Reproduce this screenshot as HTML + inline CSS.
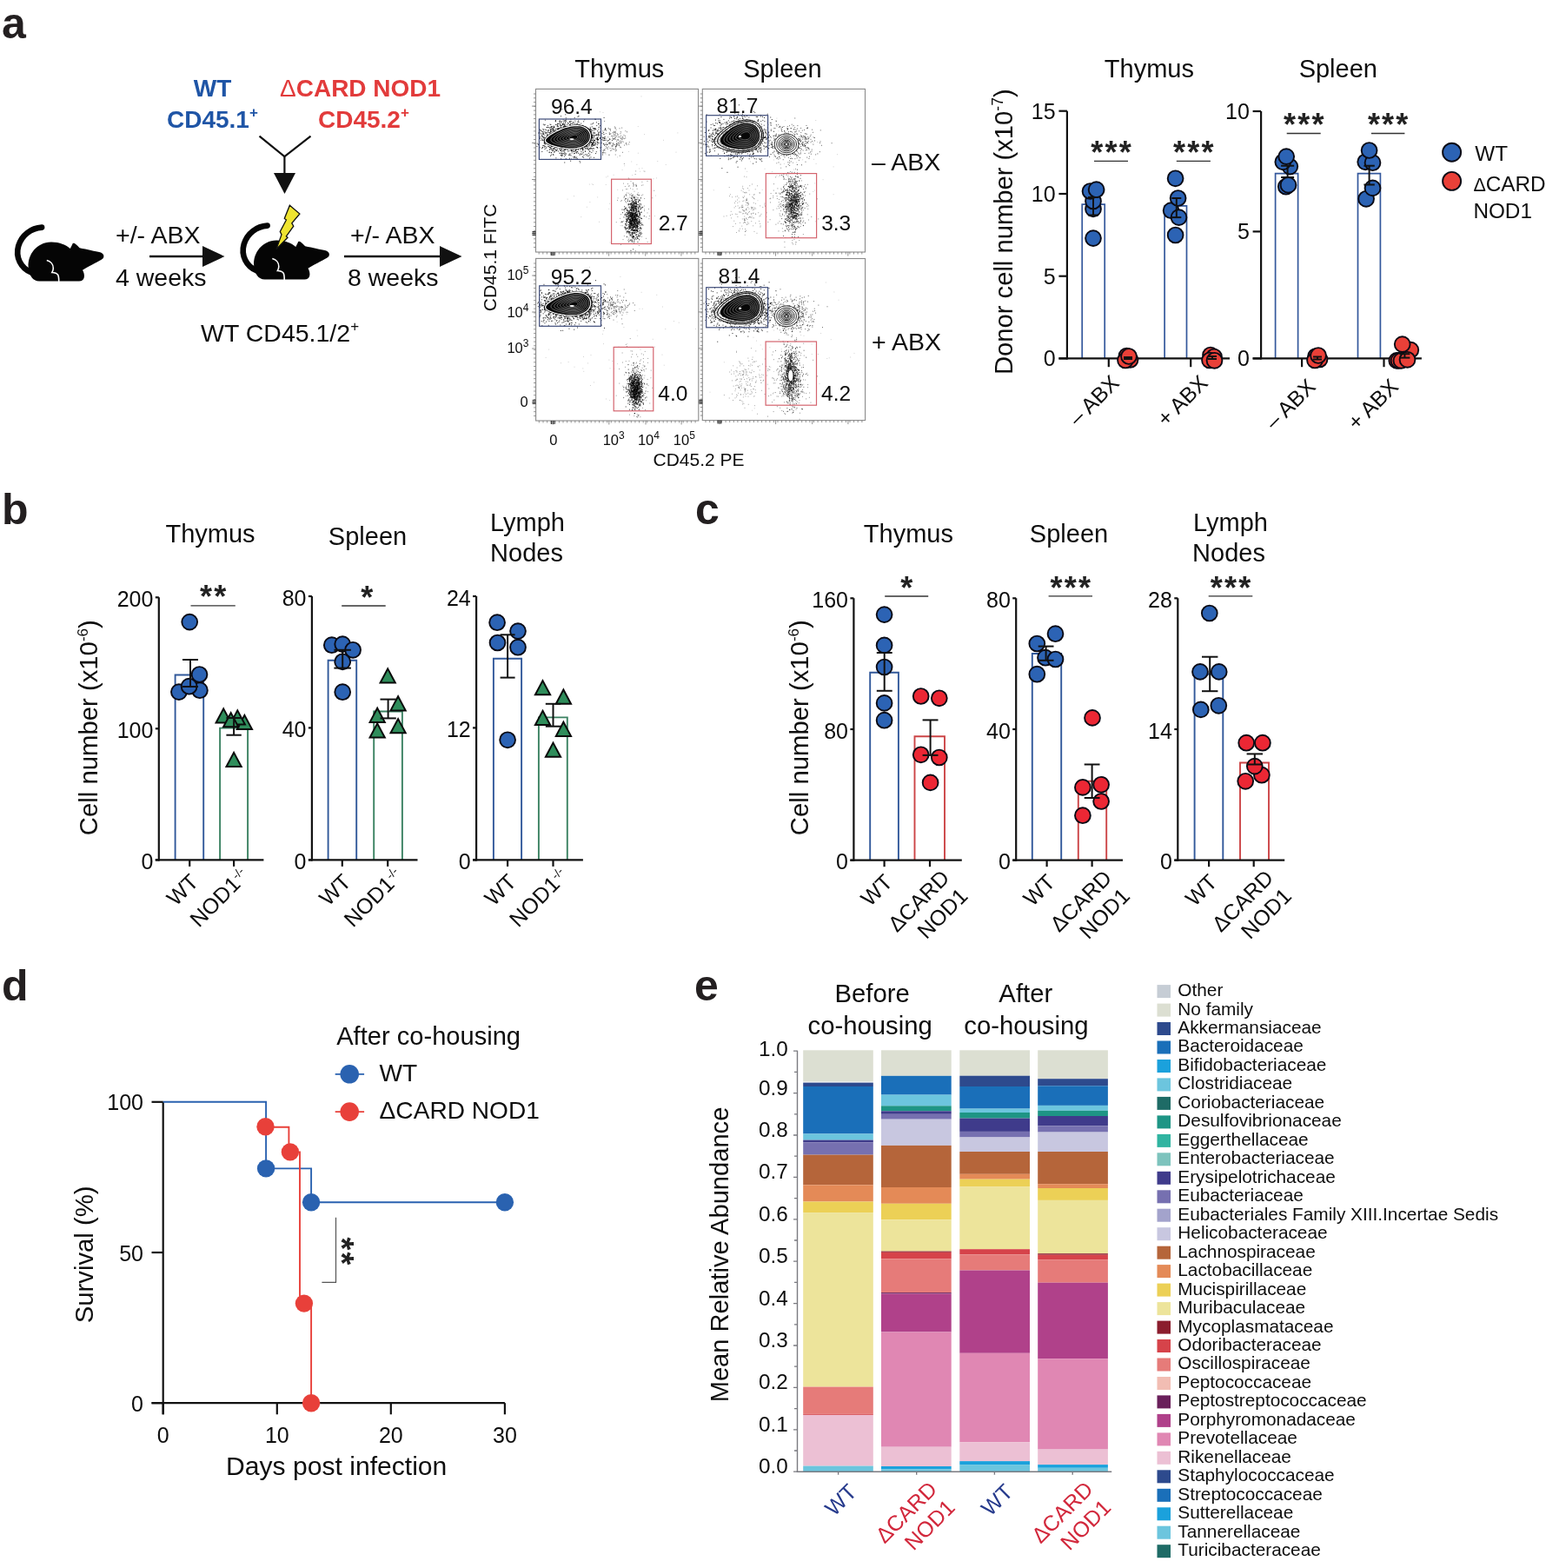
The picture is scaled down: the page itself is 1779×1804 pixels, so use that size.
<!DOCTYPE html>
<html><head><meta charset="utf-8"><title>Figure</title>
<style>
html,body{margin:0;padding:0;background:#fff;}
svg{display:block;}
text{font-family:'Liberation Sans', Arial, Helvetica, sans-serif;}
</style></head>
<body>
<svg width="1779" height="1804" viewBox="0 0 1779 1804">
<rect width="1779" height="1804" fill="#fff"/>
<g fill="#0d0d0d">
<text x="2" y="43.5" font-size="50" font-weight="bold" fill="#231f20">a</text>
<text x="244.5" y="111" font-size="28" text-anchor="middle" font-weight="bold" fill="#1f55a6">WT</text>
<text x="192" y="146.5" font-size="28" font-weight="bold" fill="#1f55a6">CD45.1<tspan font-size="17" dy="-12">+</tspan></text>
<text x="322" y="111" font-size="28" font-weight="bold" fill="#e23b3b"><tspan font-weight="normal">&#916;</tspan>CARD NOD1</text>
<text x="366" y="146.5" font-size="28" font-weight="bold" fill="#e23b3b">CD45.2<tspan font-size="17" dy="-12">+</tspan></text>
<polyline points="298.5,156.6 327.4,180.2 357.5,156.6" fill="none" stroke="#111" stroke-width="2.2"/>
<line x1="327.4" y1="179.5" x2="327.4" y2="202" stroke="#111" stroke-width="2.2"/>
<polygon points="315,199 340,199 327.5,223" fill="#111"/>
<g transform="translate(0 0)"><path d="M48.1,261.6 C36,262.5 25,270 21.2,283 C17.5,296 24,308.5 36,313.5" fill="none" stroke="#050505" stroke-width="6.6" stroke-linecap="round"/><path d="M32.6,307 C32,293 42,279 58.6,278.6 C68,278.4 76,282 80.8,285.9 L83.2,281.2 C83.6,279.6 85.2,279.4 86.6,280.4 C88.5,281.8 90,283.6 91.6,285.2 C100,287 110,289 115.2,290.3 C119,291.5 120.5,294.5 118.6,297.3 C114,301 105,304.5 95,310.8 C96.5,313 97.5,317 96.7,319.6 C96,322.5 94,323.6 91,323.6 L45,323.6 C38,323.4 33.2,317 32.6,307 Z" fill="#050505"/><path d="M53.8,299.4 C58,300.5 61.5,304 61.3,308.8 C61.2,311 60.5,312.5 59.9,313.5 C62,313.6 65,314 66.5,316 C67.8,318 67.7,321 67.7,324" fill="none" stroke="#fff" stroke-width="1.6"/></g>
<g transform="translate(259.5 -2)"><path d="M48.1,261.6 C36,262.5 25,270 21.2,283 C17.5,296 24,308.5 36,313.5" fill="none" stroke="#050505" stroke-width="6.6" stroke-linecap="round"/><path d="M32.6,307 C32,293 42,279 58.6,278.6 C68,278.4 76,282 80.8,285.9 L83.2,281.2 C83.6,279.6 85.2,279.4 86.6,280.4 C88.5,281.8 90,283.6 91.6,285.2 C100,287 110,289 115.2,290.3 C119,291.5 120.5,294.5 118.6,297.3 C114,301 105,304.5 95,310.8 C96.5,313 97.5,317 96.7,319.6 C96,322.5 94,323.6 91,323.6 L45,323.6 C38,323.4 33.2,317 32.6,307 Z" fill="#050505"/><path d="M53.8,299.4 C58,300.5 61.5,304 61.3,308.8 C61.2,311 60.5,312.5 59.9,313.5 C62,313.6 65,314 66.5,316 C67.8,318 67.7,321 67.7,324" fill="none" stroke="#fff" stroke-width="1.6"/></g>
<path d="M333.4,236.2 L344.9,246 L335.8,256.8 L337.8,260.1 L329.4,272 L331,273.3 L317.9,286.8 L324,269.9 L322.3,266.5 L329.4,253 L327.3,251.4 Z" fill="#efe431" stroke="#111" stroke-width="1.3" stroke-linejoin="miter"/>
<line x1="172" y1="295" x2="236" y2="295" stroke="#111" stroke-width="2.4"/>
<polygon points="233,283 258.5,295 233,307" fill="#111"/>
<line x1="396" y1="295" x2="509" y2="295" stroke="#111" stroke-width="2.4"/>
<polygon points="506,283 531.5,295 506,307" fill="#111"/>
<text x="133" y="280" font-size="28.5">+/- ABX</text>
<text x="133" y="328.5" font-size="28.5">4 weeks</text>
<text x="403" y="280" font-size="28.5">+/- ABX</text>
<text x="400" y="328.5" font-size="28.5">8 weeks</text>
<text x="231" y="392.5" font-size="28.5">WT CD45.1/2<tspan font-size="17" dy="-12">+</tspan></text>
<rect x="616.5" y="102.4" width="187" height="187.6" fill="none" stroke="#8a8a8a" stroke-width="1.1"/>
<path d="M616.5 122.1h-4.5M616.5 164.3h-4.5M616.5 206.5h-4.5M616.5 268.8h-4.5M616.5 108h-2.5M616.5 112.8h-2.5M616.5 117.6h-2.5M616.5 122.3h-2.5M616.5 127.1h-2.5M616.5 131.9h-2.5M616.5 136.6h-2.5M616.5 141.4h-2.5M616.5 146.2h-2.5M616.5 150.9h-2.5M616.5 155.7h-2.5M616.5 160.5h-2.5M616.5 165.2h-2.5M616.5 170h-2.5M616.5 174.8h-2.5M616.5 179.5h-2.5M616.5 184.3h-2.5M616.5 189.1h-2.5M616.5 193.8h-2.5M616.5 198.6h-2.5M616.5 203.3h-2.5M616.5 208.1h-2.5M616.5 212.9h-2.5M616.5 217.6h-2.5M616.5 222.4h-2.5M616.5 227.2h-2.5M616.5 231.9h-2.5M616.5 236.7h-2.5M616.5 241.5h-2.5M616.5 246.2h-2.5M616.5 251h-2.5M616.5 255.8h-2.5M616.5 260.5h-2.5M616.5 265.3h-2.5M616.5 270.1h-2.5M616.5 274.8h-2.5M616.5 279.6h-2.5M616.5 284.4h-2.5M636.1 290v4.5M700.6 290v4.5M742.7 290v4.5M783.9 290v4.5M620.2 290v2.5M624.8 290v2.5M629.4 290v2.5M634 290v2.5M638.7 290v2.5M643.3 290v2.5M647.9 290v2.5M652.5 290v2.5M657.1 290v2.5M661.7 290v2.5M666.3 290v2.5M670.9 290v2.5M675.5 290v2.5M680.1 290v2.5M684.7 290v2.5M689.3 290v2.5M693.9 290v2.5M698.5 290v2.5M703.1 290v2.5M707.7 290v2.5M712.3 290v2.5M716.9 290v2.5M721.5 290v2.5M726.1 290v2.5M730.7 290v2.5M735.3 290v2.5M739.9 290v2.5M744.5 290v2.5M749.1 290v2.5M753.7 290v2.5M758.3 290v2.5M762.9 290v2.5M767.5 290v2.5M772.1 290v2.5M776.7 290v2.5M781.3 290v2.5M786 290v2.5M790.6 290v2.5M795.2 290v2.5M799.8 290v2.5" stroke="#777" stroke-width="0.8" fill="none"/>
<path d="M616.5 268.4h-4M616.5 266.6h-4M616.5 270.3h-4" stroke="#333" stroke-width="1.2"/>
<path d="M636.1 290v4M638 290v4M634.3 290v4" stroke="#333" stroke-width="1.2"/>
<path d="M658 163.7h0.9m-6.2-10.1h0.9m-4.3-0.8h0.9m8.9 19.8h0.9m-11.4-16.7h0.9m17.8 8.3h0.9m-8.2-10.9h0.9m-3.5 13.8h0.9m-25.9-9.8h0.9m-11.5-7.1h0.9m0.3 9h0.9m10 4.3h0.9m26.1-3.9h0.9m-4.8 2.6h0.9m-29-5.1h0.9m9.6-2.8h0.9m37.8 0h0.9m-21.7 14.4h0.9m-11.3-8.4h0.9m12.2 1.4h0.9m-26.2 0.1h0.9m48.2-13.8h0.9m-10.4 14.2h0.9m-29.4 16h0.9m25.7-27.2h0.9m-13.9 15.1h0.9m-5.9 0.9h0.9m1.4-0.1h0.9m27.7-11.4h0.9m-24.4 1.8h0.9m-2.3-6.2h0.9m-14.4 8.4h0.9m27.2 11.4h0.9m-43.1-16.5h0.9m36.5-10.1h0.9m-22 16.1h0.9m31.8 6.7h0.9m-31-9h0.9m0.6 16h0.9m-4.3-15.5h0.9m13.9 1.6h0.9m-11.3-8.5h0.9m2.6 5.7h0.9m21.5 9.4h0.9m-23.5 0.1h0.9m-6.9 3.2h0.9m5.4-3.9h0.9m-25.3-2.1h0.9m-8.4-20.2h0.9m25.4 9.7h0.9m8 26.7h0.9m-19.9-24.4h0.9m18.9 9.5h0.9m-8.2-6h0.9m15.8 6.2h0.9m-33.9-5.1h0.9m19.4-8.3h0.9m3.4 1.7h0.9m12.6 8.9h0.9m-17.7-6.6h0.9m-4.8-12h0.9m-20.1 20.1h0.9m-19.9 4.1h0.9m6.4-0.8h0.9m16.2 0.2h0.9m17.6-19.7h0.9m20.4 25.4h0.9m-25.9-14.6h0.9m-2.7-6h0.9m23 3.7h0.9m-22.7-2.1h0.9m-11.8-4.2h0.9m34.8 9.6h0.9m-6.4 1.4h0.9m-32.4-2.9h0.9m1.6 2.9h0.9m2.6-2.6h0.9m-19.9-4.4h0.9m56.7 1.2h0.9m-52.4 8.6h0.9m45.9-15.3h0.9m-31.6 7h0.9m-30.4 11.6h0.9m32.1-5.6h0.9m-14.7 3.3h0.9m3.1-5.1h0.9m-11.7-9.1h0.9m45.5 6h0.9m-20.7 4h0.9m-14.8-4h0.9m19.4 1.7h0.9m-15.7 2.8h0.9m24.3 5.6h0.9m-16-10.6h0.9m-34.4 12.9h0.9m43.7-9.3h0.9m-9 7.8h0.9m4.6 1.2h0.9m-25.3 5.1h0.9m-15.9-5.6h0.9m32.1 0.1h0.9m25.5 5.2h0.9m-58.4-27h0.9m36.4 5.8h0.9m-16.7 15.7h0.9m-31.9-25h0.9m35.3 18.3h0.9m-10.5-0.1h0.9m-12.6-13.2h0.9m12.3 4.6h0.9m-29 12.6h0.9m29.2-0.8h0.9m-18.5-9.1h0.9m-1.1-1.9h0.9m21.8 0.8h0.9m2.1 9.6h0.9m30.8-14.7h0.9m-22.5 11h0.9m-18-11.5h0.9m-9.4 18.6h0.9m6.3-5.6h0.9m-4.9 9.1h0.9m4.2-28.5h0.9m-13.6 2h0.9m37.6 17.1h0.9m-48.5-8.4h0.9m42.8 9.3h0.9m-21.4-1.8h0.9m-1.1 7.3h0.9m8.8-5h0.9m-31.2 2.5h0.9m5.9 5h0.9m-12-10.5h0.9m23.1-10.1h0.9m32 23.7h0.9m-42.5-5.8h0.9m15.1-28.8h0.9m-3.3 21.7h0.9m-4.1-8.7h0.9m-7.6 7.7h0.9m26.8 4.3h0.9m-23.6 10.2h0.9m-11.3-16.3h0.9m-24.9 16.6h0.9m52-5.5h0.9m-6.5-6.9h0.9m-9.6-3h0.9m-8.8 2.6h0.9m31.7 4.2h0.9m-30.8-9.6h0.9m-11.8 18.5h0.9m20.8-13h0.9m-17.1-10h0.9m4.4 16.8h0.9m-7.1-9.3h0.9m2.4 2.8h0.9m-27-2.9h0.9m13.1 9.5h0.9m0.7-2.6h0.9m42.7-7.6h0.9m-41.3 4.3h0.9m10.5-10h0.9m7.9 25.5h0.9m-14.6-18.8h0.9m-15.8 4.4h0.9m-4.7-12.1h0.9m47.1 1.7h0.9m-4.7 20.7h0.9m-16.5-8.3h0.9m31.2-6.4h0.9m-49.2-9.8h0.9m11.1 24.1h0.9m16.6-20.6h0.9m-35.4 3.7h0.9m20.9 2.6h0.9m-2.4 4.2h0.9m-10.6-2.8h0.9m8.7-0.4h0.9m4.7 16.6h0.9m0.8-15.4h0.9m-44.2 2.8h0.9m-5.8-15.3h0.9m52.3 18h0.9m-20-20.5h0.9m-5.1 8.7h0.9m18.2 25h0.9m-8.8-25.8h0.9m-27.3 6.1h0.9m18-9.3h0.9m4.7 0h0.9m18 18.8h0.9m-1.4-13h0.9m-11.8 2.9h0.9m-18-1.8h0.9m-18.2-9.4h0.9m38.8 10.7h0.9m-11.8 10.1h0.9m-38-15.2h0.9m35.4 10h0.9m-11.4 5.4h0.9m10.2-19h0.9m-22.5 17.1h0.9m25.6-22.9h0.9m15.9 21.2h0.9m-1-8.4h0.9m-32.1-6.3h0.9m53 8.1h0.9m-19-4h0.9m-27.9-8.7h0.9m-11.3 22.6h0.9m-17.4 0.7h0.9m29.3-18h0.9m-16.9 5h0.9m7.7-0.7h0.9m-15.7 2h0.9m-4.7-8.4h0.9m17.7 18.5h0.9m-29-7.5h0.9m15.8-8.3h0.9m27.7 3.9h0.9m11.3-2.2h0.9m-22 4.7h0.9m-22.6 6.9h0.9m10.5 0.1h0.9m1.2-14.3h0.9m-2 9.6h0.9m19.3-8.1h0.9m-19.9-6.9h0.9m12.2 5.4h0.9m-47.6 8.7h0.9m54.5-12.5h0.9m-42.6 6.7h0.9m-1.7 9.5h0.9m5.2-9.3h0.9m25.5-0.3h0.9m-3.7-1.9h0.9m-32.2-7.3h0.9m57.5 12.9h0.9m-31.6 2.4h0.9m-2.5 0.7h0.9m32.3-9.2h0.9m-66.7 0.2h0.9m3.3 14.9h0.9m40-14.5h0.9m-42.9 5.2h0.9m52-21h0.9m-17.3 14.9h0.9m8.8-0.1h0.9m-26.1-3.6h0.9m-14 24.6h0.9m33.2-15.2h0.9m-33-12.7h0.9m8.2 15.8h0.9m5-0.5h0.9m-20.7 0.2h0.9m19.7 11.6h0.9m35.3-12.2h0.9m-50.9 0.6h0.9m2.1-5.7h0.9m9.5-2.6h0.9m11.8 8h0.9m-7.7-0.7h0.9m-19.5-6.5h0.9m8.4 3.4h0.9m8.1 4.7h0.9m-31.2 0.6h0.9m-0.6-5.8h0.9m19.1-12.4h0.9m6.4 18.9h0.9m-5.7-4.9h0.9m-4.9-4.7h0.9m1 3.6h0.9m6-5.5h0.9m1.8 11.4h0.9m-8-4.9h0.9m12.2-10.4h0.9m-2.6 16.2h0.9m-4.3 1.2h0.9m-18.7-5.5h0.9m23.7 5.9h0.9m-9.1-16.6h0.9m5.4 22.8h0.9m8-7.9h0.9m-49.6 6h0.9m25.9-29.5h0.9m9 8.8h0.9m-32.7 7.3h0.9m47.9 2.2h0.9m-19.9 18.1h0.9m24.2-15.8h0.9m-35.7-9.8h0.9m-9.5 14.3h0.9m19.8-2.7h0.9m10.5-7.5h0.9m-20.9 12.8h0.9m11.2 2.9h0.9m-4.4-11.7h0.9m-1.6-5.9h0.9m-38.9 13.4h0.9m29.2-2.3h0.9m-32.1-5.7h0.9m20-4.2h0.9m27.5 10.5h0.9m-29.4-3.3h0.9m24.9-23.4h0.9m-17.6 28.1h0.9m14.4 9.9h0.9m7.7-11.8h0.9m-16.7 4h0.9m-16.9-7h0.9m26.6 16.9h0.9m-21.2-17h0.9m5.9 11.8h0.9m-5.2 1.1h0.9m-18.7-14.1h0.9m13.7 8.3h0.9m22.7-19.5h0.9m-38.1 15.7h0.9m3.9-15.8h0.9m31.4 17.1h0.9m-11.3-8.2h0.9m9.3 2h0.9m0.4-5.7h0.9m-38 9.4h0.9m2 4h0.9m17.4-13.5h0.9m-4.5 4.8h0.9m15.2-2.4h0.9m-26.7 15.7h0.9m50 6.7h0.9m-42.2-15.1h0.9m27-3h0.9m-48.6 2.1h0.9m26.2-8h0.9m-40.7-5.2h0.9m43 5.8h0.9m-16.2 8.2h0.9m13.5-4.6h0.9m-3.2-4.8h0.9m-17.2-1.1h0.9m27.5 8.5h0.9m-36.5-2.8h0.9m8.9 9h0.9m-27-14.8h0.9m22.3 30.3h0.9m24.4-22.4h0.9m-5.5 18.4h0.9m-18.9-20.6h0.9m26.6 7.3h0.9m-11.2-8.5h0.9m22.9 18.8h0.9m-26.7-8.7h0.9m-50.2-0.4h0.9m34-1.7h0.9m15.7-6.6h0.9m-46 6h0.9m17.2-5.9h0.9m1.7-0.1h0.9m15.4 12.3h0.9m31.9-9.2h0.9m-72.8-7.8h0.9m10.4 3.3h0.9m23.6-12.7h0.9m4.1 4.2h0.9m-1.8 11.9h0.9m-12.5 0.3h0.9m-5.2-4.6h0.9m-22.6 4.9h0.9m66.1 17.1h0.9m-10.8-10.8h0.9m-38.9 6.3h0.9m10.9-12.9h0.9m-5.4 1.4h0.9m-3.6-1.5h0.9m-13.3-2.5h0.9m63.1 2.6h0.9m-48.8 5.1h0.9m17.1-14h0.9m-18.3 17.3h0.9m8.2-6.8h0.9m23.5-6.8h0.9m-28.9 1.4h0.9m25.9-12.2h0.9m-42 12.1h0.9m24.5 9.7h0.9m13-18.6h0.9m-13.2 10.9h0.9m-27.8 7.1h0.9m-5.7-22.3h0.9m9.5 5h0.9m-6.2 15.9h0.9m17.4 10.3h0.9m-10.6-26.5h0.9m-11.5 5.2h0.9m-9.7 11.5h0.9m10-20.5h0.9m24.6 15.9h0.9m-7.4 1.8h0.9m4.4-0.6h0.9m10.5 3.3h0.9m-16.9-0.1h0.9m-36-4.9h0.9m21.8 3.2h0.9m-21.8 12.1h0.9m26.9-24.2h0.9m-35.3 7.9h0.9m29.8-3.7h0.9m2.6 0.7h0.9m7.8-0.8h0.9m-12.1 14.5h0.9m48.7-16.9h0.9m-58.6 1.5h0.9m22.9-2.7h0.9m-25.1 9.5h0.9m-10.2-7.8h0.9m8.6-9.8h0.9m-19.3 14.4h0.9m29.4 1.9h0.9m-37.5-2.3h0.9m48 8.6h0.9m-17.5-12.2h0.9m12.5 2.6h0.9m-35.1-1.9h0.9m48.9 8.7h0.9m-6.4-6h0.9m-5.1-1h0.9m-21.7 26.2h0.9m16.6-25.4h0.9m-17.1 7.1h0.9m23.7-7h0.9m-56.9 1.8h0.9m32.4 3.3h0.9m23.9 1.8h0.9m-10.5-12.1h0.9m0.1 27.2h0.9m-2.7-15.6h0.9m-12.6 13h0.9m-21.5-16.1h0.9m25.5 7.2h0.9m-18-3.7h0.9m2.2-1.6h0.9m1.8-10.7h0.9m1.2 17.2h0.9m-18.8-9.5h0.9m30.1-7.1h0.9m-10.1 0.1h0.9m17.2 28.7h0.9m16-21.6h0.9m-25.3 2.9h0.9m-13 12.2h0.9m-27.9-4.2h0.9m23.2 3h0.9m3.6-17.7h0.9m0.8 12h0.9m-5.5-2.2h0.9m-11.5-22.2h0.9m26.2 24h0.9m-15.2-5.3h0.9m15.9-4.5h0.9m-34 2.3h0.9m35.1-10.2h0.9m-0.8 6.4h0.9m-44.5 16.1h0.9m18.2-21.8h0.9m-5.9 19h0.9m28.6-11.5h0.9m-15.8 9.7h0.9m-20.9-3.1h0.9m10.7-7.6h0.9m-9.6 5.2h0.9m9-5.4h0.9m-9.5 14.3h0.9m11.2-2h0.9m17.9-2.5h0.9m19.4-12h0.9m-28.7 4.3h0.9m19 17.2h0.9m-73.3-22.7h0.9m48.9 14.9h0.9m0.4-7.3h0.9m-6.2 6.2h0.9m-11 3.1h0.9m-19.1-0.6h0.9m14.4-15.7h0.9m10.6-0.1h0.9m-25.4-5.6h0.9m15.9 17.5h0.9m19.1-5.4h0.9m-0.4 1.4h0.9m-22.6 4.7h0.9m21-7.8h0.9m-25.7 1.5h0.9m5.3-6.3h0.9m17.1 4.3h0.9m-11.7-3.6h0.9m-2.8 10.3h0.9m-15.7 13.9h0.9m14.1-2.1h0.9m10.3-20.7h0.9m-26.4 9.3h0.9m7.5-3.3h0.9m-7.5-15.8h0.9m0.3-3.5h0.9m10.4 12.7h0.9m-21.5 4.3h0.9m17.8-10.3h0.9m-39.3 3.1h0.9m-6.4 0.9h0.9m68.1-0.8h0.9m-18.8-2.7h0.9m-7.6 9h0.9m-7.7 7.5h0.9m33.6-3.1h0.9m-31.9-10h0.9m7.8 6.2h0.9m3.9 1.7h0.9m16.3-16.5h0.9m-39.6 24.4h0.9m-1.9-14.2h0.9m0.7-5h0.9m6.4 32.4h0.9m18.6-30.1h0.9m-39.2 6h0.9m34.7-3.6h0.9m-33.1 14.5h0.9m28.7-10.7h0.9m-38.6-10h0.9m7.1-5.8h0.9m26.6 13.6h0.9m-6 21.3h0.9m12.2-25.7h0.9m-6.6 19.6h0.9m-31.6-17.9h0.9m11.2-5.5h0.9m29.1-6.8h0.9m-49.9 18.1h0.9m15.8 3.7h0.9m8.6-3.2h0.9m15.6-16.4h0.9m-22.6 12.1h0.9m1.7 8h0.9m-20.8-7.3h0.9m31.5 8.4h0.9m-28.9 14.3h0.9m55.9-29.7h0.9m-39 33.7h0.9m8.2-19.4h0.9m-19.7-6.5h0.9m-1-0.1h0.9m17.3 1.3h0.9m-23.4-6.8h0.9m6.5 2.6h0.9m-3.4 16.5h0.9m9.5-4.6h0.9m-1.1-3.8h0.9m-10.1-3.1h0.9m16-6.6h0.9m10.1 9.5h0.9m-40.6-4.5h0.9m0.5 5.6h0.9m-1.7 8.3h0.9m-2.1-29h0.9m0.1 2.2h0.9m12.2 26.1h0.9m12.2-20.4h0.9m-27.7 26.5h0.9m19.6-15.1h0.9m13.1 20.8h0.9m3.7-19.6h0.9m-18.8 4h0.9m-19.3-14.2h0.9m11.7 0.9h0.9m-3 8.9h0.9m44.7-8h0.9m-47.7 5.8h0.9m9.8 10.3h0.9m-18.6-15.9h0.9m-22.7-0.9h0.9m40.4 8.3h0.9m-30.3-3.6h0.9m18.9 7.5h0.9m-12.7-6.4h0.9m-24.2-7.7h0.9m64.4-8.8h0.9m-38.1 20.5h0.9m-1.6-8.8h0.9m5.1 6.9h0.9m-1.3-16h0.9m-2.2 8.7h0.9m-8.5 9.2h0.9m21.7 5.7h0.9m-22.5 0.3h0.9m30.9 1.8h0.9m3.2-10.9h0.9m-30.7 8.2h0.9m-23.5-5.2h0.9m15-4.9h0.9m-23.9-4.5h0.9m31.8 15.2h0.9m18.3-8.3h0.9m-23.3-6.4h0.9m10.3 5h0.9m3 17h0.9m-13.1-27.6h0.9m-16.6 0.3h0.9m-7.3 23.5h0.9m26.2-24h0.9m7.2 23.6h0.9m-20.2-16.4h0.9m-0.5 8.1h0.9m17.7 7.6h0.9m10 0.1h0.9m1.9-4.5h0.9m-55.8-6.7h0.9m34.1-2.2h0.9m10.5 0.2h0.9m-35.8 15.4h0.9m29.3-10.4h0.9m4.1 7.1h0.9m-12.1-29.9h0.9m-20.2 17h0.9m-6.7 5.6h0.9m40.4-5.8h0.9m-45.1 21.3h0.9m12.1-27.7h0.9m12.2 14.1h0.9m-18.8 3.1h0.9m3.2-14.5h0.9m11.7 14.4h0.9m-16.3-3.8h0.9m9.4 21.2h0.9m-12.6-12.2h0.9m11.6-12.9h0.9m13.8 8.7h0.9m9.4-4.8h0.9m-36.4-7.4h0.9m20.2 9.5h0.9m16-1.3h0.9m-7.3 9.3h0.9m-17.9-25.5h0.9m-26.5 0.4h0.9m51.8 5h0.9m-7.7 12.2h0.9m8.2 3.5h0.9m-35.4-10.2h0.9m2.7 3.2h0.9m-12.6-1.8h0.9m39.7-14.2h0.9m-26.5 6.8h0.9m-2.3 14.8h0.9m-5.5-0.5h0.9m-30.1 2.8h0.9m17.9-4.1h0.9m14-27.3h0.9m-18.7 23.9h0.9m43 0.5h0.9m-25.6-14.4h0.9m21.4 27.4h0.9m-27.5-17.3h0.9m-32.2 9.4h0.9m81.2-1.4h0.9m-28.2-1.5h0.9m-43.7 6.8h0.9m-5.6-13.2h0.9m27.8 9.3h0.9m1.8-4.2h0.9m-23.3-14.3h0.9m14.7 5h0.9m-26.9-4.8h0.9m14.6-4.9h0.9m-17.2 1.8h0.9m28.2 17.4h0.9m33.8-16.2h0.9m-52 20.5h0.9m7.9-10.6h0.9m35.7-0.1h0.9m-55.3-8.3h0.9m27.4 13.8h0.9m-33.3-11h0.9m35.3 13.3h0.9m-23.3 0.4h0.9m22.2-20.5h0.9m-17.7 18.7h0.9m-5.8-21.7h0.9m4.6 24.6h0.9m34.5-25h0.9m18.7 9h0.9m-32.4 20.1h0.9m-0.4-9.2h0.9m-41.6 4h0.9m7.6-26.7h0.9m66.4 27.4h0.9m-20.1-13.7h0.9m-7.6 21.2h0.9m0.8-13.7h0.9m-53.3-1.3h0.9m23.7-6.9h0.9m-5.8 7.5h0.9m38.9 11.9h0.9m-38.4-0.7h0.9" stroke="#000" stroke-width="0.9" fill="none"/>
<path d="M643.1 155.7h0.9m24.9-8.2h0.9m-19.1-0.7h0.9m5.2 26.6h0.9m-14.2-12.7h0.9m-3.1-12.3h0.9m-6.1 23.4h0.9m54-8.8h0.9m-47.8 2h0.9m4.9 0.9h0.9m8.6-4.7h0.9m3.9-7.7h0.9m-16.3-10.3h0.9m-1.5 2.7h0.9m3.7 4.2h0.9m2.8 12.7h0.9m-24.1-11.4h0.9m6.4 14h0.9m39.5 1h0.9m-32.3 5.5h0.9m-18.6 0.3h0.9m12.2-38.5h0.9m49.5 39.2h0.9m-57.1-12.7h0.9m11.6-0.6h0.9m-20.2-7h0.9m28.8 8.1h0.9m10.3-1.3h0.9m16.6-7.1h0.9m-32.8-10.8h0.9m-23.9 29.1h0.9m3.8-7.1h0.9m12.5-14.2h0.9m-5.2 4.8h0.9m-3.1 11.4h0.9m16.5-12h0.9m-24.7 7.7h0.9m11.4 6.7h0.9m41.2-1.6h0.9m-42-9.1h0.9m-13.4-6.7h0.9m-3.1 4.6h0.9m7.9 10.3h0.9m-0.5-8.5h0.9m-13.4 16.6h0.9m25.4 1.3h0.9m3.5-2.7h0.9m-16.8-7h0.9m44.1-17.4h0.9m-24.2 26.3h0.9m-12.4-8.4h0.9m12.2-12.9h0.9m-14.1-2h0.9m-17.8 2.3h0.9m7.4 7h0.9m8.4-14.3h0.9m23 23.6h0.9m-20.5-13.9h0.9m-13.6 8.3h0.9m6.9-20.5h0.9m4.3 42.4h0.9m-41.4-17.7h0.9m33.7-10.2h0.9m14.8-9.9h0.9m-19.8 24.4h0.9m-6.5-17.4h0.9m4-0.2h0.9m21.5-4.3h0.9m-11.4-3.2h0.9m-4.1 10.6h0.9m-28.2-3.1h0.9m40-6.2h0.9m-41.6 23.6h0.9m17.5 0.9h0.9m2.3-22.4h0.9m-7 19.6h0.9m14.9-11.4h0.9m-14.9-1h0.9m-10.7 18.9h0.9m8.3-28.4h0.9m-8.5 17.2h0.9m16.6-8h0.9m-21.4 1.5h0.9m-16.7-12.2h0.9m37.9 7.6h0.9m-7.5 15.7h0.9m3.4-11.1h0.9m22.2 6h0.9m-39.8 0.6h0.9m11.1-14.7h0.9m-6.2 6.4h0.9m-32.9-0.1h0.9m25.5-2.5h0.9m-22.2 0.8h0.9m24.3 4.2h0.9m-18.1 4.9h0.9m-2.2-7.9h0.9m38.6-4.3h0.9m-29.3 16.3h0.9m1.1-12.6h0.9m8.5 12.4h0.9m-38.9-17.4h0.9m17.9-2.3h0.9m1.5 2.3h0.9m17.2-0.5h0.9m-3.7 11.9h0.9m-14.2-2.5h0.9m36.1 1.8h0.9m-36.5-3.6h0.9m-5.2 3.1h0.9m26.8-10h0.9m-17.6 17.7h0.9m-5.4-8.5h0.9m-9.1-9.2h0.9m7.1 27.1h0.9m0.8-24.4h0.9m-3.2 3.3h0.9m17.7 3.2h0.9m20.5 0.2h0.9m-10.3 0.6h0.9m-13.7-15.5h0.9m-12.1 12.4h0.9m-2.6-18.8h0.9m16.2 15.9h0.9m-21 1.2h0.9m2.3 6h0.9m-16.8-12.1h0.9m22.9 9.7h0.9m-11.1-6.5h0.9m-7.8 4.7h0.9m29.8-9h0.9m4.3 17.1h0.9m-31-0.6h0.9m-16.4-22.6h0.9m1.8 11.9h0.9m13.8-0.9h0.9m5.6-14.6h0.9m5.1 6.4h0.9m-18.5 9.1h0.9m-8.5-8.6h0.9m1.4 12.2h0.9m23.5 5.2h0.9m-25.1-12.2h0.9m0.2 11.1h0.9m-17.9 7.1h0.9m22.8-18.1h0.9m11.7 16.3h0.9m-0.9 0.2h0.9m-4.1 1.6h0.9m16.1-12h0.9m2 2.4h0.9m-21.5-9.8h0.9m-6.6 15.3h0.9m-16.5-1.2h0.9m24.4-3.3h0.9m-39.9-3.4h0.9m42.7-6h0.9m-9.4-14.5h0.9m7.9 15.4h0.9m2.2-10.6h0.9m-3.7 14.5h0.9m0.9-6.2h0.9m-22.7 28.5h0.9m-4.1-26.5h0.9m7.6-2.9h0.9m21.4 24.7h0.9m-29.8-31h0.9m27.7 25.5h0.9m-6.2 0.4h0.9m-26.7-11.9h0.9m-8.7-11.2h0.9m35.1 6.7h0.9m18.9 6.7h0.9m-45.4 6.5h0.9m36.3-2.8h0.9m-46.9-1.1h0.9m38.7-7.7h0.9m-33.7 13.5h0.9m13-19h0.9m-8.8 3.1h0.9m9.4 7.8h0.9m12.1 5.4h0.9m-42.3-2.7h0.9m36.7 0.4h0.9m1.1-9h0.9m-31.1 13.3h0.9m-2.7-27.8h0.9m31 12.9h0.9m-21.2-6.1h0.9m-16.4 2.2h0.9m13.8 13.7h0.9m-30.5 3.5h0.9m16.1-16.4h0.9m27.5 8.9h0.9m-34.7 17.3h0.9m9.5-14.4h0.9m15.2 10.5h0.9m-10.9-3.6h0.9m-5.2 1h0.9m-1.3-13.4h0.9m39.7 6.1h0.9m-28.2 17.4h0.9m3-27.5h0.9m4.8-3.3h0.9m5.1 21.4h0.9m-26.9-16.4h0.9m10.6 5.7h0.9m-18.5 5h0.9m-17.2-9h0.9m24.1 1.4h0.9m10-8.5h0.9m3.3 9.4h0.9m-19.7-10.7h0.9m-9.1 15.5h0.9m2.5-2.6h0.9m30 8.7h0.9m6.7-12h0.9m-41.3 11.9h0.9m20.4 0.9h0.9m-5.5 0.6h0.9m11.9-4.3h0.9m-6.1-2.8h0.9m-5.1-1.6h0.9m10.7-6.6h0.9m10.4 3.6h0.9m-12.3 0.2h0.9m-19.7 19.1h0.9m-1.8-29.8h0.9m-7.1 8.6h0.9m42.8 4.8h0.9m-19.5-10.9h0.9m-9.7 15h0.9m21.1-12.3h0.9m-19.1 9h0.9m-25.7-2.9h0.9m10.7-20.7h0.9m12.2 25.8h0.9m-16.7-16.9h0.9m28.3 14.4h0.9m-7.9 10.3h0.9m-24.4-5.4h0.9m3.4-7.9h0.9m1.5 0.6h0.9m17.4 1.1h0.9m-20.3-3.6h0.9m6.7-5.5h0.9m-13.8 7.5h0.9m-1.9-0.6h0.9m-1.5 19.1h0.9m28.6-14h0.9m-21.9 15.7h0.9m4.8-20.5h0.9m-1.2 3.6h0.9m16-3h0.9m9.6-7.7h0.9m-22.3-1.1h0.9m16.2 6h0.9m-29.5 11.3h0.9m19.1-18.3h0.9m-25.3-2.5h0.9m6.5 11.6h0.9m-8.3-5.3h0.9m-1.5-0.5h0.9m13 20.3h0.9m-38.4-14.6h0.9m22.2 5.4h0.9m-9-5.7h0.9m-2.3 7.6h0.9m16.5-7.8h0.9m3.2-0.7h0.9m-30.2 7.6h0.9m27.2-6.8h0.9m9.7 12.4h0.9m-32.6-18h0.9m39.4 19.8h0.9m-35.8-23.4h0.9m0.7 6.1h0.9m-15.4 4.8h0.9m3.8-11.2h0.9m32.5 4.8h0.9m-15.9 11.8h0.9m12.6-8.7h0.9m-12.7-4.4h0.9m25.1 13.2h0.9m-44.3-5.8h0.9m26.8 4.3h0.9m16.1 8h0.9m-37-13.1h0.9m-12.3 3h0.9m21 22.1h0.9m-1.7-43.1h0.9m-12.7 19.8h0.9m-9.8-8.8h0.9m12.7 10.9h0.9m2.2-11.1h0.9m13.6 3.1h0.9m-20.5-7.5h0.9m-5.3 18.3h0.9m-13.6-6.5h0.9m34.7-2.8h0.9m-8.2-6.6h0.9m15.5 19.9h0.9m-17.3-25.7h0.9m-20.5 24.6h0.9m41.2-6.1h0.9m-8-8.2h0.9m-22.8 5.5h0.9m8.4-13.7h0.9m7 25.6h0.9m-32.7-24.1h0.9m21.9 6.3h0.9m-42.4 13.2h0.9m37.6-11.6h0.9m29 5.5h0.9m-44.6-0.3h0.9m-5.3-7.7h0.9m20.9 1.8h0.9m-13.7 20h0.9m19.1-7.8h0.9m-6-2.8h0.9m13.3-4.6h0.9m5.2-8.4h0.9m-33.1-3.8h0.9m-2.3 17.1h0.9m26.5-10.7h0.9m-22.9 2.8h0.9m-12.3-7.5h0.9m11.3-4.9h0.9m-0.1 15.8h0.9m-12.7-9.3h0.9m-11.9 25.9h0.9m-0.3-2.8h0.9m28.7-17.3h0.9m-27.7 12.7h0.9m43.2-17.8h0.9m-31.9 17.9h0.9m8.8 8.5h0.9m-14.7-13.1h0.9m-11.3 13.9h0.9m7-38.6h0.9m8.4 18.5h0.9m30.2-1.7h0.9m-30.3 8.3h0.9m23.5-5.9h0.9m-9.3 5.3h0.9m-21.2-4h0.9m4-8.9h0.9m17.2-4.3h0.9m-1.6 21.1h0.9m-20.1-15.5h0.9m-3 11.2h0.9m13.9-1.7h0.9m2.9-7.6h0.9m-12.4-9.1h0.9m7.1 15.5h0.9m-18.9 9h0.9m16-35.7h0.9m-10.8 12.2h0.9m14.7 35.5h0.9m-25-21.7h0.9m3.1 2.5h0.9m12.8 8.4h0.9m-25.8 2.5h0.9m0-11.6h0.9m30.9 3.9h0.9m-32.8-12.7h0.9m6.3 5.8h0.9m23.7-11.1h0.9m-11.3 17.1h0.9m0.5-1.3h0.9m13.7 0.2h0.9m-11 0.7h0.9m13.4-22.2h0.9m-8.7 14.8h0.9m-24.7-6.4h0.9m-25.1 5.3h0.9m17.1 7.8h0.9m-12.9 8.5h0.9m25.7-15.1h0.9m-15.8-4.9h0.9m-7.4 2.2h0.9m16.5 3.3h0.9m-22.6-0.8h0.9m7.1 3.8h0.9m41.1 4.2h0.9m-34.1-20.2h0.9m-17.7-0.6h0.9m31.7 8.3h0.9m-11 1.3h0.9m-0.4 18.2h0.9m-12.8-15.7h0.9m-2.7 11h0.9m-4.3-18.1h0.9m-6.4-2.5h0.9m27.5 35.8h0.9m-23.3-14.5h0.9m18.1-18.5h0.9m-8.9 7.8h0.9m-7.3 19.5h0.9m-19.4-14h0.9m33.2-8.6h0.9m-3.6 13.1h0.9m-0.9-4.1h0.9m7.3-22.1h0.9m11.1 38.8h0.9m-8.5-11.4h0.9m-37.3-10.2h0.9m8.2-4.2h0.9m26.2-1.9h0.9m-17.6-10h0.9m-1.3 18h0.9m-9.3-7.3h0.9m38.6-4.4h0.9m-45.6 3.6h0.9m33.4 26.2h0.9m-14.2-25.3h0.9m-12.4 16h0.9m-8.3 3.5h0.9m34.6-12.5h0.9m-12.7 6.1h0.9m13-16.2h0.9m-6.6 6.1h0.9m-30.6 4.3h0.9m7.5-9.8h0.9m-22 0.4h0.9m45.6 26.1h0.9m-13.1-6.9h0.9m-18.7-11.4h0.9m11.3-9h0.9m-20.3 10.6h0.9m9.3-10.5h0.9m9.9 7.2h0.9m8.8 2.4h0.9m-21.1 1.1h0.9m1.1-7.1h0.9m-4.5 12.7h0.9m15.1 4.9h0.9m-36.5-15.1h0.9m18.6 5h0.9m-1.5-6.1h0.9m17.9 6.2h0.9m-30.6 10.4h0.9m32.1-17.2h0.9m-3.4-1.4h0.9m3.5 4.6h0.9m-30.3-1.4h0.9m-0.3 5.1h0.9m13.4-1.4h0.9m-12-33.2h0.9m9 15.9h0.9m1.4 27.2h0.9m-0.4-13.7h0.9m-7.9 2.3h0.9m-6.5-4h0.9m-6.6 15.9h0.9m12.9-2.1h0.9m-4.4-8h0.9m0.3 3.6h0.9m14.3-2h0.9m-23.8-9.2h0.9m34.7 4.5h0.9m-30.7 15.7h0.9m20.2-8.4h0.9m-23.6 16.4h0.9m11.2-16.3h0.9m-9.5-17.6h0.9m-18.7 16.4h0.9m25.5-5.9h0.9m-24.8-10.8h0.9m12-0.1h0.9m17.8 23.5h0.9m28.5-2.5h0.9m-53.1-15.7h0.9m5.5 16.5h0.9m11.1-3.4h0.9m-7 0.6h0.9m18-15.5h0.9m-30-2.9h0.9m30.8 24.2h0.9m-14.2-22.5h0.9m-9.7 8.7h0.9m-2.3 0.4h0.9m5.8-1.8h0.9m4.2 5.7h0.9m-18.4-3.2h0.9m-3.1 8.3h0.9m1.6-4.6h0.9m-2.7-16.1h0.9m18.9 3.9h0.9m-4.4 13.3h0.9m-36.5-12.3h0.9m16.5 1.1h0.9m-11.1 14.1h0.9m13.5-3.2h0.9m-3.8-0.8h0.9m-5.8-2.9h0.9m19.4 0.6h0.9m-16.7-10.2h0.9m8.6 12.9h0.9m-7.4-10h0.9m11.3 29.2h0.9m-13.7-19.3h0.9m9.4-26.1h0.9m-4.7 16.7h0.9m18.3 4.1h0.9m-33.9 0.3h0.9m13.5-3h0.9m-4.2-7.2h0.9m-3.6 19.2h0.9m32.6-0.6h0.9m-26.8 4.2h0.9m10.5 4.4h0.9m0.1-16.1h0.9m-13.5 2.7h0.9m-0.2 0.2h0.9m-17.5-20.7h0.9m0.8 0.7h0.9m10.4 18.2h0.9m-27.5 6.2h0.9m37.9-5.3h0.9m11.3 15.9h0.9m-44.7-7.5h0.9m24.2-5.5h0.9m6.6-10.3h0.9m-24.2-0.9h0.9m-3.3 6.5h0.9m-11.6-8.5h0.9m30.1 8.8h0.9m-3.9-16.4h0.9m-18.7 12h0.9m11.6-0.3h0.9m12.8 4.8h0.9m-14.9 0.6h0.9m9.7-4.3h0.9m5.4 8.3h0.9m-15.7-3.7h0.9m4.7 8.7h0.9m5.6-5.7h0.9m-2-2.3h0.9m4.9-1.3h0.9m-51.7 12.2h0.9m32.4-22.5h0.9m-5.5 2.6h0.9m34.1 12.4h0.9m-56.8 0.4h0.9m16.9 12.3h0.9m-10.9-37.4h0.9m16.2 17.1h0.9m-8.3-16.1h0.9m12 34.2h0.9m-36.5-4.5h0.9m19.5 10.6h0.9m14.4-22.8h0.9m9.3 6.4h0.9m-26.8 1.7h0.9m0.4-22.5h0.9m37.9 13h0.9m-41.2 6.1h0.9m-15.4-15.2h0.9m15.3 7.5h0.9m7.8 14.8h0.9m-9.3-5.7h0.9m15.5-14.1h0.9m-6.5 1.2h0.9m11.8 12.6h0.9m-16.9-16.1h0.9m0.6 5.1h0.9m8.1 5.8h0.9m-24 9.4h0.9m22.5-13.6h0.9m5.8 2.6h0.9m-23.3 3.8h0.9m-7.7-5.1h0.9m8.1 17.8h0.9m24.4-16.1h0.9m0.8 1.9h0.9m-19.6 8.3h0.9m-2.3 13.8h0.9m-1.6-32.5h0.9m15.3 7.1h0.9m-25.5-23.2h0.9m19 34.3h0.9m-3.9 1.4h0.9m12.7-9.2h0.9m-12.4-6.3h0.9m-20.6 16.2h0.9m10.4-21.5h0.9m-1.3 10.4h0.9m-18.9 5.5h0.9m5.4-18h0.9m-11.7 30h0.9m-7-13.9h0.9m31.5 3.7h0.9m-28.9-8.6h0.9m19.9 10.1h0.9m-12.9-17.7h0.9m24.3 20.4h0.9m-10.6-15.4h0.9m-0.3 6.5h0.9m5.6-12.2h0.9m-11.9 9.8h0.9m-19.5 3.3h0.9m16.5-5.6h0.9m4.6-9.1h0.9m-7.7 16.7h0.9m4.2 5.8h0.9m-23.5-23.3h0.9m21 17.7h0.9m27.8 1.4h0.9m-46.6 1.7h0.9m-0.4-20.6h0.9m51.8 16.3h0.9m-29.8 2.2h0.9m15.8-2.5h0.9m-10-11.8h0.9m-40.7 22h0.9m42.9-8.2h0.9m-20-3.1h0.9m-14.8 12.3h0.9m19.6-9.3h0.9m-5.2 4.9h0.9m1.1-2.7h0.9m-26.5-2.1h0.9m50.3-9.3h0.9m-36.2 12.7h0.9m15.7-2.4h0.9m-40.2-1.1h0.9m5.7-11.9h0.9m25.5 4.7h0.9m3.1 31h0.9m-1.4-21.8h0.9m-26.4-12.3h0.9m-3.4 1h0.9m-1.4-1.1h0.9m12.6-3.1h0.9m-19.4-3.2h0.9m27.7 12.7h0.9m7.8 8.9h0.9m-21.7-3.4h0.9m-17.7 14.5h0.9m39.3-22.4h0.9m-36.9 5.3h0.9m-11.6-10.4h0.9m39 7.7h0.9m-19.8 7.8h0.9m-9.3-5.9h0.9m7.4-10.2h0.9m13.7-1.3h0.9m21.1 3.6h0.9m0.4-4.5h0.9m-22-1h0.9m-30.6 12.2h0.9m29.9-12.9h0.9m6.8 4.3h0.9m-16.9 10.6h0.9m6.1-19.6h0.9m14.8 21.3h0.9m-32.1-14.3h0.9m-20.3-3h0.9m33.3 9.1h0.9m-26.5-1.6h0.9m40.2 1.7h0.9m-33.6 15.1h0.9m15-11.7h0.9m-17.2-14.4h0.9m-9.5 9.7h0.9m13.6 7.5h0.9m10.9-1.2h0.9m-6-11.1h0.9m-37.1 4.4h0.9m17.4-1.2h0.9m9.5-5.3h0.9m-13.7 10.3h0.9m17.8-5h0.9m5 3.9h0.9m-24.1 2.4h0.9m43.4-6.5h0.9m-11.8 18.5h0.9m4.1-19.8h0.9m7 8.4h0.9m-35.5-3.1h0.9m12.1 2.6h0.9m-12.7 11h0.9m-9.2-20.9h0.9m22.2 15.7h0.9m3.7-15.9h0.9m-1.1 13.9h0.9m9.5-15.5h0.9m-24.5 8.7h0.9m-28.5-3.9h0.9m40.6 2.2h0.9m-29.1 12h0.9m25.2 1.1h0.9m-28.1-9.4h0.9m26.9-5.4h0.9m-28.1 13.3h0.9m34.4-17.8h0.9m-40.2 9.2h0.9m24-0.1h0.9m-21 2.7h0.9m-4.9-1.8h0.9m4 24.5h0.9m21.3-31.6h0.9m-28.5 3.6h0.9m-10.8-2.7h0.9m12.9 14.5h0.9m3.9-15h0.9m-14.9-3.5h0.9m18.6 8.7h0.9m17.4-3.8h0.9m-2.1 8h0.9m-17.1-20.4h0.9m-20.5 24.8h0.9m40.1-4.8h0.9m-10.6-5.6h0.9m-18.2-2.3h0.9m19.6 9.1h0.9m-19.3-6.1h0.9m11.2 5.9h0.9m-22.1 12.5h0.9m15.7-15.3h0.9m17.7 9.1h0.9m-24.8-4.4h0.9m-15.8-10.6h0.9m-19.1 16.8h0.9m4.6-4.9h0.9m15.4-14.9h0.9m8.8 11.2h0.9m11.4 13.5h0.9m-4.8-8h0.9m-15.5-1.5h0.9m10.6-10.6h0.9m-4.7 3.6h0.9m3.5 4.2h0.9m-11.6-10.3h0.9m18.3-8.6h0.9m-21.8 29.3h0.9m19.1-28.8h0.9m28.2-8.5h0.9m-18.6 37.3h0.9m-8.9-16h0.9m-9.4-6.1h0.9m6-2h0.9m-17.4 19.1h0.9m-13.7-12.3h0.9m18.6-8.8h0.9m14.3 15.2h0.9m-41.7-3.5h0.9m10.4-5.5h0.9m12-0.5h0.9m12.7 0.1h0.9m-0.7 5.9h0.9m-2.8-4.5h0.9m-21.6-5.5h0.9m15.6 18.8h0.9m22.6 3.2h0.9m-29.4-13.5h0.9m1.2 1.7h0.9m15.5 8.7h0.9m-36-14.7h0.9m32.7 9h0.9m-25.3 7.9h0.9m-3.2-13.2h0.9m-2.1-15.1h0.9m19.4 6.7h0.9m-22.8 4.2h0.9m18.9 6.1h0.9m-11.8-14.5h0.9m-2.5 1.8h0.9m5.2 16.6h0.9m-5.9 15.1h0.9m7.4-13h0.9m-6.8-7.1h0.9m11.7 11.6h0.9m-35.5-0.4h0.9m26.8-0.9h0.9m-1.6-19.8h0.9m-25.9 27.6h0.9m20.8-29.1h0.9m0.6 9.4h0.9m-34.3-17.3h0.9m2.7 23h0.9m22.8-4.6h0.9m4.2 7.6h0.9m-37.3-8.1h0.9m18.5-8.4h0.9m3.4 10h0.9m3.4-12h0.9m-4.2 31.2h0.9m-9.6-33.3h0.9m19.4 20.6h0.9m2-15.5h0.9m7.2 3h0.9m-33.4 1.6h0.9m14.7 11.9h0.9m10.3-6.6h0.9m3.8 0.9h0.9m-1.5-13.3h0.9m-38.5 19.6h0.9m1.9-9.7h0.9m18.8-1.7h0.9m-6.3 16.9h0.9m41-12.3h0.9m-36.2 6.3h0.9m27.3-17.2h0.9m-27.5 9h0.9m6.3 3.1h0.9m0.6-5.2h0.9m-10.2-2.2h0.9m-11.8 4.7h0.9m7.1-9.2h0.9m25.2 9.3h0.9m-45.9 11.1h0.9m8.8-5.3h0.9m10.2-2.3h0.9m2-7.5h0.9m-2.9 23.5h0.9m-35.6-17.7h0.9m39.8-10.1h0.9m-28.4 28.9h0.9m14.3-0.7h0.9m12.9-18h0.9m-1.8 5h0.9m9.9-1.8h0.9m-16.7-2.3h0.9m17.5 5.7h0.9m-36.8-13h0.9m19.4 0.1h0.9m-11.7-3h0.9m0.9 12.4h0.9m18.3-3.7h0.9m15.5-0.8h0.9m16.2 9.7h0.9m-42-13.5h0.9m-5.8 21.8h0.9m-24.7-0.2h0.9m16.3-10.6h0.9m-2.3-0.4h0.9m5.8-16.4h0.9m12.1 16.5h0.9m-6.2 2.9h0.9m6.8-9.3h0.9m-38.4-12.3h0.9m40.4 18.9h0.9m-20-10.3h0.9m-1.9 4.1h0.9m-6.6-6.5h0.9m37.3 8.4h0.9m-43.2-13.8h0.9m-2.7 18.2h0.9m21.7-8.5h0.9m-11.6-0.7h0.9m-18.6 14.4h0.9m21.7 10.6h0.9m-18.2-23.5h0.9m24.1-1h0.9m-35.5-6.3h0.9m21.8 11.6h0.9m-3.9 5.9h0.9m15.7-6.1h0.9m-15.6-5.2h0.9m7.1 10.6h0.9m-8.4-4.3h0.9m-6.8-16.7h0.9m-11.2 19.6h0.9m21.2 7.4h0.9m-6.9-6.5h0.9m18.5 1.1h0.9m-30.4-10.6h0.9m10.4-7.2h0.9m4.3 18.1h0.9m-15.5 8.5h0.9m2-19.5h0.9m-0.1-4.6h0.9m9.1 6.6h0.9m18.1 5.3h0.9m-18-7.5h0.9m-30.7 1.2h0.9m7.7 9.4h0.9m11.6 6.4h0.9m10.8-7.5h0.9m-8.6-5.6h0.9m5.5 6.4h0.9m-21.7-3.9h0.9m49.9-5.2h0.9m-44.7-5.4h0.9m-19.1 16.9h0.9m22.1-8h0.9m26.3 19.9h0.9m-42.6-13.1h0.9m22.2-5.9h0.9m-3.1-3.8h0.9m16 5.7h0.9m-19.8 5.7h0.9m7.5-7h0.9m-9.6 11.6h0.9m1.9-16.6h0.9m-21.8-2.3h0.9m-3.8 4.1h0.9m19-19.4h0.9m-4.5 24.3h0.9m1.4-14.5h0.9m15.9 2.4h0.9m-39-3.5h0.9m17.6 18.6h0.9m17.1-7h0.9m-36.9-7.8h0.9m3.6 4.3h0.9m-14.3 2.6h0.9m36-2.3h0.9m-3.7-7.1h0.9m-30.1 2.7h0.9m38.9 15h0.9m-25.5 1.5h0.9m1.1 2.8h0.9m11.4-17.7h0.9m3.9-2.9h0.9m-27.3-6h0.9m17.3 12.5h0.9m-6-3.2h0.9m22.2-0.1h0.9m-33.9 15h0.9m31.8-8.2h0.9m-49.1-8.4h0.9m35 5.6h0.9m13.5-12.5h0.9m-14.3 6.7h0.9m9 4.9h0.9m-5.4-5.1h0.9m-38.1-4.2h0.9m11.3 0.8h0.9m26.7 21.2h0.9m-15.1-21.3h0.9m-6.8 3.1h0.9m23 9h0.9m-15.6-6.4h0.9m-39-3.3h0.9m12.7 10.2h0.9m17.6-10.5h0.9m-8.3 21.3h0.9m-9.6-22.4h0.9m10.3 2h0.9m-4 11.1h0.9m32.1-20.8h0.9m-27.6 16.4h0.9m-1.9-2.1h0.9m-4.8 10.7h0.9m-2.8-10.1h0.9m6.2 2.1h0.9m-3.5 8h0.9m1.5-7.4h0.9m-1.5-10.6h0.9m-12.8-0.4h0.9m14.7 3h0.9m-20 8.5h0.9m23.3-17.9h0.9m16.8 16.1h0.9m-28.2 9.3h0.9m1.7-15h0.9m31.5-4.3h0.9m-35.8 17.3h0.9m-15.7-8.5h0.9m21.3 22.5h0.9m-20.4-22h0.9m22.7 1.1h0.9m-29.3 3h0.9m19.1 0.3h0.9m14.7 5.1h0.9m-11.9-6.3h0.9m-23.9-4h0.9m19.2-2.4h0.9m-2.7-3.8h0.9m21 26.7h0.9m-30.3-15.7h0.9m1.5 7.8h0.9m9.3-10.7h0.9m-10.9 0.4h0.9m-12.8 5h0.9m3.5-1.3h0.9m12 5h0.9m-3.2-0.6h0.9m-14.7-3.7h0.9m9.8-3.8h0.9m3.6 6.7h0.9m-32.8-5.5h0.9m7.1 7.9h0.9m-8.2-19.8h0.9m3.6 23.7h0.9m5-13.7h0.9m10.6-17.2h0.9m2.1 22.2h0.9m1.5 2.5h0.9m-3.6-8.4h0.9m-1.3 3h0.9m33.9 0.2h0.9m-26.9-8.9h0.9m-15.3 18.8h0.9m-6.4-21.4h0.9m14.6 4.4h0.9m30.4-17.5h0.9m-25.2 27.7h0.9m-23.5-12.2h0.9m22.8 20.4h0.9m-21.6-28.8h0.9m28 27.9h0.9m-20.8-33.6h0.9m26.3 18.1h0.9m-5.9 1.4h0.9m-23.8-3.7h0.9m27.3 17h0.9m-55.9-21.3h0.9m58.8 5.1h0.9m-48.8 3.3h0.9m18.2-0.9h0.9m-6.5-1.9h0.9m-0.6 5.8h0.9m-6.3-5.6h0.9m9.3 14.3h0.9m7-12.7h0.9m1.6 4.7h0.9m7.5 0.9h0.9m9.8 7.5h0.9m-28.9-15.8h0.9m13.2 8.3h0.9m-15.8-17.9h0.9m-27.4 16.4h0.9m38.8 4.1h0.9m-32.3 2.1h0.9m10.6-5.8h0.9m13.6-10.7h0.9m-16.2-11.4h0.9m-5.9 2.4h0.9m19.7 16.8h0.9m6.4 2.6h0.9m-24.5-0.1h0.9m2.8 2.4h0.9m9.9-14.4h0.9m-5.7 9.4h0.9m-5.6 7.5h0.9m29.9-11.3h0.9m-32.4-16.9h0.9m2.5 16.3h0.9m-31.9 6.5h0.9m41.1-9.2h0.9m-15.6-2.1h0.9m16.4-4.9h0.9m-17.3 31.1h0.9m4.7-13.3h0.9m-4-14.8h0.9m0.9 14.3h0.9m-16-0.6h0.9m33.7 6.5h0.9m-44.1-18.4h0.9m-1.3 18.4h0.9m33-3.3h0.9m-23.6-16.8h0.9m13.6 11.4h0.9m-15.1 0.4h0.9m22 0.7h0.9m-26.6-21h0.9m11 20.5h0.9m-0.9-5.4h0.9m-7.5 10.3h0.9m8.9-5.3h0.9m-14.9-6.7h0.9m16.4-3.4h0.9m-22.6 6h0.9m36.6 4.7h0.9m3-2.9h0.9m-27.9-11.3h0.9m-4.9 25.4h0.9m12.9-6.3h0.9m4.8-6.7h0.9m-14.7 1.2h0.9m12.4 3h0.9m-3.6-2.7h0.9m-20.2-3.8h0.9m-3.5 11.4h0.9m-18.6-11h0.9m67.6-1.1h0.9m-54.6 2.9h0.9m36-1.2h0.9m-11.2 2.3h0.9m-15.9 27.4h0.9m5.9-33.1h0.9m-9.5 8.2h0.9m12.8 3.5h0.9m-5-19.8h0.9m5.1 10.1h0.9m-13.4-10.5h0.9m-5.3 6.8h0.9m7.3-6.6h0.9m0.4 14.2h0.9m-18.7-6.7h0.9m3.1 13.8h0.9m-13.1-12.1h0.9m37.3-1.8h0.9m-11.7-1.9h0.9m26.6 15.8h0.9m-13.3-20.1h0.9m-34.9 21.6h0.9m12.9-12h0.9m7.2-9h0.9m5.8 11.5h0.9m-5.4-6.2h0.9m-0.4-0.3h0.9m5.8 16.5h0.9m-1.5-5.6h0.9m-5.2-28.9h0.9m2.2 21.8h0.9m-12.2-0.1h0.9m-23.5-2.2h0.9m30.3 17.5h0.9m-20.4-20.8h0.9m30.7 0.2h0.9m8.6 8.4h0.9m-46 8.3h0.9m38.4-21.7h0.9m-3 10.4h0.9m-2-0.9h0.9m-47.6 7.9h0.9m37.3 14.3h0.9m11.3-12.5h0.9m-30.9-11h0.9m-1.7-2.8h0.9m-0.6-15.4h0.9m6 22.6h0.9m35.5 7.1h0.9m-47.3-1.7h0.9m-12.3-10.5h0.9m-10.7 18.3h0.9m36.6-23.5h0.9m-10.8 19.1h0.9m7.5-5.1h0.9m-21.5-9.1h0.9m13.6 14h0.9m-15-18.4h0.9m29.2 1.7h0.9m-1.9 10.6h0.9m-3.9 13.5h0.9m-3.8-8.7h0.9m-25.4-13.2h0.9m22.9 20h0.9m10.5 7h0.9m-17.4-19h0.9m9.7-1.6h0.9m-17.2-9.6h0.9m15.2-0.2h0.9m-8.2-3.2h0.9m8 3.6h0.9m-4.8-5.1h0.9m-20.4 24.9h0.9m-6.5-10h0.9m4.1-21.4h0.9m11.1 24.7h0.9m-22.5 1.3h0.9m3.8-14.2h0.9m11.4 2.9h0.9m33.9-7.9h0.9m-24.6 22.9h0.9m-42.3-24.5h0.9m37.9 11.3h0.9m-3.7 14.5h0.9m-12.4-19.8h0.9m-9.4 12.4h0.9m16.8-15.2h0.9m21.9 22.1h0.9m-14.3-20.3h0.9m-20 5.7h0.9m-1.1-5.2h0.9m12.1 12.2h0.9m-2-6.6h0.9m13.3 6.2h0.9m-21.5 7h0.9m-4.6-10.9h0.9m-6.4 8.2h0.9m2.3-11.4h0.9m-5.3 10.4h0.9m2.2-20.1h0.9m16.8 8.8h0.9m-5 9.7h0.9m12 6h0.9m-28-10.9h0.9m-11.8 16.6h0.9m25.5-2.6h0.9m-12.5-30.9h0.9m27.3 19.2h0.9m-22.2-0.3h0.9m6.9 4.3h0.9m-35 5h0.9m15.3-14h0.9m33.5 12.5h0.9m-32.4-25h0.9m6.7 21.5h0.9m-4.6-16h0.9m-11.7-0.1h0.9m14.5 18.7h0.9m11.4-14h0.9m-12.9 11.6h0.9m-12.3-6.3h0.9m39.3 3.1h0.9m-19.9-5.7h0.9m-13.7-11.5h0.9m-1.9 26.1h0.9m31.5 0.1h0.9m-22.5-10.3h0.9m-20.5-1.9h0.9m17.6-5.7h0.9m4-1.7h0.9m-42.3-0.3h0.9m0.9-3.2h0.9m41.7 10.5h0.9m-14.8 12.2h0.9m15-14.9h0.9m0.1 8h0.9m-21.1 0.5h0.9m-22.7-11.1h0.9m19.2 12.6h0.9m-4.9-6.6h0.9m19.6 13.8h0.9m-4-1.3h0.9m-18.8-14.2h0.9m10.1 0.1h0.9m-13.5 17.6h0.9m3.8-23.6h0.9m9.6 25.2h0.9m-7.1-5.4h0.9m-8.8-15.5h0.9m-4.7 3.1h0.9m37.6-9.1h0.9m-4 1.3h0.9m-29.4 16.6h0.9m12.3-5h0.9m-35.7 0.8h0.9m8.7 19.8h0.9m11.4-21.4h0.9m-15.1-6h0.9m-3.1 13.1h0.9m14.8-3.7h0.9m-7.4-9.6h0.9m29.2-4.2h0.9m-48 12.4h0.9m9.2-7.7h0.9m30.4-3.4h0.9m-1.4 1.3h0.9m8.4 18h0.9m-30.8-13.8h0.9m-6.4 3.7h0.9m29.3-14.8h0.9m-4.4 1.1h0.9m-28-4.2h0.9m44.3 16.6h0.9m-29.3-6.6h0.9m11.6-12.8h0.9m-16.7 38.7h0.9m-7.2-19.6h0.9m15.2-7.5h0.9m-10.8 15.9h0.9m1.7-5.3h0.9m-9.2-0.5h0.9m5.3 10.3h0.9m9.3-15.3h0.9m-49.2 8.6h0.9m47.9-14.6h0.9m-42.9-2.1h0.9m43.7 0.7h0.9m-22 11.6h0.9m24.7-2.2h0.9m-21.1-4.7h0.9m25.5 14.5h0.9m-27.2-22.2h0.9m-11.5 17.8h0.9m0.2 2.8h0.9m15.6-5.4h0.9m3.5 1.9h0.9m-23.9-7.4h0.9m47.9-8h0.9m-43.9 20.5h0.9m3.9-16.9h0.9m-18.6 12.1h0.9m34.8 7.8h0.9m-15.6-3.2h0.9m-17.5-7.9h0.9m4.5 0.1h0.9m20.9 8h0.9m-27.4 1.8h0.9m6.9-20.6h0.9m3.8-3.9h0.9m1.7 15.7h0.9m-4 2.2h0.9m-2.6-4.8h0.9m-18.1 0.4h0.9m8.1-4.4h0.9m10.6 5.7h0.9m-24.5-15.8h0.9m19.6 18.4h0.9m9.2 3.7h0.9m13.4-3.5h0.9m-21-13.8h0.9m-15.1 5.1h0.9m17.7 6.2h0.9m-5-3.4h0.9m8.7 3.3h0.9m-6 0.9h0.9m-13.8-12.1h0.9m15 13h0.9m-11.8-7.4h0.9m37.2-3.1h0.9m-38.9 9.2h0.9m-15.2-1.3h0.9m44.1 7.3h0.9m-18.7-3.1h0.9m-8.8 3.3h0.9m-5-12.4h0.9m3 11.9h0.9m2.6-2h0.9m-36.8 4.6h0.9m65.7 1.3h0.9m-41.5-19.6h0.9m8.2-1.3h0.9m5.9 4.2h0.9m2.7 16.9h0.9m-46.5-9.6h0.9m19.4-15.3h0.9m0.4 10.7h0.9m24.2-11.7h0.9" stroke="#000" stroke-width="0.9" fill="none"/>
<path d="M681.3 155.3L681.3 158.4L680.4 161.5L678.6 164.4L676.1 166.9L672.9 168.9L669 170.5L664.7 171.5L660 171.9L655.1 171.9L650.1 171.5L645.3 170.8L640.7 169.9L636.5 168.8L632.9 167.5L629.9 166.3L627.7 165L626.2 163.6L625.6 162.1L625.8 160.6L626.9 158.9L628.8 157L631.4 155.1L634.6 153L638.4 150.9L642.6 148.9L647.1 147L651.8 145.5L656.6 144.3L661.3 143.6L665.7 143.5L669.8 144.1L673.5 145.3L676.5 147.1L678.9 149.5L680.5 152.2Z" fill="#080808"/><path d="M679.5 155.5L679.4 158.4L678.6 161.3L677 164L674.6 166.3L671.6 168.3L668 169.7L664 170.6L659.6 171.1L655 171.1L650.3 170.7L645.8 170L641.5 169.1L637.6 168.1L634.2 167L631.4 165.8L629.3 164.5L628 163.3L627.4 161.9L627.6 160.4L628.6 158.9L630.4 157.2L632.8 155.3L635.8 153.4L639.3 151.5L643.3 149.6L647.5 147.8L651.9 146.3L656.4 145.2L660.8 144.6L664.9 144.5L668.8 145L672.2 146.2L675 147.9L677.2 150.1L678.7 152.7Z" fill="none" stroke="#fff" stroke-width="1.2"/><path d="M677.4 155.8L677.3 158.2L676.6 160.6L675.3 162.9L673.3 164.8L670.8 166.4L667.8 167.6L664.4 168.4L660.7 168.8L656.8 168.8L653 168.5L649.2 167.9L645.6 167.2L642.3 166.3L639.5 165.4L637.1 164.4L635.4 163.3L634.2 162.3L633.8 161.1L634 159.9L634.8 158.6L636.2 157.1L638.3 155.6L640.8 154L643.8 152.4L647.1 150.8L650.6 149.3L654.3 148.1L658 147.2L661.7 146.6L665.2 146.6L668.4 147L671.2 147.9L673.6 149.4L675.5 151.2L676.7 153.4Z" fill="none" stroke="#fff" stroke-width="0.45" stroke-opacity="0.8"/><path d="M675.1 156L675.1 158.2L674.5 160.2L673.3 162.2L671.6 163.9L669.4 165.2L666.8 166.3L663.9 166.9L660.7 167.3L657.4 167.3L654.1 167L650.8 166.5L647.7 165.9L644.9 165.1L642.5 164.3L640.5 163.5L638.9 162.6L638 161.6L637.6 160.7L637.7 159.6L638.4 158.5L639.7 157.2L641.4 155.9L643.6 154.5L646.2 153.1L649 151.8L652.1 150.5L655.2 149.4L658.4 148.6L661.6 148.2L664.6 148.1L667.4 148.5L669.8 149.3L671.9 150.5L673.5 152.1L674.6 154Z" fill="none" stroke="#fff" stroke-width="0.45" stroke-opacity="0.8"/><path d="M673.1 156.3L673 158.1L672.5 159.9L671.5 161.5L670.1 163L668.2 164.2L666 165L663.5 165.6L660.8 165.9L657.9 165.9L655.1 165.7L652.3 165.2L649.7 164.7L647.2 164.1L645.2 163.4L643.4 162.6L642.1 161.9L641.3 161.1L641 160.2L641.1 159.3L641.7 158.4L642.8 157.3L644.3 156.2L646.1 155L648.3 153.8L650.7 152.6L653.4 151.6L656.1 150.6L658.8 150L661.5 149.6L664.1 149.5L666.4 149.8L668.5 150.5L670.3 151.6L671.7 152.9L672.6 154.5Z" fill="none" stroke="#fff" stroke-width="0.45" stroke-opacity="0.8"/><path d="M671 156.5L671 158L670.6 159.5L669.7 160.9L668.5 162.1L667 163.1L665.1 163.8L663.1 164.3L660.8 164.5L658.5 164.5L656.1 164.3L653.8 164L651.6 163.5L649.6 163L647.9 162.4L646.4 161.8L645.3 161.2L644.7 160.5L644.4 159.8L644.5 159.1L645 158.3L645.9 157.4L647.1 156.5L648.7 155.5L650.5 154.5L652.5 153.5L654.7 152.6L656.9 151.8L659.2 151.3L661.4 151L663.6 150.9L665.5 151.2L667.3 151.8L668.7 152.6L669.9 153.8L670.6 155.1Z" fill="none" stroke="#fff" stroke-width="0.45" stroke-opacity="0.8"/><path d="M669 156.8L668.9 158L668.6 159.2L667.9 160.3L667 161.2L665.8 162L664.3 162.6L662.6 163L660.9 163.1L659 163.1L657.1 163L655.3 162.7L653.5 162.3L651.9 161.9L650.5 161.5L649.4 161L648.6 160.5L648 160L647.8 159.4L647.9 158.8L648.3 158.2L649 157.5L650 156.7L651.2 155.9L652.6 155.1L654.2 154.4L656 153.7L657.8 153.1L659.6 152.6L661.3 152.4L663 152.3L664.6 152.5L666 153L667.1 153.7L668 154.6L668.7 155.6Z" fill="none" stroke="#fff" stroke-width="0.45" stroke-opacity="0.8"/><path d="M666.9 157L666.9 157.9L666.7 158.8L666.2 159.6L665.5 160.3L664.5 160.9L663.5 161.3L662.2 161.6L660.9 161.8L659.5 161.8L658.1 161.6L656.7 161.4L655.4 161.2L654.3 160.9L653.2 160.5L652.4 160.2L651.8 159.8L651.4 159.4L651.2 159L651.2 158.5L651.5 158.1L652.1 157.5L652.8 157L653.7 156.4L654.8 155.8L656 155.2L657.3 154.7L658.6 154.3L659.9 153.9L661.3 153.7L662.5 153.7L663.7 153.9L664.7 154.2L665.6 154.7L666.2 155.4L666.7 156.2Z" fill="none" stroke="#fff" stroke-width="0.45" stroke-opacity="0.8"/><path d="M664.9 157.3L664.9 157.9L664.7 158.4L664.4 159L663.9 159.4L663.3 159.8L662.6 160.1L661.8 160.3L660.9 160.4L660 160.4L659.1 160.3L658.2 160.2L657.4 160L656.6 159.8L655.9 159.6L655.4 159.3L655 159.1L654.7 158.8L654.6 158.6L654.6 158.3L654.8 158L655.2 157.6L655.6 157.3L656.2 156.9L656.9 156.5L657.7 156.1L658.6 155.8L659.4 155.5L660.3 155.3L661.2 155.1L662 155.1L662.8 155.2L663.4 155.5L664 155.8L664.4 156.2L664.7 156.7Z" fill="none" stroke="#fff" stroke-width="0.45" stroke-opacity="0.8"/><ellipse cx="658" cy="160.1" rx="2.7" ry="0.9" fill="#fff"/>
<path d="M716 175.3h0.8m-5.3-10.3h0.8m-6.9-12h0.8m4.6 10.9h0.8m1.2 15.3h0.8m-0.8-15h0.8m7.5-12.4h0.8m-27.8 6.8h0.8m4.1 7.5h0.8m2.5 7.3h0.8m17.6-6.8h0.8m-19.9-1.1h0.8m11.2-11.8h0.8m-5.4 12.4h0.8m-2.1 6.1h0.8m9.1-16.8h0.8m-11.7 0h0.8m3.8-0.3h0.8m2.6 8.8h0.8m-0.3-3.7h0.8m-25.1 13.4h0.8m12.1-2.8h0.8m5.2-4.9h0.8m13.2-2.3h0.8m-5.1-12.8h0.8m-6.1 8.7h0.8m-10.8 1.8h0.8m4 11.5h0.8m-22.8-11.3h0.8m10.5 7.9h0.8m2.2-5h0.8m-0.6 1.5h0.8m13.3-7.5h0.8m-10.4-7.1h0.8m1.8 15.9h0.8m-9.5 1.8h0.8m-15.9-20.8h0.8m6 9.6h0.8m13.3 2.8h0.8m-1.7 5.7h0.8m-4.8-13.9h0.8m-8.5 23.6h0.8m-11.9-16h0.8m37.3 4.6h0.8m-23.7-3.4h0.8m16.1 8.5h0.8m-18.4-3.2h0.8m10.7 2.4h0.8m10.6-10.1h0.8m-29.2 5.2h0.8m31.5 2h0.8m-16.3 12h0.8m-13.5-10.5h0.8m3.9-6h0.8m5.8 10.3h0.8m-11.1-14.3h0.8m-7.3 7.1h0.8m10.5-0.4h0.8m-6.9-5.5h0.8m20.3 1.3h0.8m-4.9 4.9h0.8m-10.6-14.6h0.8m12.6 12.1h0.8m-0.9-15.3h0.8m-27.1-0.9h0.8m6.9 22.3h0.8m13.7-7.5h0.8m-5.2 5.5h0.8m-5.1-2.5h0.8m3.6-18.1h0.8m-6 24.8h0.8m-1-10.5h0.8m-2.9-2.4h0.8m16.5 1.5h0.8m-22.2-19.9h0.8m3.7 8h0.8m-13.3 19.4h0.8m24.5-19h0.8m0.6 16.6h0.8m-17.1 1.9h0.8m-9.3-13.5h0.8m1.1 0.6h0.8m22.4-1.5h0.8m-21.1 2.6h0.8m12.7 4.3h0.8m5.8-2.6h0.8m-22.3 1.5h0.8m12.4-3h0.8m1.6 19.2h0.8m-9.4-12.4h0.8m18.5-4.9h0.8m-22.8-3.1h0.8m11.7 11.2h0.8m-6.3-3.3h0.8m13.4 5.7h0.8m-27.6-6.1h0.8m14.2 5.1h0.8m-4.1-9.6h0.8m-3.1-7.9h0.8m3.5 8.2h0.8m4.1-3h0.8m-9.9 0.3h0.8m-7.1 11.8h0.8m5.2-1.8h0.8m-7.3-2.5h0.8m-6.6-4h0.8m11.1 7.4h0.8m6-5.3h0.8m5.8 2.5h0.8m-3.8 4.1h0.8m-6.9-7.5h0.8m3.1-0.8h0.8m-0.2 10.6h0.8m3.9-10.4h0.8m-22.2 2.3h0.8m10.8 8.1h0.8m-3.4-9.2h0.8m10.4-1.9h0.8m-9.8 15.4h0.8m15.7-7.6h0.8m-13-11.2h0.8m2.1 7.2h0.8m-4.2-4.1h0.8m-3.1 2.4h0.8m2.5 11.2h0.8m-0.4-21.5h0.8m-14.1 0.5h0.8m1 15h0.8m11.1-8.1h0.8m-2.1-1.1h0.8m-17.7-4.6h0.8m4.8 19.8h0.8m-5.6-1.3h0.8m25.9-9.9h0.8m-14.6-3h0.8m-0.5 8.9h0.8m-0.5 2.3h0.8m10.9-4.6h0.8m-9.3-2.8h0.8m-0.7-7.3h0.8m-0.2 9.2h0.8m-13.4 13.6h0.8m-1.9-21.1h0.8m11.7-7.5h0.8m-11.5 2.9h0.8m-2.6 9.7h0.8m12.1 8.6h0.8m4 0.6h0.8m-3-11.5h0.8m4.5-0.2h0.8m-18.1 14.1h0.8m13.2-9.1h0.8m-1.1 4.6h0.8m-22-6.8h0.8m1.1 1.5h0.8m4.2 8.6h0.8m11.1-15.2h0.8m-6.1-2.8h0.8m-0.2 12.3h0.8m1.4-17.3h0.8m-6.8 17.1h0.8m5.6 4.5h0.8m-16.7-4.4h0.8m5.5-2.3h0.8m9.8 3.4h0.8m-10.6-3.5h0.8m-6.7-11.2h0.8m16.4 9.5h0.8m-22.6-5.5h0.8m15.6 16.8h0.8" stroke="#111" stroke-width="0.8" stroke-opacity="0.85" fill="none"/>
<path d="M732.6 259.9h0.9m-12.7-10.3h0.9m8.6 5.6h0.9m-1.2-7.2h0.9m4.7 19.7h0.9m-8.6-28.3h0.9m8.1 4.9h0.9m-4.5 28.3h0.9m-9.9-18.6h0.9m1.6 2.6h0.9m1.9 16.4h0.9m0.2-22.4h0.9m1.4-3h0.9m-7.2 28.8h0.9m-2.8-31.3h0.9m2.7-6.6h0.9m-9.9 24.3h0.9m4.7-18.3h0.9m0.8-5.1h0.9m-3.9 13.1h0.9m13.7 6.6h0.9m-7.8-25.7h0.9m-4.1 3.7h0.9m2.4 11h0.9m-4 1.6h0.9m-3.5-16.5h0.9m4 1.6h0.9m-8.3 12.4h0.9m1.1 6.5h0.9m6.3-0.2h0.9m-4.3-2.6h0.9m1.9-21.5h0.9m-3 10.5h0.9m-7.6 10.8h0.9m2.6 6.7h0.9m5.4-33.5h0.9m-5.9 49.3h0.9m3.1-5.9h0.9m-4.1-33.1h0.9m-6.1 24.7h0.9m7.9-16.6h0.9m-6.1 11.4h0.9m-7.1-7.1h0.9m13.2 29.2h0.9m-8.1-4.1h0.9m-2.7-30.3h0.9m-8 20.3h0.9m6.9 15.9h0.9m2-24.8h0.9m-9.8 15.1h0.9m5.1-19.1h0.9m-8.6 12.5h0.9m12.5-17.6h0.9m-4.7 11.5h0.9m2.8-3.3h0.9m2.3-4h0.9m-10.7-2.6h0.9m-9-3.9h0.9m14 12.4h0.9m-8.6 0.9h0.9m-5.9-7.3h0.9m9.8 11.3h0.9m-6.4 2.5h0.9m10.2-15.4h0.9m-5.6-13h0.9m-12.3 25h0.9m7.6-4.8h0.9m-3.6-5.6h0.9m5 23.1h0.9m-5.2-38.7h0.9m5.3 25.9h0.9m-3.4-4.9h0.9m6-1.2h0.9m-8.5-22.2h0.9m-5.4 13.5h0.9m1.4 11.9h0.9m-4 15.9h0.9m-2.2-25.1h0.9m4.6-9.2h0.9m0.5 21.6h0.9m-4.5 14.7h0.9m0.6-18.7h0.9m-5.3-22.5h0.9m0.5 15.6h0.9m-0.1 12.5h0.9m-9-21.9h0.9m1.4 28.5h0.9m4.4-21.4h0.9m-3.1 16.3h0.9m2-7.8h0.9m-7.8 10.9h0.9m9.3-7.1h0.9m2.7-8.6h0.9m-6.8 10.5h0.9m1.6-11h0.9m-2.5-3h0.9m1.9 16.5h0.9m-3.9 10.9h0.9m-7.4-24.3h0.9m12.8-2.2h0.9m-14.8 21h0.9m8.1-29.9h0.9m0.1 2h0.9m-9.8 10h0.9m2.7-10.9h0.9m-0.4 1.1h0.9m0.9 11.3h0.9m1.9-4.9h0.9m-9.6-10h0.9m3.7 32.9h0.9m3.7-25.1h0.9m-0.5-6h0.9m-0.6 9h0.9m-2 11.6h0.9m-5.3-3.4h0.9m-4.2-4.6h0.9m6.6 1.8h0.9m-8.2 11.2h0.9m-3.6-21.4h0.9m7.6-4.7h0.9m4.1 26.5h0.9m-9.8-19h0.9m-4-9.7h0.9m6.5 23.3h0.9m-1.3-4.1h0.9m-4.8 1.1h0.9m-4.7-4.1h0.9m11.5 15.2h0.9m-9-19.1h0.9m6.8 24.4h0.9m-13-25.5h0.9m6.4 19h0.9m-5.4-6.7h0.9m1.3 20h0.9m2.2-28.9h0.9m-4.1 13.7h0.9m3.4-24.7h0.9m-2.9-2.9h0.9m-5 0.5h0.9m-3.3 7h0.9m0.6 14h0.9m6.6-8.8h0.9m-9 12h0.9m-4.7-31.6h0.9m10.7 29.9h0.9m0.1-10.1h0.9m-10.3-3.3h0.9m6.8-3h0.9m-6.2-7.3h0.9m-2.9 25.9h0.9m5.9-23.2h0.9m-7.3 6.9h0.9m5.9-7h0.9m-3.9-11.2h0.9m-5.5 29.6h0.9m8.2-18.2h0.9m-8 22.6h0.9m0.8-15.5h0.9m2.9 8.5h0.9m1.6 6.9h0.9m-8-10.5h0.9m1.3-14.3h0.9m-4.8 26.9h0.9m-3.5 0.2h0.9m7-13.1h0.9m0.2 7.2h0.9m1.9-10.2h0.9m-6.9 1.8h0.9m8 13.8h0.9m-12.8-14.8h0.9m0 4h0.9m3 26.3h0.9m-9.5-14.6h0.9m8.7-19.9h0.9m-3.4 2.4h0.9m-0.1 17.3h0.9m-7.5 3.6h0.9m4 2.1h0.9m2.4-3.1h0.9m-0.3-1.7h0.9m-3-22.1h0.9m1.7 17.8h0.9m5.1-31.3h0.9m-10.6 35.4h0.9m-5.3-14.9h0.9m13.3 19h0.9m-13.5 0.1h0.9m7.7-7.5h0.9m-4.2-6.2h0.9m-6.2-8.7h0.9m5.9 7.6h0.9m3.8-5.4h0.9m-18.8 0h0.9m10.3 8.2h0.9m-1.7-13.9h0.9m5.1 1.9h0.9m-4.2 4.3h0.9m-9 19.6h0.9m-6.4-26.1h0.9m11.5 5.7h0.9m0.4 3h0.9m-5.9 26h0.9m0.1-26.6h0.9m-4.6-6.8h0.9m6.4 15.1h0.9m-3.6-14.6h0.9m2-11.5h0.9m-5.2 16.7h0.9m-3 4.7h0.9m-0.2-11h0.9m9.5 17.8h0.9m-3.4-7.9h0.9m-1.9 8.4h0.9m0.1 18.2h0.9m-6.9-24.2h0.9m-0.2-43.4h0.9m-6.5 40.7h0.9m7.6-6.9h0.9m1.2 21.4h0.9m-7.4 1.7h0.9m8.2-11.1h0.9m-12.3 11.6h0.9m2.5-21.2h0.9m0.3-1.9h0.9m3.1 15.2h0.9m-0.3-2.3h0.9m-9.3-8.5h0.9m6.1-2.8h0.9m7.7 1.9h0.9m-15.7 16h0.9m4.7-13.6h0.9m-5 5.3h0.9m3.6 3.8h0.9m-5.7-3.8h0.9m3.9 3.8h0.9m-17.4-19h0.9m8.8 7.6h0.9m3.2 13.2h0.9m0.9-12h0.9m-3.4 21.7h0.9m-3.6-16.7h0.9m8.3 0.4h0.9m-16.1 0.4h0.9m6.1-5.7h0.9m5.1 6.7h0.9m-6.4 4.9h0.9m2-9h0.9m-1.4 1.7h0.9m-3.6-8.2h0.9m0.6-5.7h0.9m-6.3 25.9h0.9m3.4-15.2h0.9m-0.5 0.5h0.9m-0.2 0.5h0.9m-4.4 10h0.9m-0.4 1.2h0.9m-6.1-24.2h0.9m11.4 10.5h0.9m-7.9 6.1h0.9m-2.5-3.5h0.9m-5.8-6.1h0.9m5.7 11.5h0.9m5.5-16.1h0.9m2.2 3h0.9m-16.3-20.5h0.9m14.2 26.3h0.9m-10.1-7.6h0.9m-2.8 24.2h0.9m3.3 5h0.9m-1.3-47.6h0.9m3.4 22.8h0.9m-5.4 22.3h0.9m-1-4.7h0.9m0.2-22h0.9m1.2 1.7h0.9m2.2 18h0.9m-5.8-4h0.9m1.2-10.2h0.9m0.5 0.5h0.9m-2.1-8.3h0.9m-3.1 15.7h0.9m-4.6-9.5h0.9m0.2 13.2h0.9m-1.7-3.4h0.9m8.5-0.9h0.9m-14-2.6h0.9m10.2-4.8h0.9m-0.6 10.4h0.9m-3.8-10.1h0.9m-4.8 0.1h0.9m1.5 9h0.9m0.6-9.5h0.9m-2.4 7.9h0.9m-8-13.3h0.9m2.6 6.5h0.9m1.3-0.6h0.9m-3.4 10.7h0.9m3.9-26.6h0.9m-2 6h0.9m6.2 7.7h0.9m-9.7 6.2h0.9m-0.1-1.6h0.9m6.5 3.2h0.9m-3.9 10.4h0.9m-8.5 6.5h0.9m6.1-8.4h0.9m-7.5-1.6h0.9m4.5-15.6h0.9m7 12.7h0.9m-11.5-4.3h0.9m3.9 10.8h0.9m-2.3 1h0.9m2.9-28.2h0.9m-9.2 3.4h0.9m1.6 27.4h0.9m1.4-28.6h0.9m-4.8 23.8h0.9m-1.9-12.9h0.9m2.6-19.9h0.9m1.1 24.9h0.9m-1.8-15.2h0.9m-6.5 4.4h0.9m3.3 7.7h0.9m-1.4 19.8h0.9m4.1-28.9h0.9m-9.2 28h0.9m0.6-3.9h0.9m7.1-22.1h0.9m-8.7 7.2h0.9m-3.4-12.2h0.9m1 21.1h0.9m-1.1-12.2h0.9m-1-13.3h0.9m7.3-11.3h0.9m-9.9 33.4h0.9m-4 0.5h0.9m10.2-16.8h0.9m-5.2-2.9h0.9m0.3 13.8h0.9m-2.1 14.7h0.9m0.2-0.2h0.9m-0.3-29.3h0.9m-2.4 19.4h0.9m-8.1 9.7h0.9m5.5-11.1h0.9m-5-3.4h0.9m4.1-4.6h0.9m-1.8-20.6h0.9m4.5 11.6h0.9m-15.8 1.7h0.9m4.8 17.3h0.9m-1.3-3h0.9m-1.1 22.1h0.9m5.5-2.8h0.9m-7.5-14.9h0.9m-0.6-1h0.9m5.9-25h0.9m-8.5 4.9h0.9m-2.4 5h0.9m1.3-8.2h0.9m3.6 22.9h0.9m-6.9-12.7h0.9m4.7 3.7h0.9m-3.9 12h0.9m5.6-1.5h0.9m-5.3 15h0.9m7.3-27.4h0.9m-8.8 18.2h0.9m-3.7-9h0.9m2.6-12.7h0.9m-2-10h0.9m-2.2-4.9h0.9m10.9 40.3h0.9m-5.3-13.9h0.9m-1.9 11.2h0.9m-0.8-4.1h0.9m-9-5.6h0.9m0.7-18.5h0.9m-3.5 18.4h0.9m8.3-20.6h0.9m2.1 32.6h0.9m-9.9-22.2h0.9m0.4 16.6h0.9m-2.2-24h0.9m2.2-11.1h0.9m-1.8 37.1h0.9m-0.2-4.4h0.9m-0.1-0.6h0.9m-2.4-17.9h0.9m-2.4 8.7h0.9m5.3 19.6h0.9m-4.4-27.4h0.9m-5.8 6.5h0.9m8 6h0.9m-6.9-12.6h0.9m3 12.1h0.9m-4.8-2.2h0.9m6.4-3h0.9m-0.9 16.1h0.9m-7.8-4.1h0.9m-1.6-19.7h0.9m-1.5-0.9h0.9m2.3 10.6h0.9m-0.6 9.4h0.9m-16.4-6h0.9m4.6-1.6h0.9m3-0.8h0.9m8.5-20.8h0.9m-5.8 18.7h0.9m-9.6 8.4h0.9m7.1-13.3h0.9m-4 42.8h0.9m0.4-57.7h0.9m-3.1 16.5h0.9m1.4 3.3h0.9m-3.7 7.2h0.9m1.5-21.9h0.9m-2.3 11.2h0.9m6.1 10h0.9m-5.9-5.3h0.9m1.4 23.2h0.9m-4.4-18.1h0.9m4.8-16.3h0.9m-3.2 12.8h0.9m-3.7 4.7h0.9m5.4 6.4h0.9m-6-10.8h0.9m9.8-14.8h0.9m-9.9 22.9h0.9m-1.2-2.7h0.9m-0.8 1.1h0.9m3.8-11.2h0.9m-5.5 1.9h0.9m-3.4 0.4h0.9m-4 8.8h0.9m11.1 11.1h0.9m-2.7-30.7h0.9m0.1 2.8h0.9m-7.5 29.5h0.9m-5.2-11.6h0.9m4.8-11.4h0.9m-5.8 6.6h0.9m0.9 7.2h0.9m6.1-27.9h0.9m-8.1 12.2h0.9m-3.8-9.2h0.9m4.5 10.5h0.9m-8.2-3.8h0.9m8.2-7.7h0.9m-7 32.1h0.9m8.5-36.9h0.9m-12.1 23h0.9m-0.2-7.3h0.9m2.2 9.4h0.9m-9.6-31.8h0.9m4.5 37h0.9m3.7-31.3h0.9m1.8 27.8h0.9m-4-12h0.9m1.9 17.8h0.9m-2.1-7.8h0.9m-1.7-10.5h0.9m-4.5 7.3h0.9m1.6-5.8h0.9m4.3 8.5h0.9m-1.1-23.8h0.9m-2.3 11.4h0.9m-6.6-3h0.9m7.6 19.3h0.9m-9-22.6h0.9m2.2 7.8h0.9m6-11.6h0.9m-15.6 13.9h0.9m6.8 4.5h0.9m2.3 22.3h0.9m-5.5-30.1h0.9m-6.9 9h0.9m10.1-5.7h0.9m0.5 3.3h0.9m0.5 3.5h0.9m-11.7-11.2h0.9m-2.9-12.6h0.9m6.6 30h0.9m6.2-10.7h0.9m-10.1-12.1h0.9m4.2 17.2h0.9m-7.5 3.5h0.9m4-29.5h0.9m-0.2 23.1h0.9m-5.6-6.3h0.9m8 22.4h0.9m-0.5-30.9h0.9m-11.3 23.7h0.9m-3.3-18.7h0.9m-3.4 29.6h0.9m11.2-16.1h0.9m-4.5-10h0.9m-3.5 11.8h0.9m-2.2 7.1h0.9m0-24.2h0.9m6.7 8.4h0.9m-4.1-3.1h0.9m-12.7 11h0.9m2.9 6.2h0.9m-1.7-33.9h0.9m6.9 26.3h0.9m-1.8-18.8h0.9m2.4-2.9h0.9m-6.5 7.8h0.9m-0.6 18.9h0.9m-2-3.4h0.9m4.7-26.1h0.9m-8.7 15.2h0.9m1.5 8h0.9m-6.5 4.7h0.9m10.3-10.2h0.9m-9.8 2h0.9m2.6 6.5h0.9m1 1.8h0.9m-2.3 8.2h0.9m-8.8-28.2h0.9m10.9-5.7h0.9m0.1 3.4h0.9m-3.6 3.4h0.9m-3.2 12.6h0.9m0.6-6.4h0.9m8.5 4.4h0.9m-14 10.6h0.9m6.6 3.4h0.9m3.2-24.9h0.9m-4 24h0.9m-5.3-10.3h0.9m-13.5-9.5h0.9m19.2-13.9h0.9m-10.6 23.9h0.9m3.7 15.4h0.9m-10.7-18.3h0.9m10.1-15.6h0.9m-4.7 36.8h0.9m4.8-15.4h0.9m-17.4-7.7h0.9m11.7-2.1h0.9m-2.8 39h0.9m-1.5-46.6h0.9m1 7.5h0.9m-3.2 2.6h0.9m3.7 3.8h0.9m-9.2-4.3h0.9m6.1-3.8h0.9m1.9 14.3h0.9m-9.9-5.3h0.9m11.6 14.3h0.9m-9.4-7.6h0.9m-3.5-27h0.9m4.2 19.5h0.9m-1-3.1h0.9m-1.7-5.6h0.9m-0.3 15.4h0.9m-3.1-0.2h0.9m-8.1-18.4h0.9m12.6 29.3h0.9m-5.9-21.4h0.9m-7.3 5.3h0.9m7.7-21.2h0.9m-1.9 22.7h0.9m-1.3-18.6h0.9m-0.5-4.3h0.9m3.1 18.8h0.9m-12.1 13.9h0.9m8.8-22.9h0.9m3.6-4.1h0.9m-8.9 25.1h0.9m-11.7-2h0.9m8.3-11.7h0.9m-5.1 4h0.9m-1.1-15h0.9m1.9-3h0.9m7.6-1.1h0.9m-10.7 11.6h0.9m2.3 12.8h0.9m2.5-12.6h0.9m-5.9 3.9h0.9m4.2 7.6h0.9m-6.6-31.7h0.9m10.3 34.6h0.9m-8.8-7h0.9m-4.2-15.5h0.9m-0.1 9h0.9m-2.1-14.2h0.9m0.4 23.4h0.9m-1.7-6.4h0.9m-7.5-2.6h0.9m7.3-11.8h0.9m-7.7 18.9h0.9m3 0.9h0.9m0.7 1.5h0.9m-0.5-24.5h0.9m0.1 13.6h0.9m2.3-1.4h0.9m-5.4 15h0.9m5.7-1.1h0.9m-1.4-3.5h0.9m-2.1 4.8h0.9m-2.4-9.3h0.9m-2 26.9h0.9m-1.4-30.4h0.9m-2.5 2.4h0.9m1.6-12.7h0.9m-10.2 16.4h0.9m0.7-0.4h0.9m6.4 10.3h0.9m5.5-9h0.9m-10.2-17.8h0.9m-1.9 14h0.9m-6.3 0.4h0.9m7.7 6.6h0.9m-2.2-6.3h0.9m-2.6-6.5h0.9m-5.2 6.8h0.9m13 0.4h0.9m-5.9-13.1h0.9m3.6 2.4h0.9m-3.5 10.1h0.9m-8.3 10.6h0.9m3.2-9.8h0.9m0.9-2.3h0.9m-4.4 5.6h0.9m-1-4.6h0.9m-2-17.9h0.9m-0.9 11.5h0.9m2 19.3h0.9m-8.1-12.2h0.9m-3.1-13.5h0.9m6.3-13.9h0.9m-6.6 27.7h0.9m7.2-3.1h0.9m-4.6 26.1h0.9m1.8-34.7h0.9m6.8 17h0.9m-9.5 6.7h0.9m1.4-6.4h0.9m-0.6-19.2h0.9m2.2 13.7h0.9m-9.2-10.6h0.9m7.3 4.5h0.9m-4.7 11.8h0.9m-0.6-25.1h0.9m1.3 28.3h0.9m0 7.8h0.9m-3-9.6h0.9m4.3-12.3h0.9m-0.3 23.3h0.9m-4.9 1.2h0.9m-0.6-31.3h0.9m0.3 13.9h0.9m-4-2h0.9m3.1 4.6h0.9m-9.5-0.8h0.9m5.1-13.9h0.9m-5.8 3.9h0.9m-1.7 8.5h0.9m6 17.7h0.9m-0.2-10h0.9m-1.1 3.6h0.9m-7.3-7.4h0.9m2.1-9.4h0.9m-4.2-4.4h0.9m-0.1-8.3h0.9m2.4 13.9h0.9m-2.7 4.1h0.9m1.7-10.7h0.9m-4.3-11.6h0.9m-9.8-3.9h0.9m14.9 1.3h0.9m-5.4 38h0.9m-4.8 1.8h0.9m8.8-7.9h0.9m1.3-3.7h0.9m-14-1.1h0.9m0.3-21h0.9m-4.3 41.6h0.9m2.1-26.9h0.9m-1.4 1.9h0.9m0.9-6.3h0.9m-4.9-11.5h0.9m1 19.7h0.9m11 8.7h0.9m-2-6.5h0.9m-8.9-20.8h0.9m-0.5-9.4h0.9m-2.2 43.4h0.9m1.8-5.8h0.9m-3.9-28.8h0.9m-1.3 11.3h0.9m6.2 27.3h0.9m-9.1-26.8h0.9m1.6 0.1h0.9m-5.5 5.1h0.9m5.8 3.4h0.9m-7.5-5.8h0.9m-3.1 11.9h0.9m2.1-13.7h0.9m1.5-3.5h0.9m-3.4-13.7h0.9m10.8 23.3h0.9m-7.1 21.2h0.9m-2.4-17.8h0.9m-0.4 7.4h0.9m1.1-10.1h0.9m-4-0.4h0.9m5-27.1h0.9m-6.3 19.1h0.9m-1.6-17.9h0.9m3.4 13h0.9m-4.9 3.9h0.9m-7 0.7h0.9m-1.6-5.7h0.9m5.5 10.8h0.9m0.7-1.6h0.9m7.8 6.6h0.9m-15-12h0.9m1.5 5h0.9m-0.7-7.8h0.9m8.6 10.3h0.9m-9.3-3.4h0.9m-0.4 19h0.9m2.1-3.1h0.9m-16.1-9.2h0.9m16.7 18.9h0.9m-5.2-42.4h0.9m1.4 12.9h0.9m-10.9-0.3h0.9m11.1 21h0.9m-2.3-25.9h0.9m6.6-1.4h0.9m-11.8-3.1h0.9m5 21.7h0.9m-2.7-4.1h0.9m-4.9 1h0.9m-8.6 9.4h0.9m10.9-15.9h0.9m-4.8 8h0.9m5.8 1.5h0.9m-7.3-10.8h0.9m-7.4-1h0.9m5.7 3.9h0.9m-0.9 11.5h0.9m0.6-5.4h0.9m0-1h0.9m-3.7 3.3h0.9m-8.1 9h0.9m1-4.8h0.9m4.6 3.1h0.9m-0.9-23.6h0.9m3.5 13h0.9m-4.9-1.2h0.9m2.8 8.5h0.9m-4.1-27.2h0.9m-3.6 19.1h0.9m8.4 3.2h0.9m-8.9 9.3h0.9m-0.9-14.1h0.9m0.2-16.9h0.9m2.4 22.2h0.9m-6.1-18.1h0.9m1.2 29.3h0.9m-4.5-28.3h0.9m3.6-6.2h0.9m-12 13.3h0.9m5.5 1.9h0.9m-0.3 7h0.9m0.5-10.7h0.9m-1.9 14.2h0.9m5.1 3.1h0.9m-2-48.3h0.9m-8.1 34.3h0.9m4.2-15h0.9m4.2 22.1h0.9m-9.5-1.6h0.9m0.3-10.6h0.9m2.7 3.5h0.9m-9-2.1h0.9m4.6-5.1h0.9m4.9-0.1h0.9m1.1 22.8h0.9m-12.2-8.7h0.9m8-3.7h0.9m-10.8 3.5h0.9m12.4-18.5h0.9m-6.9 17.3h0.9m-3.7-4.6h0.9m-1.8 16.4h0.9m3-23.3h0.9m3.1-3.5h0.9m-4.6 17.1h0.9m1.3 1.9h0.9m-1.5-4.3h0.9m-1.2 4.2h0.9m4-11.9h0.9m-4.9 13.3h0.9" stroke="#000" stroke-width="0.9" fill="none"/>
<path d="M730.5 235.5h0.8m1.4-18.2h0.8m-15.4 43.7h0.8m-2.3 14.6h0.8m9.5-23.8h0.8m2 3.4h0.8m-3.6-15.7h0.8m0.4 28.3h0.8m9.3 4.5h0.8m-7-29.5h0.8m-17.1 16.9h0.8m19.3-20.9h0.8m-1 33.9h0.8m-6.5-4.7h0.8m0.9-55.8h0.8m-7.1 26.5h0.8m7.2-9.1h0.8m-8.5-2h0.8m2.4 20.7h0.8m7.3 14.5h0.8m-7.3-11.1h0.8m-1.2-2.6h0.8m10.7-51.9h0.8m-14.6 55.9h0.8m9.7-28.1h0.8m-7.1 39.1h0.8m-7.1-55.4h0.8m-0.2 14.2h0.8m7.3 7h0.8m8.3 19.8h0.8m-21.5-12.9h0.8m-3.1 17.9h0.8m19.8-12.1h0.8m-5.3-14.6h0.8m-19.4 43.5h0.8m19.8-62.2h0.8m-21.7 18.1h0.8m18.5 10.9h0.8m-9.9 22.7h0.8m1.5-9.6h0.8m-4.4 18h0.8m-4.4 11h0.8m2.7-49.5h0.8m7.1 25h0.8m-21.8-4.6h0.8m4.2-21h0.8m16.3-0.7h0.8m-4.3 9.6h0.8m11.9 5.7h0.8m-25.7-20.2h0.8m1.3 24.6h0.8m6.4 16.8h0.8m0.6-16.8h0.8m0.4-5.2h0.8m-1 18.3h0.8m3.1-26.6h0.8m-21.2-5.3h0.8m15.6-33.6h0.8m-6.9 58.7h0.8m-1.5-31.4h0.8m17.7 50.1h0.8m-16.9-1.3h0.8m11.7-49h0.8m10.2 3.8h0.8m-24.3-3.2h0.8m1.9-4.4h0.8m-1.5 47.9h0.8m1-26.9h0.8m9.8-12.7h0.8m-5.4 11.9h0.8m-6.8 6.6h0.8m-1.6-1.7h0.8m-8-10.3h0.8m8.9 9.2h0.8m-13.6-12h0.8m2.9 13h0.8m6.2 2.9h0.8m-7.5-1.5h0.8m-6.5-58.1h0.8m9.7 24.6h0.8m-8 8.9h0.8m11.8-0.1h0.8m-3.6 14.4h0.8m-12.9-21.8h0.8m12.7 39.2h0.8m1.7 28.8h0.8m-4.8-31h0.8m-4-3.6h0.8m-2.6-20h0.8m17.9-19.4h0.8m-14.7 46h0.8m-1.7-28.1h0.8m-3.5 10h0.8m-7.9 8.2h0.8m4.5-10.1h0.8m7.9-10.2h0.8m-2.7 8.9h0.8m-1 13.6h0.8m-2.3-21h0.8m-8.9 2.4h0.8m6.8 32h0.8m6.4-24.9h0.8m-8.8-22.4h0.8m-19.2 15h0.8m11.6-13.7h0.8m-9.7 41.6h0.8m7-44.2h0.8m24.1 36.9h0.8m-21.8 10.1h0.8m-4.4 18.1h0.8m-7-57.8h0.8m10.3 10.8h0.8m11.6-16.8h0.8m-17.9 36.7h0.8m9.5 15.2h0.8m-2.6 23.9h0.8m-7.3-40.4h0.8m9.8-9.9h0.8m-10-3h0.8m-3.6-13.2h0.8m-0.1-8.4h0.8m6.6-0.9h0.8m12.7 65.5h0.8m-8.5-38.1h0.8m-14.3 28.6h0.8m5.3-13.3h0.8m-8 10.1h0.8m-1.4-19.1h0.8m-8.3-15.2h0.8m17 4h0.8m-8.3 24.7h0.8m2.1 9h0.8m-19.5-13.4h0.8m22.5-42.1h0.8m-15.1 48.2h0.8m1-30.2h0.8m12.5 6.1h0.8m-1.8-10.7h0.8m-2.3 38.9h0.8m-0.5-65.3h0.8m1.8 44.9h0.8m-13.2 26.5h0.8m-7.5 9.6h0.8m8-6h0.8m3.9-57.8h0.8m0.3 33.1h0.8m2.8 14.5h0.8m-12.3-11.3h0.8m12.2-15.2h0.8m-14.1-13.7h0.8m12.6 35h0.8m-13.3-42.6h0.8m15.6-4.3h0.8m-9.4 14.9h0.8m-16 18.5h0.8m11.6 26.2h0.8m18.8-32.4h0.8m-10.7 24.5h0.8m-13.1-38h0.8m16.2 10h0.8m-13.9 1.4h0.8m-1.6-6.2h0.8m6.2 37h0.8m-9.7-52.4h0.8m2.6-2.2h0.8m-6.3 54.1h0.8m22.7-17h0.8m-27.7 8.1h0.8m-10.2-29.4h0.8m29.2 28.7h0.8m-23.9-48h0.8m17 32.2h0.8m-12.4 9.1h0.8m-0.6-46.4h0.8m10.2 25.3h0.8m-15.2-13.6h0.8m9.1 10.5h0.8m2.2 10.7h0.8m2.9-2.4h0.8m-14.7-31.5h0.8m-4.3 53.6h0.8m32.3-39.3h0.8m-33.4 31.7h0.8m11.3-20.2h0.8m-4-18.6h0.8m-3.8 50h0.8m14.6-21.3h0.8m-15.9 12.4h0.8m10.1 0.6h0.8m-15.6-2.6h0.8m12.9-21.2h0.8m-19.2 24.3h0.8m12.8 9.1h0.8m-3-32h0.8m-5-7.7h0.8m-4.9 9.3h0.8m2.9 33.4h0.8m-6.7-23.1h0.8m4.3 30.5h0.8m6-37h0.8" stroke="#222" stroke-width="0.8" stroke-opacity="0.7" fill="none"/>
<path d="M740.4 196.8h0.8m-52.1 58.5h0.8m46.4 7.7h0.8m17-37.9h0.8m-41.6-73.9h0.8m22.2 46h0.8m-2.1-3.2h0.8m-55.1-39.6h0.8m54.5 91.4h0.8m-40-33.3h0.8m65.6-51.2h0.8m-69.3-11.3h0.8m59.6 54.9h0.8m-66-76.2h0.8m10.5 105.5h0.8m-5.4-56.5h0.8m36.4-32.1h0.8m-24.2 72.8h0.8m-33.8-56.7h0.8m40.1 29h0.8m-20 12.2h0.8m17.4-45h0.8m-36.1 54.6h0.8m70.2 36h0.8m-78.9-10.3h0.8m62.9-44.7h0.8m-11.5 34.2h0.8m50.8-74.8h0.8m-47.8 36.4h0.8m-32.9 51h0.8m39.9-85.7h0.8m-44.5 49.3h0.8m-45.5 25.2h0.8m52.2-27.8h0.8m15.5 65.2h0.8m-12.6-85.7h0.8m66.6-5.7h0.8m-90.4-35.1h0.8m62.8 65.7h0.8m-25-4.1h0.8m-24.8-37.7h0.8m-26.3 48.2h0.8m35 47.5h0.8m-35.8-83.8h0.8m-11.1 73.8h0.8m-9.1-24h0.8m104.9-36.1h0.8m-29-78.6h0.8m-44.8 18.6h0.8m21.3 66h0.8m-38 37h0.8m43.7-58.1h0.8m-35.1-37.4h0.8m12.1 142h0.8m-21.6-67.2h0.8m5.7 15.1h0.8m38.3-40.9h0.8m-88.7-11.1h0.8m117.1 10.6h0.8m-23.3-9.3h0.8" stroke="#666" stroke-width="0.8" stroke-opacity="0.45" fill="none"/>
<rect x="620.4" y="137" width="71.1" height="46.4" fill="none" stroke="#3e4c7a" stroke-width="1.2"/>
<rect x="703.6" y="206.2" width="45.8" height="74.3" fill="none" stroke="#d4646e" stroke-width="1.2"/>
<text x="634" y="130.8" font-size="24.5">96.4</text>
<text x="757.7" y="265" font-size="24.5">2.7</text>
<rect x="808.3" y="102.4" width="187.2" height="187.6" fill="none" stroke="#8a8a8a" stroke-width="1.1"/>
<path d="M808.3 122.1h-4.5M808.3 164.3h-4.5M808.3 206.5h-4.5M808.3 268.8h-4.5M808.3 108h-2.5M808.3 112.8h-2.5M808.3 117.6h-2.5M808.3 122.3h-2.5M808.3 127.1h-2.5M808.3 131.9h-2.5M808.3 136.6h-2.5M808.3 141.4h-2.5M808.3 146.2h-2.5M808.3 150.9h-2.5M808.3 155.7h-2.5M808.3 160.5h-2.5M808.3 165.2h-2.5M808.3 170h-2.5M808.3 174.8h-2.5M808.3 179.5h-2.5M808.3 184.3h-2.5M808.3 189.1h-2.5M808.3 193.8h-2.5M808.3 198.6h-2.5M808.3 203.3h-2.5M808.3 208.1h-2.5M808.3 212.9h-2.5M808.3 217.6h-2.5M808.3 222.4h-2.5M808.3 227.2h-2.5M808.3 231.9h-2.5M808.3 236.7h-2.5M808.3 241.5h-2.5M808.3 246.2h-2.5M808.3 251h-2.5M808.3 255.8h-2.5M808.3 260.5h-2.5M808.3 265.3h-2.5M808.3 270.1h-2.5M808.3 274.8h-2.5M808.3 279.6h-2.5M808.3 284.4h-2.5M828 290v4.5M892.5 290v4.5M934.7 290v4.5M975.8 290v4.5M812 290v2.5M816.7 290v2.5M821.3 290v2.5M825.9 290v2.5M830.5 290v2.5M835.1 290v2.5M839.7 290v2.5M844.3 290v2.5M848.9 290v2.5M853.5 290v2.5M858.1 290v2.5M862.7 290v2.5M867.3 290v2.5M871.9 290v2.5M876.6 290v2.5M881.2 290v2.5M885.8 290v2.5M890.4 290v2.5M895 290v2.5M899.6 290v2.5M904.2 290v2.5M908.8 290v2.5M913.4 290v2.5M918 290v2.5M922.6 290v2.5M927.2 290v2.5M931.9 290v2.5M936.5 290v2.5M941.1 290v2.5M945.7 290v2.5M950.3 290v2.5M954.9 290v2.5M959.5 290v2.5M964.1 290v2.5M968.7 290v2.5M973.3 290v2.5M977.9 290v2.5M982.5 290v2.5M987.1 290v2.5M991.8 290v2.5" stroke="#777" stroke-width="0.8" fill="none"/>
<path d="M808.3 268.4h-4M808.3 266.6h-4M808.3 270.3h-4" stroke="#333" stroke-width="1.2"/>
<path d="M828 290v4M829.8 290v4M826.1 290v4" stroke="#333" stroke-width="1.2"/>
<path d="M819.3 160.6h0.9m35.9-9h0.9m-12.5 7.8h0.9m-4.7 0.5h0.9m5.7-24.1h0.9m0.1 15.7h0.9m-12.6 8.9h0.9m5 1.2h0.9m25.7-3.5h0.9m-45.3-7.8h0.9m40.5 4.2h0.9m-29.8 1.5h0.9m21.1 3.1h0.9m1.5-9.6h0.9m-16.4 5.1h0.9m3.4-16.4h0.9m-4.5 6.7h0.9m26.4 25.8h0.9m4-6.7h0.9m-37.3 1.4h0.9m3.9-3.1h0.9m-12.7-10.7h0.9m22.1 21h0.9m-9.1 4.3h0.9m45.8-31.5h0.9m-47.7 3h0.9m-2.7 3.7h0.9m0.3 13.3h0.9m16-6.2h0.9m-16.6-1.3h0.9m1.2 4.1h0.9m-3-0.7h0.9m-23 2.6h0.9m50.5-5.4h0.9m-54 10.4h0.9m17.3-38.6h0.9m1 32h0.9m9.2 5.6h0.9m3.1-9.9h0.9m-44.6-11h0.9m35.4 15.9h0.9m-21.2-11.5h0.9m24.3-11.5h0.9m-41.6 14.9h0.9m36.1-2.2h0.9m-43.7 4.5h0.9m15.3 5.6h0.9m19.8-3.5h0.9m11.6-7h0.9m2.2 15.8h0.9m-8.1 0.7h0.9m-18.2-3.6h0.9m14.2-17h0.9m-6.7 4.1h0.9m-8.9 5.5h0.9m26.3-3.6h0.9m-16.7-10.3h0.9m-1.2 23.4h0.9m10.9-6.1h0.9m-23.4-12.9h0.9m6.4-3.2h0.9m-20.1 20.3h0.9m4.5 7.6h0.9m-9.5-12.2h0.9m3.4-2.2h0.9m1.3-1.2h0.9m14-4.4h0.9m10.3 17.4h0.9m-19.4-5.5h0.9m10.4-8.2h0.9m34.6-19.1h0.9m-49.3 3.3h0.9m5.3 14.1h0.9m68.6 5.1h0.9m-34.9 8.5h0.9m-38.5-7.3h0.9m34.6-2.8h0.9m-25.5 3h0.9m-29.7-11.7h0.9m30.1 12.1h0.9m-22.1-7.8h0.9m12.5 1.5h0.9m12.9 2.3h0.9m-9.8-13.5h0.9m-21.5 15.5h0.9m-10-0.5h0.9m14.8-9.7h0.9m21.2 1.2h0.9m-26.3 0h0.9m14.5 30.6h0.9m-37.6-24.7h0.9m30.7 8.6h0.9m-3.1-30.5h0.9m27.7 12.3h0.9m-24.2-2.5h0.9m-18.4 7.8h0.9m32 11.9h0.9m-25.5-3h0.9m2.9-3.5h0.9m8 4.5h0.9m-13.9-6.7h0.9m13.2 2h0.9m-18.1 14.6h0.9m4.8-8.7h0.9m10.3 4.2h0.9m-41.3 7.4h0.9m32.4-29.4h0.9m4.9 31.2h0.9m5.5-31.2h0.9m-17.3 23h0.9m-16.8-13.6h0.9m17.8 21h0.9m-0.8-7.6h0.9m-7.5-19h0.9m27.6 12.8h0.9m-47.1 0.1h0.9m39.1-11.2h0.9m-8 7.9h0.9m-12.8-7.6h0.9m-4.1 2.8h0.9m-12 2h0.9m-3.7 1.1h0.9m22.9-9.9h0.9m14.9 26.5h0.9m7.1-29.5h0.9m-1.8 14.2h0.9m-23.3-7.3h0.9m-0.1 17.7h0.9m8.4-16.1h0.9m-21.4 0h0.9m20.3 20.4h0.9m-28.6-16.7h0.9m10.4-6.7h0.9m12.3 11.6h0.9m-31.5-14.2h0.9m43.2 12.1h0.9m-12.3-7.3h0.9m-16.1 8.6h0.9m-2.9-14h0.9m7.5 18h0.9m-18.2 1.3h0.9m28.2-17.1h0.9m-12.6 7.3h0.9m9.7 6.3h0.9m-33.5-17.9h0.9m38.4 13h0.9m-11.3 2h0.9m17.9-13.8h0.9m-8.3 3.5h0.9m-7 19.2h0.9m-36.4-8.3h0.9m17.7-6.2h0.9m4.4-6.8h0.9m-17.8 15.2h0.9m29.5-10.9h0.9m-39.6 25.7h0.9m42.1-17.4h0.9m-36.7-8.4h0.9m20.5-3.3h0.9m21.9 9.7h0.9m-21.2-10.4h0.9m-22.7 2.2h0.9m19 4.6h0.9m-10.4 5.2h0.9m7.7 10.4h0.9m-8-22.2h0.9m2.2 22h0.9m-10-12.6h0.9m2.4 3.2h0.9m9.4-10.8h0.9m-9 15.5h0.9m21.3-0.1h0.9m-4.8-11.2h0.9m-21.5 11.2h0.9m-14.4-8.7h0.9m-12.3-2.9h0.9m18.3-7.3h0.9m20.6 4.2h0.9m-16.7 4.2h0.9m-7.1 14.9h0.9m3.2-10.9h0.9m-14.5-5.9h0.9m15.5 1.5h0.9m-5.2 4h0.9m34.9-2.5h0.9m-29.3-2.2h0.9m43.8 17.7h0.9m-33.9-8.1h0.9m-22.1-7.5h0.9m14.5 2.4h0.9m-18.7-8h0.9m22 9.7h0.9m-44.7-2h0.9m55.5-6.5h0.9m-18.1-7.1h0.9m9 3h0.9m-35.7 7h0.9m59.5-2.6h0.9m-61.5 9.5h0.9m24 10.6h0.9m-25.9-28.7h0.9m15 17.4h0.9m10.3 6.2h0.9m-31.7-16.9h0.9m21.8 14.7h0.9m9.2-11.1h0.9m-25.8 11.5h0.9m31.9 16.2h0.9m-19.7-9.6h0.9m-18.1-19.2h0.9m8 0.7h0.9m-4.2-0.7h0.9m12.8 0.9h0.9m11 3.2h0.9m-11.9 13.7h0.9m4.3-11.6h0.9m-6.4-0.8h0.9m8.9-7.6h0.9m8.7 20.9h0.9m-0.8-18.2h0.9m-46.6 0.5h0.9m28.2 11.1h0.9m-6.5-9.9h0.9m27.4-3.3h0.9m-8.4 13.9h0.9m-40.8-5.5h0.9m11.9-10.8h0.9m-22.4-5.5h0.9m36.8 10.4h0.9m-3.2-5.9h0.9m-10.8 6.9h0.9m-21.3-12.2h0.9m32.1 15.9h0.9m-23.7-2.2h0.9m25.6 17.1h0.9m-26.7-10.7h0.9m49.2-4.9h0.9m-11.8-23.4h0.9m-1.2 22.7h0.9m-56.3 7h0.9m47.9 3.8h0.9m1.6-10.9h0.9m-33.4-3.8h0.9m11 7.6h0.9m-8.3-3.1h0.9m21.7 2.4h0.9m22.7 16.2h0.9m-58.2-24.1h0.9m-3.6-5.2h0.9m30 1.5h0.9m-27.5 6.4h0.9m30-0.8h0.9m-20.3 11.3h0.9m13-4.1h0.9m7-13h0.9m-13.1 3.3h0.9m12.6 12.8h0.9m-35.4 4.7h0.9m-3-1.5h0.9m22-18.1h0.9m-23 5h0.9m17.4-3.6h0.9m8.9-6.1h0.9m-10.4 12.4h0.9m-32.1 2.8h0.9m9.3-24.9h0.9m9.9 20.1h0.9m24.5-2.3h0.9m8.6 17.1h0.9m-7.2-1h0.9m-13.3-16.7h0.9m4 13.5h0.9m-7.7-10.7h0.9m-31.2 8.1h0.9m31.3-17.5h0.9m-5.1 17.9h0.9m-4.4 0.6h0.9m13.5-20.1h0.9m-18.6 17.4h0.9m19.6 8.2h0.9m-48.5-13.1h0.9m43.3 11.5h0.9m15.4-19.2h0.9m-35.5-1h0.9m19.1-2.4h0.9m5.3 20h0.9m-12.6-27.6h0.9m-20.5 26h0.9m-13.3-8.8h0.9m21.1 10h0.9m5.6-5.4h0.9m-13-2.4h0.9m4.2 6.4h0.9m-1.6 2.7h0.9m-26.4 1.5h0.9m24.7-0.6h0.9m3.4-2.5h0.9m22.8-12.5h0.9m-24.7 3.4h0.9m1.3-12.9h0.9m-7.3 12.2h0.9m-11.2 0.5h0.9m-13.7 14.1h0.9m32.6 4.4h0.9m-23.1-27.2h0.9m18.5-4.4h0.9m-1.9 8.6h0.9m-10.3 8.5h0.9m5.5 14.3h0.9m8.9-28.1h0.9m5-0.4h0.9m-15.9 0.8h0.9m-16.3 22.8h0.9m3.6-17.4h0.9m-0.9 2.9h0.9m32.7-7.7h0.9m-45.9 15.6h0.9m-6.9-8.4h0.9m44.9 3.3h0.9m-28-6.4h0.9m-8.3 1.1h0.9m16.8 16.3h0.9m13-16.1h0.9m-29.4 11.2h0.9m-19.1-10.1h0.9m24.1-6h0.9m-12.2 13h0.9m-12-11.3h0.9m16 8.9h0.9m-13.1 8.9h0.9m16.9-12h0.9m-1.8-3.7h0.9m-11.3 16.2h0.9m18.9-11.2h0.9m12.4-5.4h0.9m-7.1 6.5h0.9m-26.4 6.6h0.9m-11.1-1h0.9m9.3-2.2h0.9m37.1 1.4h0.9m-34.2-5.3h0.9m3-10.1h0.9m-13.3 10.7h0.9m26.6-16h0.9m-11.1 20.1h0.9m2.1-13.4h0.9m14.6-1.9h0.9m-7.4 24.9h0.9m-45.9-11.9h0.9m38.4-0.3h0.9m-19-4.7h0.9m-11.4 3.9h0.9m31.4-7.1h0.9m-25.4 1.7h0.9m14.4 4.7h0.9m-2.5 0.1h0.9m-21-24.8h0.9m31.2 36.7h0.9m-34.8-18.4h0.9m27.7 14.3h0.9m4.9 2.8h0.9m-12.6-7.6h0.9m6.8-7.5h0.9m12.3 9.3h0.9m-4.6-8.9h0.9m-0.1-5.9h0.9m-11.5-13.7h0.9m-24.3 29.5h0.9m8.4-5h0.9m-20.4 12.2h0.9m36-13.9h0.9m-3.9 3.1h0.9m15.8-1h0.9m-49-4.1h0.9m45 7.2h0.9m-29.3 0.4h0.9m8 0h0.9m-29.2-13.3h0.9m36.6 5.9h0.9m-6.1 19.2h0.9m-12-15.1h0.9m-5-7.6h0.9m7.2-7.3h0.9m-34.7 24.8h0.9m32.4-2.1h0.9m2.8-8.6h0.9m8.2 5h0.9m-32 4.3h0.9m3-8.8h0.9m57.7-1.1h0.9m-15.7-3.7h0.9m-18.4 3.5h0.9m-4.1-8h0.9m-23.1 10.5h0.9m-11.6-10.4h0.9m35.7 2h0.9m-26.3-4.3h0.9m16.3 6.5h0.9m-0.9 1.6h0.9m27.4-2.2h0.9m-64.2 4.8h0.9m31.7 0.4h0.9m-27.6 8.6h0.9m25.2-10.4h0.9m-26.6 4.6h0.9m24.2 7.7h0.9m-6.7-22.7h0.9m8.2 2.8h0.9m3.8-1.5h0.9m-9.9 7.5h0.9m0.7-2.5h0.9m-13.8 4h0.9m2.9 1.9h0.9m4.2-21h0.9m2.6 31.8h0.9m5.1-6.9h0.9m1.7-9.4h0.9m-30.5 11.2h0.9m38.5-2.1h0.9m-11.3-1.5h0.9m-8.3-1.1h0.9m-0.3 0.5h0.9m-16.6-8.4h0.9m24 2.6h0.9m-50 4h0.9m1.3 15.5h0.9m48.5-10.7h0.9m-23.6-15.7h0.9m6.5 10h0.9m-10 1.2h0.9m22.9 3.8h0.9m-29.1-23.9h0.9m16.2 13.1h0.9m6.3 19.9h0.9m18.6-11.7h0.9m-9.6 11.7h0.9m-18.2-11.9h0.9m12.3-2.6h0.9m-22.9-6.2h0.9m7.3 1.2h0.9m12 2.5h0.9m10 13.3h0.9m-44.9-1.1h0.9m12.8 2.5h0.9m14-12.2h0.9m1.7-4.4h0.9m-6.5 8.1h0.9m-8.6 0h0.9m-14.7 1.5h0.9m-4.3 0.6h0.9m26.4 0.7h0.9m-17.5 20h0.9m4.4-24.7h0.9m-9.4 11h0.9m3.8-3.8h0.9m-8.6-5.8h0.9m8.4 5.3h0.9m0.5-15.3h0.9m11.1-2.8h0.9m-23.6 16.8h0.9m-15.7-0.1h0.9m22.9-14.3h0.9m9.5 13.2h0.9m-14.2-6.9h0.9m21.5 8h0.9m-14.6-13h0.9m-15.3 1.5h0.9m25.3 10h0.9m-6.9 7h0.9m-10.6-15.1h0.9m-2.3 19.5h0.9m-27.7-13.8h0.9m39.4-1.9h0.9m29.4 9.5h0.9m-26-17.6h0.9m-5.2 4.5h0.9m-8.2 4.8h0.9m-9.3 3.7h0.9m33 3.5h0.9m-23.5-25.2h0.9m13 25.5h0.9m-21.4-13.1h0.9m12.8-2.8h0.9m1.3-2.3h0.9m-28.3 9.3h0.9m-9.5-0.1h0.9m31-11.2h0.9m5.4 6.4h0.9m-6.9 6.6h0.9m-17-6.2h0.9m-20.8-1.5h0.9m14 19.8h0.9m27.7-25.5h0.9m-4.4 13.5h0.9m-19.7 2h0.9m17.8-8.7h0.9m-17.9 6.2h0.9m-12.2 0.2h0.9m13.5-7.3h0.9m-13 8.3h0.9m26.5 0.2h0.9m-28.5 3.6h0.9m15.4-1.3h0.9m15-12.6h0.9m-21.7 2.5h0.9m-12.6 22h0.9m28-31.8h0.9m-9.1 10.2h0.9m10.6 5.4h0.9m-21.9 0.5h0.9m8-1h0.9m-10.5-1.4h0.9m10.7-8.3h0.9m-9.1 8.5h0.9m-8.5 7.2h0.9m-13.7-9.3h0.9m6 7.7h0.9m5.2-4.2h0.9m12.7-13.8h0.9m0.2 7.1h0.9m-12.2 5.3h0.9m16 7.2h0.9m14.3-4.7h0.9m-36.5-5.7h0.9m17.1 17.7h0.9m-5.9-18.3h0.9m-1.9 6.9h0.9m-4.8-8.3h0.9m-41.7 1.7h0.9m56.1 6.3h0.9m-52.7-1.8h0.9m4.9 16.7h0.9m31.4-26.8h0.9m8.8 3.5h0.9m-4.7 6.8h0.9m-28.5 5.4h0.9m-3.5 5.7h0.9m21.4-19.9h0.9m-30.7 22.2h0.9m50.9-24.2h0.9m2.2 12h0.9m-30.5-2.1h0.9m-1.7 12.7h0.9m5.8-27.5h0.9m29.9 22.9h0.9m-51.4-10.4h0.9m2 3.4h0.9m19.8 1.6h0.9m-16.7-8.7h0.9m22 5.9h0.9m21.4-6h0.9m-24.1 7.2h0.9m-25.5 11.1h0.9m13.2-19h0.9m-8 16.1h0.9m-15.2 3h0.9m29.4-13.9h0.9m9.7 17h0.9m-12.9-13.3h0.9m18.9 11.2h0.9m-44.9-14.3h0.9m10.4-1.8h0.9m-21.3 11.1h0.9m24.2-6.8h0.9m20.2-5.6h0.9m-24.2 7.1h0.9m-6.9-3.2h0.9m18.2 0.8h0.9m8.1-6.2h0.9m-18.9-5.8h0.9m-6 6.2h0.9m22.7 12.2h0.9m-14.5 9.3h0.9m14.1-9.5h0.9m-35-18.3h0.9m9.6 9.2h0.9m-10.7 0.5h0.9m-17.1 15.1h0.9m7.3-18.3h0.9m26.5-8.1h0.9m4.8 21.8h0.9m-20.7-17.1h0.9m-3.5-6.6h0.9m29 16.2h0.9m-35-8.2h0.9m20.1 20.5h0.9m-30.5-17.7h0.9m-8.7 10.6h0.9m29.8 13.5h0.9m-5.4-22.9h0.9m-10.3 11h0.9m-15.7-0.9h0.9m29.3-10.7h0.9m-19.4 13.3h0.9m43.6-12.8h0.9m-22.4 18.7h0.9m-19.4-17h0.9m-10.6 0.8h0.9m17.5-2.3h0.9m-11.5-9.9h0.9m-10.7 5.2h0.9m31.1 3.9h0.9m-24.9 10h0.9m21.9-12.1h0.9m-20.1 12.2h0.9m15.1-12.9h0.9m-2.9 6.9h0.9m13.2-7.1h0.9m-4.6 11.1h0.9m-31.5 5.3h0.9m30.1-20.3h0.9m16.5 1.5h0.9m-47.9 7h0.9m26.5 7.8h0.9m-14.9 6.7h0.9m7.2 0.3h0.9m38.3-10.3h0.9m-64.2-0.9h0.9m18.2-11.4h0.9m-21.3 8.3h0.9m14.7-20.2h0.9m18.2 22.8h0.9m-17 2.3h0.9m-17.5-3h0.9m32.9 9.7h0.9m-10.3-11.7h0.9m-22 13.9h0.9m21.2-15.2h0.9m-45.2-3.9h0.9m3 18.5h0.9m34-17.4h0.9m-8.6 29.2h0.9m23.8-34.5h0.9m-23.2 1h0.9m-27.3 12.3h0.9m67.8 12.2h0.9m-40.3-17h0.9m1.7 12.4h0.9m-28.5-25.6h0.9m54.8 19h0.9m-5.5-0.4h0.9m-3-7.5h0.9m-17.3 19.1h0.9m7.9-17.8h0.9m-3-1.8h0.9m-39.8 10.5h0.9m46.5 2.9h0.9m-45.5 0.2h0.9m31.6-11.8h0.9m-54.1 13.1h0.9" stroke="#000" stroke-width="0.9" fill="none"/>
<path d="M866.1 163.5h0.9m-43.7-21.9h0.9m43.9 25.2h0.9m-9.3-11.5h0.9m-2.6-3.3h0.9m-12.4-3.6h0.9m8.4 5h0.9m10.5 12.5h0.9m-29.8 12.4h0.9m-6-15.3h0.9m35.3 9.2h0.9m-54.9-3.1h0.9m55.3 4.8h0.9m-57.5-23.4h0.9m34.1 2.6h0.9m22.8-2.6h0.9m-2.8 13.7h0.9m-45-17.2h0.9m15.3 12.1h0.9m23.2-3.1h0.9m-2.3-15.5h0.9m-8.3 13.5h0.9m-25.2 8.7h0.9m47.7-5.8h0.9m-44.8-8.3h0.9m43.5 9h0.9m-23.2 13.9h0.9m6.8-23.7h0.9m-2.9 19.6h0.9m-8.6 1.8h0.9m-18.3-12h0.9m-0.3 9.2h0.9m-3-4h0.9m-8.2-5.8h0.9m11.2 0.1h0.9m7.3-0.7h0.9m-6.7-21h0.9m20.9 16.1h0.9m-23.1-2.3h0.9m19.6-0.8h0.9m-9.1 23.1h0.9m18 0.1h0.9m-17.9-26.5h0.9m10.2 26.5h0.9m-8.4-4.3h0.9m-13.4-14.6h0.9m15.7 19.9h0.9m-35.8-4h0.9m20.3-0.3h0.9m-0.5 2.5h0.9m11.5-2.5h0.9m-40.4-0.7h0.9m22.6-21.5h0.9m9.9-2.7h0.9m2.2 33.9h0.9m-23.8-8.6h0.9m14.8-2.9h0.9m-30.5-0.5h0.9m23.5 1.5h0.9m-2.9 3.9h0.9m3.5-4.6h0.9m17-5.4h0.9m-7 0.5h0.9m-8.6-8.3h0.9m3.2 19.3h0.9m-14.9-4.8h0.9m7.5-20.8h0.9m-2.2 26.6h0.9m-14.5-34h0.9m10.3 12.5h0.9m26.7 6.6h0.9m-31.8-6.4h0.9m3.2 0.7h0.9m-19.6 5.5h0.9m0.6 15.1h0.9m-6.7-15.2h0.9m6.9-14.3h0.9m37.2-7.8h0.9m-4.3 7.5h0.9m-23 40.1h0.9m-36.8-39.7h0.9m54.8 16.9h0.9m-31-2.3h0.9m-7.6 1.7h0.9m38.9-5.5h0.9m-22.9 17.3h0.9m29-19.5h0.9m-28.2 0.3h0.9m-16.1 1.7h0.9m-0.7-14.4h0.9m-22.9 10.8h0.9m33.4 21.2h0.9m-11.6-15h0.9m18.4 9.8h0.9m-13.5-8.6h0.9m31.3-3h0.9m-39.1-14.1h0.9m14 14.8h0.9m22.9-0.7h0.9m-18.6 13.7h0.9m12.6-24.3h0.9m-2.2 14.3h0.9m-27.9-3.5h0.9m-5.6-0.3h0.9m-32.2 9.2h0.9m37.8-15.8h0.9m-2.9 35.2h0.9m6.2-29.1h0.9m20.6-4.4h0.9m-31 2.6h0.9m-2.2 13.9h0.9m12.2-15.8h0.9m-12.3 8.8h0.9m-5.4-1.3h0.9m-6-7.6h0.9m11.5-3.2h0.9m5.1 9.1h0.9m-22.5-4.6h0.9m6.2 4.9h0.9m8.7-0.5h0.9m-16.7 17.7h0.9m27.5-14.3h0.9m-0.1 2.4h0.9m-20.3-2.6h0.9m46 9.7h0.9m-27-14.9h0.9m-8 28.6h0.9m-3.7-12.8h0.9m12.4-4.6h0.9m4.2-4.5h0.9m-18.2-9.2h0.9m33.4 10h0.9m-41.3 11.7h0.9m-10.5-15h0.9m-5.6 0.3h0.9m5.4 5.6h0.9m3.2-12.3h0.9m-3.5 5.1h0.9m-4.4 11.4h0.9m18-8.5h0.9m-30.6 4h0.9m-2.4-3.6h0.9m20.3-8.3h0.9m-14.9-1.2h0.9m45.1 4.7h0.9m-37 13.1h0.9m9.1 1h0.9m-27.1-23h0.9m71.7 11.2h0.9m-58.6 2.2h0.9m19.5-14.4h0.9m-12.1 12.4h0.9m5.3 2.2h0.9m-20.1-11.2h0.9m-31.2 19.8h0.9m14.5-14.8h0.9m48.9-0.2h0.9m-17.6 2.2h0.9m0.4 2.6h0.9m-20.1 14.1h0.9m3-28.7h0.9m-1.9 20h0.9m-13.4 2.7h0.9m29 14.2h0.9m-23.3-15.5h0.9m-17.2-11.6h0.9m27.3 8.8h0.9m-3.4-5.3h0.9m-9.8-3.8h0.9m13.7 10.7h0.9m4.4 4.7h0.9m7.8-29.8h0.9m-28 17.5h0.9m-2.9 12.8h0.9m21.2-12.3h0.9m-10.9 14.6h0.9m-8.3-16.8h0.9m19 8.4h0.9m7.2-1.1h0.9m-11.5-9.7h0.9m-27.6 5.7h0.9m-28 4.4h0.9m56.4-3.5h0.9m-19.8 10.8h0.9m2-1.2h0.9m34.4-2.7h0.9m-20.7-2.5h0.9m-11.8-2.3h0.9m-3.8 8.6h0.9m-27.4-14.3h0.9m34.9-6.2h0.9m-12.9 1.6h0.9m7.7 16.6h0.9m15.1-3.9h0.9m-35.2-2.6h0.9m19.4 12.3h0.9m-43.7-11.1h0.9m4.1 3.7h0.9m35-2.3h0.9m6-1.2h0.9m-25.1-0.4h0.9m28.3-4.9h0.9m-19.4-11.7h0.9m16.9 7.5h0.9m-30.9 0.7h0.9m-2.7 2h0.9m32.7 11.1h0.9m1.5 7.4h0.9m-37.5-10.7h0.9m36.9 19.2h0.9m-46.9-39.4h0.9m28.8 11.5h0.9m-23.9 7.6h0.9m2.3-28.1h0.9m11.1 25.4h0.9m9.5 8.6h0.9m-8-12.4h0.9m-14.3-15h0.9m2.7 28h0.9m16.2 11.2h0.9m-13.5-40.7h0.9m14.5 29.9h0.9m-32.3-28.1h0.9m19.9 24.7h0.9m-21-11.2h0.9m4.5-8.9h0.9m-9.4 14h0.9m14-8.6h0.9m-36.2 25.6h0.9m25.3-19.9h0.9m-3.9 5.4h0.9m-6.8-3h0.9m19.9 8.7h0.9m-15.2-16.6h0.9m12.6 29.1h0.9m-20.4-19.2h0.9m12 0.3h0.9m19.7-1.9h0.9m-7.1 1.5h0.9m-14.3-5.3h0.9m-17.7-1.4h0.9m13.1 1h0.9m22.8 6.8h0.9m-5.1 7.6h0.9m-45.9-7.1h0.9m36.3-5.6h0.9m-21.1 6.8h0.9m37.7 5.1h0.9m-20.3-4.2h0.9m14.9 12.6h0.9m3.9-17.8h0.9m-18.7 0.2h0.9m1.2-7h0.9m7.6-2.1h0.9m-25.6 11.1h0.9m2.6-6.3h0.9m-24.5 11h0.9m31.7-9.8h0.9m6.5 3.6h0.9m-19.3 19h0.9m3.1-10.9h0.9m35-16.9h0.9m-28.3-2.1h0.9m14.2 5.1h0.9m-34.8 17.5h0.9m30.9-23.4h0.9m3.3 11.5h0.9m23.2 16.1h0.9m-52.4-21h0.9m-6 4.2h0.9m13.7 6.4h0.9m-0.3-23.4h0.9m-15.1 30.6h0.9m30.1-16.7h0.9m-21.2-0.1h0.9m1.6-16h0.9m12.8 10.8h0.9m-12.7-19.8h0.9m0.5 41h0.9m-39.8 1.9h0.9m41.7-23.9h0.9m-33.3 20.1h0.9m28.2-6h0.9m-9.3-14.7h0.9m17.1-1.7h0.9m-0.4-7.6h0.9m-29.7 2.3h0.9m34.3-3.2h0.9m-39.5 25.6h0.9m20.7 16.3h0.9m24.5-16.8h0.9m-19-25.9h0.9m-25.7 15.9h0.9m10.2-11.1h0.9m-12.8 5.6h0.9m30.6 13.5h0.9m-22.9-7.4h0.9m8.9-4.5h0.9m-9.7-10.9h0.9m13.9 28.5h0.9m-5.8-5.1h0.9m-0.8 16.6h0.9m-3.5-35.8h0.9m-20.7 21.7h0.9m32.5 0.6h0.9m-4.5-6.2h0.9m-37.6-9.5h0.9m-6 3.4h0.9m6.1 5.1h0.9m18-21.7h0.9m13.3 28.8h0.9m-34.4-6.6h0.9m32.4-4.6h0.9m1.3 5.1h0.9m2.5-0.1h0.9m-20.5 3.5h0.9m14.1-2.8h0.9m-20.4-11.1h0.9m0.2 2.3h0.9m8.3 7.9h0.9m-5.5-1.8h0.9m3.1 16.7h0.9m15.5-22.9h0.9m-13.3 2.6h0.9m-9.2 0.9h0.9m-9.3-11.9h0.9m-30.1 16.7h0.9m57-11.9h0.9m-11.6 5.6h0.9m-4.5-4.5h0.9m-9.1 7.4h0.9m-35 3.5h0.9m34.7-28.9h0.9m11.6 26.2h0.9m-8 4.2h0.9m-10.8-15.4h0.9m-1.3 7h0.9m41.5 24.3h0.9m-44-24.2h0.9m12 10.5h0.9m-17.1-16.8h0.9m41 22.1h0.9m-56.6-30.3h0.9m10.7 21.3h0.9m21-6.1h0.9m-35.5 6.1h0.9m34.6-2.4h0.9m-18.5 6.2h0.9m6.1-18.3h0.9m1.5-1.9h0.9m13.1 19h0.9m-32.3-2.7h0.9m35.1-25.5h0.9m-23.2 40.9h0.9m-23.6-19.5h0.9m1.1 1h0.9m-16.6-16.8h0.9m29.1 19.1h0.9m13.8 3.1h0.9m11.5 2.9h0.9m-7.5-18.1h0.9m-15.3 45.1h0.9m38.2-25.5h0.9m-25.6 1.7h0.9m-19.3 10.6h0.9m-0.5-22.2h0.9m40.4-21.8h0.9m-30.2 3.9h0.9m-17.4 17.8h0.9m4 2.9h0.9m-7.6-3.1h0.9m-7.7-3.1h0.9m-4.2 11.4h0.9m0.6 0.4h0.9m13.4-10.8h0.9m25 4.5h0.9m-50.9 4.2h0.9m23.4-20.8h0.9m6.9 12h0.9m30.5-1.4h0.9m-1.9 19.9h0.9m-42.6-24.1h0.9m30.7 7.5h0.9m-19.9-1.3h0.9m-23.3-1.3h0.9m3.2-12.8h0.9m10 36.5h0.9m30.4-20.3h0.9m-25.2 6.3h0.9m19.2-2.1h0.9m-31-7.8h0.9m25.5 33h0.9m-29.8-51.4h0.9m22.7 21.8h0.9m-11.9 14.5h0.9m-2.1-28.3h0.9m-34.2 14.1h0.9m12.3 3.8h0.9m-2.8-7.1h0.9m-4.1-0.1h0.9m15.9 10.6h0.9m28.5-8.6h0.9m-37.1 23.6h0.9m19.2-14.8h0.9m3.1 9.3h0.9m5.7-8.6h0.9m-4.8-17h0.9m-23.6 8.3h0.9m10.7 1.4h0.9m2.6 0.1h0.9m-13-18.3h0.9m19.9 24.5h0.9m-29.1-1h0.9m20.1-4.7h0.9m-37.7-14.1h0.9m19.5 31.2h0.9m-5.2-21.7h0.9m-5-1.6h0.9m23-17.6h0.9m-6 16.3h0.9m14.5 17.5h0.9m-51.4-12.6h0.9m51.9-5.6h0.9m-24.3 18h0.9m-0.1-23.9h0.9m-7.8-1.4h0.9m19.5-4.4h0.9m6.5 0.9h0.9m-16.7 1.9h0.9m-6.8 27.6h0.9m22.8 3.2h0.9m-20.9-13.3h0.9m4.4 5.6h0.9m-11.3 5.4h0.9m11 0.5h0.9m1.6-5.2h0.9m-20.8-12.1h0.9m-10.1 1.3h0.9m17.5 12.6h0.9m-18.8 26.6h0.9m17.9-21.9h0.9m18.2-42h0.9m-22.4 44.4h0.9m-36.5-7.9h0.9m24-13.7h0.9m17.9-15.5h0.9m-1.4 13.5h0.9m-16.5 15h0.9m69.3-4h0.9m-49.6-4.4h0.9m-22 3.5h0.9m36.1-0.8h0.9m-11.3-4.6h0.9m26-15.8h0.9m-32.8 24.3h0.9m-6.2-18.4h0.9m-24.1 9.7h0.9m19.5-10.8h0.9m-20.1 19.7h0.9m33.7-12.5h0.9m-29.5-1.8h0.9m51.5 13.5h0.9m-42.9 5.7h0.9m38.1 1.8h0.9m-62.3-13.9h0.9m15.9-2.9h0.9m-14.3-0.6h0.9m1.3 8.2h0.9m17.7-19.5h0.9m-29.8 10.3h0.9m38 10.9h0.9m-12.7-42.3h0.9m-8 28.5h0.9m1.7-5.3h0.9m-2.5 6.2h0.9m51.1 15.2h0.9m-49-8.4h0.9m0.4 2.7h0.9m-5.7-2.3h0.9m22.8 9.4h0.9m-12.7 5.6h0.9m-2.4-25.8h0.9m-33.5 3.2h0.9m27 12.2h0.9m18-10.8h0.9m-32.1 14.9h0.9m31.9-13.9h0.9m-14.8 20.7h0.9m-1.2-16h0.9m-40.6 15.4h0.9m44.2-13.3h0.9m-19.3-15.3h0.9m5.2 12.7h0.9m18.9-12.3h0.9m4.8 13.8h0.9m-5.1-11.1h0.9m-14.8 24.3h0.9m-4.8-29.9h0.9m-8.2 22.3h0.9m-18.6-22h0.9m26.1 5.5h0.9m6.5-2.5h0.9m-42.5 4.4h0.9m54.1-0.9h0.9m-25.6 12.3h0.9m-16.6 9.4h0.9m17.8-7.2h0.9m-31.7-24.4h0.9m23.2 27.5h0.9m27.4-10.8h0.9m-29.9 7.8h0.9m28.8-14.2h0.9m-15.8 6.4h0.9m-16.7 11.8h0.9m-8.5-20.9h0.9m23.2 11.6h0.9m-16.3-1.2h0.9m11.7-2.6h0.9m3.5 8.7h0.9m11 9.5h0.9m-11.2-16.4h0.9m-13.1-4.3h0.9m44.2 4.1h0.9m-38.8 17.6h0.9m-32.6-24.3h0.9m15.1-1.8h0.9m-15.3 5.3h0.9m41.4 13.8h0.9m-21.7-7.8h0.9m-28.9 7.5h0.9m33.6-19.8h0.9m-4.5 9.9h0.9m-12.9-8.8h0.9m-3.5 0.5h0.9m17.9 14.5h0.9m-3.2-6.1h0.9m-12.9 24.7h0.9m-24.9-9.4h0.9m35.6-12.5h0.9m-15.1-3.2h0.9m-12.1-12.9h0.9m16.9-3h0.9m14.8 30.7h0.9m-10.3-10h0.9m-3.5 2.4h0.9m9.5 4.9h0.9m16.4-9.3h0.9m-16.2-18.3h0.9m-17.3 4.5h0.9m24.2 39.4h0.9m-14.9-40.3h0.9m-11.7 14.7h0.9m4.3 11.8h0.9m11.5-41.5h0.9m5.9 23.9h0.9m-32.6 21.3h0.9m3.9-31h0.9m-18.4 15.9h0.9m36 16h0.9m-18.7-21.9h0.9m28.7 0.2h0.9m-3.6 7.6h0.9m-21.1-5.2h0.9m0.1-2.5h0.9m-17 3.6h0.9m-0.4 4.9h0.9m11.2-6.3h0.9m-5.6 0.4h0.9m31.1 2.4h0.9m-39.4-3.1h0.9m19.9 1h0.9m-14.4-0.6h0.9m4.3 7.2h0.9m3.7-22.5h0.9m-25.8-11h0.9m29.9 41.4h0.9m7.4-10.7h0.9m-3.4-2h0.9m-21.9-16.7h0.9m-11.8 10.6h0.9m27.1 24.9h0.9m-23.7-14.2h0.9m11.4-12.7h0.9m-33.9 0.2h0.9m3.8 4.8h0.9m20.5 1.5h0.9m-1.4 7.4h0.9m-13.5 4.5h0.9m-13.1-9.2h0.9m33.1-9.5h0.9m-33.6 15.9h0.9m14.3 1.6h0.9m22.8-8.8h0.9m-13.6 11h0.9m5.3-21.2h0.9m-4.3 16.4h0.9m-0.3-4h0.9m-6.7-3.4h0.9m-13.8-14.5h0.9m33 8.8h0.9m-15.8-9.6h0.9m-1.9 7.4h0.9m45.2-2.1h0.9m-65.5 21.7h0.9m33.6-33.7h0.9m-15.4 33h0.9m-25.2-2.2h0.9m10.6-18.5h0.9m2 5.9h0.9m-18 29.8h0.9m14.5-33h0.9m20.5 7.5h0.9m7-2.2h0.9m-17 4h0.9m-3.9-3.3h0.9m-5.4 20.8h0.9m-10.3-24.5h0.9m4.6 12.3h0.9m11.3 4h0.9m-29.4-7.5h0.9m18.1-6h0.9m4.7-18.5h0.9m0.9 23.3h0.9m-28.8-2.7h0.9m47.9-3.2h0.9m-16.6 1.8h0.9m-23.9-7.7h0.9m5.9 24.5h0.9m19-22.1h0.9m2.1 6.4h0.9m-28.6 6.1h0.9m-4.5-22h0.9m35.2-2.8h0.9m-13.2 3.3h0.9m-10.2 14.6h0.9m-7.6-21.8h0.9m4.5 23.6h0.9m-13.8-0.4h0.9m30-7.1h0.9m-13-4.7h0.9m1.2 19.6h0.9m33.3 2.9h0.9m-34.3 5.6h0.9m-24.1-3.7h0.9m6.4-18.6h0.9m25.8 9.4h0.9m2.9-18.4h0.9m-18.1 10.1h0.9m-9.7-15.1h0.9m18.8 23.2h0.9m-32.2-17.1h0.9m1 30.1h0.9m11.6-19h0.9m8.8 3.8h0.9m-5.1 8h0.9m0.7 1.5h0.9m-25.6-8.9h0.9m12.7 0.5h0.9m4.2-8.1h0.9m-5.9 17.3h0.9m-4.2-23.9h0.9m17.8 24.2h0.9m-14.9-9.2h0.9m-10.1-3.6h0.9m30.6 11h0.9m-16.4-11.8h0.9m-29.7 6.5h0.9m32.9 8h0.9m24.3-7.3h0.9m-18-16.3h0.9m3.1 21.6h0.9m1.7-2.1h0.9m-15.6 8.8h0.9m-18.9-9.1h0.9m27.3-15.5h0.9m-36.9 13.2h0.9m19.7 1.9h0.9m7.5-14.8h0.9m-5.9 20.5h0.9m-12-15.3h0.9m-13.3 11.9h0.9m48.7-23.6h0.9m-20.1 24.6h0.9m-22.1-13.8h0.9m-8.7-4.4h0.9m18.6 15.5h0.9m-1.7 2.2h0.9m0.5-21.9h0.9m19.2 25.5h0.9m-35.7 6.4h0.9m18.1-17.8h0.9m22.4-28.4h0.9m-57.5 34.7h0.9m21-17.9h0.9m27.3 15.5h0.9m-45.7-12.4h0.9m33.3 26.5h0.9m-46.7-16.6h0.9m25.2-21.6h0.9m2.6 1.5h0.9m-6.9 34.9h0.9m16-9h0.9m0.5-4.6h0.9m5.1-16.5h0.9m-22.3 21.9h0.9m-6.8-14h0.9m30.3 21.4h0.9m-30.1-25.5h0.9m18.3 11.8h0.9m-21.1 3.6h0.9m18.8-5.6h0.9m37.5 13.8h0.9m-35.1-3.6h0.9m33.7 0.8h0.9m-60.1-8.4h0.9m11.8-9.6h0.9m2.2 8.9h0.9m-6-8h0.9m13.3-12h0.9m-0.9 17.4h0.9m-9.8-25.9h0.9m21.8 7h0.9m-42 25.8h0.9m3.3-11.5h0.9m-27.1-0.3h0.9m38.5 12.1h0.9m-8.9-4.9h0.9m10.8-9.7h0.9m-20.1 28.6h0.9m-2.5-7.9h0.9m14 2.6h0.9m-12.4-10.4h0.9m14.8-8.1h0.9m-1.2-5.9h0.9m-7.3 4.1h0.9m12.7 3.3h0.9m-35.7-3h0.9m20.1-5.8h0.9m22.2 14.2h0.9m-8.8-12.7h0.9m-21 19.3h0.9m-17.6-7h0.9m23.7-9.4h0.9m-0.9-6.3h0.9m1.3-1.5h0.9m-25.2 28.4h0.9m8.4-38.2h0.9m26.2 14.6h0.9m-1.6 12.2h0.9m11.9-5.2h0.9m-19-9.6h0.9m-8 27.7h0.9m4.6-14.9h0.9m-41.1-5.9h0.9m10.3 12.6h0.9m8-4.5h0.9m-5.2 16.6h0.9m-3.7-19.1h0.9m60.8 0.9h0.9m-57.7 4.3h0.9m29.4 2.8h0.9m-49-7.1h0.9m-3.5 18.4h0.9m34.8-25.8h0.9m8.9 10.4h0.9m-31.1 12.4h0.9m14.4-37h0.9m25.9 36h0.9m-3.3-10.8h0.9m-35.8 4.3h0.9m43.9-1.3h0.9m-5.1-17.5h0.9m-10.4 18.8h0.9m-41.8-28.1h0.9m11.7 18.8h0.9m18.2-3.4h0.9m-9.3 1.2h0.9m1.6 7.7h0.9m5.8-7h0.9m-4.8-4.4h0.9m7.9-0.6h0.9m12.9 5.3h0.9m-23.2-8.1h0.9m-11.1 10.2h0.9m5.1-8.7h0.9m-20.2 7.3h0.9m20.6 5.6h0.9m17-9.4h0.9m-54 1.8h0.9m1.5-12.6h0.9m46.3 20.4h0.9m-28.4-13.2h0.9m8.2-12.4h0.9m8.5 15.6h0.9m21.4-7.9h0.9m-14.6 4.2h0.9m-0.7-3.3h0.9m-5.5 6h0.9m-26.5 3.2h0.9m20.4 6.1h0.9m17.2 4.6h0.9m-59.5-13.3h0.9m42.1-10.6h0.9m-30.6 16.4h0.9m13.8 15.9h0.9m9.1-11.6h0.9m22.6-11.4h0.9m-29.7-5.4h0.9m3.4 22.4h0.9m17.3-11.9h0.9m-35-8h0.9m-12.2 9.8h0.9m44.4-27.6h0.9m-59 41.8h0.9m8.4-11.9h0.9m4.9 5h0.9m32.7-6.8h0.9m-0.2-1.3h0.9m-5.2 19.7h0.9m7.9-27.5h0.9m-32.2 4.7h0.9m8.6 3.4h0.9m-7.1 6.5h0.9m9.7-3.3h0.9m-1.4 2.9h0.9m-20.7 10.7h0.9m24.5-12.6h0.9m3.5 7.1h0.9m1.2-9.4h0.9m-16-20.8h0.9m5.6 14.7h0.9m-9.6 30.2h0.9m-26.4-26.1h0.9m49.8 10.1h0.9m-0.4-24.7h0.9m-37.2 20.9h0.9m10.1 12.1h0.9m7.7-16.8h0.9m2.7-5.1h0.9m-6.2-4.5h0.9m-3.5 2.1h0.9m4-10.3h0.9m-29.8 20.8h0.9m27.5-15.8h0.9m-8.4-0.9h0.9m36.5-5.7h0.9m-6.2 8.2h0.9m-22.2 6.2h0.9m-14.2 13.3h0.9m18.9-13.5h0.9m-29.4 26.2h0.9m37.3-21.5h0.9m-29 1.7h0.9m5.4 10.1h0.9m-18.2-13.1h0.9m2.1 14.3h0.9m41.8-15.5h0.9m-21.7 16.6h0.9m-14.8-26h0.9m21.2 16h0.9m-21.4 10.6h0.9m6.4-36h0.9m0.9 19.1h0.9m24.4 0.5h0.9m-35.3 5.1h0.9m6.5-20.5h0.9m-2.9 12h0.9m20.3 30.3h0.9m-42.5-37.4h0.9m3.6 3.4h0.9m1.6 7.9h0.9m28.5-15h0.9m-44.3-6h0.9m42.8 35.2h0.9m-44.5-32.9h0.9m26.6 30.3h0.9m13.7-10h0.9m-6.4 1.5h0.9m-21.3 17.5h0.9m8.2-33.5h0.9m-8.6-4.8h0.9m7.1 29.3h0.9m-22 0.4h0.9m54.5-8.3h0.9m-54.5-13.7h0.9m12.6-4.8h0.9m-16 11.4h0.9m16.8 9.6h0.9m-17.7 14h0.9m36.4-10.9h0.9m-29.2 9.5h0.9m4.2 0.8h0.9m22.5-30.1h0.9m-26.1 30.7h0.9m23.1-22.5h0.9m-14.1 4h0.9m-17-4.5h0.9m1-2.5h0.9m17.7-5.9h0.9m3.4 11.9h0.9m-0.3 8.6h0.9m7.1-2.9h0.9m-9.8-8.9h0.9m-3.2-8.1h0.9m-14.4 18.4h0.9m2.3-3.4h0.9m-17.5 10.3h0.9m7-10.8h0.9m8.3 5.9h0.9m-6.9-21.5h0.9m-25.9 7.7h0.9m10.7 9.4h0.9m42.7-30.7h0.9m-46.1 28.2h0.9m40.9 0h0.9m-16 2.2h0.9m3.3 12.6h0.9m-0.3-32.1h0.9m-18.9 16.2h0.9m-6.5-5.3h0.9m3.9-4.9h0.9m19.3 3.5h0.9m-30.5-3.6h0.9m17.8 31.5h0.9m2.7-7h0.9m3.1-40.5h0.9m-2.9 14.4h0.9m-29.6-2.5h0.9m51.2-5.6h0.9m-40.8 30.6h0.9m20.4-32.1h0.9m-13.8 13.4h0.9m-2.3 14.1h0.9m-7.2-11.9h0.9m32.9-17.1h0.9m-31.4 25.9h0.9m-15.4-12.3h0.9m-2 8.8h0.9m10.6 7h0.9m26.4-8.3h0.9m-24.2 2.4h0.9m6.4-16.5h0.9m15.9 16.1h0.9m-5.6-17.7h0.9m0.6 38.8h0.9m-5.3-39.8h0.9m-10.5 15.5h0.9m2.1-1.9h0.9m3.7-2.6h0.9m-5.3-2.5h0.9m-3.1 18.8h0.9m-10.7-3.7h0.9m-7.5-11.6h0.9m9.9 18.1h0.9m-9.7-0.3h0.9m-12.5-15.4h0.9m38.6 9.6h0.9m-32.9-21.5h0.9m30.5-0.5h0.9m-5.8 8.3h0.9m-10.8 31.8h0.9m25.1-16.5h0.9m-49.6-5.9h0.9m22.9-4.7h0.9m20.5-18.1h0.9m-17.9 20.6h0.9m-18.7 18h0.9m-9.6-19.1h0.9m21.6-24.9h0.9m-26.1 13.7h0.9m36.1 21.5h0.9m-4.1-7.9h0.9m-47.6-0.3h0.9m27.3 10.8h0.9m30.1 11.9h0.9m-11.5-15.9h0.9m-30-8.3h0.9m-4.3 9.2h0.9m-0.2-12.5h0.9m5.3-2.9h0.9m20.4-1.1h0.9m-4.8-4.9h0.9m18.7 4h0.9m-7.3 31.3h0.9m-58.6-35.2h0.9m36.4 24.3h0.9m-5.6-8.9h0.9m-5 2.1h0.9m-9 3.1h0.9m49.9-7.5h0.9m-46.4 22.9h0.9m31.7-12.1h0.9m-25.6-5.8h0.9m14.7-25.7h0.9m0.6 16.6h0.9m10.7 16.9h0.9m-33.3-21.6h0.9m13.1 14.2h0.9m-11-8.7h0.9m16.2 6.1h0.9m8.4-2.1h0.9m-35.4-22.7h0.9m27.7 16.2h0.9m-20.4 0.5h0.9m-21.6-1.2h0.9m10.5 25.3h0.9m21.8-23.3h0.9m-5.7 10.7h0.9m-16.5-10.9h0.9m5.9 30.9h0.9m6.3-50.6h0.9m11.4 51.8h0.9m-30.6 10.1h0.9m14.2-28.2h0.9m-9.4-14.4h0.9m-12.2-9h0.9m-16.3 25.1h0.9m15.9-8.9h0.9m24.2-11.6h0.9m-5.7 6.3h0.9m-10.2 1.7h0.9m8.4-12.3h0.9m-23.8 2h0.9m23.2 25.5h0.9m22-12.2h0.9m-9.8-2.2h0.9m1.8 0h0.9m-13-4.7h0.9m-7.7 25h0.9m-21.2-21.7h0.9m9.4 11h0.9m40.1-14.6h0.9m-21.3-15.8h0.9m-15.6 18.6h0.9m-36.2 8.5h0.9m46-5h0.9m-26.5-11h0.9m6.4 13.7h0.9m-6.9 11.3h0.9m22.4-41.8h0.9m21.4 26.8h0.9m-39.1-0.6h0.9m-22.8 1h0.9m-11.7-14h0.9m64.3 26.3h0.9m-29.9-25.7h0.9m20.9 10.6h0.9m-13.3 7.8h0.9m-22.9 1.9h0.9m-18.8 7.7h0.9m8.4-24.1h0.9m14.6 15.6h0.9m23.4-4.3h0.9m-4.4 1.3h0.9m-11.5-27.5h0.9m-39.3-4.5h0.9m37.9 23.9h0.9m-2.5 5.3h0.9m-2.6-14.2h0.9m-22.7-10.4h0.9m45.9 32.4h0.9m-45.2-13.7h0.9m30 21.7h0.9m-18.9-16.5h0.9m29.4-22.1h0.9m-33.4 19.6h0.9m-0.7 25h0.9m26.4-22.2h0.9m-32.4 7.7h0.9m26.5-16h0.9m-19.3-11h0.9m5.3 27h0.9m17.7-3.3h0.9m-4-13.6h0.9m-23.2 20.8h0.9m15-23.2h0.9m-0.1 18.8h0.9m2.7-8.3h0.9m-22 3.3h0.9m37.2-2.9h0.9m-41.6 2.2h0.9m-10.7-1.2h0.9m15.2 8.4h0.9m6 1h0.9m36.9-14.6h0.9m-54.8 7.8h0.9m11.9-3.7h0.9m-9.7 4.8h0.9m10.6-31.4h0.9m-6.2 28.8h0.9m23.4-10.5h0.9m-34.9 19.9h0.9m2.4-12h0.9m17.7 7.3h0.9m-8.9-21.4h0.9m16.3 7.8h0.9m-27.2 28.2h0.9m23.1-35.4h0.9m-24.2 9.4h0.9m-5.5-19.3h0.9m25.7 31.1h0.9m-10.5-13.6h0.9m-1.4 12h0.9m-22.4-11.2h0.9m7.4 11.8h0.9m13.1-22.9h0.9m-15.9 35.3h0.9m-7-18.7h0.9m4.9 12.7h0.9m8.8-19.4h0.9" stroke="#000" stroke-width="0.9" fill="none"/>
<path d="M878 152.1L878.4 156L877.9 160L876.5 163.7L874.3 167.1L871.4 169.9L867.7 172.2L863.4 173.8L858.7 174.8L853.8 175.2L848.7 175.1L843.6 174.5L838.9 173.6L834.4 172.4L830.6 171L827.3 169.5L824.8 167.8L823.1 165.9L822.2 163.9L822.2 161.7L823 159.3L824.6 156.8L826.9 154L829.9 151.2L833.5 148.3L837.5 145.5L841.8 143L846.4 140.8L851.2 139.2L855.8 138.2L860.4 137.9L864.7 138.5L868.6 139.9L871.9 142L874.7 144.9L876.7 148.3Z" fill="#fff" fill-opacity="0.55" stroke="#000" stroke-width="1"/><path d="M876.2 152.5L876.5 156L876.1 159.6L874.9 163L872.9 166L870.2 168.6L866.8 170.6L863 172.1L858.7 173L854.2 173.4L849.6 173.3L845.1 172.8L840.7 172L836.7 170.9L833.2 169.6L830.3 168.2L828 166.7L826.5 165L825.7 163.2L825.7 161.2L826.4 159L827.8 156.7L830 154.2L832.7 151.7L835.9 149.1L839.5 146.5L843.5 144.2L847.6 142.3L851.9 140.8L856.1 139.9L860.2 139.6L864.1 140.2L867.6 141.4L870.7 143.4L873.2 146L875 149Z" fill="none" stroke="#000" stroke-width="1"/><path d="M874 152.9L874.4 156.1L874 159.3L872.9 162.3L871.1 165L868.7 167.4L865.7 169.2L862.2 170.5L858.4 171.3L854.4 171.6L850.3 171.6L846.2 171.1L842.3 170.4L838.8 169.4L835.6 168.3L833 167L830.9 165.6L829.6 164.1L828.9 162.5L828.8 160.7L829.5 158.8L830.8 156.7L832.7 154.5L835.1 152.2L838 149.9L841.2 147.6L844.8 145.5L848.5 143.8L852.3 142.4L856.1 141.6L859.8 141.4L863.3 141.9L866.4 143L869.2 144.8L871.4 147.1L873 149.8Z" fill="#070707"/><path d="M872.9 153.2L873.2 156L872.8 158.8L871.8 161.5L870.3 163.9L868.1 165.9L865.5 167.5L862.5 168.7L859.1 169.4L855.5 169.7L851.9 169.6L848.3 169.2L844.9 168.6L841.7 167.7L838.9 166.7L836.6 165.6L834.8 164.4L833.6 163.1L833 161.6L832.9 160.1L833.5 158.4L834.7 156.5L836.3 154.6L838.5 152.5L841 150.5L843.9 148.5L847 146.7L850.3 145.1L853.7 143.9L857 143.2L860.3 143L863.4 143.4L866.1 144.4L868.6 146L870.5 148L872 150.5Z" fill="none" stroke="#fff" stroke-width="0.45" stroke-opacity="0.75"/><path d="M871 153.6L871.3 156L871 158.5L870.1 160.8L868.8 162.9L866.9 164.6L864.6 166L862 167L859.1 167.7L856 167.9L852.8 167.8L849.7 167.5L846.7 166.9L844 166.2L841.6 165.3L839.6 164.4L838 163.3L836.9 162.2L836.4 160.9L836.4 159.6L836.9 158.1L837.9 156.5L839.3 154.8L841.2 153L843.4 151.2L845.9 149.5L848.6 147.9L851.4 146.6L854.4 145.5L857.3 144.9L860.1 144.8L862.8 145.1L865.2 146L867.3 147.3L869 149.1L870.2 151.2Z" fill="none" stroke="#fff" stroke-width="0.45" stroke-opacity="0.75"/><path d="M869.2 153.9L869.4 156L869.1 158.1L868.4 160.1L867.3 161.8L865.7 163.3L863.8 164.5L861.5 165.4L859 165.9L856.4 166.1L853.7 166.1L851.1 165.8L848.6 165.3L846.3 164.7L844.2 163.9L842.5 163.1L841.2 162.2L840.3 161.2L839.8 160.2L839.8 159L840.2 157.8L841.1 156.4L842.3 155L843.9 153.5L845.7 152L847.9 150.5L850.2 149.2L852.6 148L855.1 147.1L857.5 146.6L859.9 146.5L862.2 146.8L864.2 147.5L866 148.7L867.4 150.2L868.5 152Z" fill="none" stroke="#fff" stroke-width="0.45" stroke-opacity="0.75"/><path d="M867.3 154.3L867.5 156L867.3 157.7L866.7 159.4L865.8 160.8L864.5 162L862.9 163L861 163.7L859 164.1L856.9 164.3L854.7 164.3L852.5 164L850.4 163.6L848.5 163.1L846.9 162.5L845.5 161.9L844.4 161.1L843.6 160.3L843.3 159.5L843.3 158.5L843.6 157.5L844.3 156.4L845.3 155.2L846.6 154L848.1 152.7L849.8 151.5L851.7 150.4L853.7 149.5L855.7 148.8L857.8 148.3L859.7 148.2L861.6 148.5L863.3 149.1L864.7 150L865.9 151.2L866.8 152.7Z" fill="none" stroke="#fff" stroke-width="0.45" stroke-opacity="0.75"/><path d="M865.5 154.7L865.6 156.1L865.4 157.4L865 158.6L864.3 159.8L863.2 160.7L862 161.5L860.6 162L859 162.4L857.3 162.5L855.6 162.5L853.9 162.3L852.3 162L850.8 161.6L849.5 161.1L848.4 160.6L847.6 160L847 159.4L846.7 158.7L846.7 158L847 157.2L847.5 156.3L848.3 155.4L849.3 154.4L850.5 153.5L851.8 152.5L853.3 151.7L854.9 150.9L856.4 150.4L858 150L859.6 150L861 150.2L862.3 150.6L863.4 151.4L864.4 152.3L865.1 153.5Z" fill="none" stroke="#fff" stroke-width="0.45" stroke-opacity="0.75"/><path d="M863.6 155.1L863.7 156.1L863.6 157L863.3 157.9L862.7 158.8L862 159.4L861.1 160L860.1 160.4L859 160.6L857.8 160.7L856.5 160.7L855.3 160.6L854.2 160.3L853.1 160.1L852.1 159.7L851.4 159.3L850.8 158.9L850.3 158.5L850.1 158L850.1 157.5L850.3 156.9L850.7 156.3L851.3 155.6L852 154.9L852.9 154.2L853.8 153.5L854.9 152.9L856 152.4L857.1 152L858.3 151.8L859.4 151.7L860.4 151.8L861.3 152.2L862.2 152.7L862.8 153.4L863.3 154.2Z" fill="none" stroke="#fff" stroke-width="0.45" stroke-opacity="0.75"/><ellipse cx="851.6" cy="157.1" rx="1.6" ry="1" fill="#fff"/>
<path d="M894 161.6h0.8m26.2 9.5h0.8m-29.8 9.2h0.8m13.7-27.1h0.8m4.2 4.5h0.8m-10.3-0.1h0.8m5.8 1.4h0.8m-22.6 10.5h0.8m15.2 7h0.8m13.4-6h0.8m-5.6 7h0.8m-7.6-23.7h0.8m8.2-17.8h0.8m-10.4 30.3h0.8m-1.5 10.8h0.8m14.3-11.8h0.8m-15.6 10.1h0.8m-4.6-15.6h0.8m18.4 10.5h0.8m16.5-8.4h0.8m-53.4 9h0.8m41.3-8.5h0.8m3.2 20.1h0.8m-30.6-23.4h0.8m-8.7 10.6h0.8m25.6 0.6h0.8m-27-14.1h0.8m-3.4-8.8h0.8m0.3 0.3h0.8m14.8 20.7h0.8m10-4.6h0.8m-18.2 0.1h0.8m15.9-2.9h0.8m-7.7-0.1h0.8m-8.6 3.5h0.8m-8.7 10.5h0.8m-6.8-6.1h0.8m1.9 10.8h0.8m29.1-24h0.8m-18.5-3.2h0.8m4.4 15.8h0.8m34.2-18.3h0.8m-18.4 8.1h0.8m-13.7 15.1h0.8m2.8-4.7h0.8m-10.7-4.5h0.8m3.8 12.4h0.8m-22.4-17.4h0.8m2.1-4.8h0.8m5.2 21.2h0.8m38.6 2.6h0.8m-45.3-13.1h0.8m-0.2 3.8h0.8m31.4 1.4h0.8m-6.2-7.5h0.8m-38.7-18.9h0.8m24.2 26.3h0.8m17.5-9.5h0.8m-16.8 6.2h0.8m12.4-3.3h0.8m-29.6 11.8h0.8m19.3-7.2h0.8m-23.3-4h0.8m-6.8-20.5h0.8m19 16.1h0.8m10 19.3h0.8m-8.9 3.6h0.8m-8.2-10.6h0.8m-9.8-6.5h0.8m11.9-3.5h0.8m11.3-17.2h0.8m-7.2 11.1h0.8m-0.7 12.3h0.8m-7.4-7.8h0.8m-11.2 9.4h0.8m5.6-1h0.8m-10.8 9.4h0.8m4.6-2.1h0.8m6.8-6.3h0.8m3.3 1.4h0.8m1.2 6h0.8m8.1-6h0.8m12.5-14.2h0.8m-5.7 7.9h0.8m-37.9 4.2h0.8m16.2 12.4h0.8m-4.7-16.8h0.8m8.9-20h0.8m2.9 9.3h0.8m11.2 27.3h0.8m-19.7-33.4h0.8m1.7 18.1h0.8m6.4-4.8h0.8m-26.3 1.5h0.8m2.8 19.7h0.8m2.1-24.9h0.8m8-6h0.8m-6.1 11.3h0.8m-1.4-1.2h0.8m22.2 7h0.8m-35.1-8.8h0.8m26.9-2.3h0.8m-9.6 6.4h0.8m5.1-1.5h0.8m-9.7-7h0.8m5.9-0.7h0.8m17.5 9.3h0.8m-26.9 8.3h0.8m1.1-7.2h0.8m-0.4-8.3h0.8m-12.4 0.2h0.8m26.6 0.8h0.8m-21.3 1.8h0.8m13.9 24.9h0.8m-22.4-14.7h0.8m13.1-8.7h0.8m4.3-9.9h0.8m3.6 15.3h0.8m-25.2 14h0.8m23.8-4.4h0.8m-31.5-14.7h0.8m11.6 9.2h0.8m24.2-25.9h0.8m-18.5 18.2h0.8m12.2 0.9h0.8m-31-1.6h0.8m2.3-6h0.8m13.6 3.1h0.8m2.3-10.6h0.8m26.4 28.4h0.8m-22.2-26.1h0.8m-39 4.4h0.8m24.8 31.6h0.8m19.7-28.2h0.8m-2.1 17.9h0.8m-16.7-0.1h0.8m3.4-19.1h0.8m-20.8 5.4h0.8m28.1-12.6h0.8m-35.5 19.5h0.8m-15.5 13h0.8m29.5-11.1h0.8m29.7-22.3h0.8m-39.5 37.7h0.8m9.4-24.2h0.8m6 12.1h0.8m13.8-9.7h0.8m-22.9-1.5h0.8m7.7 13.8h0.8m-3 5.2h0.8m-14-13.2h0.8m33.9 7.8h0.8m-19.7-22.2h0.8m-14.7 7.4h0.8m12.8-0.9h0.8m-24.3-5h0.8m25.5 16h0.8m-26.3-12.2h0.8m-4.4-2.1h0.8m68.5 6.5h0.8m-52.5-6.7h0.8m-12.3-13h0.8m14.7 16.2h0.8m19.4-13.9h0.8m-14.6 30.4h0.8m-32.6-7h0.8m3.8-1.4h0.8m40.2-5.3h0.8m-16.6-7.1h0.8m-0.8 18.7h0.8m-7-13h0.8m6.8 9.8h0.8m-27.8-7.8h0.8m11.9 4.5h0.8m22.1-1.9h0.8m2.6-13.3h0.8m-23.4 0h0.8m5.4 11.1h0.8m-4.2-13.4h0.8m0.8 7.9h0.8m8.2 1.7h0.8m6.7 5.2h0.8m-41-4.2h0.8m4.9 11.7h0.8m37.3-10.2h0.8m-14-14.5h0.8m-36.6 9.1h0.8m25.7-9.8h0.8m3.8 18.7h0.8m6.6 12.7h0.8m1.4-19.6h0.8m-10.2 9.9h0.8m-16.1 7.4h0.8m25.1-15.9h0.8m-21.3 41.3h0.8m18.9-29.4h0.8m12 0.5h0.8m-22-2.9h0.8m-15.7 0.2h0.8m-9.1-3h0.8m27.1-20.3h0.8m17.3 4.2h0.8m-12.4 6.4h0.8m-10.6-1.4h0.8m28.3 17.4h0.8m-9.9-2.6h0.8m-15.6-6.4h0.8m-13.2 4.7h0.8m4.5-7.8h0.8m-21.2-1.6h0.8m25.6-1.6h0.8m-4.2 3.3h0.8m-19.2-7.8h0.8m3.1 6.3h0.8m5.6 14.5h0.8m-11.8-32.4h0.8m22.8 16.3h0.8m-11.5 30.8h0.8m20.3-20.1h0.8m-7.7-4.8h0.8m-0.6-7.5h0.8m-23 1.5h0.8m29.7 20.7h0.8m-29.9-4h0.8m5.2-0.9h0.8m-2.9-1.2h0.8m1.9-12.7h0.8m0.4 4.5h0.8m-8.2-15.6h0.8m29.5 10h0.8m-47.6-19.2h0.8m-14 17h0.8m54.8-10.5h0.8m-23.2-2.1h0.8m18.2 22.6h0.8m-11.2 10.1h0.8m16.9-3.2h0.8m-30.5-24.2h0.8m-7.1-4.4h0.8m37.3 16h0.8m-23.2 4h0.8m24.5-7.8h0.8m-12 8.9h0.8m-18.6-22.8h0.8m13.5 12.1h0.8m-19.2 9.9h0.8m6.6 9.3h0.8m-11-9.9h0.8m11.9-1.4h0.8m4.5-2.9h0.8m6.3-4.7h0.8m-36.2 6.9h0.8m34.3-4.9h0.8m-25 1.8h0.8m9.8 1.7h0.8m1.1-15.9h0.8m15.1 23.7h0.8m-32.4 8.2h0.8m16.8 1h0.8m-22.6 1.9h0.8m15.6-38.3h0.8m8.6 18.1h0.8m-24.4 0.9h0.8m-13.2 8.2h0.8m22.3-8.8h0.8m21 3.2h0.8m-28.6-10.2h0.8m7.2 20.8h0.8m-7.7-21.7h0.8m19.3 11.3h0.8m-13.5 20.9h0.8m-16.7-19.4h0.8m-8.3-5.2h0.8m30.8 14.7h0.8m-25.7-3h0.8m26.7-9.8h0.8m21.7 1.2h0.8m-45.5 4.4h0.8m-14 11.7h0.8m37.4-20.2h0.8m-5.8 9.6h0.8m16.8-11.8h0.8m-43.9-14.6h0.8m12.5 4.8h0.8m0.8 20.3h0.8m-4.4-13.9h0.8m21.1 7.7h0.8m-13.6 11.8h0.8m-21.4-19.3h0.8m50.1 7.9h0.8m-48.2-1h0.8m5.5-10h0.8m1.4 12.4h0.8m4.4 5.8h0.8m-23.8-21h0.8m33 10.9h0.8m4.9 7.6h0.8m-35.9 2.4h0.8m4.5-2.8h0.8m29.2 19.1h0.8m-18.2-14.6h0.8m4.2 1h0.8m-39-12.2h0.8m37.2 8.8h0.8m-14.7 3.7h0.8m24-7.8h0.8m-18.6-4.4h0.8m4.1 15.8h0.8m17.4-16.9h0.8m-33.3-3.3h0.8m24.8 10.4h0.8m-10 2.7h0.8m0.3-6.2h0.8m-19.8-5.1h0.8m14.8 10.3h0.8m-7.4-8.2h0.8m22.4-0.6h0.8m-16.1 1.6h0.8m-15.2-12.3h0.8m3.5 7.1h0.8m17.6-3.4h0.8m-17.6 18.5h0.8m3.2-1.6h0.8m11.9-22.1h0.8m-17.4 7.2h0.8m22.6 8.6h0.8m-12.2 18.6h0.8m-12.1-16.6h0.8m9.4-3.5h0.8m10.4 11.1h0.8m-4.2-7.9h0.8m-18.6-4.1h0.8m-1.1-13.1h0.8m8.8 25h0.8m-5.7-13.3h0.8m-0.2 7.3h0.8m3.1 16h0.8m-16.5-14.6h0.8m19.7-2.9h0.8m-13.1-11.2h0.8m-5.5 17.6h0.8m26.2-13.9h0.8m-13.8 12h0.8m6.3-2.8h0.8m-8.3 6.6h0.8m-22-8.6h0.8m-8.7-20.5h0.8m11.7 4.4h0.8m16.7 25.6h0.8m-11.5-11.4h0.8m0.1-1.3h0.8m4.1 6.2h0.8m-8.7-11.5h0.8m-1.6 16.1h0.8m0.6 6.5h0.8m1.5-0.8h0.8m-13.3-20.8h0.8m21.1 11.9h0.8m-9.1 15.6h0.8m2.2-17.6h0.8m-9.2 13.7h0.8m17.9-12.5h0.8m-33.5-0.5h0.8m14.5 0.3h0.8m17.3-11.5h0.8m-9.9 16.4h0.8m-1.5-12.2h0.8m-16.8-3.4h0.8m-3.6 16.7h0.8m17.2-22.2h0.8m-2.2-0.7h0.8m-43.7 25.1h0.8m57.4-27h0.8m-25.5 16.9h0.8m3.6-10.7h0.8m-2.5 6.2h0.8m-1.3 4.5h0.8m3.4-9.7h0.8m2.5-9.1h0.8m17.7-0.7h0.8" stroke="#000" stroke-width="0.8" stroke-opacity="0.9" fill="none"/>
<path d="M908.4 169.1h0.8m5.5-0.7h0.8m9.9-11.6h0.8m-17.6 10.7h0.8m-6.2-6.3h0.8m21.7-1h0.8m-23.1 3.7h0.8m2.6 3.7h0.8m-0.8 1.8h0.8m3.5 0.9h0.8m14.8-11.2h0.8m2.7 3.3h0.8m-13.2 5.2h0.8m-12.9-17.9h0.8m23.2 10.2h0.8m-31 15.2h0.8m10.1 7h0.8m19.4-10h0.8m-18.8 0.5h0.8m-20.6-5h0.8m17.6-5.4h0.8m0.6-8.2h0.8m7.3 23h0.8m-28.4-9.6h0.8m34.9 2.3h0.8m-33.2-11.8h0.8m22.9 23.6h0.8m-25.1-15h0.8m3-2.7h0.8m12.8 2h0.8m-13.2 17.9h0.8m5.8-19h0.8m15 1.6h0.8m-17.2 7.8h0.8m-11.2-1.7h0.8m25-0.7h0.8m-15.9-5.6h0.8m-20-1h0.8m24.3 8.3h0.8m-2.7-10.5h0.8m-13 2.9h0.8m11.3 10.4h0.8m-2.3-14.2h0.8m-2.3 0.1h0.8m-2.4-14.3h0.8m-17.7 8.4h0.8m24.8 9.3h0.8m-4.7 10.3h0.8m-15.7-0.1h0.8m17-15.5h0.8m13-5.9h0.8m-33.4 10.1h0.8m18.3 0.2h0.8m-32.5-0.9h0.8m24.8 23.6h0.8m17.3-20.1h0.8m-31.5 1.8h0.8m-1.7-1.2h0.8m18.3-5h0.8m-2.3 0.6h0.8m-11 15.5h0.8m13.5-15.3h0.8m-17.5 4h0.8m15.8 5.6h0.8m10.4-3.2h0.8m-33 13h0.8m27.5-10h0.8m1.4-19.2h0.8m-22 8.1h0.8m18.6-5.6h0.8m-19.6 22.4h0.8m11.2-15.8h0.8m14.6-7.8h0.8m-18.6 9.1h0.8m-0.1-0.4h0.8m-17.5 4.1h0.8m-6.8 2.6h0.8m11.6 3.3h0.8m-2.4-13.3h0.8m9.7 15.8h0.8m-31.5-9.2h0.8m32.7-12.8h0.8m-19.5 17.1h0.8m-0.1-10.6h0.8m30.8-2.5h0.8m-32.9-11.4h0.8m-3.7 9h0.8m34.1 20.3h0.8m-37.8 6.2h0.8m24.5-17.8h0.8m-0.3 4.6h0.8m-20.4-17.7h0.8m-2.6 14.5h0.8m6.1-6h0.8m15.7-2.7h0.8m-1.8 4.8h0.8m-10.5-5.3h0.8m-2.3 2.8h0.8m-22.4 6.3h0.8m20.3 7h0.8m3.3-15.2h0.8m-11.9-12.2h0.8m-7.1 31.3h0.8m31.9-4.4h0.8m-15.9-1.5h0.8m1.5-19.2h0.8m-17.7 24.2h0.8m24.7-7.9h0.8m-19.3-5.1h0.8m-3.7-4.5h0.8m-18 8.9h0.8m17.6-3h0.8m26.1 6.7h0.8m-30.9-0.1h0.8m-10.7 3.9h0.8m21.1-10.4h0.8m3.1 13.7h0.8m-13.7-20.3h0.8m31.3 8.4h0.8m-8.5-5.8h0.8m-14.7 0.3h0.8m2.4 3h0.8m-17.1 15.2h0.8m11.8-29.7h0.8m-8 9.2h0.8m-13 2.8h0.8m8.4 5.1h0.8m-4.8-15.8h0.8m2.5 22.8h0.8m-11.2-2.1h0.8m22-8.9h0.8m-2.7-2.5h0.8m-9.7-2.3h0.8m10 19.9h0.8m-15.1-1.4h0.8m-19-17.4h0.8m13.3 21.8h0.8m4.4-7.9h0.8m-19-5.5h0.8m31.9-1.3h0.8m-42 1.8h0.8m43.5 9.5h0.8m-6-25.1h0.8m-8.4 21.7h0.8m-8.5-2.9h0.8m3.5-3.9h0.8m14.7-6.7h0.8m25.7 7.2h0.8m-32.5-7.5h0.8m-4.3 4h0.8" stroke="#000" stroke-width="0.8" stroke-opacity="0.9" fill="none"/>
<ellipse cx="905.1" cy="166" rx="14" ry="12" fill="#fff" stroke="#000" stroke-width="0.8"/><ellipse cx="905.1" cy="166" rx="11.5" ry="9.8" fill="none" stroke="#000" stroke-width="0.8"/><ellipse cx="905.1" cy="166" rx="9.2" ry="7.9" fill="none" stroke="#000" stroke-width="0.8"/><ellipse cx="905.1" cy="166" rx="7.3" ry="6.2" fill="none" stroke="#000" stroke-width="0.8"/><ellipse cx="905.1" cy="166" rx="5.6" ry="4.8" fill="none" stroke="#000" stroke-width="0.8"/><ellipse cx="905.1" cy="166" rx="4.2" ry="3.6" fill="none" stroke="#000" stroke-width="0.8"/><ellipse cx="905.1" cy="166" rx="2.8" ry="2.4" fill="none" stroke="#000" stroke-width="0.8"/><ellipse cx="905.1" cy="166" rx="2" ry="1.7" fill="#000"/><ellipse cx="905.1" cy="166" rx="1.2" ry="0.9" fill="#fff"/>
<path d="M905.2 210.7h0.8m7.9 21.6h0.8m-15.4-30.8h0.8m10.8 31.1h0.8m3.8-17.5h0.8m-0.9 13.9h0.8m-6.3 2.5h0.8m6.7 10.5h0.8m-1.3-18.7h0.8m-6.7-7.1h0.8m-2.1 11.5h0.8m-0.4 16.6h0.8m3.7 0.7h0.8m-2.3 4.7h0.8m-0.9-1.6h0.8m1.2-3.4h0.8m-3.7-29.6h0.8m-7.7 47.9h0.8m8.4-22.7h0.8m-3.6-13.5h0.8m14.4-9.9h0.8m-15.5 16h0.8m-6.1-18.3h0.8m1.3 13.9h0.8m0.3 17.3h0.8m-4.2-6.1h0.8m12.4 7.3h0.8m-13.8-57.7h0.8m9.1 51.8h0.8m-8 11.8h0.8m0.1-17.6h0.8m-3.9 3.1h0.8m2.2-12.3h0.8m6.7 10.8h0.8m-13.6 7.1h0.8m10.8-22.8h0.8m-6.9 13.3h0.8m-0.1 1h0.8m3.7-9.2h0.8m6.4-3.3h0.8m-13.9 40.2h0.8m13.8-29h0.8m-13.7-16.6h0.8m5.9 18.6h0.8m-10.8 3.5h0.8m10.3 4.2h0.8m3.4 7.1h0.8m-9.6-17.8h0.8m-0.3 18.7h0.8m0.7-2.4h0.8m-3.9-4.4h0.8m4.1-13.9h0.8m-13.3 28.3h0.8m8.6-32.4h0.8m-2.6 2.8h0.8m-10.5 1h0.8m0.6 5.8h0.8m5.8 14h0.8m-0.9-11.4h0.8m-1.6-11.3h0.8m-6.3 20.5h0.8m7-23.6h0.8m-0.6 2.5h0.8m-5.5 10h0.8m8.9-7.8h0.8m-14-5.2h0.8m15.3-2.9h0.8m-3.8 8.6h0.8m-3 2h0.8m-12.4-4.6h0.8m17.6 4.2h0.8m-8.5-3.1h0.8m-4.3 9.9h0.8m2.2 28.4h0.8m-3.2-35.9h0.8m-4.1-17h0.8m-5.5 29.6h0.8m-2.1 11.2h0.8m12.9-25.6h0.8m-10.9 4.9h0.8m5.1 16.5h0.8m-4.6-22.6h0.8m2.6 1.5h0.8m-3.7-21.5h0.8m-5.8 15.6h0.8m6.2 25.1h0.8m11.9 10.7h0.8m-10.4 2.5h0.8m-3.3-36.1h0.8m11.3-8.1h0.8m-14.4 12.1h0.8m8.6-5h0.8m-4.2 2.8h0.8m-10.8 9.6h0.8m6.1-20.8h0.8m-6 5.4h0.8m8.4 18.8h0.8m-4.4 0.5h0.8m-4.4-0.2h0.8m-1.4-27.2h0.8m-1.3 23.2h0.8m3.1 12.7h0.8m-9.7-19.2h0.8m9.7-11.1h0.8m-1.6 8.3h0.8m-7.7 23h0.8m-2.1-1.9h0.8m4.1-29h0.8m-3.1 3h0.8m-0.7 15.1h0.8m-5.9 14.6h0.8m12.8 2.2h0.8m-9.9-55.6h0.8m1 32.3h0.8m3.8-5.3h0.8m-2.7 10h0.8m-8.1 24.9h0.8m1.3-23.2h0.8m10.2-15.6h0.8m-6.2 36.2h0.8m-2.2-8.8h0.8m2.1-12.3h0.8m1.3-6.9h0.8m-5.4 17.9h0.8m1.5-6.9h0.8m-8.1-7.2h0.8m11.3 13.2h0.8m-5.2-21.2h0.8m-5.5 14.3h0.8m9.3-5.9h0.8m-1.4-5.1h0.8m-1.3-10.5h0.8m-5.8-1h0.8m1.5 24.6h0.8m-8.8-19.8h0.8m1.7-11.1h0.8m-3.2 9.3h0.8m7.7 33.7h0.8m-6.9-25h0.8m2.5-3.5h0.8m-3.3 20.3h0.8m1.8-13.8h0.8m-4.8 23.3h0.8m-1-20.2h0.8m-2.9-10.7h0.8m4.8 3h0.8m1.4 6.9h0.8m-10.4-35.6h0.8m11.1 25.8h0.8m1.6 9h0.8m-12 8.1h0.8m1.7-8.1h0.8m-4.1 9.3h0.8m9.3-17.4h0.8m2.6-0.7h0.8m-8.4-15.9h0.8m-11.7 55.9h0.8m15.9-14.2h0.8m-16.4-13.9h0.8m9.8-2.2h0.8m-1.4-14.9h0.8m-3.1-3.3h0.8m-1.7 22.6h0.8m-3-9.7h0.8m1 4.4h0.8m5.9 3.3h0.8m-3.4-25.1h0.8m-4.6 33.8h0.8m-3.3-18.8h0.8m-1.3 26.5h0.8m1.7-30.9h0.8m4.6 27.4h0.8m-1.4-1.8h0.8m-2.2-16.6h0.8m-4.1-5.7h0.8m-1.6 13.1h0.8m1.6-4.2h0.8m2.8-2.1h0.8m-10.6-11.1h0.8m0.4-16.7h0.8m5.3 10.6h0.8m-7.7 1.8h0.8m9.9 11.5h0.8m-0.1 3.3h0.8m-8 9.8h0.8m4.4-6.7h0.8m-9-8.6h0.8m-1.5 3h0.8m5.5 26.1h0.8m5.8-12.1h0.8m-3.1-6.7h0.8m8.3 19.4h0.8m-1.4-17.2h0.8m-12 10.1h0.8m-1.9-11.1h0.8m-6.7 9.4h0.8m4.8-2h0.8m-2.5-38.7h0.8m2.8 44h0.8m-9.7-32h0.8m4.1 10.9h0.8m-7.8 30h0.8m12.7-35.6h0.8m-14.9 14.7h0.8m18.2 7h0.8m-5-26.6h0.8m-5.4-8.3h0.8m7.9 31h0.8m-21.2-36.3h0.8m12.1 29.8h0.8m-4.7 7.2h0.8m10.8-3.8h0.8m-19.9-7.8h0.8m1.7-9.7h0.8m7.4 9.5h0.8m-7.8 2.1h0.8m0.5 8.3h0.8m2-2.1h0.8m-0.9 5.4h0.8m-0.2-11.4h0.8m-2.9 2.3h0.8m-6.9 37.8h0.8m4.7-38.5h0.8m0.2-8.8h0.8m3.6-0.4h0.8m-4.9-13h0.8m-3.3 3.1h0.8m12.8-2.4h0.8m-15.2 22.8h0.8m11.7-28.3h0.8m-15.7 27.3h0.8m8.7-23.1h0.8m-11.5 6.8h0.8m11.9 13.8h0.8m-0.8-1h0.8m-4.7 10.8h0.8m-1.2-5.7h0.8m-4.8-12.5h0.8m6.1 5.4h0.8m-6.9 13.4h0.8m5.7-10h0.8m-7.3 13.6h0.8m15.4-25.8h0.8m-21 0.6h0.8m2.3-7.2h0.8m-2.1 31.6h0.8m9.4 9.5h0.8m-1.3-29.4h0.8m0.9-2h0.8m-8-8.4h0.8m7.1 32.7h0.8m-9.3-19.8h0.8m1.7 7.7h0.8m3.2-2h0.8m-3-23.5h0.8m-4.3-4.4h0.8m9.6 47.8h0.8m-6.1-4.3h0.8m5.6-2.6h0.8m-18.8-17.2h0.8m-4.6-9.1h0.8m4.8 12.1h0.8m7.3-13.8h0.8m-4.1 18.1h0.8m-0.2-6.9h0.8m-12-4h0.8m15.1 10.5h0.8m-12.1-7.9h0.8m7.9-10.6h0.8m1.2 2.6h0.8m-5.8 10.4h0.8m12-3.2h0.8m-14.8 15.5h0.8m-0.3-7.8h0.8m-9.7 1.6h0.8m10.4-23.9h0.8m6 15.8h0.8m-8.5-16.1h0.8m-8 11.2h0.8m-0.2 15.8h0.8m11.1-16.8h0.8m-13.2 3.6h0.8m2 8.4h0.8m5.4-8.9h0.8m-1.4 22h0.8m7.4-23.5h0.8m-5.7 4.3h0.8m-9.7 22.8h0.8m6.4-17.1h0.8m-1-4.6h0.8m-7.8 29.1h0.8m8.9-22.7h0.8m-0.4 15.3h0.8m-6.7-10.5h0.8m-1.4 0.9h0.8m-0.4 26.8h0.8m-1.3-28.7h0.8m3.3-12.8h0.8m1.5 3.8h0.8m-7.5 1.2h0.8m-2.5 18h0.8m6.1-3.2h0.8m-10.7-10.7h0.8m2.1-2.8h0.8m9.4 2.6h0.8m-8 12.9h0.8m5.1 11h0.8m-15.2-22.9h0.8m6.5-18h0.8m1.8-4.3h0.8m-12.5 3.9h0.8m9 41.5h0.8m-3.1-45.5h0.8m-7 12.3h0.8m7.8 7.5h0.8m-6.8-13.7h0.8m-4.9 14h0.8m2.7-43.8h0.8m12.8 48.8h0.8m-4.8-2.3h0.8m-7.7 10.8h0.8m-0.9 12.6h0.8m5.6-56.3h0.8m2.4 57.2h0.8m-6.4-13.6h0.8m-0.6-25.4h0.8m-12.7 28h0.8m9.9-12.9h0.8m-4.2-19.3h0.8m10.4 7.9h0.8m-8.4-13.2h0.8m2.3 30.7h0.8m-4.1-14.5h0.8m-4.6 23.8h0.8m2.2-23.4h0.8m10.7-1h0.8m-17-10.5h0.8m5.2 40.7h0.8m2.1-30.2h0.8m2.2 23h0.8m-8.7 2h0.8m7.3-14.8h0.8m-17-3.8h0.8m18.1-7.1h0.8m3.8 5.3h0.8m-17.5 7.8h0.8m5.8 3.7h0.8m-3.4 7.1h0.8m-2.5-17.7h0.8m-4.3-14h0.8m6.5 2.1h0.8m-4 6.8h0.8m2.7 14.7h0.8m1.8 4h0.8m-3.6-23.8h0.8m-9.9 3h0.8m3.2-22.2h0.8m11.5-0.4h0.8m-7.3 36.3h0.8m-3.7 30.8h0.8m0.4-50.8h0.8m8-0.5h0.8m-16.9-3.1h0.8m3.2 15.9h0.8m4.1-23.8h0.8m-0.7 57h0.8m-6.2-35.9h0.8m6.4 20.3h0.8m-7.7-32.9h0.8m-2.6 31.3h0.8m8.9-49.6h0.8m-16.2 14.1h0.8m2.4 25h0.8m8 23.6h0.8m2.1-27.9h0.8m1.1-15.5h0.8m-13.9 14.1h0.8m11.1-25.1h0.8m-1 37.7h0.8m-7.9-10.5h0.8m0.3-1.3h0.8m4.7-13.5h0.8m0.4 25.5h0.8m-1.5-43.3h0.8m-14.8 40.6h0.8m5.7-21.1h0.8m-1.7-9.9h0.8m1.6 9.4h0.8m-2.7 18.3h0.8m-3.5 9.9h0.8m-6.1 21h0.8m3.6-29.3h0.8m10.8-9h0.8m-1.7-1.5h0.8m-13.5 6.9h0.8m14-13.7h0.8m-15.3-0.8h0.8m9.5 13.8h0.8m3.2 3.9h0.8m-3.9-39.1h0.8m8 31.4h0.8m-7.8-6.1h0.8m-5.9 6.2h0.8m8 22.3h0.8m-5.7 7.2h0.8m-6-22.4h0.8m-1.1 11.9h0.8m1.7-4.9h0.8m7.8-46.6h0.8m1.5 36.6h0.8m-13.5-34.2h0.8m-0.7-5.9h0.8m1.2 32.6h0.8m8.1-2.4h0.8m-4.6 22.9h0.8m4.2-21.6h0.8m-7.4-19.5h0.8m-10.4 19.1h0.8m4.8-14.5h0.8m-2.8 29.4h0.8m-1-13.1h0.8m-3.1 23.6h0.8m12.9-18h0.8m-10.5 22.4h0.8m2.3-35.9h0.8m-10.2 1.3h0.8m17.4-0.1h0.8m2.7 9.1h0.8m-16.7 20.4h0.8m-0.9-14.5h0.8m-4.9-25h0.8m0.7 22.6h0.8m-0.4-33.6h0.8m5.1 27.6h0.8m-4.7-6.8h0.8m-10.9 33.8h0.8m8.3-16.3h0.8m8.8 9.3h0.8m-6.9-17.3h0.8m-0.3 13.9h0.8m0.6-20.9h0.8m-1.5 12.7h0.8m0.5-2.6h0.8m2.7-0.1h0.8m-3.3-2.4h0.8m-8.3-15.2h0.8m1.3 22.8h0.8m6.5-9.7h0.8m-9.9-6.4h0.8m8.5 9.5h0.8m-10 9.7h0.8m-5-9.6h0.8m5.7-3.8h0.8m-6.5 17.1h0.8m13.8-35.4h0.8m-8.8 30.3h0.8m10.1-16.4h0.8m-17.2 6.4h0.8m14.4 1.1h0.8m-9.8 26.2h0.8m-13.1-60.6h0.8m14.8 45.3h0.8m-12.6-4h0.8m6.6-4.6h0.8m-5.2-10.3h0.8m-1.1 7.7h0.8m2.5 25.1h0.8m3.6-50.1h0.8m-1.9 46.3h0.8m-1.5-5.3h0.8m-2.4-5.9h0.8m-5.4 1.2h0.8m-3.1 7.8h0.8m-1.5-52.4h0.8m9.7 29.9h0.8m-3 9.2h0.8m-1.5-20.2h0.8m0.4 19h0.8m0.7 25.2h0.8m-7.1-29.5h0.8m5.8-7.9h0.8m-9.8-1.9h0.8m10.8 4.6h0.8m-3.1-7.1h0.8m-1.7 0.9h0.8m-7.4 12.1h0.8m3.8 20.9h0.8m-9.4-14.8h0.8m15.8 13.1h0.8m-11-31.4h0.8m-1.4 15.1h0.8m2.7 0.7h0.8m1.3-21.8h0.8m-9.6-2.4h0.8m-1.9 17.3h0.8m7.6 40.5h0.8m0.4-38.7h0.8m3.7-11.5h0.8m-6.3 26.2h0.8m1.5-8.7h0.8m-6.6-25.4h0.8m0.2 10h0.8m3.5 7.1h0.8m-1.5-22.7h0.8m1.3 11.6h0.8m-13.8-8h0.8m4 38.4h0.8m6.1-35.3h0.8m-4 16.4h0.8m-9.3-13.6h0.8m-3.2 1.9h0.8m-3.9 1.1h0.8m8 0h0.8m-0.3 30h0.8m1.7-14h0.8m4.8 10.1h0.8m-1.2-22.4h0.8m-9.9-3.4h0.8m2.4 12h0.8m1.2 16.8h0.8m-0.9 10.7h0.8m5-35h0.8m-1.6-36.7h0.8m1.8 50.5h0.8m-5.8-32.2h0.8m10 21.9h0.8m-14.4 21.2h0.8m-1-30.3h0.8m3.5-2.5h0.8m-0.4 17.7h0.8m1.2-20.7h0.8m-0.2 23.1h0.8m2.9-14.5h0.8m-1.4 20.7h0.8m-6.2-21.9h0.8m-2 21.4h0.8m-7.9-28h0.8m-0.5 40.2h0.8m4-8.1h0.8m-0.2-12.6h0.8m-1.1-8.1h0.8m4.3 9h0.8m-5.9-23.9h0.8m-0.4 10.9h0.8m-4.9 26.2h0.8m-3.8-18.9h0.8m8 20.7h0.8m-6.7-12.8h0.8m3.3-22.2h0.8m-13.2-12.2h0.8m13.2 31.1h0.8m-10.7-11.4h0.8m4 4.4h0.8m1.1 39.3h0.8m-4.6-31.7h0.8m-0.8-11.8h0.8m-1.4 6.1h0.8m0.9 8.9h0.8m3.1-19.1h0.8m7.9-4.2h0.8m-8.7 51.2h0.8m-6.3-12.9h0.8m10.1-15.2h0.8m-17.5 16.6h0.8m9.1-30.1h0.8m5.3-2.8h0.8m-1.9 2.7h0.8m-3.5-8.1h0.8m-5.6 2.5h0.8m-2.4 16.9h0.8m2 0h0.8m6.6-4.6h0.8m-16.9-2.7h0.8m9.2 20h0.8m4-1h0.8m-7.2-4.7h0.8m-7 9.9h0.8m8.8-12h0.8m-5-6.9h0.8m-2.3 7.8h0.8m-4.1 6.2h0.8m8.7 16.2h0.8m-3.8-32.5h0.8m0.4 2h0.8m-2.3-17.5h0.8m-5.9 8.3h0.8m3.4-9.5h0.8m-5.3 13.8h0.8m8.9 1.4h0.8m-1.1 17.8h0.8m-0.3-21.3h0.8m-6.8-22.1h0.8m-2.2 35.7h0.8m-2.9 13.6h0.8m12.1-26.4h0.8m-3.4-16.1h0.8m-10.9 16h0.8m4.6 2.9h0.8m-5.3 33h0.8m5.1-25.8h0.8m1.2-1.7h0.8m-5.4-11.2h0.8m-8 31.4h0.8m2.8-48.3h0.8m-0.2 0.9h0.8m13.5 30.1h0.8m-3.8 16.7h0.8m-5-13.5h0.8m-7.4-10h0.8m-0.2 1.9h0.8m-1.3 18.7h0.8m6.7-21h0.8m-13.3 12.1h0.8m12.3-11.5h0.8m-11.8 7.7h0.8m11-36h0.8m-3.3 1.6h0.8m-3.2 54.5h0.8m-0.8-19.4h0.8m-2.9-7.5h0.8m12.8 20.6h0.8m-14.4-26.3h0.8m0.9 39.4h0.8m0.2-16.5h0.8m-3.7-36.5h0.8m7.8 18.3h0.8m-11.5-9.4h0.8m-0.3 1.3h0.8m-5.2 27.6h0.8m9-3.4h0.8m-4.5-9.6h0.8m1.8 12.6h0.8m2.5-12.5h0.8m-8.3-23.8h0.8m-1.5 8.7h0.8m0.5-9.2h0.8m10.4 23h0.8m-19.5-20.8h0.8m2.6 20.3h0.8m11.5-18.7h0.8m-3.1 10.8h0.8m1.9 25.1h0.8m-5.1-9.9h0.8m-2.4-16.6h0.8m-6.7 10.6h0.8m4.8-10.8h0.8m-0.8 3h0.8m-5.7-5.2h0.8m10.2 4.5h0.8m0.5-14h0.8m-14.7 19.5h0.8m10-11.9h0.8m-1.6 24.1h0.8m1.5-15.8h0.8m-6.5-23.4h0.8m-0.4 29.3h0.8m6.2-23.6h0.8m-12.2 4.1h0.8m8-23.2h0.8m-10.8 69.8h0.8m8-51.5h0.8m-4.5 33h0.8m2.3-16.2h0.8m-7.6 16h0.8m3.2-0.4h0.8m1.3-19.3h0.8m4.4-0.5h0.8m-5.9-2h0.8m-4.1 5.8h0.8m-3 7.4h0.8m9.2 24.5h0.8m-0.2-30.8h0.8m-0.7 9h0.8m0.9-25.4h0.8m-2.4 10h0.8m-2.4 2h0.8m-2 2.8h0.8m-14.9-10.4h0.8m7.4 15h0.8m-10.8-18.5h0.8m6.8 15h0.8m4-9.3h0.8m-9.6 17h0.8m5.2 8.9h0.8m-1.8-3.7h0.8m-2.6-5.7h0.8m4.1 2.7h0.8m-6-8.6h0.8m-0.3-0.6h0.8m6.6 47.5h0.8m-3.8-34.2h0.8m-0.4 6.3h0.8m1-1.4h0.8m-1.4 20.5h0.8m4.4-61.9h0.8m-6.2 26.9h0.8m-13.4-14.2h0.8m7.9 1.9h0.8m2.2-16h0.8m2.3 38.8h0.8m-2.8-16.7h0.8m-2.5-2h0.8m4.9 14.6h0.8m3.5-13.1h0.8m-3.5-3.2h0.8m-9-7h0.8m2.7 14.8h0.8m-0.3 23.4h0.8m-4.2-16.7h0.8m4-6.6h0.8m-8.1 6.2h0.8m4.5 6.4h0.8m0.9-21.8h0.8m-2.8 28.6h0.8m-5.3-13.1h0.8m-1.6-2.9h0.8m11 0.1h0.8m-14.4 2.6h0.8m5.2 11.5h0.8m-8.8-30.5h0.8m5.7-9.6h0.8m5.3-7.1h0.8m-10.7 8.2h0.8m0.1 34.3h0.8m5.5 1.9h0.8m-0.8-44.5h0.8m-2.3 2.8h0.8m-4.8 21.9h0.8m-1 13.3h0.8m-2.2 18.6h0.8m6.3-8.3h0.8m0-4.3h0.8m-4.8 16.1h0.8m-5.9-22.6h0.8m4.5-10.3h0.8m0.8-7.9h0.8m1.9 23.1h0.8m-4.6-0.7h0.8m-6.5-38.3h0.8m1.5 23.6h0.8m14.6 0.1h0.8m-8.1 16.2h0.8m4.6-11h0.8m-8.1-4.6h0.8m-8.4-12.2h0.8m-0.4 36.6h0.8m4.5-23.8h0.8m-2.1-6.2h0.8m-1.1 7.9h0.8m2.7 14.3h0.8m-12.3-10.2h0.8m14.3-18.8h0.8m-9 17.8h0.8m6 6.5h0.8m-7.4-1.5h0.8m5.5-1.6h0.8m3.3 0.5h0.8m-15.4-18.2h0.8m3.8 8.7h0.8m3 8.4h0.8m4.7 6.9h0.8m-2-23.6h0.8m-10.3 21.7h0.8m1.8-0.8h0.8m0-18.8h0.8m6.4 26.5h0.8m-17.1-26.4h0.8m7.1 19.5h0.8m-1.2-30.7h0.8m3.7 17.4h0.8m1 7.6h0.8m-1.8 8h0.8m-1.3-20.1h0.8m-0.1 10.7h0.8m-12.2-9h0.8m3.8 13h0.8m4.3-23.8h0.8m-0.6 15.8h0.8m-9.7 13.5h0.8m0.7-30.4h0.8m6.7 31.4h0.8m-7.8 2.3h0.8m7.5-23.6h0.8m4.1 6.9h0.8m-9.6-34.8h0.8m1.2 26.5h0.8m-1.7-16.4h0.8m2.8 47.5h0.8m2.8-66.1h0.8m-7.3 49.4h0.8m-18.8-16.1h0.8m13.9 32.3h0.8m-4.6-18.2h0.8m3.1 2.4h0.8m-2.5 7.9h0.8m6.1-33.7h0.8m-0.1 9.2h0.8m-7.7 28.1h0.8m1-8.2h0.8m2.7 0.3h0.8m-7.4-23.2h0.8m5.3 25.7h0.8m-2.4-14.2h0.8m1.7 2.4h0.8m-11.9 4.7h0.8m8.5 7.4h0.8m-7.8-22.8h0.8m5.4 4.5h0.8m-2.8 20.8h0.8m1.5 13.3h0.8m-1.3-1.7h0.8m3 12.5h0.8m-6-39.3h0.8m5.7-6.3h0.8m-9.6 11.4h0.8m3.4-24.6h0.8m-1.4 16.3h0.8m-2.2 7.3h0.8m-1.6 13.5h0.8m2.6-18.8h0.8m-2.8 18.3h0.8m2.7 3.5h0.8m-5.4-16.8h0.8m9.9-2.6h0.8m-2.4 13.2h0.8m-11.3-33.4h0.8m4.5 10.3h0.8m-7.5-15.3h0.8m8.6 27.4h0.8m-6.5 4.4h0.8m0.3-4.5h0.8m0.5-5.5h0.8m-16.2 15.1h0.8m14.2-10.6h0.8m5-21.2h0.8m-23.1 43h0.8m15.6-46.7h0.8m-4.9 33.7h0.8m-4.8-0.9h0.8m15.8 12.4h0.8m-11.5-15.9h0.8m-5.3-2.8h0.8m2.2-16.8h0.8m-5.8 43.6h0.8m6.3-44h0.8m-3.3 37.4h0.8m9.3-31.3h0.8m-7.9 22.4h0.8m-3.4-30.8h0.8m-4 17.7h0.8" stroke="#000" stroke-width="0.8" fill="none"/>
<path d="M902.2 213h0.8m5 44.2h0.8m9.2-23h0.8m12.6-11.1h0.8m-22.4-11.5h0.8m8.5 24.6h0.8m-27.7-14h0.8m37.2 30.8h0.8m-19.2 2.8h0.8m-19.5-33.6h0.8m2.2 0h0.8m9.5 26.9h0.8m14.3 8.9h0.8m17.5-29.2h0.8m-30.3 19.9h0.8m-9.6-15.8h0.8m12.7-11.9h0.8m-0.2 41.9h0.8m-18.1-69.7h0.8m12.3 24.7h0.8m0.2 11.7h0.8m0.6 31.3h0.8m4.8-29.5h0.8m-22.5-42.3h0.8m-11.8 33.5h0.8m23.9 2.3h0.8m-8.4-18.4h0.8m-12.3-2.6h0.8m23.9-5.2h0.8m-0.3 21.2h0.8m-2.4 22.5h0.8m1.5 18.8h0.8m-17.6-43.1h0.8m2.9 3.9h0.8m11.1 12.9h0.8m-8 10.4h0.8m-6.1 13.5h0.8m-15.8-17.2h0.8m24.8-20h0.8m-13.9 33.2h0.8m3.3-56.2h0.8m-12.1 58.2h0.8m4.3 6h0.8m23.8-30.1h0.8m-9.9-12.5h0.8m-11.1 2.6h0.8m10-11.7h0.8m-8.7 26.5h0.8m6.3-43.2h0.8m-26.1 24.7h0.8m16.4 20.2h0.8m3.7 37.3h0.8m4.2-28.4h0.8m-13.3 3.9h0.8m12.1-2.3h0.8m-9.6-1h0.8m17.1-28.2h0.8m-41.1 32.1h0.8m30.8-20.9h0.8m-13.9-19.6h0.8m-0.9 34.1h0.8m-2.3-17.7h0.8m9.2-0.8h0.8m-2.7 7.7h0.8m-13.8 2.3h0.8m-1.9 17h0.8m1.7-23.2h0.8m-10.5-4.2h0.8m5.4 38.5h0.8m11.5-19.3h0.8m-18.6-34.9h0.8m16.5-2.4h0.8m13.5 18.9h0.8m-11.6 14h0.8m-4.1 9.4h0.8m-6.5-8.1h0.8m19.6-3.1h0.8m-12.5-10.8h0.8m-1.6 19.9h0.8m-4.1-46.6h0.8m3.7 30.3h0.8m2.5 3.7h0.8m11.2-24.5h0.8m-28.5 36.6h0.8m-1.4-6.4h0.8m10.2-45.2h0.8m6.6 65.7h0.8m-5.8-54.6h0.8m5.5 7.1h0.8m-10.7 28.6h0.8m-7.9-41.4h0.8m6.1 32.4h0.8m-8.5-14.5h0.8m16.4 13.6h0.8m-13.9-10h0.8m6.1 13.6h0.8m-4.5-29.1h0.8m-2.9 14.9h0.8m3.9 34.9h0.8m8.7-10h0.8m-9.8-18.9h0.8m1.6-3h0.8m-8.1-7.1h0.8m2.3 14.9h0.8m19.5 12.3h0.8m-24.6 4.3h0.8m-1.8 4.5h0.8m-7.3-21.1h0.8m9.5 7.2h0.8m8.1-24.7h0.8m-16.2 24.8h0.8m17.3-27.6h0.8m-27.7 44h0.8m24.8-1.2h0.8m-20.2-24.9h0.8m12 12.4h0.8m-4.5-9.5h0.8m11.2-7.4h0.8m-17.3 0h0.8m-0.5 10.9h0.8m2.5-11h0.8m16.5 14.3h0.8m-19.5 18.5h0.8m-3.1-24.4h0.8m4.1-11h0.8m-3.9 12.7h0.8m-11.9-9.1h0.8m17 12.8h0.8m-0.3 39.6h0.8m3.1-47.7h0.8m-9.1 2.7h0.8m5.1-5.6h0.8m10.4-15.5h0.8m-10 30.8h0.8m-19.5 2.4h0.8m17.1-24.3h0.8m17.7 25.8h0.8m-28.6-22.7h0.8m-5.1 14.1h0.8m7.6-31.9h0.8m-12.3 13.3h0.8m5.8 6.7h0.8m-3.5 19.1h0.8m16.1-10.8h0.8m-33.7-4.4h0.8m28 1.5h0.8m-3.8 3.5h0.8m-19.3-50.1h0.8m21.3 38.2h0.8m-2.9 4.1h0.8m-6.9 31.8h0.8m-11.6-26.2h0.8m0.3 1.5h0.8m15.6 11.1h0.8m-4.2-38.6h0.8m0.2 43.1h0.8m7 23.8h0.8m-5.3-60.1h0.8m-12.1 21h0.8m15.6-23.3h0.8m-2.2 34.1h0.8m-19.5-0.9h0.8m0.3-11.6h0.8m4.1 4.6h0.8m-10 5.5h0.8m-11.1-17.7h0.8m15.9 37.6h0.8m10.7-39.2h0.8m-15.7 9.9h0.8m2 41.8h0.8m-23.2-41.2h0.8m2.5 18.5h0.8m16.4 10.7h0.8m1.9-9.9h0.8m7.1 1.9h0.8m-2.7-78.8h0.8m-8.6 26.8h0.8m16.6 39.8h0.8m-10.6-1.6h0.8m1.2-19.5h0.8m17.5 15.4h0.8m-23.2-32.3h0.8m-5.3 28h0.8m3.9-9.3h0.8m0.5-12.2h0.8m-0.2-8.1h0.8m-9.9 15.4h0.8m17.3 23.3h0.8m-9.1-31.1h0.8m-5.7 37h0.8m16.4-43.2h0.8m-18.4 30.1h0.8m7.4-1.9h0.8m2.5-27.6h0.8m8.5 5.7h0.8m-16.4 31.7h0.8m10.8 7.3h0.8m-3.9 7.1h0.8m-11.5-10h0.8m16.9-28.7h0.8m-31.5-4.7h0.8m28.6 42.8h0.8m-19.3-18.9h0.8m7.9 15.3h0.8m-25.5-30.6h0.8m16.2 16.7h0.8m2.8-12.1h0.8m1.4-42.9h0.8m28.4 64.7h0.8m-23.7-28.2h0.8m-5.7 51.7h0.8m13.9-37.7h0.8m-32.9 1.7h0.8m9.1 13.1h0.8m-11.1-19.8h0.8m15.5-5.3h0.8m7.4-12.8h0.8m-24.8 15h0.8m20.9 0.9h0.8m-15.8 21.2h0.8m7.8-25.5h0.8m-1.8 5.5h0.8m4.3 7.3h0.8m-15.6-11.8h0.8m3.2 16.2h0.8m7.5-23h0.8m-6.7 21.8h0.8m12.7-1.1h0.8m8.2-4.3h0.8m-13.6-6.8h0.8m-19 8.3h0.8m14.7 4.2h0.8m-4.3-12.6h0.8m-11 0.6h0.8m12.8 24.1h0.8m-40.4-6.6h0.8m45.3 12.5h0.8m-8.2-11.4h0.8m-9.5-14.5h0.8m9.4-19.3h0.8m-14.7 24.8h0.8m-6.5-2.8h0.8m-2.4 2.7h0.8m15.1-14.5h0.8m-11 1.1h0.8m-14.5 2.1h0.8m24.1 30.7h0.8m-7.4-26.5h0.8m19.2 36.7h0.8m-20.6-13.2h0.8m16.7-10.2h0.8m-23.6-28h0.8m15.7 62.8h0.8m-8.7-14.7h0.8m21-54h0.8m-27.1 52.9h0.8m15.8-18.4h0.8m-11.2 1.6h0.8m-7.3 35.9h0.8m-6.3-82.5h0.8m12.9 62.2h0.8m-7.5-28.8h0.8m-6.4-0.3h0.8m-0.8-17.9h0.8m-5.6 8.7h0.8m34.4 9.5h0.8m-18.4 44h0.8m-9.6-62.1h0.8m11.5-4.5h0.8m-2.8 45.9h0.8m-15.8-32.2h0.8m28.6-10.4h0.8m-26 24.9h0.8m3.1-20.9h0.8m19.5 5.2h0.8m-14.3 3.3h0.8m-6.7-18.5h0.8m11.4 18.1h0.8m2.9-14.1h0.8m-19.4 31.6h0.8" stroke="#222" stroke-width="0.8" stroke-opacity="0.75" fill="none"/>
<path d="M859.1 230.5h0.8m-3-8.6h0.8m0.9-18.2h0.8m0.2 53.9h0.8m5.5-6.8h0.8m-12.2-4.8h0.8m-0.7-7.8h0.8m1.9-44.2h0.8m8 51.5h0.8m-1.5-18.9h0.8m-2.1 19.3h0.8m-26.1-30.3h0.8m19 14.8h0.8m-1.4 0.4h0.8m12.3-17h0.8m-25.6 12.4h0.8m-0.8 5.4h0.8m10.8-10.3h0.8m2.6 35.8h0.8m5.5 9.3h0.8m-0.4-27.4h0.8m4.8 9.9h0.8m0-12.1h0.8m-35.3-13.1h0.8m19 23.2h0.8m-4.1 6.1h0.8m-9-23h0.8m17.8 10.2h0.8m-8.6 18.3h0.8m7.9-29.7h0.8m-8.5-12.2h0.8m-2.7 28.2h0.8m-15.7 15.8h0.8m31.6-14.3h0.8m-10.1 13.5h0.8m-10.3-6.2h0.8m4-34.6h0.8m-11.9 13h0.8m16.3 9h0.8m-1.6-7.7h0.8m-20.4 34.2h0.8m33.9-22.7h0.8m-26.1 10.9h0.8m-8.7-18.8h0.8m-3.6 9.3h0.8m13.8-11.9h0.8m-8.6-15.1h0.8m-2.3 37.1h0.8m3.3 0.4h0.8m-5.3-18.1h0.8m2.7-2.4h0.8m9.9-24.2h0.8m-1.1 37h0.8m-7.2-8.3h0.8m-2.7 8.3h0.8m1.6-20.7h0.8m0 24.2h0.8m1.1-12.4h0.8m-2.2-7.1h0.8m-6.6-18.7h0.8m1.6 38.6h0.8m-2.5-25.4h0.8m10.3 14.4h0.8m-7.4 4.1h0.8m4.1-6.9h0.8m-14.1 24h0.8m6.9-33.8h0.8m0.3 26.4h0.8m-14.6 1.6h0.8m10.3 9.2h0.8m6.1-28.2h0.8m4.2 18.5h0.8m-14.6-14h0.8m-2.2 9.2h0.8m-8.5-14.7h0.8m-7 10.3h0.8m-1.6-22h0.8m20.6 9.4h0.8m-6.9-8.2h0.8m-1-10.5h0.8m6 34.2h0.8m3-11.3h0.8m3.1 6.7h0.8m-3-0.9h0.8m-8.8-15.4h0.8m-23.7 18.7h0.8m20.9 17.9h0.8m-16.9-15.3h0.8m8.1-11.2h0.8m-0.3 4.7h0.8m6.6 7h0.8m0.7-5.3h0.8m8.9 0.5h0.8m-12.9 9.6h0.8m-0.6-11h0.8m-2.6-14.3h0.8m-23.8 18.1h0.8m15.1 0.5h0.8m24.5-27.3h0.8m-8.7 16.3h0.8m-4.4-14.7h0.8m-4.5 18h0.8m11.2 26.5h0.8m-10.3-33.4h0.8m15.5 3.5h0.8m-20.3 2.7h0.8m3.7 8.1h0.8m-9.7-10.9h0.8m20.2 22.8h0.8m-13.1-17.6h0.8m-6.6 10h0.8m-3.2-12h0.8m-0.3-10h0.8m3.5 8.4h0.8m-6.1-0.9h0.8m4.7-5.4h0.8m-7 4.4h0.8m10.8 16.6h0.8m-5.2-18.3h0.8m-2.6 29h0.8m7.3-38.1h0.8m-9.1 5.6h0.8m-3.5-15.3h0.8m2.6 4.3h0.8m-6.1 38.3h0.8m12.8-31.8h0.8m-18.2-0.5h0.8m-8.1-1h0.8m13-0.9h0.8m8 13.3h0.8m-11.8 24h0.8m9.8-22.4h0.8m9 16.6h0.8m-22.7-13.2h0.8m1.5-23.4h0.8m19.2 39.1h0.8m-27.9-13.4h0.8m-4 7.7h0.8m12.8-18.2h0.8m10.5 4h0.8m-13.9 12.1h0.8m-1.1-0.5h0.8m1.8-0.6h0.8m4.6-0.5h0.8m-14.9 14.6h0.8m6.5-1.6h0.8m-4.6-27.2h0.8m2.1 19.1h0.8m-2.2-9.9h0.8m-10.6-12h0.8m14.6 5h0.8m-18.9 8.1h0.8m7 19.4h0.8m5.9 4.3h0.8m6.6-24.2h0.8m-10.7-7.8h0.8m7.3-24.6h0.8m3.9 10.5h0.8m-11.7-21.1h0.8m5.4 46.9h0.8m-2.3-5.7h0.8m-6.5-2.3h0.8m13-7.8h0.8m-7 15.5h0.8m-7.2-6.6h0.8m3.2-9.9h0.8m18.4 0.9h0.8m-7.1 20.3h0.8m-33.3-11.1h0.8m25.8 7.6h0.8m-17.6-7.5h0.8m-3.4-17.6h0.8m7.6 16.7h0.8m15.2 2.2h0.8m-5.5-21.1h0.8m-20.1 9.7h0.8m24.5-11.6h0.8m-29.8 17.2h0.8m23.3-21.1h0.8m-13.4 3.7h0.8" stroke="#222" stroke-width="0.8" stroke-opacity="0.6" fill="none"/>
<path d="M958.7 223.7h0.8m-46.3-28.7h0.8m-20.6 7.2h0.8m-16.9-39.7h0.8m-18.8 34.8h0.8m11.5 33.4h0.8m-51.6-11.9h0.8m101.6 25.2h0.8m-31.4-105.6h0.8m-26.9 102.3h0.8m23.2-60h0.8m-11.6 13.5h0.8m13-58.1h0.8m-15.2 99.7h0.8m78.8-43.9h0.8m-77.3 57.5h0.8m12.4-98.6h0.8m1.2 72.9h0.8m64.8-46h0.8m-40.5 6.1h0.8m22.6 22.9h0.8m-35-48.4h0.8m-23.4 25.7h0.8m11.2 4.5h0.8m-14.5 9.1h0.8m22.7-51.9h0.8m-5.4 55.3h0.8m-4.6-62.3h0.8m-7.3 7.9h0.8m18.2 101.2h0.8m19.5-64.5h0.8m-55.7-8.8h0.8m33.8-3.9h0.8m-47.5-4.6h0.8m11.3 77.7h0.8m-32.6-98.9h0.8m75.3 13.5h0.8m-30.5 44.9h0.8m6.2-36.9h0.8m34.3 88.5h0.8m-75.6-68.9h0.8m74.8 2.5h0.8m-76.3-8.7h0.8m70.5-22h0.8m-23.3 53.6h0.8m-36 7.1h0.8m50.5 16.8h0.8m9.5-96.7h0.8m-2.3 80.6h0.8m2.4-55.7h0.8m-3.6 47.5h0.8m-81 35h0.8m14-88.9h0.8m44.9 16h0.8m-2.2 13.9h0.8m-3.8 41.3h0.8m-13.1 2h0.8m33.4-66.2h0.8m-0.5 56.5h0.8m-28.7 19.4h0.8" stroke="#666" stroke-width="0.8" stroke-opacity="0.45" fill="none"/>
<rect x="812.6" y="132.7" width="71" height="46.6" fill="none" stroke="#3e4c7a" stroke-width="1.2"/>
<rect x="881.3" y="199.6" width="58.3" height="74.1" fill="none" stroke="#d4646e" stroke-width="1.2"/>
<text x="824.6" y="130.4" font-size="24.5">81.7</text>
<text x="945.2" y="265" font-size="24.5">3.3</text>
<rect x="616.6" y="297.4" width="187.2" height="186.6" fill="none" stroke="#8a8a8a" stroke-width="1.1"/>
<path d="M616.6 317h-4.5M616.6 359h-4.5M616.6 401h-4.5M616.6 462.9h-4.5M616.6 303h-2.5M616.6 307.7h-2.5M616.6 312.5h-2.5M616.6 317.2h-2.5M616.6 322h-2.5M616.6 326.7h-2.5M616.6 331.4h-2.5M616.6 336.2h-2.5M616.6 340.9h-2.5M616.6 345.7h-2.5M616.6 350.4h-2.5M616.6 355.1h-2.5M616.6 359.9h-2.5M616.6 364.6h-2.5M616.6 369.4h-2.5M616.6 374.1h-2.5M616.6 378.8h-2.5M616.6 383.6h-2.5M616.6 388.3h-2.5M616.6 393.1h-2.5M616.6 397.8h-2.5M616.6 402.6h-2.5M616.6 407.3h-2.5M616.6 412h-2.5M616.6 416.8h-2.5M616.6 421.5h-2.5M616.6 426.3h-2.5M616.6 431h-2.5M616.6 435.7h-2.5M616.6 440.5h-2.5M616.6 445.2h-2.5M616.6 450h-2.5M616.6 454.7h-2.5M616.6 459.4h-2.5M616.6 464.2h-2.5M616.6 468.9h-2.5M616.6 473.7h-2.5M616.6 478.4h-2.5M636.3 484v4.5M700.8 484v4.5M743 484v4.5M784.1 484v4.5M620.3 484v2.5M625 484v2.5M629.6 484v2.5M634.2 484v2.5M638.8 484v2.5M643.4 484v2.5M648 484v2.5M652.6 484v2.5M657.2 484v2.5M661.8 484v2.5M666.4 484v2.5M671 484v2.5M675.6 484v2.5M680.2 484v2.5M684.9 484v2.5M689.5 484v2.5M694.1 484v2.5M698.7 484v2.5M703.3 484v2.5M707.9 484v2.5M712.5 484v2.5M717.1 484v2.5M721.7 484v2.5M726.3 484v2.5M730.9 484v2.5M735.5 484v2.5M740.2 484v2.5M744.8 484v2.5M749.4 484v2.5M754 484v2.5M758.6 484v2.5M763.2 484v2.5M767.8 484v2.5M772.4 484v2.5M777 484v2.5M781.6 484v2.5M786.2 484v2.5M790.8 484v2.5M795.4 484v2.5M800.1 484v2.5" stroke="#777" stroke-width="0.8" fill="none"/>
<path d="M616.6 462.5h-4M616.6 460.7h-4M616.6 464.4h-4" stroke="#333" stroke-width="1.2"/>
<path d="M636.3 484v4M638.1 484v4M634.4 484v4" stroke="#333" stroke-width="1.2"/>
<path d="M688.8 359.4h0.9m-58.5-2.6h0.9m23.8-5.9h0.9m7.9-0.5h0.9m22.8 5h0.9m-30.6 4.2h0.9m13.5 3.3h0.9m-4-10h0.9m-10-17.5h0.9m-30.5 26.3h0.9m20.2 6.4h0.9m38.3-25.2h0.9m-28.4 34.1h0.9m-21.1-20.6h0.9m9.4-5.2h0.9m-1.8 1.8h0.9m18.2-6.4h0.9m-5.6 0.8h0.9m-0.5 8.4h0.9m-24.9-1.5h0.9m-0.1-8.1h0.9m34.1-8h0.9m-12.1 20.8h0.9m-22.1 3.2h0.9m26.8-19.7h0.9m-8 14.5h0.9m-24.2 0.9h0.9m26.5-10.6h0.9m-51.4 9.2h0.9m22.2-17.5h0.9m5.6-5.4h0.9m0 32h0.9m-11.7-15.8h0.9m-0.7 8.6h0.9m15.7-11.7h0.9m-24.8 3h0.9m44.5-6.5h0.9m-14.5 12.8h0.9m-45.5 6.3h0.9m35.3 9.3h0.9m31.9-20.5h0.9m-35.8-6.2h0.9m-23.5 14.9h0.9m19.9-9.9h0.9m0.6 8.9h0.9m19.7-5.6h0.9m-22 0.9h0.9m41.1-18.1h0.9m-60.7 21.1h0.9m23.3 6.3h0.9m20.7 6.3h0.9m-40.1-11.4h0.9m9.6 3h0.9m6.9-0.7h0.9m-18.1-6h0.9m3.4-3.5h0.9m0.2-6.4h0.9m28.3 11h0.9m-1.4-10.7h0.9m-57.5 2.9h0.9m32.6 11.9h0.9m21.6 3.6h0.9m8.1-4.1h0.9m-27.5-12.4h0.9m9.8 2.2h0.9m-28.6 9.1h0.9m18.2 2.2h0.9m-18.4 2.6h0.9m19.2-11.1h0.9m-21.7-7.6h0.9m-12.3 20.6h0.9m-1.9-6.4h0.9m21-10h0.9m-5.1 4h0.9m24.8 5.5h0.9m-17.8-16.2h0.9m-34.1 27h0.9m13.5-28.6h0.9m38.8 0.6h0.9m-8 20.2h0.9m-10.1 0.3h0.9m-31.5-18.2h0.9m21.5 10.1h0.9m1.1 3.9h0.9m-13.1-21.6h0.9m20.4 15.8h0.9m6.7 19.3h0.9m-14.6-12.5h0.9m-19.1 2.7h0.9m22.2-5.5h0.9m9.8-11.5h0.9m-7.5 13.3h0.9m18.3-18.9h0.9m-32.3 33.3h0.9m-6.8-21.9h0.9m40 24.5h0.9m-32-26.8h0.9m-14.2 2.6h0.9m-5.6-3.4h0.9m18.1 7.1h0.9m4.8-0.2h0.9m-32.4 6h0.9m26.3-11h0.9m-10.6 7.5h0.9m5.6-3.8h0.9m12 10h0.9m-21.1-9.1h0.9m-15.7-1.2h0.9m28.6 8.6h0.9m-6.6-7.9h0.9m-17.4 2.5h0.9m-7.9-0.7h0.9m19.8-8.6h0.9m4.9 5.7h0.9m4.1-2.2h0.9m-3.1 17h0.9m-6.5-6.4h0.9m-16.2-9.5h0.9m-24.1 1.6h0.9m13.2 2.2h0.9m-18.3-8.1h0.9m39.1 10.4h0.9m-33.3-6.7h0.9m77.6 10.1h0.9m-45.6-29.6h0.9m-21 27.3h0.9m20.6-0.5h0.9m12.5-3h0.9m-2.9-15.7h0.9m29.8 12.4h0.9m-59.5 15h0.9m22.4-4.4h0.9m-23.6-5.8h0.9m23.8-11.8h0.9m-18.2 7.4h0.9m-2.3-3.8h0.9m-18.9 9.4h0.9m27.1 6.1h0.9m-6.7-15.2h0.9m-26.6 6.3h0.9m20.2 16h0.9m47.5-3.6h0.9m-60.3-24.8h0.9m11.5 4.2h0.9m29.9 8.4h0.9m-34.9-1.1h0.9m30-7.7h0.9m-15.1-3.2h0.9m-13.9 5.5h0.9m8.8 6.8h0.9m15.6 4.4h0.9m-34.5-16.7h0.9m-4.8 7.5h0.9m10-2.8h0.9m23.5 14.1h0.9m-26.1-11.9h0.9m-0.3 3.7h0.9m3.1-13h0.9m-8.5-2.2h0.9m7.8 21.2h0.9m-21.3-4.2h0.9m7.4-7.2h0.9m47 13.2h0.9m-28.4-11h0.9m-2.2 2h0.9m-0.1-5.9h0.9m-10.7 4.2h0.9m-25.9 17.4h0.9m40.6-20.7h0.9m-43.4 0.5h0.9m10.8 1h0.9m-13.4-1.8h0.9m28.4 10.3h0.9m-39-3.4h0.9m17.6-8.7h0.9m11.5 3h0.9m18.1 11.5h0.9m-19.6-11.2h0.9m38.1 21h0.9m-27-16.9h0.9m10.7 13.4h0.9m-29.6 3h0.9m6-6h0.9m-7.6-8.6h0.9m0.3-0.3h0.9m26.6-7.7h0.9m-25.5 12h0.9m-4.1 12.5h0.9m-19.5 4.2h0.9m14.1-13.1h0.9m41.7-3.7h0.9m-57.6-7.2h0.9m26.8 7.5h0.9m16.3 4.7h0.9m8.3-17.4h0.9m-9.9-6.7h0.9m-16.8 5.7h0.9m-37.1 16.7h0.9m32 0.6h0.9m-30.1-18.6h0.9m27 4.7h0.9m2.3 0.3h0.9m-8.7-4.4h0.9m29.7 7h0.9m-47.3 8.4h0.9m30.4-3.9h0.9m-5.8-5.2h0.9m-7.5-15.3h0.9m-27.8 8.3h0.9m33.8 20.7h0.9m-9.4-12.6h0.9m23.5-0.8h0.9m-9.8 6.7h0.9m-38.3-1h0.9m28-12.3h0.9m-24.3-1.1h0.9m44.5 28.6h0.9m-13.4-4.6h0.9m-39.7-1.3h0.9m61.8 1.7h0.9m-55.9-4.5h0.9m14.7 0h0.9m-10.9-9h0.9m0.5 3.9h0.9m7.9 5.4h0.9m16.6-5.9h0.9m-17.2-6.1h0.9m-0.1 8.9h0.9m1.5-3.9h0.9m-4.1-3.1h0.9m-12.7-15.2h0.9m22.5 20.6h0.9m-30.1 11.5h0.9m-4.6-7.8h0.9m25.9-5.8h0.9m15.9 5.2h0.9m-22-16.8h0.9m-24.4 10.6h0.9m52.1 5.8h0.9m-31.4-4.6h0.9m12.6 11.8h0.9m-28.2-8.5h0.9m18.7-12.6h0.9m-25.4 17.2h0.9m24.6-12.5h0.9m-5.2 10.1h0.9m-1 5.3h0.9m-7.6-20.3h0.9m1.9-1.3h0.9m-5.4 18.4h0.9m38-5.1h0.9m-29.5-13h0.9m-23.6 10.8h0.9m21.3-8h0.9m-12.6 18.1h0.9m26.4-12.8h0.9m-15.4 10.4h0.9m1.6-8.8h0.9m-37.5-16.3h0.9m-7.3-4.8h0.9m35 21.9h0.9m-17.1 0.9h0.9m24-4.4h0.9m-37.3 12.9h0.9m53.2-17.1h0.9m9.8 5.3h0.9m-52.6-3.9h0.9m-21.2 0.5h0.9m3.9 12.6h0.9m35.6-21.4h0.9m3.9-2.8h0.9m-8.8 18.7h0.9m-2.6-13.7h0.9m-4.3 8h0.9m2.3 14.2h0.9m30.1 0.8h0.9m-45.1-19.8h0.9m11.6 10.1h0.9m-40.4-8.9h0.9m72.2-5.4h0.9m-49 4.6h0.9m22.4 5.4h0.9m-16.3-12.3h0.9m16.8 12.9h0.9m-25.1 0.2h0.9m26.7-12.8h0.9m-45.3 3.9h0.9m11.9-17.3h0.9m4.3 35.4h0.9m4.2-0.8h0.9m31.8 4.7h0.9m-36.8-20.4h0.9m15.9-3.3h0.9m-15.1-3.9h0.9m7.6 14.3h0.9m28.5 3h0.9m-44.4-3.8h0.9m-12.9 1h0.9m19.5 3.3h0.9m21-20.6h0.9m-12.5 23.3h0.9m-29.9 9.9h0.9m8.2 4.8h0.9m27.7-12.7h0.9m-10.7 0.3h0.9m-25.7-15.4h0.9m-18.5 11.5h0.9m22.9 1.8h0.9m24-17.9h0.9m1.1 13.7h0.9m-10.5 1.7h0.9m-5.2-3.8h0.9m19.7-8.6h0.9m-43.9 2h0.9m41.7 3.7h0.9m15.9-23.5h0.9m-51 22.4h0.9m17.9 15.2h0.9m-9.7-20h0.9m18.7 21.9h0.9m-11.3-20.3h0.9m-15.6 9.5h0.9m8.7-4.6h0.9m-23.6 4.6h0.9m8.6-1.7h0.9m0.6 0.9h0.9m24.5 0.3h0.9m-2.6-13.8h0.9m-4.6 14.3h0.9m-21.7-3.9h0.9m3.3-17.9h0.9m16.5 13.9h0.9m-5.3 3.4h0.9m3 2.8h0.9m-15.5 3.4h0.9m20.4-23.5h0.9m-16.3 14.2h0.9m-22.5 16.2h0.9m38.5-19.9h0.9m-40.4 15.8h0.9m8.4-9.8h0.9m-26.5 1.6h0.9m58.2-2.7h0.9m-24.8 18.7h0.9m18.1-2.7h0.9m-5.6-1.9h0.9m-44.6-17.2h0.9m-0.7 25.9h0.9m34-20h0.9m-18.7-7.5h0.9m11.9 9.1h0.9m-26.1-1h0.9m33-0.2h0.9m3.7-6.5h0.9m-6.5 14.8h0.9m3.6-4.4h0.9m-13.5-11.6h0.9m11.6 5.1h0.9m-29.4 9.8h0.9m-13.5-11.3h0.9m44.4 12.8h0.9m-22.8-7.5h0.9m16.6-1.1h0.9m-25.9 4.3h0.9m16.9-2.8h0.9m17.1 1.7h0.9m-30.8-1.2h0.9m44.7-7.5h0.9m-42.8-0.7h0.9m10.9-3.9h0.9m0.8 17.1h0.9m-24.1-13.6h0.9m-14.4 7.5h0.9m6.1-5.6h0.9m12.4-0.6h0.9m22.9 19.5h0.9m-12-22.6h0.9m-15.8 10.8h0.9m35.7 8.2h0.9m-32.9-8.9h0.9m-2.2-2.6h0.9m-16.3-13.6h0.9m14.4 23.4h0.9m20.6-24.2h0.9m-19.1 10.6h0.9m8.2-4h0.9m11 7.5h0.9m-7.3 9.2h0.9m-48.7-9.2h0.9m64.7 2h0.9m-9.8 3.4h0.9m-30.2-1.2h0.9m28.6 8.6h0.9m6.6-20.4h0.9m-12.6-2.3h0.9m-19.2 9.9h0.9m13.5 4.5h0.9m10.9-7.9h0.9m-8.6 8.5h0.9m-16.8-13.5h0.9m9.8 12.9h0.9m3.3-3h0.9m-20.7 3.6h0.9m12.7 2.6h0.9m26.3-11.1h0.9m1.2-19.9h0.9m-20.8 18.2h0.9m19-0.6h0.9m-18.8-0.9h0.9m-42.5 15.2h0.9m37-12.7h0.9m28.2 3.2h0.9m-16.8-5.9h0.9m-48.8 9.4h0.9m-1.8 3.1h0.9m7.6-12h0.9m13.8 6.2h0.9m-13.5 8.8h0.9m13.2-3.7h0.9m18.7-3.8h0.9m-10.2-2.9h0.9m-5.2 8h0.9m-22.8-17.3h0.9m-14.8 4.8h0.9m33.9 6.9h0.9m-17.1 5.2h0.9m18.6 7.7h0.9m-26-7.1h0.9m23.7-12.7h0.9m-11.9 0.3h0.9m-7.5 11.3h0.9m-28.8-11h0.9m16 8.2h0.9m0.4 2.4h0.9m-3.2-7.5h0.9m26.8 7h0.9m-9.5-3h0.9m15.2 11.9h0.9m-26.9-17.7h0.9m-13.5 20.8h0.9m1.8-25.9h0.9m21.1 20.1h0.9m-29.3-9.9h0.9m-4.7-4.8h0.9m57 7.2h0.9m-36.6-0.8h0.9m9.4-1.4h0.9m-28.7-9.1h0.9m59.5 3.5h0.9m-16.2 0.4h0.9m1 11.9h0.9m-29.4 11.1h0.9m-14.6-18.9h0.9m0.6-4.6h0.9m8.4-1.5h0.9m-0.2 21.4h0.9m-27.6-24h0.9m14 6.7h0.9m36.2 10h0.9m-11-4.3h0.9m35.3-11.3h0.9m-67.9 9.3h0.9m24.8-1.8h0.9m-20.7-9h0.9m9.8 5.1h0.9m-4.8-3.2h0.9m33.5 12.9h0.9m8.7-8.1h0.9m-34.7 2.2h0.9m-1.6 0h0.9m-4.4-14.5h0.9m-3 22.5h0.9m-32.5-8.8h0.9m46.7 13.6h0.9m-13.3-6.8h0.9m33.8 7.1h0.9m-42.5-16.1h0.9m26.8 7h0.9m-30.4-3.8h0.9m15.4 0.3h0.9m-11.7-0.4h0.9m-24.3 16.7h0.9m50.3-1.9h0.9m-26.5-11.7h0.9m12.5 5.9h0.9m-46.2-4h0.9m14.8-3.6h0.9m5.4 15h0.9m21.7-14.6h0.9m15.3-0.4h0.9m-40.9-0.9h0.9m5.9 1.9h0.9m21.8-1.4h0.9m-17.9 9.6h0.9m5.7-0.6h0.9m-3.8-18.9h0.9m-24.6-3h0.9m41.7 17.4h0.9m-31.3-11.8h0.9m14.9 7.2h0.9m-1.7-6h0.9m-27.8 20.4h0.9m2-13.4h0.9m42.3-15.3h0.9m-12.9 16h0.9m-16.8 1.7h0.9m-20.6-21h0.9m57.1 16.3h0.9m-19.7 11.8h0.9m-12.3-5.5h0.9m7.1 9.4h0.9m-5-2.6h0.9m-15.7-14.2h0.9m6.2 6.9h0.9m7.6 13h0.9m4.8-15.8h0.9m20.7 2.2h0.9m-31.5 1.4h0.9m-13.9-13.3h0.9m7.8 6.6h0.9m-19.6 3.6h0.9m11.6-6h0.9m-30.6 3.6h0.9m65.6 8.8h0.9m-13.6-7.6h0.9m-1.4-5.5h0.9m-29.3 10h0.9m-19.2-3.9h0.9m31.6 13.8h0.9m-19.7-10.7h0.9m0-8.1h0.9m33 8.9h0.9m-19.6 16.4h0.9m6.3-31.1h0.9m-14.8 9.9h0.9m33-7.1h0.9m-23.1 15.8h0.9m-24-7.5h0.9m-23.5 0.1h0.9m69.2 2.6h0.9m-32.3-2.1h0.9m38.7 3.3h0.9m-21.8-8.3h0.9m-28.6-5.1h0.9m3.9 2.9h0.9m20.9 11.3h0.9m-21.6-10h0.9m7 10.1h0.9m-3.6-14.2h0.9m-8 4.7h0.9m14.2-11.6h0.9m-22.6 23.5h0.9m13.7-14.9h0.9m3.7 9.4h0.9m-26.1 3.4h0.9m28.5-6.9h0.9m4.1-8.7h0.9m-4.2 8.2h0.9m-32.9-3.4h0.9m38.6 0.3h0.9m-29.3-0.8h0.9m-9.3 13.6h0.9m55.6 3.1h0.9m-33-4.9h0.9m-16.9-10.5h0.9m-16.4 16.3h0.9m14.8-18.1h0.9m-6.6 7.6h0.9m0.8-1.4h0.9m12.5 11h0.9m-27.3-8.7h0.9m9.4-6.1h0.9m42.5 8.9h0.9m-38.5-1.2h0.9m6 5.2h0.9m-9.7-5.2h0.9m4.4-4h0.9m0.1-5.3h0.9m4 13.5h0.9m-14.3-11.5h0.9m17.4-3.1h0.9m8.5 12.3h0.9m-37.5 1h0.9m37-17h0.9m-31.4 9.4h0.9m5 6.7h0.9m24.4-1.1h0.9m1.2 2.9h0.9m-22.6-11.5h0.9m-13.4 10.5h0.9m29.6 1.7h0.9m-23.7-11.8h0.9m10.2 13.7h0.9m0.8-8.6h0.9m-23 1.9h0.9m24.6-11.7h0.9m21.9 0.3h0.9m-16.4 6h0.9m-15.2-4.9h0.9m-14.5 12.4h0.9m6-8.7h0.9m19.4 8.8h0.9m-14.4-4h0.9m28.2-3.3h0.9m-25.9 4.9h0.9m-34.3-19.7h0.9m27.7 23.4h0.9m0.4-11.7h0.9m-16.9 11.3h0.9m5.8-20.3h0.9m17.4 15.5h0.9m-6.5 6.7h0.9m16.7-4h0.9m-28.9-22.4h0.9m7.9 16.4h0.9m18.2 12h0.9m-16.6 0.7h0.9m-11.2-11.8h0.9m-15.4-2.2h0.9m18.9 11.4h0.9m-18.6-2.1h0.9m56.6-18h0.9m-49.5 11.4h0.9m22.8 16.5h0.9m3.3-16.9h0.9m-39.8-0.2h0.9m14.2 2.5h0.9m-16.9 10.7h0.9m2.3-7h0.9m16.6-14.9h0.9m-3.6 9.3h0.9m-5.7 6.6h0.9m-6.3 14.6h0.9m29.2-29h0.9m-17.4 8.3h0.9m-23.9-12.7h0.9m-17.5 33.6h0.9m64.1-26.2h0.9m4.2-10.9h0.9m-23 21.4h0.9m-30.2-9.7h0.9m-4.3 4.2h0.9m43.3 8h0.9m-17.7 1h0.9m-42.3 7.6h0.9m31.7-28.1h0.9m-7.2 5.6h0.9m8.1 8.1h0.9m29.9-11.3h0.9m-5.7 19.3h0.9m-9.6 3.2h0.9m-46.2-7.7h0.9m6.2 13.9h0.9m-0.2-30.4h0.9m38.7 15.6h0.9m-21.6-4.1h0.9m10.2 13.5h0.9m-26-19.4h0.9m1.6 4.2h0.9m10.3-10.3h0.9m4.6 0.2h0.9m-12.5 8.6h0.9m0.3 14.6h0.9m34.8-3.4h0.9m-2-11.6h0.9m-4.2 2h0.9m-23.2 2.8h0.9m-30.6-7.5h0.9m21.4 8.3h0.9m-0.3-10.4h0.9m-20.4 7.3h0.9m-1.4-10h0.9m19.6 11.5h0.9m-14.7-16.7h0.9m20.3 22.1h0.9m-14.1-10.1h0.9m-14 9.3h0.9m8.7-7.4h0.9m6.7-14h0.9m54.9 2h0.9m-51 6.3h0.9m-7.5 18.7h0.9m-31.8-13h0.9m43.9 2.3h0.9m-2.8-7.4h0.9m-39.6-4.8h0.9m22.5 17.5h0.9m8.4 7.3h0.9m-0.5-12h0.9m1-16.4h0.9m6.2 5.3h0.9m-19 29.4h0.9m-17.2-18.9h0.9m28.1 0h0.9m-6.3-5.8h0.9m36.9-12.3h0.9m-58.3 29.7h0.9m29-19.2h0.9m-28.4 4.4h0.9m66.4 6.3h0.9" stroke="#000" stroke-width="0.9" fill="none"/>
<path d="M639.4 352.7h0.9m5.3 11.3h0.9m13.1-2.1h0.9m-2.9 7h0.9m2.9-15.8h0.9m-22.7-6.3h0.9m20.6-0.7h0.9m31.1 4.3h0.9m-50.5 9h0.9m2.7-5.2h0.9m5.7-10.1h0.9m21.7 7.3h0.9m-5.5-3.9h0.9m-39.2-8.1h0.9m12.9 9.5h0.9m7.9 6.3h0.9m-20.7-2.6h0.9m-0.6-8.2h0.9m56.8 17.6h0.9m-45.5 4.7h0.9m26.3-8.2h0.9m-0.2-10.2h0.9m-25.2-5.5h0.9m9.9-3.5h0.9m-17.5 15.4h0.9m-0.9-1h0.9m34.7-12h0.9m-7.4 2.7h0.9m-36.5 8.2h0.9m29-8.5h0.9m-27.7 2.5h0.9m-0.8 5.6h0.9m-0.7-3.9h0.9m15.3-1.5h0.9m11.3-2.3h0.9m-30.2 24.4h0.9m33.8-17.7h0.9m-11.2 2.4h0.9m-21.4 3h0.9m11.6 5.5h0.9m-33.7-4.3h0.9m29.8-13.4h0.9m-10 2.5h0.9m-14.5-1.5h0.9m31.2-8.5h0.9m-18.6-7.6h0.9m-4 24.8h0.9m7.2-3.2h0.9m-17.2 4.8h0.9m2.4 3h0.9m16.1-11.6h0.9m18.5-0.1h0.9m-8 4.5h0.9m-16.5 8.1h0.9m5.8-9.1h0.9m-9.4 2h0.9m2.2-4.9h0.9m-18-20.3h0.9m13.2 21.1h0.9m19.3 6.2h0.9m-2 11.6h0.9m-19.9-23.2h0.9m13.2 2.2h0.9m-17.2 18.3h0.9m11.4-3.1h0.9m-29.9-9.5h0.9m36.7-11.9h0.9m-14.9 15.2h0.9m-39.1 10.7h0.9m23.4-15.6h0.9m35.6-14.8h0.9m-19.5 12.1h0.9m-7.3-3.4h0.9m19.3-2.7h0.9m-16.2 14.9h0.9m-7.8-7.3h0.9m-3.6 11.7h0.9m10.1-10h0.9m-24.5 2.2h0.9m23.9-1.7h0.9m12.9-16.9h0.9m15.2 15.5h0.9m-56.3-14h0.9m29.7 20.8h0.9m-17.4-5.6h0.9m5-3.3h0.9m14.1 9.4h0.9m-20.3-20.4h0.9m21.8 10.5h0.9m-37.6 15.9h0.9m22.5-29.7h0.9m-33.9 14.5h0.9m5.3 2.2h0.9m58.2 28.2h0.9m-41.4-19.6h0.9m13.3-8.3h0.9m-37 10.8h0.9m18.9-5.6h0.9m12.6-11.3h0.9m14.1 7.9h0.9m-23.2-4.6h0.9m6.5 13h0.9m-20.2-3.8h0.9m0.9-16.3h0.9m0.7 16.5h0.9m12.6 4.3h0.9m-19.6-12.5h0.9m10.5 8.3h0.9m-3.8-14.1h0.9m-22.8 19.2h0.9m39.1-16.6h0.9m5.4 5.4h0.9m-16.5 11.9h0.9m-15.2-18.3h0.9m-20.1 9.7h0.9m32.5 5.1h0.9m1.5-6.9h0.9m7.4-10.2h0.9m-12.5 13.9h0.9m-8.7 11h0.9m7.7-3.5h0.9m6.1-13.7h0.9m15 11.6h0.9m-30.2-11.1h0.9m-17.1-0.3h0.9m11.4 3.3h0.9m-3.8 3.3h0.9m4.3-19.5h0.9m-7.4 6.2h0.9m-12.6 5.8h0.9m32.6-7.8h0.9m-45.6 8.6h0.9m75.5-3.8h0.9m-42.4 1.6h0.9m8.1 16.7h0.9m-16.5-2.3h0.9m-15.1-8.8h0.9m-3.7-0.2h0.9m9.1 0.5h0.9m-8.6-0.1h0.9m18-7.2h0.9m-15-5.6h0.9m5.4 14.4h0.9m3.1-2.2h0.9m20.6-4.4h0.9m-15.8 10.4h0.9m2.5-4h0.9m-7.6 14h0.9m-3.3-20.9h0.9m9.3 18.2h0.9m11.8-14.4h0.9m-9.8 4.2h0.9m-12.5 1.4h0.9m7.4-4.7h0.9m16-4.6h0.9m-5.9 22.3h0.9m10.1-16.5h0.9m-36.1-16.8h0.9m1 36.4h0.9m-24-36h0.9m35.9 19.6h0.9m-41.6-6.1h0.9m32.2-13.2h0.9m8.6 1.7h0.9m1.7 13.8h0.9m-28.9-16.3h0.9m4.6 13.6h0.9m2.3-4.5h0.9m-2.1 13.2h0.9m-11.6-9.7h0.9m20 1.7h0.9m5.3 14.2h0.9m-19.5-12.1h0.9m14.7-12h0.9m9.2-6.9h0.9m-0.6 12.3h0.9m-37.2 0.3h0.9m10.7-4.8h0.9m-18 4.4h0.9m34.7 8.4h0.9m5.2-9.2h0.9m-26.9 2.5h0.9m6.7 7.2h0.9m23.8 2.2h0.9m-25.3 5.8h0.9m-15.4-24.1h0.9m21.3 13.4h0.9m-9.3 6.9h0.9m-7.9-9.4h0.9m10.1 6.8h0.9m8.3-4.8h0.9m-11.9-22.8h0.9m13.8 7.6h0.9m-20.3 37h0.9m-5.3-37.1h0.9m28.8 9.3h0.9m-28.1 3.5h0.9m12.8 8.5h0.9m-14 3h0.9m-12.8-4h0.9m3.4 0.2h0.9m-1.6-10.2h0.9m31.8-6.2h0.9m-41.4 15.3h0.9m12.9-9h0.9m1.1 22.9h0.9m-14.6-21.5h0.9m17.5-6.1h0.9m-4 12.9h0.9m-14.3 5.7h0.9m-4.4-11.4h0.9m21.6 29.9h0.9m-32.7-26.1h0.9m64.3-7.9h0.9m-22.8 7.3h0.9m-39.3 1.6h0.9m7.3-2.7h0.9m-10.2 5.8h0.9m-14.9-8.2h0.9m55.6 6.2h0.9m-25.9-6.7h0.9m-2 26.5h0.9m4.8-24.6h0.9m-11.4-4.1h0.9m19.7-1.2h0.9m-22.6 0.5h0.9m6.1 6.5h0.9m-3-3.3h0.9m-4.9 12.9h0.9m11.9-14h0.9m2.2 2.4h0.9m-29.3-1.2h0.9m48.2 6.2h0.9m-8.1-10.6h0.9m-41.5-0.2h0.9m42.3-2.7h0.9m-33.6 18.9h0.9m7.4-11.7h0.9m8.7 2.5h0.9m-11.3 1.5h0.9m-7.2-2.6h0.9m20-9.2h0.9m-14.1-0.7h0.9m13.7 15.8h0.9m2.1 3.7h0.9m0.3-2.8h0.9m-28.3 2h0.9m-3 12.5h0.9m17.4-15.6h0.9m-24.1 4.3h0.9m35.8-23.8h0.9m-27.3 9.9h0.9m-2.3 16.7h0.9m42-22h0.9m-17.9 7.2h0.9m4-19.7h0.9m-28.4 33h0.9m-5.9-0.3h0.9m2.9-0.4h0.9m15.8-14h0.9m-21.4 2.2h0.9m28.4 1.5h0.9m-28.7 29.9h0.9m-14.9-31.9h0.9m31.4-7.4h0.9m-9.3 5.6h0.9m-23.3 7.9h0.9m4.3-10.9h0.9m35.3-3.3h0.9m-10.5 20.8h0.9m5-6.5h0.9m-19.6-16.8h0.9m4.8 16.6h0.9m-10.8-12.9h0.9m20.1-0.6h0.9m-7.4 5.2h0.9m-33.4 18.8h0.9m34.1-9.7h0.9m-31.8-6h0.9m24.9-5.6h0.9m20-11.5h0.9m-15.4 1.2h0.9m-35.6 5.4h0.9m31.7 5.1h0.9m-19.9-1.8h0.9m-13.3 0.1h0.9m6.6 5.1h0.9m8.3-18.7h0.9m-5.1 32.5h0.9m1.7-11.7h0.9m-4.8-5.5h0.9m8.9-6.1h0.9m-2.4-2.9h0.9m6.6 0.8h0.9m3.9 23.3h0.9m-35.7-3.1h0.9m17.6 4.4h0.9m-2.8-13.1h0.9m2.7 13.8h0.9m-26-4.4h0.9m30-11.3h0.9m-6 12.8h0.9m15.3 6.8h0.9m-23.3-32.3h0.9m0.5 15.3h0.9m0.8 12.7h0.9m40.5-7.6h0.9m-62.9 6h0.9m16.5-9h0.9m21.8 2.9h0.9m-14.8-0.7h0.9m11.7 3.1h0.9m19.1-32.6h0.9m-44.4 21.6h0.9m23.6 7.3h0.9m-0.5-14.8h0.9m-17.2 18.6h0.9m1.6-9.4h0.9m4.1 18.4h0.9m-37.3-0.5h0.9m35.5-22h0.9m4.9 8h0.9m7.5-7.6h0.9m-4.6-0.9h0.9m-10.8 14.4h0.9m-7-0.5h0.9m-8.7 3.8h0.9m0.5-15.8h0.9m5 5.8h0.9m-11.9 7.7h0.9m10-1.8h0.9m-21.8-17.2h0.9m17.8 2.9h0.9m1.2 13.9h0.9m18.1 8.2h0.9m-5.9-19.6h0.9m-4.5 1.7h0.9m-1-4.8h0.9m11.3 13.2h0.9m-25.7-15.9h0.9m7.7 7.5h0.9m-1.3-1.7h0.9m-13 12h0.9m29.9-17h0.9m-26.4 14.9h0.9m-0.3-7.4h0.9m34.5-3.6h0.9m-28.4 3.1h0.9m-7.9-16.1h0.9m14.1 18.6h0.9m-29.2 16.9h0.9m9.6-20.5h0.9m-9.5 15.1h0.9m12.4-12.3h0.9m-21.5-5.4h0.9m24.5 7.9h0.9m-36.8-7.6h0.9m33.2 32h0.9m-15.8-44.1h0.9m22.3 15.6h0.9m-32.8 9.4h0.9m15.7-13.7h0.9m-17.3 7.5h0.9m20.4-14.8h0.9m12.8 4.5h0.9m5.4 14.4h0.9m-25.1 0.1h0.9m-7.1-3.6h0.9m33.3-4.6h0.9m-13.6-2.9h0.9m-13.6 16.7h0.9m-18.9-5.6h0.9m-15.4-13.4h0.9m25.5 18.3h0.9m16.4-16.2h0.9m-13.8 9.9h0.9m-22.8 2.2h0.9m43.6 7.3h0.9m-30.5-14.8h0.9m-6.2-0.8h0.9m9.6 10.6h0.9m4.1-14.5h0.9m10.4 16.3h0.9m-22.7-10.2h0.9m6.8-12.5h0.9m2.8 20.8h0.9m26.7-4.3h0.9m-34.9-3.1h0.9m12.7 8.5h0.9m-23.3-5.4h0.9m22.2-19.8h0.9m10 16.2h0.9m-8.5 1.5h0.9m-17.9-0.3h0.9m7.2 8.5h0.9m-9.3-17.9h0.9m-7.5 1.3h0.9m21.4 0.2h0.9m10.7 9.8h0.9m-25.4 10.6h0.9m-5.2-14.4h0.9m16.6 9.3h0.9m-28 15.4h0.9m23-33.3h0.9m-12.2 19.6h0.9m5.1-0.6h0.9m31.9 0.6h0.9m-6.3-2.2h0.9m-41.7 7.5h0.9m-1.4-5h0.9m19.8-16.2h0.9m-21.6 6.1h0.9m16 13.6h0.9m-5.8 5.1h0.9m11.4-22.8h0.9m-23.6 6.6h0.9m0.6-1.5h0.9m19 3.1h0.9m2.1-8.5h0.9m-28.9-6.3h0.9m-14.8 8.5h0.9m27.3 2.3h0.9m-1.8 20.2h0.9m-17.6-20.8h0.9m8.3-5.7h0.9m27.2 7.9h0.9m-2.4-9.9h0.9m8.6 30.5h0.9m-42.7-20.4h0.9m10.4 5.1h0.9m-18.7-0.8h0.9m30-9.6h0.9m-46.5-0.7h0.9m27.6 13h0.9m-4.3-17.2h0.9m18 13.7h0.9m0.9-2.9h0.9m4 4.2h0.9m-44.2-2.9h0.9m38.1-1.4h0.9m9.6-4.4h0.9m-12.5-7h0.9m-11.6 6.1h0.9m-16.1-6.8h0.9m17.8 15.6h0.9m-14-14.9h0.9m-4.6 17.9h0.9m-5.9 3.4h0.9m-8-7.7h0.9m34.7 8.5h0.9m-17.6-17.9h0.9m-16 15.1h0.9m18.8-12.3h0.9m-5.3 6.4h0.9m6 8.3h0.9m-34.2-3h0.9m23.8-8.3h0.9m2.4 0h0.9m15.5 2.7h0.9m-34.4-2.6h0.9m19.6 4h0.9m1.2-4.1h0.9m14.1-9h0.9m16.7 4.7h0.9m-49.9 12.1h0.9m31.3 4.2h0.9m5-6.9h0.9m-22.2-0.9h0.9m-1.9-8.3h0.9m23.6 21.2h0.9m-25.2-18.3h0.9m-8.5-13.1h0.9m-3.7 10.5h0.9m9.1-4.4h0.9m-29.6 14.9h0.9m54.4-25h0.9m-29.3 26.8h0.9m-16.6-20.6h0.9m17.5 10.9h0.9m-11.2 16.8h0.9m31.7-8.8h0.9m-24.7-8.8h0.9m13.6 0.8h0.9m8.4 13.4h0.9m-32.8-4.4h0.9m32.3-0.9h0.9m-39.2-8.3h0.9m8.4 3.6h0.9m4.8-4.3h0.9m11.8 15.4h0.9m-22.6-25.4h0.9m13.5 13.3h0.9m-0.1-6.1h0.9m-2.9-2h0.9m11.4 23.3h0.9m-31.7-38.4h0.9m5.9 18.6h0.9m9.6 5h0.9m3.7 24.2h0.9m-16.9-27.7h0.9m14.2-13.3h0.9m4.5 11.1h0.9m-34.8-2h0.9m28.8 15.2h0.9m10.5-3.7h0.9m-31 1.1h0.9m9 16.1h0.9m-31.1-6.5h0.9m42.3-10.8h0.9m-14-8.7h0.9m-14.2-9h0.9m45 22.5h0.9m-21.7-5.2h0.9m-40.4-5.7h0.9m30.2 12.9h0.9m-18-7.9h0.9m10.8-2.2h0.9m-9.2 3h0.9m12.3-20h0.9m16.4 36.5h0.9m-32.8-9.4h0.9m-2.4-15h0.9m40.9 6.5h0.9m-4.6 0.9h0.9m-8.5-4.1h0.9m5.5 17.6h0.9m-12.3-21.2h0.9m-16.9-3.4h0.9m14 13.2h0.9m-20.7 3.6h0.9m0.9 8.1h0.9m20.5-2h0.9m-24.3-23.2h0.9m-17.8 14.7h0.9m9.8 6.3h0.9m18.5-5.2h0.9m-22.7-12.2h0.9m21.5 12h0.9m-23.3-3.5h0.9m6.1 4.2h0.9m8.3-10h0.9m9.2 13.1h0.9m-11.2 0.6h0.9m-12.4-8.5h0.9m-2.8-0.6h0.9m2.3-1.6h0.9m22.4-9h0.9m-37 7.1h0.9m33.7 3.7h0.9m-22.7 5.4h0.9m8.5-0.7h0.9m-9.9-2.9h0.9m30.4-9.9h0.9m-23.3 11.5h0.9m11.5-2.4h0.9m-10.7-17.2h0.9m0.8 2.5h0.9m0.5-9.4h0.9m19.6 37.9h0.9m-16-24.6h0.9m-12.3 15.5h0.9m13.7-14.2h0.9m7.3 12.7h0.9m-11-9.6h0.9m-9-3.2h0.9m1.9 0.5h0.9m14 6.2h0.9m-15.4 2.6h0.9m0.7-15.7h0.9m13.6 13.6h0.9m-28.6-9.5h0.9m-2.9 3.2h0.9m9.6-2.3h0.9m0.6 9h0.9m-13 18.4h0.9m7.7-16.7h0.9m2.5-4.5h0.9m7.6 13.7h0.9m-12.2-19.9h0.9m8.5-11.6h0.9m-6.9 17.5h0.9m1.6-11.8h0.9m-12.4 4.3h0.9m-2.5 14.4h0.9m4.2-10.6h0.9m19.9 5.4h0.9m-49.4-9.5h0.9m35.8 13.2h0.9m-3.8-1.6h0.9m-17.9-3.2h0.9m-5.3-6.7h0.9m3.2 0h0.9m7.6 5.4h0.9m-7.9 11.5h0.9m4.3 4h0.9m20.9-24.4h0.9m-2.7-1.7h0.9m7.5 15.3h0.9m-37.7-22.4h0.9m7.9 7.4h0.9m21.6 0.9h0.9m-20.9 15.3h0.9m2.6-2h0.9m-4.8 4h0.9m-11.3-1.3h0.9m-5-3.5h0.9m0.1-3.4h0.9m25 12.7h0.9m-36.8-17.8h0.9m11.5 17.6h0.9m0.7-4.5h0.9m4.3-19.1h0.9m8.5 2.7h0.9m8.4 17.4h0.9m8.1-16.3h0.9m2.8 17.5h0.9m-51.6 11.1h0.9m51.4-28.8h0.9m-21.3-2.7h0.9m-7.9 13.5h0.9m10.5-9h0.9m-10.7-0.9h0.9m5.3 14.1h0.9m-5.6 4.3h0.9m9.4-6.9h0.9m5.2-14.3h0.9m-18.9-4.7h0.9m-0.6 11.6h0.9m11.8 0.2h0.9m-23 3.1h0.9m6.7 5.4h0.9m-12-17.9h0.9m-11.7 23.6h0.9m4-14.4h0.9m1.5 12h0.9m7.2 3.1h0.9m-3-8.3h0.9m21.2 5.9h0.9m-30.3-11.8h0.9m15.9-13h0.9m11 19.7h0.9m-3.9-15.8h0.9m-5.8 16.3h0.9m11.8-8.6h0.9m-6.2 22.1h0.9m-17.6-21.1h0.9m0.7-9.6h0.9m-1.4 27.7h0.9m-9.5-16.1h0.9m31.2 6.7h0.9m-15.5-8h0.9m-6.1 3.1h0.9m11.2 0.6h0.9m3-17.3h0.9m-2.8 11.9h0.9m-13 1h0.9m8.6 2.7h0.9m-1.2-6.1h0.9m-7.4 18.1h0.9m13-14.1h0.9m-15.5-0.1h0.9m-4.9 3.4h0.9m19.2 5h0.9m2.8 8.5h0.9m-41.9-10.9h0.9m11.4-17.1h0.9m-10.4 9.9h0.9m40.5 5.2h0.9m-28.8-1h0.9m-9.4 1.8h0.9m9-16h0.9m-7.5 44.2h0.9m16.6-30.6h0.9m-0.4-7.7h0.9m-9.5 16.4h0.9m-26.4-14.3h0.9m17.2 4h0.9m-2.6 4.9h0.9m22.1 0.6h0.9m-0.8 6.2h0.9m-25.2-6.8h0.9m2.4 3.4h0.9m-0.5-7.4h0.9m29.7 0.1h0.9m-49.6 2.6h0.9m26.9-5.5h0.9m-4.3 13.4h0.9m-9.7-10.6h0.9m-3.7 4.5h0.9m7.8-11h0.9m-1.3 24.2h0.9m-24.1-28.2h0.9m29.6 0h0.9m23.2-0.9h0.9m-49.4 8.5h0.9m34.6 11.6h0.9m-8.5-4.4h0.9m10-18.6h0.9m-16.2 28.5h0.9m-20.9-9.7h0.9m33.2 8.2h0.9m-21.1 5.3h0.9m8.7-6.9h0.9m-24.4-16.1h0.9m3.7 22.2h0.9m-24.3-31.6h0.9m45.7 17.4h0.9m-17.3 9.3h0.9m-24.8-15.3h0.9m43.4 11.4h0.9m-30.4-9.2h0.9m-9.2 14.4h0.9m14.7-0.8h0.9m17.4-18.8h0.9m-15 13.4h0.9m7.9 7.7h0.9m9.1-10.5h0.9m-7.2-9.1h0.9m-20 11.5h0.9m12.9-14.9h0.9m-7 2.7h0.9m-7.9 18.2h0.9m-6.7-16.9h0.9m21.5 6.3h0.9m-6.8-13.2h0.9m-3.8 9.4h0.9m-12.4-1.7h0.9m6.7 12.2h0.9m31.3-6.3h0.9m-6.8 0h0.9m-44.7-0.5h0.9m40 11.7h0.9m-32.9 7.3h0.9m1.3-25.8h0.9m2.2 19h0.9m12.8-4.7h0.9m-39.6-8.4h0.9m30.2 6.6h0.9m-6.1 4.3h0.9m-4.1-22.5h0.9m-15 23.1h0.9m34.5-17.8h0.9m4.2 5.3h0.9m-18.9-11.2h0.9m-7.2 13.7h0.9m10.2-5.8h0.9m10.8 17.4h0.9m-27.5-9.1h0.9m-11.5 0.1h0.9m7.4-4.9h0.9m15.9-0.7h0.9m11.9-4.7h0.9m-23.1 9.6h0.9m5.5-0.6h0.9m-3.5-9.2h0.9m11.9 7.7h0.9m2.6 10.9h0.9m-19.3-18h0.9m-2.4 0.8h0.9m-23.5 19.9h0.9m34.5 6h0.9m-15.2-15.1h0.9m11.4-5.8h0.9m9.5 0.7h0.9m-16.5 1.3h0.9m-32.6-7.6h0.9m21.2 20.5h0.9m18.5-7.5h0.9m-0.3-8.4h0.9m14.2-0.1h0.9m-46 7.2h0.9m37.2-4.5h0.9m-12.8 7.4h0.9m16.2-3.3h0.9m1.3-2.5h0.9m5.2-14.4h0.9m-17.8 14.4h0.9m-13-13.6h0.9m13.1 9.4h0.9m-31.2-3.8h0.9m10.3 6.4h0.9m-10.9-8.9h0.9m18.6 7.4h0.9m21.8-3h0.9m-18.8 18.7h0.9m-14.8-6.6h0.9m6.5-8h0.9m18.2-9.1h0.9m-33.3-6.7h0.9m6.2 23.8h0.9m-2.9-1.4h0.9m-8.3 2.8h0.9m8.6-14h0.9m24.8 4h0.9m-16.6 1.1h0.9m1.1 0h0.9m-28.9 1.4h0.9m23.7 0.9h0.9m-11.2 12.3h0.9m-8.2-14.5h0.9m12.8-10.5h0.9m-21.4 15.1h0.9m26.4-4.5h0.9m-34.3-3.7h0.9m26.1 7.8h0.9m13-1.4h0.9m-4.2 10.4h0.9m-49.2-5.8h0.9m26.9-4.4h0.9m8.6-12.9h0.9m-17.2 12.5h0.9m9.7 2.6h0.9m-3.9 12.2h0.9m1-0.7h0.9m-8.3-13h0.9m26.6-16.1h0.9m-31.5 14.8h0.9m30.1 8.2h0.9m-9.6-2.7h0.9m-26-12.7h0.9m37.2-1.1h0.9m-25.6-10.2h0.9m-0.1 1.2h0.9m7.1 26.4h0.9m-1.6-11.2h0.9m-11.3 3.2h0.9m-11.3-8.7h0.9m46.9-7.2h0.9m-40.8-0.8h0.9m25.4 9.9h0.9m-37.5-8.7h0.9m33.8 16.6h0.9m-5.4-6.4h0.9m0.5 11.9h0.9m-4.3-25.2h0.9m-39.4 1.2h0.9m31.7-0.3h0.9m-20.6 13.2h0.9m2-11.4h0.9m25.9 15.3h0.9m-3.4 3.6h0.9m8.6-8.3h0.9m-24.8-14.8h0.9m-1.7 10h0.9m17.9 10.9h0.9m5.3 3.6h0.9m-5.1-4.9h0.9m-16.2-7.8h0.9m-3.3-5h0.9m5.1 7.5h0.9m-36.4-22.6h0.9m18.1 19.3h0.9m5.4 15.1h0.9m-5.7-22.1h0.9m13.8 19.6h0.9m17.6-17.4h0.9m-28.7 5.1h0.9m24.9 9.6h0.9m-22.7 0.3h0.9m-6.5-8h0.9m3.9-2.6h0.9m-4.1 7.3h0.9m6.3 9.8h0.9m8.1-13.5h0.9m-45.5-12.1h0.9m23.7 9.4h0.9m-12.7 0.1h0.9m19.9-2.2h0.9m-4.7 4.6h0.9m-9.1-6.6h0.9m7.5 9.7h0.9m-14.3-19.9h0.9m0.4 21.9h0.9m-10.6 3.6h0.9m14.1-6.9h0.9m-3.6 3.9h0.9m11-1.8h0.9m-29.9 3h0.9m2.9-9.1h0.9m31.1 1.2h0.9m-1.2 3.1h0.9m-6.8-8.4h0.9m12.3 16.6h0.9m-23.3-17.3h0.9m9.9 1.2h0.9m-1.9 13.4h0.9m6.7 5.7h0.9m-3.8-21.5h0.9m-20 13.4h0.9m39.1-7.6h0.9m-41.7 14.9h0.9m10.5-5.9h0.9m16.5-14.3h0.9m-21.7 3.6h0.9m11.9 10.3h0.9m-15.7-0.8h0.9m-19.5-1.8h0.9m29.8-3h0.9m-26.7-0.8h0.9m4.5 13.1h0.9m10.4-14h0.9m1.6 6.3h0.9m1.9 0h0.9m-15.4 4.7h0.9m5.4-2.9h0.9m9.5 2.7h0.9m-5.3-21.6h0.9m-16.4 10.6h0.9m35.5-1.6h0.9m-20 14.1h0.9m-9.7-8h0.9m11.2-7.7h0.9m-1.7 14h0.9m10.9-11.7h0.9m25.8 5.8h0.9m-46.6-9.1h0.9m-11.1 13h0.9m-6.4-8.3h0.9m18.3-9.6h0.9m-14.6 21.7h0.9m5.3-10.7h0.9m2.5 7h0.9m21.1 0.8h0.9m-10.4-3h0.9m-25.9 6.3h0.9m8.1-18.6h0.9m1.8 0.8h0.9m10.3 12.8h0.9m11.6-6.9h0.9m-27.8-1.5h0.9m-9.1-3.9h0.9m44.4-0.3h0.9m-36 11.8h0.9m9.3 1.2h0.9m-17-15.5h0.9m30.4 3.3h0.9m-21.2 7.5h0.9m-25.9-3.4h0.9m16.2 6h0.9m4-23.4h0.9m14.8-2.6h0.9m-18 15.7h0.9m-3.8 5.8h0.9m21.5-7.3h0.9m-23.3 13.7h0.9m15.1-0.3h0.9m-3.4-8.1h0.9m-12.7-1.9h0.9m19.1 16.6h0.9m14.5-21.4h0.9m-32.7 8.8h0.9m0.2-9.5h0.9m32.7 22.3h0.9m-34.5-16.6h0.9m1.3-6.4h0.9m-5.6 16.8h0.9m27.7 0.9h0.9m-6-16.4h0.9m-16.9 8.2h0.9m20.5-7.4h0.9m-38.7 1.8h0.9m36.1 14.4h0.9m-49.8 6h0.9m25-10.4h0.9m-12.3 12.3h0.9m16.6-4.8h0.9m-21.6-5.2h0.9m14.8-7.9h0.9m-14-4h0.9m-6 0.3h0.9m15.6 10.6h0.9m-23.1-13.8h0.9m12.8-5.2h0.9m3.8 11.8h0.9m0.5 5.7h0.9m15.5 3.3h0.9m-10.5-1.7h0.9m-16.5-13.1h0.9m20 12.8h0.9m21.6-6.7h0.9m-47.1 4.4h0.9m6.9-10.1h0.9m25.4 24.1h0.9m-15.3-22.1h0.9m-2.5 5.2h0.9m-24.8 7.6h0.9m24.3 3.6h0.9m-14-10.9h0.9m5.5-14.6h0.9m37.2-3.2h0.9m-53.9 14.9h0.9m-7 6.7h0.9m15.1-3h0.9m9.3 0h0.9m-2.9-1.9h0.9m3.9 8.2h0.9m-10.8-10.7h0.9m-3 6.5h0.9m-0.4-5.9h0.9m-17.5 19.8h0.9m3.1-2.1h0.9m28.8-5.6h0.9m-8.7-4.6h0.9m-0.5 0.9h0.9m7.2 8h0.9m-27.7-8.8h0.9m37.3 7.8h0.9m-39.5-9.3h0.9m18.2-0.6h0.9m-37.9 5.4h0.9m8.5 11.4h0.9m32.3-19.7h0.9m-1.2 2.1h0.9m-17.9-2h0.9m12-6.2h0.9m4.5 16.7h0.9m4.4 0.5h0.9m2.5-4h0.9m-0.7-5.6h0.9m-14.2 11.8h0.9m21.7-15.4h0.9m-50.8 21.7h0.9m37.5-2.7h0.9m-4.6-13.8h0.9m-23.6-10.4h0.9m30 16.9h0.9m-17.7-18.3h0.9m-13.3 4.3h0.9m2.4-19.7h0.9m6.9 38.8h0.9m-12.3-13.4h0.9m11.2-9h0.9m1.4 1.6h0.9m-13.8 9.3h0.9m4.8-1.3h0.9m-13.7 5.5h0.9m-3.4 1h0.9m8.1-17.7h0.9m4.9 1.1h0.9m-7.4 7.9h0.9m18.6 8.3h0.9m-5.4-9.4h0.9m-30.7 0.5h0.9m17 0.8h0.9m-4-3.5h0.9m18.9-7.1h0.9m-12.7 22.8h0.9m-12.5-19.7h0.9m7.2 5.6h0.9m6.4 14.9h0.9m-6.7-7h0.9m-7.7-9.1h0.9m12.1-1.6h0.9m12.6 2.3h0.9m-21.2-5.6h0.9m-5 0.3h0.9m-1.6-6.8h0.9m6.2 31h0.9m-28.8-0.1h0.9m25.3-7.5h0.9m-14.1 10.1h0.9m-2-18.6h0.9m38.4-10.5h0.9m-59 10.6h0.9m22.5-8h0.9m-3.1-4.3h0.9m33.8 23.7h0.9m-42.4-11.8h0.9m12.7 10.7h0.9m-6.6 4.6h0.9m11.7-21.3h0.9m-2.3 1.8h0.9m34.4 6.5h0.9m-42.1-0.5h0.9m28.5-9.4h0.9m-48.5 20.2h0.9m33.7-15.7h0.9m-11.3 13.9h0.9m-2.4-3.8h0.9m1 21.5h0.9m-9.5-17.8h0.9m20.4-23.6h0.9m-43.6 14.7h0.9m45.2 9.7h0.9m-26.7-7.5h0.9m-11.9 12.5h0.9m11.8-4.2h0.9m3.7-14.4h0.9m27.8-4.8h0.9m-5.8 4.6h0.9m-34-4.3h0.9m29.6 6.8h0.9m-23.4-12.8h0.9m22.3 22.9h0.9m-13.8-2.5h0.9m-3.4-6h0.9m-12 1.2h0.9m-3.4-8h0.9m-8.7 7.1h0.9m7-5.8h0.9m31.2 4.2h0.9m-22.5-13.4h0.9m-8.4 22.6h0.9m15.5-8.4h0.9m-12 0.1h0.9m7.9-3.5h0.9m10.3 1.6h0.9m3.3-10.4h0.9m-2.7 13.5h0.9m-7-4.9h0.9m-12.2 8.4h0.9m12.8-0.6h0.9m-10.1-10h0.9m18.5 7.2h0.9m-30.5-4.8h0.9m-15.8-3.7h0.9m-5.8 8.5h0.9m21.1 0.1h0.9m-18.7-5.8h0.9m8.3 12.8h0.9m-13.8-22.6h0.9m41.4 16.9h0.9m-44.4 8.9h0.9m45.8-1.9h0.9m-55.2-9.2h0.9m17.4-3.5h0.9m-11.8 18h0.9m12.6-13.1h0.9m22 3h0.9m-6.9-9h0.9m-3.8 1.5h0.9m-39 11h0.9m24.2-13.7h0.9m2.4-7.8h0.9m-13.1-3.7h0.9m24.7 26.8h0.9m-6.9-20.9h0.9m17.9 7.4h0.9m-45.1-14h0.9m26.1 29.9h0.9m-9.5-18.7h0.9m0.8-1.9h0.9m-5.1 9.9h0.9m-3.6 6.1h0.9m-4.8-2h0.9m19.3-9.9h0.9m-10.7 0.6h0.9m29.2-4.4h0.9m-8.3 16.4h0.9m-24.2 5.4h0.9m-32-12.3h0.9m37.3-2h0.9m9.9-3.8h0.9m-16.5 13.9h0.9m0.2-19.6h0.9m9.5 8.5h0.9m-18.2 5.8h0.9m-4-13.8h0.9m6.8 7.1h0.9m3.9-9.1h0.9m24.5 16.9h0.9m-24.9-4h0.9m-18.7 2.4h0.9m-3.5 4.3h0.9m9.2-10.7h0.9m30.5 10.8h0.9m-45.2-15.2h0.9m23.1 4.2h0.9m8.4-4.1h0.9m-41.8-2h0.9m24.9 13.1h0.9m13.3 6.3h0.9m-8.7-13h0.9m6.7 0.9h0.9m-19.2-3.3h0.9m20.4 17.5h0.9m5-27.7h0.9m-4.3 4.3h0.9m-22.8 15.4h0.9m-16-16.3h0.9m8 26.2h0.9m26.9-23.3h0.9m-15.2 9.3h0.9m1.8-7.6h0.9m16.3 3h0.9m-10.4-11.7h0.9m-7.4 16.4h0.9m13.8-24.7h0.9m-13.1 30.7h0.9m-13.4 4.5h0.9m35.2-3.9h0.9m-20.6 4.2h0.9m-6.6-1.1h0.9m1.6-17.2h0.9m-26.1 16.8h0.9m24.3-16.6h0.9m-9.6 19.2h0.9m-27.5-21.3h0.9m35.9 15.5h0.9m-29.4-16.3h0.9m19.5 21.6h0.9m-3.3-33.6h0.9m14.7 20.7h0.9m-23.6-10.2h0.9m24.3 12.8h0.9m-13 0.8h0.9m-0.4 4.3h0.9m18.6-17h0.9m-28.2 5.4h0.9m25.9 1.5h0.9m-51.1 2.4h0.9m12.5-6.4h0.9m3.4-5.2h0.9m-23.6 29.4h0.9m26.7-26h0.9m10.6 20.4h0.9m-37.1-16h0.9m30-3.6h0.9m1.7-3.5h0.9m-17.9 10h0.9m15.8 1.5h0.9m-17.9-3.7h0.9m-22.8 22.5h0.9m25.2-21.9h0.9m9.4 7.8h0.9m0.3-11.2h0.9m-31.5 4.5h0.9m12.2-3.4h0.9m11.3 7.2h0.9m18.8-3.5h0.9m-47 6.5h0.9m39.7-20h0.9m-5.8 16.5h0.9m-18.5-0.2h0.9m13.3 3.8h0.9m10.7-5.4h0.9m-18.5 21.8h0.9m-17.1-24.2h0.9m10 9.4h0.9m21.4-18.8h0.9m1 1.2h0.9m20.1 4.6h0.9m-23.8 3.7h0.9m-7-4.4h0.9m-9.7 7h0.9m-1.5 6.9h0.9m-9-10h0.9m-14.3 1.6h0.9m11.7 9.2h0.9m16.9-14.4h0.9m-4.4 18.3h0.9m-10.9-22.4h0.9m39.9 15.6h0.9m-27.7 17.5h0.9m-23.9-19.8h0.9m-17.6 1.7h0.9m34.1-11.5h0.9m-20 5.5h0.9m8.6 15.8h0.9m-1.1-15.6h0.9m0.1-13h0.9m-5.6 2.2h0.9m8.5-7.6h0.9m-20.1 22.1h0.9m-15.8-16.3h0.9m46.4 2h0.9m-16.2 14.7h0.9m-17-17.9h0.9m38.6 10.2h0.9m-16.3-1.9h0.9m-3.2-4.9h0.9m-27.5 2.4h0.9m10.5 3.7h0.9m3.6 9.6h0.9m-4 4.5h0.9m-2.8-2.5h0.9m29.2 9.7h0.9m-51.3-0.1h0.9m2.5-2.8h0.9m25.9-9.6h0.9m-15.1 5.3h0.9m24-13.4h0.9m-20.8 12.7h0.9m24.3-0.8h0.9m-22.5-6.9h0.9m19.2 7.5h0.9m2.1-6.2h0.9m-28.9 1.3h0.9m16.7-7.4h0.9m-0.9-2.7h0.9m-3.8 2.1h0.9m27.4 16.1h0.9m-29.2-22.5h0.9m-23.6 18.1h0.9m15.5-3.5h0.9m-22.6-16.3h0.9m24.9 11.6h0.9m-23-5.3h0.9m31.4 3.3h0.9m-4.1 18.8h0.9m-4.5-13.8h0.9m-15.2 9.8h0.9m-13.8-20.8h0.9m20.9-3.4h0.9m14.3 7.7h0.9m-7.8 2.8h0.9m-12.8 2.9h0.9m-27-9.9h0.9m21.8 29.8h0.9m18.7-13.5h0.9m-29.1 1.5h0.9m33.9-1.2h0.9m20.1-18.9h0.9m-57.3 9.7h0.9m0.6 2.8h0.9m21.9-0.5h0.9m-7.3 3.7h0.9m9.4-9.6h0.9m-22.9 16.7h0.9m4.1-18.2h0.9m8.6 4.3h0.9m-3.4 2.6h0.9m6.9 8.8h0.9m-23.2-19.2h0.9m36.1 4.8h0.9m-48.9-10.9h0.9" stroke="#000" stroke-width="0.9" fill="none"/>
<path d="M681.5 347.1L681.4 350.3L680.5 353.4L678.8 356.2L676.3 358.7L673 360.8L669.2 362.3L664.8 363.3L660.1 363.8L655.2 363.8L650.3 363.4L645.4 362.7L640.8 361.7L636.7 360.6L633 359.4L630 358.1L627.8 356.8L626.4 355.4L625.7 354L626 352.4L627.1 350.7L628.9 348.9L631.5 346.9L634.7 344.9L638.5 342.8L642.7 340.8L647.3 338.9L652 337.3L656.7 336.1L661.4 335.4L665.9 335.4L670 335.9L673.6 337.1L676.7 339L679 341.3L680.6 344.1Z" fill="#080808"/><path d="M679.6 347.4L679.6 350.3L678.8 353.2L677.1 355.8L674.8 358.2L671.8 360.1L668.2 361.5L664.1 362.5L659.7 362.9L655.1 362.9L650.5 362.6L646 361.9L641.7 361L637.8 360L634.4 358.8L631.6 357.6L629.5 356.4L628.1 355.1L627.6 353.7L627.8 352.3L628.8 350.7L630.5 349L632.9 347.2L636 345.3L639.5 343.3L643.4 341.4L647.7 339.7L652.1 338.2L656.5 337.1L660.9 336.4L665.1 336.4L668.9 336.9L672.3 338L675.2 339.7L677.4 341.9L678.9 344.5Z" fill="none" stroke="#fff" stroke-width="1.2"/><path d="M677.5 347.6L677.5 350.1L676.8 352.5L675.4 354.7L673.5 356.7L670.9 358.3L667.9 359.5L664.5 360.3L660.8 360.7L657 360.7L653.1 360.3L649.3 359.8L645.7 359L642.5 358.2L639.6 357.2L637.3 356.2L635.5 355.2L634.4 354.1L633.9 353L634.1 351.7L634.9 350.4L636.4 349L638.4 347.5L641 345.9L643.9 344.2L647.2 342.6L650.8 341.2L654.4 339.9L658.2 339L661.8 338.5L665.3 338.4L668.5 338.8L671.4 339.8L673.8 341.2L675.6 343.1L676.9 345.2Z" fill="none" stroke="#fff" stroke-width="0.45" stroke-opacity="0.8"/><path d="M675.2 347.9L675.2 350L674.6 352.1L673.4 354L671.7 355.7L669.6 357.1L667 358.1L664 358.8L660.9 359.1L657.6 359.1L654.2 358.9L651 358.4L647.9 357.7L645.1 357L642.6 356.2L640.6 355.3L639.1 354.4L638.1 353.5L637.7 352.5L637.9 351.5L638.6 350.3L639.8 349.1L641.6 347.8L643.8 346.4L646.3 345L649.2 343.6L652.2 342.3L655.4 341.3L658.6 340.5L661.7 340L664.7 340L667.5 340.3L670 341.2L672 342.4L673.6 344L674.7 345.8Z" fill="none" stroke="#fff" stroke-width="0.45" stroke-opacity="0.8"/><path d="M673.2 348.1L673.2 350L672.7 351.7L671.7 353.4L670.2 354.8L668.3 356L666.1 356.9L663.6 357.5L660.9 357.7L658.1 357.7L655.2 357.5L652.4 357.1L649.8 356.5L647.4 355.9L645.3 355.2L643.6 354.5L642.3 353.7L641.5 352.9L641.1 352.1L641.2 351.2L641.9 350.2L642.9 349.2L644.4 348L646.3 346.9L648.5 345.6L650.9 344.5L653.5 343.4L656.2 342.5L659 341.8L661.7 341.4L664.2 341.4L666.6 341.7L668.7 342.4L670.4 343.4L671.8 344.8L672.7 346.4Z" fill="none" stroke="#fff" stroke-width="0.45" stroke-opacity="0.8"/><path d="M671.2 348.4L671.1 349.9L670.7 351.4L669.9 352.7L668.7 353.9L667.1 354.9L665.3 355.7L663.2 356.1L661 356.4L658.6 356.4L656.2 356.2L653.9 355.8L651.7 355.4L649.7 354.8L648 354.3L646.6 353.7L645.5 353L644.8 352.4L644.5 351.7L644.6 350.9L645.1 350.1L646 349.2L647.3 348.3L648.8 347.3L650.6 346.3L652.6 345.4L654.8 344.5L657.1 343.7L659.3 343.1L661.6 342.8L663.7 342.8L665.7 343L667.4 343.6L668.9 344.5L670 345.6L670.8 346.9Z" fill="none" stroke="#fff" stroke-width="0.45" stroke-opacity="0.8"/><path d="M669.1 348.6L669.1 349.8L668.8 351L668.1 352.1L667.1 353.1L665.9 353.8L664.4 354.4L662.8 354.8L661 355L659.1 355L657.3 354.8L655.4 354.6L653.7 354.2L652.1 353.8L650.7 353.3L649.6 352.8L648.7 352.3L648.2 351.8L647.9 351.2L648 350.7L648.4 350L649.1 349.3L650.1 348.6L651.3 347.8L652.8 347L654.4 346.2L656.1 345.5L657.9 344.9L659.7 344.5L661.5 344.2L663.2 344.2L664.7 344.4L666.1 344.8L667.3 345.5L668.2 346.4L668.8 347.5Z" fill="none" stroke="#fff" stroke-width="0.45" stroke-opacity="0.8"/><path d="M667.1 348.9L667.1 349.8L666.8 350.7L666.3 351.5L665.6 352.2L664.7 352.8L663.6 353.2L662.4 353.5L661 353.6L659.7 353.6L658.3 353.5L656.9 353.3L655.6 353L654.4 352.7L653.4 352.4L652.5 352L651.9 351.6L651.5 351.2L651.3 350.8L651.4 350.4L651.7 349.9L652.2 349.4L653 348.8L653.9 348.3L654.9 347.7L656.1 347.1L657.4 346.6L658.7 346.1L660.1 345.8L661.4 345.6L662.7 345.6L663.8 345.7L664.9 346.1L665.7 346.6L666.4 347.3L666.8 348Z" fill="none" stroke="#fff" stroke-width="0.45" stroke-opacity="0.8"/><path d="M665 349.1L665 349.7L664.9 350.3L664.5 350.8L664.1 351.3L663.5 351.7L662.8 352L662 352.1L661.1 352.2L660.2 352.2L659.3 352.2L658.4 352L657.5 351.8L656.8 351.6L656.1 351.4L655.5 351.2L655.1 350.9L654.8 350.7L654.7 350.4L654.8 350.1L655 349.8L655.3 349.5L655.8 349.1L656.4 348.7L657.1 348.3L657.9 348L658.7 347.6L659.6 347.3L660.5 347.1L661.3 347L662.1 347L662.9 347.1L663.6 347.3L664.1 347.6L664.6 348.1L664.9 348.6Z" fill="none" stroke="#fff" stroke-width="0.45" stroke-opacity="0.8"/><ellipse cx="658.2" cy="352" rx="2.7" ry="0.9" fill="#fff"/>
<path d="M705 348.5h0.8m-18.7-2.2h0.8m6.9 13.6h0.8m12.1-7h0.8m-15.8-1.2h0.8m18.5 2.4h0.8m3.1-0.6h0.8m-4.4 2.6h0.8m-13.4 6.2h0.8m8.5-3.6h0.8m-15.1-13.4h0.8m8 2h0.8m7.2 8.5h0.8m5.3 1.3h0.8m-24.4 2.5h0.8m4-11.8h0.8m6.4 5.1h0.8m8.9 19.8h0.8m-6.9-9.6h0.8m-7.2-7.8h0.8m-3.8-5.3h0.8m17.8 6.1h0.8m-9.8-8.8h0.8m11.8 4.4h0.8m-24.4 1.1h0.8m12.5 5.4h0.8m7.1-12.7h0.8m-19.7 18.4h0.8m26.2-15.3h0.8m-24.5-6.4h0.8m-8.1 4.6h0.8m6.4-2.2h0.8m9.6 8h0.8m-12.7 6.8h0.8m-0.9-15.1h0.8m2.1 23.8h0.8m0-11.5h0.8m-3.8-5.2h0.8m6.2-16.9h0.8m-18.2 14.3h0.8m8.9 14.3h0.8m26.3-5.7h0.8m-21.3 0.3h0.8m10.3-11.6h0.8m-20.7 7.9h0.8m7-14.3h0.8m0.6 2.2h0.8m2.5 17h0.8m-31-2.4h0.8m23.7-7.9h0.8m6.8 18.3h0.8m-5.4-21.6h0.8m-20.1-0.5h0.8m3.4 16h0.8m12.2-8h0.8m5.1 0.3h0.8m-9.2-6h0.8m-7.4 6.1h0.8m-6.2 11.3h0.8m12.1-15.4h0.8m7.7-3.5h0.8m0 7.9h0.8m7.4-4.4h0.8m-23.5-2h0.8m-9.3 7.6h0.8m1.1 0.5h0.8m3.4 5.1h0.8m-19.9-4.5h0.8m25.1-2.9h0.8m-7.6 12.2h0.8m1.4-9.2h0.8m0.7-5.5h0.8m2.7 7.2h0.8m-12.8-8h0.8m-3.7 6.1h0.8m4.7-8h0.8m14.2 5.1h0.8m-3.3-0.9h0.8m-0.7 1.6h0.8m-16 0.9h0.8m6.9-3.2h0.8m5.4-2.1h0.8m-14.2 12.1h0.8m28.1-10.7h0.8m-7.7 5.1h0.8m-18.6-8.5h0.8m2.8 2.8h0.8m-1.3 2.1h0.8m-8.8 6.9h0.8m-0.8-13.5h0.8m19.7 12.8h0.8m4.5-4.3h0.8m-21.7 7h0.8m4.6-8.9h0.8m-8.3 3.7h0.8m-15.9 0.9h0.8m2.8 2.4h0.8m3.7-1.3h0.8m39.4-6.7h0.8m-37.1 15.5h0.8m6.4-21.4h0.8m16.1-12.1h0.8m-28.1 10.7h0.8m7.1-5h0.8m14.3 21.4h0.8m-9.6-10.1h0.8m-15.8 6.2h0.8m7.8 1h0.8m16.4-4h0.8m-32.1-6.8h0.8m33.9 8.4h0.8m-0.2-17.5h0.8m-16.1 14.4h0.8m-15.9-3.3h0.8m25.2 8.3h0.8m-15.9-1.5h0.8m16.4-9.8h0.8m-9.8 14.8h0.8m-10.6 1.8h0.8m5.2-1.3h0.8m9.4-5.9h0.8m-13-6.5h0.8m3.8 6.1h0.8m11.6-2.1h0.8m-11.3 12.4h0.8m-1.1-8.6h0.8m12-2.5h0.8m-12.9 4.6h0.8m-5.9-13h0.8m-14.3 6.3h0.8m25.1 8.4h0.8m4.2-0.6h0.8m-23.5-16.5h0.8m0.5 8.3h0.8m-3.1 8.3h0.8m-1.3-2.4h0.8m15-16.2h0.8m-12.9 20.9h0.8m11.9-7.9h0.8m-20.3-5.8h0.8m11.1 13.8h0.8m3.3-9.5h0.8m-3.4 6.1h0.8m-20.7-12.4h0.8m17 15.4h0.8m9.7-13.9h0.8m-11.3 0.2h0.8m-5 6.2h0.8m-0.5-4.9h0.8m-8.8-7.2h0.8m8.9 12.5h0.8m7.3-7.1h0.8m-14.2 14.5h0.8m10.6-2.6h0.8m-10.7-11.2h0.8m-6.6 11.9h0.8m-0.6-19h0.8m3 21h0.8m7-7.3h0.8m0.1-1.9h0.8m-3.7-9.5h0.8m17.5 8.7h0.8m-5.3-9.8h0.8m-7.5 2.7h0.8m-19.1 10.1h0.8m22.4 7.7h0.8m2.2-11.5h0.8m-6.3-2.3h0.8m-14 5.9h0.8m3.4 4.2h0.8" stroke="#111" stroke-width="0.8" stroke-opacity="0.85" fill="none"/>
<path d="M723.2 459.2h0.9m4.4 3.4h0.9m6.3-26.2h0.9m-5.9 18.3h0.9m-4-14.2h0.9m1.1 14.8h0.9m4.2-11.6h0.9m-1.2 18.9h0.9m-0.5-22h0.9m-8.3 10.2h0.9m6.1 1.4h0.9m-6-13.5h0.9m6 7.8h0.9m1.6-10h0.9m-10 5.1h0.9m8.1 18.7h0.9m-10.6-31.5h0.9m6 20.5h0.9m-10.5-16.2h0.9m5.5 12.9h0.9m-1.9 5.9h0.9m-3.1-6.6h0.9m3.4 1.6h0.9m-4.8 7.5h0.9m-8 6h0.9m9.2-20h0.9m-3.5 19.8h0.9m2.2-29.8h0.9m-7.5 19.5h0.9m10.8 5.7h0.9m-9.1-1.8h0.9m0-8.7h0.9m0.6-18.2h0.9m1.7 26.5h0.9m-6.9-13.8h0.9m-4.1 11.2h0.9m4.7-1h0.9m5.6-23.5h0.9m-11 14.1h0.9m6 5.2h0.9m-8.7 4.6h0.9m4.7 13.9h0.9m-1.5-20.4h0.9m-4.1-3.7h0.9m3.2 16.2h0.9m-3.8-9.4h0.9m5.7 2.3h0.9m-4.5-11.8h0.9m-5.5-10.4h0.9m-4.1 24.9h0.9m10-6.3h0.9m-11.1 3.5h0.9m8.9-2.5h0.9m-1.9 1h0.9m-9.8-8.4h0.9m3.1 31.6h0.9m2.6-25h0.9m-2.1 4.5h0.9m-3.9-3.1h0.9m-0.2 8.4h0.9m6.7 5.8h0.9m-8.7-7.7h0.9m-2.6-16.3h0.9m2.4 16.9h0.9m-1.5 2.1h0.9m2.9-0.7h0.9m-5-21h0.9m7.2 8.8h0.9m-5.3 9.5h0.9m-5.4 13.3h0.9m3.3-18.2h0.9m-5.4-9.5h0.9m-4.5 15.3h0.9m2.6-10.2h0.9m3 1.1h0.9m-0.3-2.9h0.9m-5.8 15.4h0.9m-1.5-3h0.9m4-6h0.9m-9.9-13h0.9m1.5 0.2h0.9m7.2 4.1h0.9m-9.6 3.6h0.9m3.8-11.5h0.9m2 23.7h0.9m-5.9 0.8h0.9m-4.8-13.5h0.9m4.8 6.2h0.9m4.6-4h0.9m-9.9 5.4h0.9m3.9 2.3h0.9m-2.9-2.7h0.9m-1.9 3.8h0.9m-1.2-11.6h0.9m6.6-1.4h0.9m-5.7 13.1h0.9m-2.2 3.3h0.9m-2 1.1h0.9m-4.9-23.3h0.9m5.8 27.4h0.9m5.5-22.6h0.9m-7.7 3.6h0.9m-9.7 12h0.9m6.4 6.4h0.9m1.8-18.7h0.9m-4.9 3.3h0.9m3.9-2.9h0.9m8.8 6.8h0.9m-17.2-1.2h0.9m8.5 3.4h0.9m-7-10.7h0.9m-2.8-5.2h0.9m0.3 14.3h0.9m-1.1 13.4h0.9m2.9-20.4h0.9m-2.5 18.8h0.9m-7.8-12.1h0.9m17.2 7.5h0.9m-15.7-8.6h0.9m1.8 26.2h0.9m-2.7-30.1h0.9m0.5-11.3h0.9m-13.1 11.6h0.9m14.8-1.9h0.9m-1 11.7h0.9m0-24.1h0.9m2.4 25.1h0.9m-3.8-8.3h0.9m-4.2-5.5h0.9m0.8 14.5h0.9m-5-1.1h0.9m-0.4-2.2h0.9m0.4 2.6h0.9m7.7-6.2h0.9m-10.9-6.4h0.9m3.7-0.7h0.9m0.5 7.8h0.9m-1.2-8.3h0.9m-8.6-1.9h0.9m4.7-0.4h0.9m0.4-12.6h0.9m-6.6 18.7h0.9m-5.7-4.4h0.9m0.5 5.3h0.9m4.3 8h0.9m-3.4-23.3h0.9m0.4 17.3h0.9m1.7 0.4h0.9m3.8-5.2h0.9m-6.9-4.8h0.9m-2.4 18.6h0.9m3-36h0.9m2.6 6.1h0.9m-7.6 29.2h0.9m1.4-4.1h0.9m2.1-2.5h0.9m-9.7 0.7h0.9m1.4-27.5h0.9m0.8 29.3h0.9m0.8-5.4h0.9m5.8 2.7h0.9m-4.3 0.5h0.9m2.1-6.9h0.9m-2.8 21.6h0.9m-7.3-7.6h0.9m-5-7.2h0.9m7.8-11.3h0.9m-11.4 8.7h0.9m5.2 1.4h0.9m1.7 6.4h0.9m4.3-4h0.9m-13.7 2.4h0.9m7.1-5.2h0.9m4 1.2h0.9m-8.9 2h0.9m-6 4.8h0.9m5.9 7.3h0.9m1.7-13h0.9m-2.9-15.3h0.9m-2 14.6h0.9m3.5 1.3h0.9m-2.1 2.6h0.9m-6-3.8h0.9m0.4-15.3h0.9m-6.2 20.5h0.9m11.3 5.8h0.9m-10.4 0.8h0.9m9.1-22.2h0.9m-5.3 24.3h0.9m-2.6-5.2h0.9m-3.8-15h0.9m5.3 1.8h0.9m-4 2.5h0.9m-5.7 13.8h0.9m2.8-17.9h0.9m-2.2 3.8h0.9m-2.9 7.9h0.9m1.6-0.7h0.9m-3.2-17.8h0.9m-1.1 12.2h0.9m-2.5 6.1h0.9m3.2 0.5h0.9m-1.1-0.9h0.9m-3.6-18.8h0.9m5.8 5.4h0.9m1-1.4h0.9m-3.2-1.2h0.9m-10.2 22.1h0.9m5.5-4.5h0.9m0.7-26.5h0.9m0 27.6h0.9m2.8 5.4h0.9m-4.7-17.1h0.9m-2.2-10.5h0.9m1.9 18.6h0.9m-2.5-14.8h0.9m0.3 2.2h0.9m1.6-0.5h0.9m-8.3 2.8h0.9m-3-5.7h0.9m2.2-15.4h0.9m8.6 27.9h0.9m-8-12.4h0.9m-1.3 8.6h0.9m-1.3-14.5h0.9m-1.8-4.1h0.9m-1.2 9.9h0.9m-2.7 5.6h0.9m5.2 15.2h0.9m-4.3-22.7h0.9m5.1-3.2h0.9m-9.3 11.7h0.9m-1.7 15.3h0.9m3.8-2.5h0.9m-3.8-2.1h0.9m-0.3-10h0.9m1 5.3h0.9m0.2-6h0.9m-9.5-1.1h0.9m-5.8 0.3h0.9m6.8 11h0.9m-8.8 11.7h0.9m9-35.7h0.9m2.3 20.7h0.9m-0.9 16.7h0.9m-6.1-18.7h0.9m3.1-9.6h0.9m-0.3 19.2h0.9m-5.6-8h0.9m6.8 2h0.9m-11.8-3.7h0.9m4.2 9.4h0.9m0.2 7.3h0.9m-5.5-14.5h0.9m0.6 12.6h0.9m9.2-26.7h0.9m-4.3 8.7h0.9m-10.8-9.9h0.9m6.3 15.4h0.9m-2.9-2.2h0.9m2 0h0.9m-7.1-1.5h0.9m6.2-16.2h0.9m3.3 29.3h0.9m-6.6 6.2h0.9m-4.9-30.1h0.9m-0.2 2.3h0.9m9.4 7.6h0.9m-8.8 3.1h0.9m5.9-1.9h0.9m-9.1 1h0.9m6-4.7h0.9m-0.3 5.1h0.9m-7.5 1.8h0.9m8-7.3h0.9m-3.4 8h0.9m-5.9-5h0.9m1.8 5.5h0.9m-2.7 0.5h0.9m-6.1-13h0.9m-1.4 3h0.9m2.3-0.2h0.9m2.2-5.7h0.9m-4.1 17.9h0.9m7.1-8h0.9m-2.9 13h0.9m-10.1-11.2h0.9m-1-6.2h0.9m5.1-8.6h0.9m-0.4 11.1h0.9m-4.1 6.6h0.9m-3.3-22h0.9m2.6 9.6h0.9m-1.8-3.7h0.9m-4 0.7h0.9m-2.3 2.1h0.9m1.2 8.3h0.9m15.4-6.4h0.9m-20.6 11.8h0.9m0.6-14.5h0.9m2.8 9.2h0.9m0.8 1.9h0.9m-1.7 8.5h0.9m3-16.2h0.9m-5.2-8h0.9m2.7 11.3h0.9m4.2-4.7h0.9m-2.5-2.3h0.9m-14.1 0.6h0.9m7.5 18.3h0.9m-6-0.5h0.9m0.6-14.5h0.9m0 21.2h0.9m1.1-13.2h0.9m-7.9-1.3h0.9m6.5 14.3h0.9m-5.6-22.9h0.9m-1.1 0.6h0.9m5.6-1.5h0.9m1.6 8.1h0.9m-9.9-6.7h0.9m-2.8-7.8h0.9m9.4 22.8h0.9m-9.6-13h0.9m9.7-2.7h0.9m-6.6 12h0.9m-2.6-6.8h0.9m-1.5 3h0.9m-5.9-0.7h0.9m6.2-13.5h0.9m0.2 3.9h0.9m-13.5-9.9h0.9m10.3 24.5h0.9m-3.1-19.8h0.9m0.2 23.2h0.9m-0.4-23.4h0.9m1.2 12.5h0.9m-3.6 2.5h0.9m2.1-1.6h0.9m-7.1-0.1h0.9m3.6 12.7h0.9m-6.5-13h0.9m0.5 4h0.9m0.5-32.7h0.9m5.2 23.6h0.9m-9.3-8.3h0.9m-0.8 2.1h0.9m2.9 14.1h0.9m-0.6 2.1h0.9m-4 2.4h0.9m2.1-1.6h0.9m2-7.9h0.9m1.7 11.4h0.9m-7.7 9.4h0.9m7.7-32.2h0.9m-17 8.9h0.9m10.2 15.3h0.9m0-9.3h0.9m0.3 7.1h0.9m-6.7-5.2h0.9m5.3-8h0.9m-7.8-1.9h0.9m7.7 14.7h0.9m-3.5-10.1h0.9m-4.4 15.5h0.9m-2-0.3h0.9m0.2-11.8h0.9m1.5 8.6h0.9m4-11.7h0.9m-1.2-4.1h0.9m-11.3-14.3h0.9m6 36.2h0.9m-9.2-17.6h0.9m2.9-12h0.9m0.5 18.1h0.9m-3.2-12.9h0.9m1.7 15.8h0.9m-7.3-6.8h0.9m7.2-26.3h0.9m-1.9 44.1h0.9m-7.4-4h0.9m3.1-6.9h0.9m-0.3-17h0.9m-7.3 34.4h0.9m0.6-25.9h0.9m10.5 5.6h0.9m-6.1-22.6h0.9m-4.1 6.6h0.9m-5.7 16.6h0.9m9.8-11.1h0.9m-6.9 11.8h0.9m5.3-14.6h0.9m0.3 19.5h0.9m-5.6-20h0.9m1.4 17.6h0.9m4-12.6h0.9m-1.7 2.4h0.9m-5.2 2.4h0.9m-2.7 15.4h0.9m-4.1-6.2h0.9m0.8-8.5h0.9m-2.7 2.3h0.9m-6.2-4.5h0.9m11.5 10.8h0.9m-11.7-19.2h0.9m4 29.3h0.9m-0.9-18.4h0.9m-0.2 3.1h0.9m-3.6-0.5h0.9m4.8 7.7h0.9m-6.5-1.3h0.9m10.7-1.1h0.9m-6-31.8h0.9m1.8 42.9h0.9m-1.4-13.9h0.9m-2.5 24.6h0.9m-7.3-33.5h0.9m6.6 6.5h0.9m-14.4-0.4h0.9m9.5-11.4h0.9m-0.7 11.7h0.9m-10 2.6h0.9m15.5 12.2h0.9m-14.5-30.3h0.9m4 15.8h0.9m-6.7-10.1h0.9m10.3 9.8h0.9m-2.2-2.8h0.9m-1-4.9h0.9m-7.3-4.2h0.9m-6.7 5.5h0.9m1.4-0.7h0.9m5.4 6.3h0.9m0.1-5.6h0.9m-2.8 15.4h0.9m-1.3-11.2h0.9m-10.4-11.3h0.9m13.8 2.4h0.9m-9.9 18.2h0.9m-1.6 0.2h0.9m3.8-16.1h0.9m-9 19.4h0.9m0-25.4h0.9m10-0.1h0.9m-2.1 11.9h0.9m-4.1-10.1h0.9m-2.5 13.2h0.9m-2.3 3.6h0.9m4.2-0.9h0.9m-0.9 0.2h0.9m-0.3 2.6h0.9m-0.9-5h0.9m-6.3-20.4h0.9m3.1 26.7h0.9m-5-25.3h0.9m0.7 19.4h0.9m5-6.8h0.9m-9.4 2.6h0.9m6.8 0h0.9m0.5-4.4h0.9m-1.5 21.3h0.9m-8.7-25h0.9m6 39.7h0.9m-1.5-31.3h0.9m2.5-0.8h0.9m-13.1-8.4h0.9m11.4-7.3h0.9m-12.4 24.9h0.9m5.6 3.9h0.9m-5.9-19.3h0.9m2.1-5h0.9m-0.5 10.6h0.9m3.7 0.8h0.9m-6.2 5.8h0.9m5.4 5.4h0.9m-4.3-14.1h0.9m-4.1-9.2h0.9m1.4 12.7h0.9m5.7 2.5h0.9m-4.7 10.8h0.9m-11.8-19.4h0.9m5.9 7.6h0.9m-4.6 7.3h0.9m7.6-3.5h0.9m-1.8-16h0.9m1 4.9h0.9m-13.6 7.3h0.9m8.8-8h0.9m-9.6-4.7h0.9m5.4-13.8h0.9m4 35.3h0.9m-5.9 0.5h0.9m-0.9-21.8h0.9m2.5 16.9h0.9m-7.5-19.7h0.9m-1.1 25.7h0.9m1.9 16.4h0.9m-2.3-22h0.9m3.2-8.3h0.9m1.2-6.3h0.9m-4.6-3.1h0.9m-9.8 12.4h0.9m3.4-13.7h0.9m6.3 11.4h0.9m-1.7 18.8h0.9m-1.7-12.7h0.9m-6.7 3.8h0.9m7.7-18.8h0.9m-1.7 13.7h0.9m-4.6-2.4h0.9m10.2-7.3h0.9m-12.5 7.5h0.9m-0.2-19.2h0.9m2.5 27.4h0.9m3.7-14.8h0.9m-13.5 12.2h0.9m0.1-6.6h0.9m1.7 1.9h0.9m-1.1 5.1h0.9m-2.8 16.8h0.9m6.2-30h0.9m-8.2 4.4h0.9m1.2-6.4h0.9m6.9 17.9h0.9m-11.3-4.1h0.9m3.7 2.1h0.9m-3.7 13.6h0.9m2.2-1.3h0.9m-3.2-6.5h0.9m0.6 3.2h0.9m-1.2-27.3h0.9m-4.7 4.3h0.9m6.2 10.1h0.9m-3 6.9h0.9m5.5-20.7h0.9m-3.5 33.2h0.9m-7.7-28.8h0.9m3.4 8h0.9m-4.9-3h0.9m8.1 9.9h0.9m-11-26.3h0.9m-2.2 18.9h0.9m0.5-10.2h0.9m5.4 5.6h0.9m-5.5 5h0.9m6.8 0.9h0.9m-4.1-2.2h0.9m2.7-13.1h0.9m-12.1 7.2h0.9m12.3 20.5h0.9m-14-20h0.9m6 5.3h0.9m0.5-5.6h0.9m-11.6 11h0.9m11.3-21.5h0.9m-14 10.9h0.9m-0.9 8.8h0.9m2.1 3.1h0.9m2.6-6.1h0.9m3.3-3.3h0.9m-8 11.1h0.9m-2.8 5h0.9m2.7-19.4h0.9m3.4 9.5h0.9m-0.5-18.9h0.9m-6.7 18.1h0.9m4.4-4.3h0.9m2.9-0.9h0.9m-2.3 12.7h0.9m-3.4-12.8h0.9m0.7 6.4h0.9m-1.4-13.1h0.9m-1.5 24.6h0.9m-4.1-14.6h0.9m-0.7 7.4h0.9m-8.5 7.2h0.9m9.9-18.2h0.9m-1.9 13.5h0.9m-0.5-4.5h0.9m2.6-5h0.9m-2.9 13h0.9m-1.6-20.9h0.9m0 26.5h0.9m-5.5-15.8h0.9m2.2 4.3h0.9m-4.4-9h0.9m9 7.1h0.9m-11.6 1h0.9m1.9 7.4h0.9m-7.9-14.2h0.9m10-13.6h0.9m-8.1 17.3h0.9m2.3-7.7h0.9m0.3-10.8h0.9m-5.7 31h0.9m-0.1-12.9h0.9m1.6 4.2h0.9m0.6-4.5h0.9m2.6-0.8h0.9m-12.8-9.8h0.9m12.1 17.1h0.9m-7.8-26.3h0.9m-2.9 36.4h0.9m7.1-8.5h0.9m-12.6-25.5h0.9m3.3 0h0.9m2 2.6h0.9m0.6 8.6h0.9m-5.2 8.6h0.9m3.3-5.1h0.9m-4.2-1.8h0.9m-7.4-18.9h0.9m4.3 20.7h0.9m9.2 2.6h0.9m-12.3-8.8h0.9m-2.1 4.4h0.9m4 0.1h0.9m0.6 10.6h0.9m0.8-21.7h0.9m-0.2 1.4h0.9m-2.9 11h0.9m4.5-2h0.9m-8.2-1.7h0.9m3 5.8h0.9m-5.5 5.2h0.9m8.9 7.8h0.9m-3.4-21.3h0.9m-7.5 6.9h0.9m-7.6 15.4h0.9m0.2-13h0.9m0-2.8h0.9m7.6 4h0.9m-7.9-11.6h0.9m6.5 5.8h0.9m-4.2 9.9h0.9m-11.8-6.7h0.9m14.7 15h0.9m-3.3-24.8h0.9m0.3 25.7h0.9m-7.5-25.5h0.9m1.1 3h0.9m-8.7-19.2h0.9m2.1 17h0.9m6.3 1.1h0.9m-2 18.6h0.9m10.8-4.8h0.9m-17.3 1.1h0.9m3.1-6.4h0.9m3.1 4.3h0.9m-10.3-18.9h0.9m5.6 18.2h0.9m6.7-1.1h0.9m-11.1-10.7h0.9m-2.3-7.9h0.9m-3.4 7.3h0.9m4.9-2.2h0.9m-1.3 4.8h0.9m-1.9-1.5h0.9m1.3 4.4h0.9m-13 2.5h0.9m10.4-8.6h0.9m-0.6-0.9h0.9m-1.1-1.7h0.9m1.4 12h0.9m-9.7-10.3h0.9m8 10.8h0.9m-3.3-15.1h0.9m-4.2 12.7h0.9m3.1-1.7h0.9m-5.6-2.1h0.9m0.5-9.2h0.9m-3.4 3.5h0.9m-2.5 12.5h0.9m8.4 4.1h0.9m-7.3-16.1h0.9m3.4 2.8h0.9m-3.2 1.5h0.9m-6.3 15.5h0.9m-0.2-27.8h0.9m8.3 4.6h0.9m0.2 14.1h0.9m-3.8-7.1h0.9m-8.2-7.9h0.9m5.3 10.6h0.9m-6.2-10.1h0.9m0.5 10.5h0.9m4.4 9.4h0.9m-4.2 5.2h0.9m3.5 0.4h0.9m-7.4-8.7h0.9m7.2-22.9h0.9m-1.6 21.2h0.9m-0.9-2.3h0.9m0-5.8h0.9m-7.7 11.1h0.9m4.2-20.1h0.9m1 24.5h0.9m-1.6-18.5h0.9m0.1 12.1h0.9m-2.3-5.5h0.9m-6.4-6.3h0.9m-1.7 15.5h0.9m-1.5-14.7h0.9m3.5 3.5h0.9m-10.5-3.9h0.9m5.9 22h0.9m3.3-25.3h0.9m-8.1 5.3h0.9m4.5-3.1h0.9m0-6.1h0.9m-1.4 25.1h0.9m-13-11.8h0.9m10.9 4.7h0.9m-1.5-5h0.9m-0.1 1.7h0.9m-1.7 14.2h0.9m2.9-6.4h0.9m-7.7-13.6h0.9m6-5.4h0.9m-1.1-2.9h0.9m3.6 25h0.9m-11.7-16.5h0.9m-7 4h0.9m12.2 6.4h0.9m-6.8 13.9h0.9m2.4-15.8h0.9m-4.3 1.6h0.9m10.9-1.2h0.9m-18.3-2.3h0.9m13.7 9.4h0.9m-10.8-8.1h0.9m-4.8 2.8h0.9m1.5-11.3h0.9m0.4-1.8h0.9m8.3 21.2h0.9m-9-13.4h0.9m7.1-3.7h0.9m-9.5-5.4h0.9m7.2 9.8h0.9m-7.2-5.7h0.9m-4.6 13.3h0.9m-0.3-14.3h0.9m-4.6-5.6h0.9m3.8 5.9h0.9m-5-1.2h0.9m4.7-19.4h0.9m2 22.7h0.9m-8.7 0h0.9m6.4 2.5h0.9m-2.6 0.2h0.9m1.6-13.3h0.9m-5.9 16.9h0.9m1.6-14h0.9m-2.2 3.5h0.9m0.3-9.3h0.9m-7.6 2.1h0.9m5.2 37.8h0.9m3.6-12h0.9m-4.8 3.5h0.9m0.5-14.7h0.9m2-12.4h0.9m-14.2 0.2h0.9m13.7 20.2h0.9m-5.8-11h0.9m-2.4 6.1h0.9m-3.7 3.7h0.9m-1.3 5.5h0.9m1.6-21.9h0.9m-0.7-0.1h0.9m-0.2-8.5h0.9m-2.4 18.2h0.9m2.7-4.5h0.9m2.4-12.6h0.9m-6.7 11.7h0.9m0 2.1h0.9m4.7 2.5h0.9m-10.3 24.2h0.9m3.1-25.7h0.9m2.5-4.2h0.9m-5.4 14.1h0.9m-4.8-12.8h0.9m7.7 21.9h0.9m-5-18.5h0.9m3.8-13.3h0.9m-8.1 6.6h0.9m-6.5-20.5h0.9m5.8 37.1h0.9m3.5 3.4h0.9m-14.8-13.7h0.9m15.7-7h0.9m-11.6 11.8h0.9m4.4 2.8h0.9m-0.9 5.9h0.9m1.9-9.6h0.9m-5.2 4.4h0.9m-2.1 2.5h0.9m6.5-0.1h0.9m-10.8-4.9h0.9m5.8 4.2h0.9m-8.8-14.4h0.9" stroke="#000" stroke-width="0.9" fill="none"/>
<path d="M730.2 468.9h0.8m-4.8-9.8h0.8m5 20.3h0.8m0.6-69.1h0.8m-5.5 36.4h0.8m11.3 8h0.8m-12.9-37.7h0.8m1.6 22.4h0.8m9.4 20.5h0.8m-22.2-63.5h0.8m6.9 50.7h0.8m-5.1-15.4h0.8m16.1 24.5h0.8m-23.6-7.6h0.8m13.9-10.8h0.8m2.4 15.5h0.8m14.3-7h0.8m-26-14.2h0.8m10.5 47.6h0.8m-1.6-27.3h0.8m-3.5-19.3h0.8m-2.3-15h0.8m4.5 33.1h0.8m-5.3-26.1h0.8m-4.2 5.6h0.8m3.6 5.6h0.8m-0.3 23.9h0.8m6.3-38.3h0.8m-13.4-1.4h0.8m11.6 4.8h0.8m0 6.8h0.8m-3.3-0.7h0.8m-10.6 13h0.8m1.7-5.3h0.8m3.7 26.4h0.8m0.7-32.9h0.8m-22 11.6h0.8m-8.6 11h0.8m26.3-37h0.8m-1.1 10.9h0.8m4.6-2.1h0.8m-17.3 2.2h0.8m7.6-7.5h0.8m15 13.1h0.8m-4.7 1.7h0.8m-17-8.3h0.8m-4.3 22.4h0.8m14.6-6.4h0.8m-17.2 2h0.8m0-56.6h0.8m6.4 18.3h0.8m-6.8 35.2h0.8m1-6.2h0.8m14.5 23.9h0.8m-1-14.6h0.8m-10.9 30.5h0.8m-7.5-28.1h0.8m5.1-0.8h0.8m2.9-3.4h0.8m0.8-18.9h0.8m-3.2-3.8h0.8m3.7 39.5h0.8m-10.9-29.2h0.8m0.6 20.8h0.8m-12.4-30.5h0.8m18.4 15.4h0.8m-18.2-39.2h0.8m5.7 9.1h0.8m3.7 32.6h0.8m12.5-22.9h0.8m-10.2 1.1h0.8m-13.8 19.2h0.8m0.6 39.5h0.8m5.4-50.2h0.8m17.6-0.8h0.8m-21.7 11.3h0.8m-4 15.8h0.8m14.5-36.9h0.8m-13.9 17.7h0.8m-7.9-18.3h0.8m7.2 8h0.8m4.5 33.4h0.8m-1.8-10.4h0.8m-9.4-17.2h0.8m9.3 22.7h0.8m-4.5-0.5h0.8m-2-33.2h0.8m3.5 14.4h0.8m-16.4 24.4h0.8m15.3-2.2h0.8m-7.4 14.6h0.8m6.6-9.8h0.8m-9.6-24.9h0.8m14.2 5.5h0.8m-10.5 29.3h0.8m7.9-24.3h0.8m5-33.1h0.8m-16 18.1h0.8m11.1 41h0.8m-15.9-27.5h0.8m10.2 7.2h0.8m-6 9.2h0.8m12.1-16.8h0.8m-24.2-4.4h0.8m7.4-5.2h0.8m4.9 21.4h0.8m0.7-4.9h0.8m-5.7-28.8h0.8m-5.4 3.2h0.8m4.3 14.2h0.8m-3.6 12.3h0.8m-2.7 10.4h0.8m9.4-38.5h0.8m1.2 11.6h0.8m-16.3 0.5h0.8m-5 12.5h0.8m18.1-35.4h0.8m-6.7 40h0.8m0.9 1.1h0.8m-2.5-21.1h0.8m2.7 15.2h0.8m-1.5-0.4h0.8m-8.9-6.8h0.8m5.8 20.7h0.8m-19.9-44.2h0.8m1.3 14.2h0.8m6.5 13.9h0.8m2 21.6h0.8m-3.2-38.9h0.8m-2.4 7.8h0.8m6.7-3.5h0.8m-9.1-16.8h0.8m7.7 15.5h0.8m-9.7 5.3h0.8m9.2 44.1h0.8m9-55.9h0.8m-16.6-20.3h0.8m-12.3 2h0.8m21.1 32.3h0.8m-19-10h0.8m6.6 0.2h0.8m14.2-24.1h0.8m-15.5 41.4h0.8m6.4-46.1h0.8m-3.1 17.4h0.8m-6.6-6.3h0.8m11.3 24.6h0.8m-21.9 22.3h0.8m21.7-37.5h0.8m-2.7-13.2h0.8m-17.7 36.9h0.8m-1.7 11.7h0.8m20.7-13.2h0.8m-7.9 29.4h0.8m-0.6-5.6h0.8m6.2-44.8h0.8m5 42.6h0.8m-16.2-6.7h0.8m0.4-11.2h0.8m-10.8-12h0.8m4.3 28.4h0.8m5.4-12.9h0.8m-5.3 16.3h0.8m-18.5-41.4h0.8m25.1 9.5h0.8m-3.2 38.1h0.8m0.4-58.2h0.8m-8.6 6.1h0.8m4.5 41.7h0.8m-6.2-10h0.8m-0.5 26.8h0.8m1.7-32.2h0.8m2.5 15.8h0.8m0.2-20.6h0.8m-5.6 10.2h0.8m3.3-16.8h0.8m-9.7 2.7h0.8m7.1-4h0.8m-12.5 2.1h0.8m3.7 17.9h0.8m-1-19.3h0.8m17.3 16.3h0.8m-22 14.3h0.8m3.4-38.2h0.8m6.9-11.4h0.8m-6.2 37.5h0.8m5.4-20.7h0.8m-10.3 8.4h0.8m12.2-32.4h0.8m-3.8 39.7h0.8m3.4-26.9h0.8m-2.4 4.8h0.8m-7.3 9h0.8m-21.7 6.4h0.8m20.8 17.5h0.8m-8.5-38.5h0.8m9.3 15.3h0.8m1.8 33.9h0.8m-10.5-30.3h0.8m-4.5-35.2h0.8" stroke="#222" stroke-width="0.8" stroke-opacity="0.7" fill="none"/>
<path d="M710.3 418.6h0.8m39.7-28.3h0.8m29.2-19.1h0.8m-71.9-0.8h0.8m-16.7 10.2h0.8m-10.1-5.4h0.8m36.1 20.2h0.8m-51.2 15.1h0.8m7.8-2h0.8m33.1-90.2h0.8m-42.9 109h0.8m14.1-61h0.8m7.1 29.3h0.8m37.7-15.5h0.8m41.5-10.5h0.8m-82.7 14.7h0.8m23.3 62.6h0.8m82.2-68.5h0.8m-96.6 37.1h0.8m1.1 8.7h0.8m-36.7-0.3h0.8m-43.5-12.5h0.8m47.6 6.5h0.8m58.7-62.6h0.8m-15.8 3.7h0.8m-55.1-25.4h0.8m35.3 17.4h0.8m-71.9 51.1h0.8m12.9 15.6h0.8m74.1-58.3h0.8m-71-3.3h0.8m8.2 20.3h0.8m-29.6-8.3h0.8m101.1 62.3h0.8m29.4-77.4h0.8m-61.2 70.8h0.8m35.3-87.5h0.8m-60.3-28.9h0.8m2.4 30h0.8m38.5 23.9h0.8m11.8 25h0.8m-37 72.7h0.8m57.5-119.7h0.8m7.6 80.9h0.8m-3-12.1h0.8m-122.1-32.1h0.8m41.9 63.9h0.8m27.8-40.9h0.8m26.4-43.7h0.8m13.4 43.8h0.8m-81.2-30.9h0.8m27.1 45.9h0.8m64.1-35.6h0.8m-64.9 82.1h0.8m15.4-84.1h0.8m18.3 25.8h0.8m-58.4 41.2h0.8m-0.7-72.9h0.8m-19.3 51.6h0.8m-7.7-5.7h0.8" stroke="#666" stroke-width="0.8" stroke-opacity="0.45" fill="none"/>
<rect x="620.7" y="328.8" width="70.8" height="46.5" fill="none" stroke="#3e4c7a" stroke-width="1.2"/>
<rect x="706.2" y="399.4" width="45.6" height="73.4" fill="none" stroke="#d4646e" stroke-width="1.2"/>
<text x="633.8" y="326.7" font-size="24.5">95.2</text>
<text x="757.3" y="461.1" font-size="24.5">4.0</text>
<rect x="808.3" y="297.5" width="187.3" height="186.1" fill="none" stroke="#8a8a8a" stroke-width="1.1"/>
<path d="M808.3 317h-4.5M808.3 358.9h-4.5M808.3 400.8h-4.5M808.3 462.6h-4.5M808.3 303.1h-2.5M808.3 307.8h-2.5M808.3 312.5h-2.5M808.3 317.3h-2.5M808.3 322h-2.5M808.3 326.7h-2.5M808.3 331.5h-2.5M808.3 336.2h-2.5M808.3 340.9h-2.5M808.3 345.6h-2.5M808.3 350.4h-2.5M808.3 355.1h-2.5M808.3 359.8h-2.5M808.3 364.5h-2.5M808.3 369.3h-2.5M808.3 374h-2.5M808.3 378.7h-2.5M808.3 383.5h-2.5M808.3 388.2h-2.5M808.3 392.9h-2.5M808.3 397.6h-2.5M808.3 402.4h-2.5M808.3 407.1h-2.5M808.3 411.8h-2.5M808.3 416.6h-2.5M808.3 421.3h-2.5M808.3 426h-2.5M808.3 430.7h-2.5M808.3 435.5h-2.5M808.3 440.2h-2.5M808.3 444.9h-2.5M808.3 449.6h-2.5M808.3 454.4h-2.5M808.3 459.1h-2.5M808.3 463.8h-2.5M808.3 468.6h-2.5M808.3 473.3h-2.5M808.3 478h-2.5M828 483.6v4.5M892.6 483.6v4.5M934.7 483.6v4.5M975.9 483.6v4.5M812 483.6v2.5M816.7 483.6v2.5M821.3 483.6v2.5M825.9 483.6v2.5M830.5 483.6v2.5M835.1 483.6v2.5M839.7 483.6v2.5M844.3 483.6v2.5M848.9 483.6v2.5M853.5 483.6v2.5M858.2 483.6v2.5M862.8 483.6v2.5M867.4 483.6v2.5M872 483.6v2.5M876.6 483.6v2.5M881.2 483.6v2.5M885.8 483.6v2.5M890.4 483.6v2.5M895 483.6v2.5M899.6 483.6v2.5M904.3 483.6v2.5M908.9 483.6v2.5M913.5 483.6v2.5M918.1 483.6v2.5M922.7 483.6v2.5M927.3 483.6v2.5M931.9 483.6v2.5M936.5 483.6v2.5M941.1 483.6v2.5M945.7 483.6v2.5M950.4 483.6v2.5M955 483.6v2.5M959.6 483.6v2.5M964.2 483.6v2.5M968.8 483.6v2.5M973.4 483.6v2.5M978 483.6v2.5M982.6 483.6v2.5M987.2 483.6v2.5M991.9 483.6v2.5" stroke="#777" stroke-width="0.8" fill="none"/>
<path d="M808.3 462.2h-4M808.3 460.3h-4M808.3 464.1h-4" stroke="#333" stroke-width="1.2"/>
<path d="M828 483.6v4M829.8 483.6v4M826.1 483.6v4" stroke="#333" stroke-width="1.2"/>
<path d="M857.6 361.3h0.9m-32.1-5.3h0.9m28.3 6.5h0.9m0.8-12.9h0.9m11.9 17.3h0.9m2.6-18.8h0.9m-14.6-1.5h0.9m-12.6 14.8h0.9m-21.9 17.9h0.9m43.4-31.4h0.9m-30.8 6.1h0.9m6.2-10h0.9m-0.8-3h0.9m-9 29.6h0.9m8.4-19.3h0.9m26.5 6.2h0.9m-16.8-7.9h0.9m7 2.2h0.9m-4.6 8.6h0.9m13.4 3.1h0.9m-30.1-18.2h0.9m-5.7 3.3h0.9m29.9 2.2h0.9m-65.1 7.3h0.9m51.2-11.5h0.9m-2.5-3.6h0.9m-8.8 10.3h0.9m0.2 5.2h0.9m-17.5 3.4h0.9m2-6.1h0.9m31.5-9.3h0.9m-23.6 22.5h0.9m19.1-20.4h0.9m-32.6 11h0.9m-1.5-4.2h0.9m-12.9 5h0.9m-4.9-4.5h0.9m38-7.2h0.9m-39.2-5.4h0.9m-6.8 27.4h0.9m-1.1-27.5h0.9m37.2 11.9h0.9m10.9 11.4h0.9m-10.7-12.4h0.9m-18-1h0.9m24.7 7.1h0.9m-6.4-20.5h0.9m-24.4 8.8h0.9m2.8-3.3h0.9m19.9 19h0.9m18.4-14.2h0.9m-33.5 5.5h0.9m0.7-8.3h0.9m12.8-10.7h0.9m-22.6 1.1h0.9m17.9 4.6h0.9m-31.2 12.4h0.9m1.1 2.3h0.9m10.2 15.4h0.9m-15-24.9h0.9m29.5 8.4h0.9m-3-3.7h0.9m7.6 5.7h0.9m5.5-15.3h0.9m-19.1 10.2h0.9m1.6-6.4h0.9m6.1-3.6h0.9m0.4 17h0.9m-46.6-1.4h0.9m-3.3 1.5h0.9m4.8-5.7h0.9m21.8-14h0.9m-27.9 19.1h0.9m22.5 5.3h0.9m6.5 15.1h0.9m2.9-8.9h0.9m2.1-15.2h0.9m2.4-7.5h0.9m-21.1 21.7h0.9m6.9-25.3h0.9m11.1 2.9h0.9m-8.2 17.8h0.9m19.8 6.2h0.9m-2.9-10.5h0.9m-11.5-3.2h0.9m-10.8 17.9h0.9m-1.5-5.4h0.9m-1.6-4.1h0.9m-9.4 3.3h0.9m35.4-19.8h0.9m-27.7 14h0.9m5.6-7.4h0.9m10.7-12.7h0.9m10 16h0.9m-29.6 16.5h0.9m0.4-34.1h0.9m22.7 17.3h0.9m-24.2 5.9h0.9m-7.3-10.4h0.9m22.9 5h0.9m-1.4-7.3h0.9m11.3-9.4h0.9m-53 17.4h0.9m17.4-2.7h0.9m5-3.2h0.9m-19.6 4.2h0.9m39.6-10.3h0.9m9 21.7h0.9m-47.5-6.9h0.9m-5.1-8.4h0.9m-0.9-3.7h0.9m-13.8 3.5h0.9m12.8-6.7h0.9m-16.6 8.4h0.9m65.1-3.6h0.9m-35.9-7h0.9m-6.3 2.6h0.9m-19.5-0.4h0.9m16.8 10.8h0.9m2.1-0.3h0.9m26.9 5.8h0.9m-30.1-24.3h0.9m2.9 16.7h0.9m19.3 0.5h0.9m29.5-4.2h0.9m-37.1-5.3h0.9m-29.3 5.5h0.9m19.6 8.9h0.9m21.1 5.9h0.9m-11.9-13.3h0.9m-5.9 12.7h0.9m-27-5.6h0.9m24.2-7.3h0.9m21-5h0.9m-48.1 5.8h0.9m5 12.5h0.9m-18.5-23.9h0.9m32.6 18.5h0.9m-26.4 5h0.9m-13.4-2.5h0.9m16.6-13.5h0.9m44.8 3.6h0.9m-42.5 2.7h0.9m42.1-1.5h0.9m-46.1 1.2h0.9m-8.9-8.1h0.9m10.5 12h0.9m0.4-1.5h0.9m26.9 9.9h0.9m-49.2-14.7h0.9m8.2 6.2h0.9m23-5.8h0.9m-14.2-8.6h0.9m-20.7 17.3h0.9m24.5-8.4h0.9m7.9 6.8h0.9m25.7-8.7h0.9m-21.9-13.1h0.9m-18.6 8.4h0.9m-4.9 16.7h0.9m11.6-9.8h0.9m-1.4-2.6h0.9m-6-3.8h0.9m-6.3 2h0.9m5.1-13h0.9m3.4 16.5h0.9m5-9.7h0.9m-23.8 17.2h0.9m2.7-2.9h0.9m-0.1-15h0.9m-14.2 5.2h0.9m15.8-5.5h0.9m31 11.2h0.9m-39.8 13.1h0.9m28-20.1h0.9m-32.1 5.1h0.9m28.6-10.8h0.9m6.3 9.1h0.9m-6.2 2.2h0.9m-6.8 6.9h0.9m12.7-12h0.9m9.2-5h0.9m-27.5 17.4h0.9m-5.7 1.9h0.9m-28.5-8.3h0.9m43.1 0.5h0.9m-36.2 1.3h0.9m20.8-10.2h0.9m18.2 4h0.9m-40.4 5.8h0.9m5.4-2.7h0.9m14.1-2h0.9m5 6.3h0.9m9.6-11.4h0.9m-20.2 11.1h0.9m2.9-20.9h0.9m-23.6 21.5h0.9m26.6-2.6h0.9m-7.4 10.6h0.9m-9.9-17.6h0.9m30.1 12.2h0.9m-28.7-11.8h0.9m28.7 3.9h0.9m-41.4 13.7h0.9m-11.9-12.6h0.9m34.3-1.1h0.9m-20.1 6.4h0.9m-12.6-5.8h0.9m31.5-7.8h0.9m10.3 7.8h0.9m-25.4-2.3h0.9m10 0h0.9m-6.8 15.3h0.9m16.3-24.6h0.9m0.7 9.1h0.9m-18.4 5.3h0.9m-1.3-6.2h0.9m4.2 14.3h0.9m-20.3-9.2h0.9m22.3 9.7h0.9m-8.9-7.1h0.9m1.6-5.4h0.9m-3.4 0.5h0.9m-12.2-18.4h0.9m-25.3 24.1h0.9m41.6 0.7h0.9m-11.6-6.7h0.9m6.8-0.8h0.9m-10.5 16.8h0.9m-24-18.6h0.9m18.2-11.7h0.9m-16.7 26.4h0.9m27.5-10.7h0.9m12.3-7.5h0.9m9.3 8.2h0.9m-43 10.1h0.9m17.9-7.8h0.9m-11.7-17.8h0.9m-33.7 16h0.9m49.9-7.1h0.9m-15.5-6.8h0.9m-27.4 13.3h0.9m35.7 7.1h0.9m7.6-13.6h0.9m-23.9 13.9h0.9m-15.2-9.6h0.9m16.1 2.5h0.9m13.9 3.9h0.9m-23-24.3h0.9m19.7 29.4h0.9m-5.6-5.7h0.9m-2.1 7.6h0.9m-16.9-11.4h0.9m-9-1.3h0.9m2-5.4h0.9m-20.4 6.4h0.9m49.2-25.8h0.9m3.5 26.3h0.9m-33.7 3h0.9m6.3-3.4h0.9m27 2.2h0.9m-18.6-3.9h0.9m-9.9-5.7h0.9m-0.1 1.2h0.9m20.3 4.8h0.9m-7.7 13.5h0.9m3.8-17.5h0.9m10-10.8h0.9m-5-5.5h0.9m-40 21.7h0.9m2.4-18.1h0.9m-14.1 20.9h0.9m-4.5 3.4h0.9m46.9 6.3h0.9m-15.9-12.3h0.9m-11.8 24.7h0.9m26-18.7h0.9m-15.5 4.1h0.9m-38.5-2.1h0.9m21.5-28.1h0.9m27.2 13.7h0.9m-12.1 0.2h0.9m-14.9 20.9h0.9m11.4-10.8h0.9m-32.8 4.5h0.9m14.6-3.8h0.9m-7.1-1h0.9m25.3-16.2h0.9m-4.7 5.1h0.9m14.6 11.2h0.9m-20.9 23.7h0.9m12.3-30.4h0.9m-0.3 5.9h0.9m7.1-11.3h0.9m9.4 4.3h0.9m-40.1-2h0.9m0.4 23.5h0.9m7.2-26.5h0.9m-6.5 11.8h0.9m17.7-5.1h0.9m-13.7 29h0.9m-6.4-25.1h0.9m-18.7 7.4h0.9m11.4 8h0.9m27.2-9.2h0.9m-29.7-10.2h0.9m1.2 3.7h0.9m-0.4-5.5h0.9m6.7 4.6h0.9m-8.9 8.3h0.9m22.9-13.1h0.9m17.6 8.4h0.9m-16.3 13.3h0.9m-45.3-12.2h0.9m38.3 6.2h0.9m-3-1.7h0.9m-39.5-17.5h0.9m34.1-9.6h0.9m-19.8 16.4h0.9m14.6 9.7h0.9m-3.1-15.4h0.9m-21.1 11.1h0.9m25.1-0.3h0.9m-8.4-2.4h0.9m-26.7-1.2h0.9m35.4-9.8h0.9m-6.5 16.2h0.9m31.1-6.8h0.9m-44.3-10.1h0.9m-15.1-3.7h0.9m-12.6 20.7h0.9m29-3.6h0.9m-27.5-20.7h0.9m-4 32.4h0.9m47.9-26.3h0.9m-18.1 13.4h0.9m-19.1-7.2h0.9m31.6 12.1h0.9m-1.7-3.4h0.9m-14 1.5h0.9m-5.5 10.7h0.9m5.5-10.3h0.9m-6.1-10.7h0.9m-0.2 3h0.9m-13.6 10.2h0.9m46.2-4.7h0.9m-36.2-8.9h0.9m-23.8 11.8h0.9m33.4-12.5h0.9m-9.1-0.5h0.9m21.6 8.6h0.9m-17.3 14.2h0.9m-45.8-11.5h0.9m41.1-6.2h0.9m-5 13.7h0.9m-12.3-16.9h0.9m39.3 14.9h0.9m-21.7-1.9h0.9m-7.5-9.7h0.9m-4.9 5.4h0.9m-6.1-16.9h0.9m4.1 16.6h0.9m-0.4 3.5h0.9m6.3 2.6h0.9m-3.7-10h0.9m6.7 9.3h0.9m-17.9-15.4h0.9m28.8 2.9h0.9m-17 0.5h0.9m-3.5 16.5h0.9m23.6-23.9h0.9m-53.2-18.1h0.9m33.1 43.5h0.9m-6.4-16.4h0.9m8.5-5.7h0.9m-3.7 20.2h0.9m8.8-5.7h0.9m-30-9.1h0.9m-7.7 19.3h0.9m35.1-17h0.9m-22.9 2.7h0.9m-10.7 2.4h0.9m18.4-0.7h0.9m-8.4-26h0.9m-5 9.7h0.9m-25.7 32.2h0.9m18.8-21.5h0.9m2.3-5.9h0.9m31.1-8.8h0.9m-19.9 11.1h0.9m12.2 12.7h0.9m-20.8-20.7h0.9m10.9 21.8h0.9m-3-11.2h0.9m-1.4-4.3h0.9m-7.4 10.1h0.9m-8.9-12h0.9m-0.8 1h0.9m-17.1 17h0.9m16.5-13.9h0.9m-7 8.4h0.9m2.3-10.1h0.9m9 7.5h0.9m-20.5-10.7h0.9m35.9 7h0.9m-2.5 7.8h0.9m-22.3-7.5h0.9m27.6-3.5h0.9m-34.7-1.7h0.9m3-1h0.9m3.7-2.8h0.9m5.8 14.1h0.9m-6.1-8.3h0.9m17.1 23.1h0.9m-24.6-24.6h0.9m12 5h0.9m-9.2 7.5h0.9m-26.1 0.7h0.9m4.3-17.5h0.9m10.2 24h0.9m-5.1-8.8h0.9m-5.9 1.4h0.9m20.1 4.7h0.9m-3.3-10.2h0.9m-35.2 2.8h0.9m43.6-1h0.9m-11.1 3.2h0.9m10.6-13h0.9m-16.6 11.8h0.9m4.6-12.3h0.9m-38.5 11.3h0.9m44.4 12h0.9m-5.9-22.6h0.9m-0.5 6.7h0.9m-19.7-11.7h0.9m-20.1 6.6h0.9m22.6 6.7h0.9m6.4 1.5h0.9m30.8-2.6h0.9m-9.9-6.4h0.9m-36 2.3h0.9m-18.9 19.3h0.9m33.4-8.3h0.9m23.8-2.4h0.9m-2.5-25h0.9m-6.9 23.7h0.9m-31.5 6.9h0.9m8.8-15.8h0.9m-34 22h0.9m58.6-10h0.9m-38.3-8.2h0.9m-0.7 4.6h0.9m8.1-13.7h0.9m-24.4 21.7h0.9m2.4-20.4h0.9m59.7 2.7h0.9m-62.4-1.3h0.9m34.3 2h0.9m-16.3-14h0.9m-9 20.9h0.9m10.3 12.8h0.9m6.8-39h0.9m-37 17.9h0.9m21.6 8.4h0.9m14.6-15.6h0.9m-49.3 22.2h0.9m19.8-28.3h0.9m-0.1 17.1h0.9m-5.3-6.5h0.9m36.8 0.6h0.9m-13 11.8h0.9m-12.1 19.3h0.9m-17.8 2h0.9m5.8-25.6h0.9m20.5 12.4h0.9m5.9-13.1h0.9m-18.7 13.7h0.9m31.1-15.4h0.9m-6.1 9.9h0.9m-17.4-14.9h0.9m-26.6 13.8h0.9m27.8-18.9h0.9m19.6 30h0.9m-46.7-16h0.9m15.1-3.9h0.9m-7.1 9.3h0.9m35.7-3.6h0.9m-27.3 0.5h0.9m-14.4 4.4h0.9m2.4-14.5h0.9m18.6-7.9h0.9m-20.6 13.2h0.9m5.5-10.3h0.9m-14.8 12.6h0.9m25.5 0.3h0.9m-14.7-6.5h0.9m3-17.5h0.9m9.7 33.7h0.9m-12.1-17.4h0.9m22 2.6h0.9m-0.7 3.7h0.9m-36.6 0.5h0.9m0.4 0.4h0.9m19.1-0.8h0.9m-17 2.1h0.9m13.4 0.3h0.9m1.7 5.1h0.9m-5.2 1.2h0.9m-5.5 3.8h0.9m5.7-2.7h0.9m-11-20.1h0.9m-5.2 13h0.9m12.9-0.7h0.9m17.6-11.2h0.9m-55.4 9.9h0.9m17.4 1.9h0.9m21.6 23.9h0.9m-34-33.7h0.9m20.2-3.5h0.9m-12.7 24.5h0.9m10.9-11.7h0.9m18.6-14.9h0.9m-17.4 14.7h0.9m1.6-8.4h0.9m-12.6 8h0.9m18.5-5.6h0.9m-2.9-12.3h0.9m-4 25.6h0.9m-23.2-9.4h0.9m14.2 5.1h0.9m19.2-0.9h0.9m-24.7-3.4h0.9m7.4 8.6h0.9m-1.2-11.7h0.9m-10.7-2.1h0.9m-9.8 2.7h0.9m4 11h0.9m-11.1-6.1h0.9m-0.6 6.3h0.9m23.6 4.1h0.9m3.1-20h0.9m-9.3 3.5h0.9m-10.2-3.5h0.9m2.7 9.8h0.9m7.7 20.9h0.9m-7.1-21h0.9m0.3-3h0.9m-4.4 2.7h0.9m0.8 6h0.9m9.4-14.1h0.9m-7.9 10.3h0.9m-5.4-4.6h0.9m2 7.3h0.9m3.6-10h0.9m-4.6 15.4h0.9m-15.7-5h0.9m10.7 26.4h0.9m13.4-31.7h0.9m-13-13.6h0.9m-7.5 30.5h0.9m13.4-19.8h0.9m-6.9 2.9h0.9m-16.3 0.5h0.9m22.9-13.7h0.9m-13.1-10.8h0.9m-24.4 30.8h0.9m46.5 8.8h0.9m-41.9-16.7h0.9m14.7 9.9h0.9m9.8-8.5h0.9m3.6-4.6h0.9m5.2 1h0.9m1.1 4.5h0.9m-15-11.4h0.9m-29.6-3.7h0.9m32-4.9h0.9m13.3 15.6h0.9m-44.8 5.8h0.9m0.7-2.7h0.9m14.9 10h0.9m18-2.3h0.9m-22.9 2.7h0.9m5.4-9.7h0.9m7.4 1.3h0.9m-29.7 3.2h0.9m-4.9-1.5h0.9m23.6-3.4h0.9m-17.5 7.9h0.9m14.4-1.3h0.9m-10.3-13.3h0.9m12 14.9h0.9m-23.3-13.8h0.9m12.3 2.7h0.9m-0.2 11.5h0.9m18-9h0.9m1.3 8.6h0.9m-24.6-15h0.9m20.3 24.4h0.9m-50.4-23.5h0.9m50.1-1.6h0.9m0.5 8.8h0.9m-35.2-5.9h0.9m25.4-3.7h0.9m2.5 10.4h0.9m-15.3 0.6h0.9m-1.8-1.4h0.9m-11.2 10.2h0.9m10.9-2.2h0.9m38.1 3.6h0.9m-35.9-12.2h0.9m-1.3 1.4h0.9m-13.5-18.2h0.9m17.6 15.9h0.9m18.8 15.1h0.9m-47.9-23.5h0.9m33.8 18.1h0.9m-11.4-9.6h0.9m-32.9 19.1h0.9m17.7-14.8h0.9m16-12.5h0.9m7.4 20.2h0.9m-15.5-11.3h0.9m10.5 7.2h0.9m2.5-16h0.9m-30.1 2.9h0.9m11.1-1h0.9m-11.4 13.3h0.9m18.2-0.5h0.9m-9.1-10.7h0.9m-12.2 5.7h0.9m-16.2-9.6h0.9m38 14.8h0.9m-11.5-17.2h0.9m9.4 3.6h0.9m-12.2-2h0.9m30.7 21.1h0.9m-44.2-22.8h0.9m12 15.4h0.9m20.2-5.9h0.9m-41.3 3h0.9m23.5-16.2h0.9m-9.4 11.1h0.9m-12.6 4.5h0.9m32.1 6.8h0.9m-32.5-13.8h0.9m24.8 2.2h0.9m-17.8 21.8h0.9m-36.8-24.6h0.9m27.1 5.2h0.9m40.4-0.8h0.9" stroke="#000" stroke-width="0.9" fill="none"/>
<path d="M847.2 357.4h0.9m-1.2 2.4h0.9m43.9-11.3h0.9m-44.2 6.5h0.9m-30.8 7.2h0.9m31.3-27.2h0.9m-4.2 22.5h0.9m-10.7 9.8h0.9m3.8-27.4h0.9m21.1 14.4h0.9m-11.4-15.6h0.9m-24.8 6.3h0.9m18.4 9.3h0.9m23.3 17.8h0.9m-20.6-17.4h0.9m27 1.7h0.9m-14.9-5.8h0.9m-18.5 2.2h0.9m-10.2 6.9h0.9m-3-5.1h0.9m18.6 23.5h0.9m-37.4-21.6h0.9m39.5-4.4h0.9m2.5 9.3h0.9m-7-10.1h0.9m-11.9 2h0.9m-13.1 4.4h0.9m-2-11.8h0.9m-6.1 21.5h0.9m12.1-21h0.9m20.4 4.9h0.9m-8.1 2.5h0.9m-0.5 4h0.9m-40.6 13.5h0.9m48.9-31h0.9m-2.6 13h0.9m-13.1 16h0.9m12.9-3.2h0.9m15 1.2h0.9m-41.9-25.1h0.9m21.7-4.6h0.9m-19.6 14.3h0.9m-6.4 18.2h0.9m15.2-16.7h0.9m8.1-2h0.9m3.9 26h0.9m-21.8-23.4h0.9m19.2-19h0.9m-38.7 9.9h0.9m-6.6 10.8h0.9m29.2-0.3h0.9m-6 10h0.9m16.4 3.5h0.9m-20-13h0.9m24.4 4.2h0.9m-3.3-9.4h0.9m-22.3-1.7h0.9m-0.5 11.2h0.9m-7.6 16.2h0.9m-17.2-11.5h0.9m5.3-6h0.9m4.1-2.4h0.9m12.3-9.2h0.9m-21.1 0.9h0.9m18.5 16.1h0.9m24-26.8h0.9m-18.9 13.2h0.9m-7.9 8.4h0.9m11.3 0.9h0.9m-13.7 12.2h0.9m3.9-16.6h0.9m12.5-12h0.9m-33.5 27.4h0.9m10.7-34.1h0.9m14.8 31.5h0.9m-25.6-26.5h0.9m10.4 17.5h0.9m-9.5-13.4h0.9m16.7 15.2h0.9m-34-17.3h0.9m18.9 5.1h0.9m7.5 12h0.9m24.7-1.6h0.9m-15.5-20.2h0.9m-26.1 27.5h0.9m-12.8 3h0.9m30.4-12.7h0.9m-11.4-13.7h0.9m-15.9 6.7h0.9m9.2 18.5h0.9m-10.1-19.5h0.9m-12.2 8.2h0.9m26.3 9.8h0.9m29.1-5.8h0.9m-44.2-3.3h0.9m16.8-3h0.9m-22.2 4.2h0.9m-2.9-4.5h0.9m13.3-26.2h0.9m13.3 49.5h0.9m-16.1-28.9h0.9m19.3-7.3h0.9m-15.1 16.3h0.9m-10-3.3h0.9m-5.3-5.3h0.9m22.7-3.1h0.9m-20.2 1.9h0.9m15.9 3.4h0.9m-22.1 7.4h0.9m-19-23.5h0.9m35 39.5h0.9m-13.1-15.9h0.9m-14.9-2.3h0.9m23.9 4.7h0.9m-15.6 14.3h0.9m-4.3-4.3h0.9m-2.7-7.7h0.9m36.9 14.5h0.9m-23.7-40.1h0.9m14.1 9.9h0.9m-30.8 1.3h0.9m1.7 14.2h0.9m16.2-0.8h0.9m9.6-11.3h0.9m-3.3 16.9h0.9m17.2-11h0.9m-34-11.6h0.9m-3 9.9h0.9m9.2-14.2h0.9m-11.1 12h0.9m-3.9-4.3h0.9m13.8-3.8h0.9m1-1.1h0.9m-4.8-0.3h0.9m14.1 19.4h0.9m1.7-16.6h0.9m-42.5-5h0.9m16.2 25h0.9m13.7-4.1h0.9m-31.3 4.3h0.9m29.8-17.1h0.9m-52.2-2.6h0.9m36.9 24.9h0.9m4.6-17.2h0.9m20.6 17h0.9m-19.9-9.8h0.9m12.8-14.1h0.9m-14.2 3.1h0.9m-22.3 9.7h0.9m31.5 14.5h0.9m-6-7.7h0.9m-15.8-27.9h0.9m-8.1 20.1h0.9m-0.2 16.1h0.9m27.5-22.4h0.9m7.3 9h0.9m-2.3-8.7h0.9m-14.4-0.6h0.9m-13 14.6h0.9m29-10.8h0.9m-26.3-10.6h0.9m-8.9 14.5h0.9m-17.3-9.8h0.9m1.2 6.7h0.9m30.8 1.5h0.9m-19.4-14.3h0.9m-21.9 10.9h0.9m48.5-3h0.9m-25.9-1.9h0.9m-17.6 16h0.9m28-26.9h0.9m-31.6 29.9h0.9m4.8-14.8h0.9m-3.3 3.9h0.9m3-9.8h0.9m-6.1 26.6h0.9m57.6-17.8h0.9m-31.3 3.7h0.9m-11.3-7h0.9m-6.7 9.3h0.9m-14.6-17.2h0.9m29.6-6.1h0.9m13.5 12h0.9m-23.4 17.1h0.9m-4.6-12.8h0.9m-9.5 4.1h0.9m19.4-14.8h0.9m-1.5 19.7h0.9m-3.9-18.3h0.9m6.5 22.5h0.9m-23.4-34h0.9m-4.3 19.7h0.9m30.8 12.5h0.9m-10.6-19.6h0.9m0.3 6.8h0.9m-29.2-19h0.9m31.2 1.7h0.9m3 41.4h0.9m-20.1-33h0.9m-11.6 1.7h0.9m15.3 17.9h0.9m-19-14.2h0.9m0.8 15.8h0.9m24.9-21.3h0.9m-21.3 10.8h0.9m-24.4-7.5h0.9m29.7-9.2h0.9m0.3 15.4h0.9m-13.1 10.6h0.9m-7-6.5h0.9m10 7.1h0.9m-9.3-5.3h0.9m21.3 5.8h0.9m14.8-28.4h0.9m-27.6 4.7h0.9m15.8 26.1h0.9m-21.2-12h0.9m24.7-0.4h0.9m-23.8-19.7h0.9m-10.1 28.2h0.9m-12.8-7.6h0.9m25.7-3.2h0.9m8.3-7.9h0.9m8.5 3.4h0.9m-6.8-1.6h0.9m-12.9 2.7h0.9m21.7-7.6h0.9m-37.7 26.8h0.9m22-16.1h0.9m-17.8-13.3h0.9m-1.2 17.5h0.9m22.6 6.2h0.9m3.1-5.9h0.9m-35.3-7.8h0.9m34.8 4.9h0.9m-2.8-18.1h0.9m-31.2 8.4h0.9m11 0.1h0.9m-26.1 7.6h0.9m-16.3-5.5h0.9m42.4-6h0.9m-8.6 2.9h0.9m-5.5 12h0.9m12 2.1h0.9m-20.4 11.7h0.9m16.4-23.3h0.9m15.3 2.7h0.9m9.1 13.4h0.9m-33.9-14.3h0.9m-12.6-3.2h0.9m8.1 23h0.9m6.4-15.4h0.9m3.1-2.5h0.9m-27.9-12.7h0.9m42.2 13.1h0.9m2 23.6h0.9m-22.1-12.2h0.9m-11.2-9.8h0.9m6.2 1.4h0.9m22.1-1h0.9m-10.7 2.4h0.9m-5.3 18.6h0.9m-36-7.2h0.9m14-10.6h0.9m3.7-7.3h0.9m-17.4-23.9h0.9m55.8 38.6h0.9m-39.4-29.8h0.9m13.9 37.6h0.9m-4.8-36.1h0.9m-16.4 21.7h0.9m6.4 9.3h0.9m-15.5-19.3h0.9m-25.8 19.5h0.9m50.1-17.2h0.9m-40.7 14.3h0.9m5.3-23.7h0.9m-9.4-1.6h0.9m15.1 3.6h0.9m32.6 19.9h0.9m-17.7-14.2h0.9m-2.9-8.4h0.9m6.3 4.3h0.9m-15.8 14.1h0.9m-7-19.2h0.9m30.4-3.8h0.9m-38.9 6.2h0.9m8.2 11.4h0.9m34.3 14.8h0.9m-9.5-14.2h0.9m-11.9-5.2h0.9m-32.3 10.1h0.9m44.7-0.6h0.9m-19.2 6.3h0.9m4.8 2.9h0.9m-13.2-32.6h0.9m14.3 30h0.9m-22-7.3h0.9m24.1-33.2h0.9m27.9 39.3h0.9m-45.1-21.7h0.9m-23.9 50.4h0.9m20-29.6h0.9m-6.5-11.5h0.9m21.1-6.9h0.9m-13.2 8.3h0.9m8.5 11.9h0.9m-12 6.1h0.9m-5.9-20.1h0.9m8.5 1.4h0.9m10.8-29.2h0.9m-43.6 7.6h0.9m52.3 33.8h0.9m-36.1-4.9h0.9m-18.9-7.8h0.9m53.6 10.8h0.9m10.1-12.9h0.9m-17.4 6.8h0.9m-14.9 1.7h0.9m6.7 12.1h0.9m-12.7-10.7h0.9m-3.6-1h0.9m-12.8 8.1h0.9m24.5-7.6h0.9m-12.9-11.2h0.9m-16.5-5.1h0.9m1.7 23h0.9m19.6-26.5h0.9m-24.4 31.2h0.9m43.5-5.5h0.9m6.6-17.3h0.9m-29 0.7h0.9m29.1 12.1h0.9m-30.9-0.6h0.9m-19.5-4.8h0.9m-27.6-4.3h0.9m20.6 13.9h0.9m38.5-5.8h0.9m-40.5-15.4h0.9m28.8 9.4h0.9m-17.7-9.1h0.9m7.6 14.5h0.9m8.5-12.9h0.9m-14.8-5.4h0.9m3.4 16.1h0.9m-10.9 10.1h0.9m-16 7.4h0.9m27.4-11h0.9m-3.1-14.4h0.9m-15 18.7h0.9m8.3-7.2h0.9m-6.4 6h0.9m15.9-24.1h0.9m21 26.3h0.9m-19.8-8h0.9m-15.8 6h0.9m43.4-10.7h0.9m-62.6 0.7h0.9m18.7 11.1h0.9m-22.7-15.8h0.9m14.3 16h0.9m23-8.8h0.9m-1.6-1h0.9m-17.1-27h0.9m-17.7 13h0.9m21.6 13.5h0.9m-26.6-0.5h0.9m14.9 3.9h0.9m-8.1-12.5h0.9m28.7 5.1h0.9m-4.4-7h0.9m-21.6 6.2h0.9m-13.4 11.7h0.9m-7.2-5.4h0.9m-14.1 5h0.9m35.4 4.9h0.9m31.9-20.3h0.9m-34.3-6.8h0.9m-8.7 15.1h0.9m7.3 8.1h0.9m6.8 2.1h0.9m-20.5-9.3h0.9m-6.9-3.5h0.9m17.1-3.3h0.9m-8.4-13.9h0.9m-5.1 12.3h0.9m13.6 11.8h0.9m-11.9-6.7h0.9m12.2-8.4h0.9m10 32.6h0.9m-11.4-28h0.9m-3.5 18.3h0.9m16.5-27.9h0.9m-16.6 6.9h0.9m-13.5 11.1h0.9m15.2-6.2h0.9m-23.8 0.9h0.9m-3.9 21.6h0.9m-9.6-12.7h0.9m26.6-6.6h0.9m-19.9-5.5h0.9m10.7-0.6h0.9m0.6 7.2h0.9m-4.2 3.6h0.9m18.4-10.8h0.9m-0.8 6.6h0.9m-22.3 4.5h0.9m26.6-8.7h0.9m-49.2 12.1h0.9m45.5-20.9h0.9m-19.5 17.4h0.9m-37.7 3.5h0.9m49.9 0.3h0.9m11.7-20.6h0.9m-9.9 36.7h0.9m-53.6-29.3h0.9m47.7-3.9h0.9m-42.6 11.5h0.9m32-11.6h0.9m0.3 18.2h0.9m11.6-5.5h0.9m-37.9-8.1h0.9m-18.1-8.4h0.9m39.3 17.8h0.9m-4-6.2h0.9m-32.8-14.1h0.9m12.3 7.6h0.9m8.3 30.8h0.9m25.5-35.6h0.9m-28.6 5.2h0.9m0.4 0.3h0.9m-24.9 18.8h0.9m44-5.9h0.9m-10.4-2h0.9m-8.6-27.1h0.9m7 22.2h0.9m-24.7-25.2h0.9m39.7 13.6h0.9m-23.2 3.6h0.9m30.4-8.9h0.9m-11.4-11.6h0.9m-3.1 22.7h0.9m-53.4 6.1h0.9m35.1-18.6h0.9m6.2 17.6h0.9m1.2-15.3h0.9m-21.3 4.8h0.9m13.5 4.9h0.9m-19.5 21.3h0.9m6.9-3.2h0.9m21.7-20.2h0.9m-45.2 10.3h0.9m40.8 10.8h0.9m-5.6-8.2h0.9m-17.9-12.9h0.9m63 20.8h0.9m-76.3-9.4h0.9m28.8-23.3h0.9m-13.3 26.3h0.9m31.5 11.8h0.9m-34.3-21.7h0.9m-2.8 6.2h0.9m21.1-14.2h0.9m-18.1 5.1h0.9m-10.8 0.8h0.9m42.4 25.3h0.9m-6.9-38.1h0.9m-20.2 45.4h0.9m1-34.8h0.9m2.1 5.1h0.9m-17.5 5.7h0.9m13.7-4.7h0.9m-9.2-9.6h0.9m-1.3 19.5h0.9m1.4-10h0.9m-26.5 14.6h0.9m3.8-5h0.9m12.5 1.4h0.9m22.5-12.5h0.9m-34.6-6.8h0.9m20.3 32.5h0.9m5.3-23.7h0.9m10.6-0.6h0.9m-9.1 6.3h0.9m-47.5 6.7h0.9m60.7-14.7h0.9m-17.4 9.7h0.9m-18.1-10h0.9m20.1-3h0.9m-26.4 16.7h0.9m23.5 8h0.9m-26-32.4h0.9m26.9-2.3h0.9m-25.9 14.8h0.9m34.6 2.8h0.9m-49.6-0.6h0.9m41.4-20h0.9m-45 31.8h0.9m23.1-22.9h0.9m-6.4 12.2h0.9m-16.6-7.2h0.9m42.4 9.9h0.9m-6.5-3.9h0.9m-28.8 3.8h0.9m-6.8 0.7h0.9m9.2-7.4h0.9m-0.2-7.3h0.9m26.3-6.3h0.9m-20 2.7h0.9m10.5 11.7h0.9m-12.9 7.7h0.9m2-3.1h0.9m-0.8 1.8h0.9m-14.6-7.2h0.9m2.8-4.7h0.9m-5.9 22.7h0.9m-15.8 4.1h0.9m14.3-11.9h0.9m7.8-8.9h0.9m8.3 20.9h0.9m-12.1-19.3h0.9m-7.8 23h0.9m27.4-10.1h0.9m-19.8-33.5h0.9m6.5 1.2h0.9m-19.2 30.6h0.9m-0.1-18.4h0.9m-26.5 15.6h0.9m41.2-13.4h0.9m-1.8-12.5h0.9m-22.3 20.1h0.9m29-2.5h0.9m-35.8-5.2h0.9m37.9-1.1h0.9m-15.2 11.4h0.9m-14.1-4.5h0.9m-21.5-6.7h0.9m29.3 13.4h0.9m20-12.3h0.9m-14.6 3.9h0.9m-21.7-7.3h0.9m11.1 8.7h0.9m-12.3 30.4h0.9m11-23.1h0.9m-4.8 23.6h0.9m-33.3-34.9h0.9m38.9 17.1h0.9m-4.8-24.2h0.9m25.8 18.3h0.9m-31-10.1h0.9m-0.8 4.5h0.9m-25-0.2h0.9m17.3 3.9h0.9m14.5-17.1h0.9m15.9 20h0.9m-38-20h0.9m2.7 15.5h0.9m31.1-13.8h0.9m-34.4 15.7h0.9m11-6.4h0.9m-2.1-3h0.9m29.8 14.4h0.9m-35 3.1h0.9m35.5-8.7h0.9m-26.9-10.6h0.9m-3.9 7.8h0.9m18.5-12.8h0.9m-49 4.8h0.9m31.8-16.6h0.9m-10.3 13.2h0.9m-16 10.5h0.9m36.6-16.5h0.9m-16.2 13.1h0.9m6 1.9h0.9m-22 9.7h0.9m16.5-21.1h0.9m-40.8 3.5h0.9m35.2 16.3h0.9m-13.6-12.8h0.9m-21.2-0.8h0.9m30.6-1.4h0.9m-4.4-4.4h0.9m-14.1 13.8h0.9m-11.6-2.8h0.9m44.1-6.5h0.9m-28.6-2.9h0.9m-14.1 2.7h0.9m-0.5 3.9h0.9m10.9-10h0.9m8.5 23.4h0.9m11.5-14.1h0.9m-14.3-8.5h0.9m-4.6 18.7h0.9m15.5 7.6h0.9m-38 2.3h0.9m30-0.1h0.9m-7.1-3.6h0.9m-1.4-25.1h0.9m4.7 6.1h0.9m-6.8 11.2h0.9m12.4 1.4h0.9m2.2-24.2h0.9m2.3 7.9h0.9m-18.4 4.7h0.9m-21.2 14.2h0.9m1.3-15.8h0.9m39.6-18.7h0.9m-52.3 35.3h0.9m19.9-1.9h0.9m5.7-13.9h0.9m10.7-2.5h0.9m-21.4 10.3h0.9m-9.8-18.3h0.9m-10 26.1h0.9m57.7 2.7h0.9m-42.9-18.7h0.9m-6.6 5.7h0.9m32.3-0.8h0.9m-18.2-34.8h0.9m4.4 22.4h0.9m-10 17.2h0.9m5.2 4.2h0.9m22.4-33.2h0.9m-51.5 43.4h0.9m32.6-26.2h0.9m-13.2 8.1h0.9m20.8-3.6h0.9m-18.2-11.2h0.9m23.3 19.8h0.9m-32.7-19.8h0.9m6.5 24.6h0.9m37.4 11.5h0.9m-44.9-25.8h0.9m-10.8 9.7h0.9m2.8 1.3h0.9m16.9-1.7h0.9m-22.2 8.2h0.9m11.9-26.2h0.9m1.8 15.4h0.9m0.7 8.6h0.9m18 14.8h0.9m-22.3-11.8h0.9m0.4 0.7h0.9m-4.4-8.1h0.9m13.4-12.8h0.9m-20.7-25.4h0.9m17.7 30.5h0.9m-13.8 15.3h0.9m8.6-11h0.9m-37.9-0.8h0.9m25.5 9.2h0.9m-4.3-24.6h0.9m3.6 34.2h0.9m-11.5-6.3h0.9m10.7-36.9h0.9m12.2 48.9h0.9m-3.7-38.2h0.9m-12 2.1h0.9m50.2 16h0.9m-87.7 3.1h0.9m45.9-20.7h0.9m-18.5 10.6h0.9m37.8-5h0.9m-42.1 16.5h0.9m1.2-22.3h0.9m7.3 20.8h0.9m3.9-13.3h0.9m20.5 19.7h0.9m-51.4-28.5h0.9m10.4 10.5h0.9m17.2 1.6h0.9m-2.5 5.9h0.9m-23.4-29.4h0.9m25.3 38.3h0.9m-2.6-18.5h0.9m5.2 1h0.9m-31.7-0.7h0.9m33.3 7.9h0.9m-2.2-9.1h0.9m-3 21.4h0.9m-15.5-21.4h0.9m24.9 6.7h0.9m-40.6-5.8h0.9m40.2 8.7h0.9m8.3 3.1h0.9m-27.5 4.7h0.9m-15.2 0.1h0.9m7.8-14.6h0.9m7.1-2.4h0.9m-26.1-4.8h0.9m26.3 13.3h0.9m-8.1 4.7h0.9m-16.9-12.5h0.9m40.7-6h0.9m-6.7 7.6h0.9m-13.3 5.6h0.9m-13.8-1.4h0.9m19.1-9h0.9m-32.3 17.3h0.9m8.2-11.4h0.9m2.6-2.8h0.9m-27.5 3.6h0.9m21.2-13.9h0.9m-2.6 17.6h0.9m36.8-8.6h0.9m-7.3 0.9h0.9m-15.3 2.3h0.9m3.8 4.3h0.9m-19.6-18.6h0.9m21.7 0.5h0.9m-27.1 36.1h0.9m13.1-18.6h0.9m-2.8 1.8h0.9m-8.6 1.1h0.9m2.1-7.4h0.9m9.5 10.6h0.9m-2.8 3.5h0.9m23.9 8.5h0.9m-29.8-31h0.9m16.2 13.4h0.9m-6.9-5.2h0.9m0.4-8.3h0.9m-12-2.6h0.9m29.3 12.1h0.9m-68.1 16.9h0.9m49.3 1.1h0.9m-35.2-11h0.9m39.1-6.1h0.9m-16-0.3h0.9m-12.3 17.5h0.9m-8.5-14.7h0.9m21.2 0.1h0.9m3.4-22.2h0.9m4 8.7h0.9m-23 9.3h0.9m10.3 1.7h0.9m-15.5 9.6h0.9m39.6-14.2h0.9m-45.2 0.2h0.9m-10-6.9h0.9m11.2 21.1h0.9m-1.5-16.8h0.9m5.6 0.3h0.9m44.8 25.5h0.9m-44.4-35.3h0.9m-10.5 8.4h0.9m-6.2-13.8h0.9m4.9 17.3h0.9m-3.3-7.6h0.9m15.9 4.7h0.9m-43.5-2h0.9m48.7 24.3h0.9m-32.4-14.9h0.9m26.5 11.8h0.9m-17.5-6.8h0.9m-0.4-22.9h0.9m21 18.9h0.9m-9-1.5h0.9m-21.9-3.1h0.9m18.7-8.5h0.9m18.6 38.6h0.9m-62.7-14.8h0.9m28.9-3.3h0.9m9.2-8.7h0.9m10.7 3.1h0.9m8.5 2.5h0.9m-48.2-5.3h0.9m22.5-4.4h0.9m-20.7 27.6h0.9m17.7-21.7h0.9m-26 6.4h0.9m23.6 5.9h0.9m28.3-18.9h0.9m-39.9 19.6h0.9m28.2-9.2h0.9m-6.5-6.8h0.9m-13.1 3.4h0.9m-34.9 8h0.9m46.1-18h0.9m-22.3 13.3h0.9m19.6-3.1h0.9m-19.9 4.4h0.9m8.4-15.4h0.9m-8 6.8h0.9m15-10.2h0.9m-24.7 10h0.9m12.6 29.9h0.9m-4.2-14.3h0.9m14.5 2.6h0.9m14.4-7.8h0.9m-44.3-10h0.9m38.8 27.1h0.9m-4.5 2.7h0.9m-10.3-35h0.9m-10.4 12.2h0.9m12.4 6.1h0.9m-30 3.5h0.9m4.2-9.7h0.9m18.7 4.5h0.9m-3.1-13.5h0.9m-11.4 16.1h0.9m-6.2-22.9h0.9m-34.5 12.9h0.9m25.6-0.2h0.9m-3.7-4.8h0.9m10.4 15.1h0.9m-9.2-23.3h0.9m15.1 21.9h0.9m-17.5-3.4h0.9m14.1-0.2h0.9m-31.2-4.4h0.9m25 1.2h0.9m-7.8-3.5h0.9m-25.3 1h0.9m56.6 2.4h0.9m-21.9 1.6h0.9m20.9-11.2h0.9m-47.7-4.7h0.9m12 13.1h0.9m23.4-9h0.9m-30.7 17.7h0.9m32.9-18.1h0.9m-6 6.4h0.9m-21.2 0.6h0.9m-6.9-17.3h0.9m-10 10.3h0.9m26.9 12.6h0.9m8.3-13h0.9m-15.4-7.1h0.9m-16.5 27h0.9m12.9 9.4h0.9m12.4-25.8h0.9m-23.4-17.6h0.9m31.9 33.6h0.9m36.4 11.9h0.9m-54.2-34.2h0.9m-35.2 7.2h0.9m27.5-11.9h0.9m11 26.9h0.9m-28.4-13.5h0.9m-7.9 13.9h0.9m7.5-23.7h0.9m-18.5 1.2h0.9m2.9 23h0.9m37.9-25.3h0.9m-25.9 12.7h0.9m15.5-10.9h0.9m19.5 18.8h0.9m10.1-37.8h0.9m-60.2 38.8h0.9m28.9-11.2h0.9m-23.6 8.8h0.9m9.6 9.5h0.9m25.9-4.9h0.9m-49.6-6.6h0.9m58.6 16.9h0.9m-9.3-7.8h0.9m-34.2 3.7h0.9m42.9-11.6h0.9m-23.4-6.3h0.9m-6.3-1.8h0.9m3.9 1.5h0.9m-34-5h0.9m31 9.2h0.9m16.5 8.4h0.9m-3.6-11.3h0.9m-4.6-7.3h0.9m-29.8 17.9h0.9m14.3-18.8h0.9m10.9 25h0.9m-4-1.6h0.9m1.8-4.3h0.9m-29.7-31.1h0.9m6.8-15.4h0.9m-4.5 23.7h0.9m10.2 4.5h0.9m-2.8-2.1h0.9m-5.2 26.7h0.9m-13.8-36.2h0.9m39.7 28.1h0.9m-25-13.1h0.9m4.8 0.4h0.9m10.1 0.7h0.9m-27.4 9.5h0.9m-3.8 0.1h0.9m-7.2-12.3h0.9m21.7-1.8h0.9m12.4 6.9h0.9m-13.7-21h0.9m4.9 22.9h0.9m-43.1 1.9h0.9m37.5-10.8h0.9m-24.6-7.8h0.9m17.7 16.1h0.9m-4.9 22.2h0.9m2.2-20.8h0.9m-26.8 1.6h0.9m40.8-13.3h0.9m18.4 3.6h0.9m-33.2 2.2h0.9m-9.8-27.9h0.9m19.8 7.5h0.9m5.5 12.1h0.9m-30.3 40.4h0.9m-8.2-30.5h0.9m-5.6 0.4h0.9m26.6 19.6h0.9m2.2-7.5h0.9m-23.6-9.1h0.9m42.9 3.2h0.9m3.3-17.6h0.9m-47.8 13.9h0.9m-6.1 6.8h0.9m-2.5-3.4h0.9m-7.2-13.3h0.9m28.2 16.2h0.9m-21.1-23.5h0.9m24.3 5.6h0.9m-3.5 25.7h0.9m3.3-31.4h0.9m8.9 29.4h0.9m-31.3-17.2h0.9m32.6 8.3h0.9m-17.4 8.7h0.9m1 19.3h0.9m13.3-29.7h0.9m-21.9-5h0.9m17.3-10h0.9m-6.3 6.8h0.9m-46.2 17.6h0.9m36.9-7.8h0.9m-13.2-3.4h0.9m-6.3 15.2h0.9m32.4-15.5h0.9m-23.4 3.8h0.9m14-0.6h0.9m-23.5-5.2h0.9m11.4 1h0.9m-12 15.4h0.9m12.6-3.5h0.9m-22.6-0.9h0.9m14.3-12.1h0.9m-12.6-4.3h0.9m2.6 8.5h0.9m5.5 21.1h0.9m8.5-19.7h0.9m-10.3-11.6h0.9m-12.9 12.9h0.9m-12.7 14.1h0.9m50.4-34.6h0.9m-6.8 28.8h0.9m-2.2-4.7h0.9m7.6-16.6h0.9m-35.8 15.8h0.9m7.6-22.7h0.9m11.9 27.4h0.9m-18.1-7.2h0.9m18.5-27.7h0.9m-26 13.8h0.9m6-4.2h0.9m-19.6 16.3h0.9m50.5-16.2h0.9m-4.6 24.5h0.9m-10.8 4h0.9m-24.6-2.1h0.9m-18.9-21.5h0.9m29.6 17.5h0.9m-29.2-29.8h0.9m28.8 24.5h0.9m3.8-4.1h0.9m-34.1 13.4h0.9m33.6-10.7h0.9m22.4 0.8h0.9m-12-4.2h0.9m-6.4-17.5h0.9m-8.4 16h0.9m2.2 7.2h0.9m-32.5 2.3h0.9m15 3.6h0.9m32-12.2h0.9m-6 1.1h0.9m-17.9 3.2h0.9m-22.1-0.6h0.9m2.8 4.9h0.9m-11-17.1h0.9m31.1 16.7h0.9m-5.9 0.4h0.9m7-1h0.9m-3-14h0.9m-7.6 0.5h0.9m-29.9 5.7h0.9m30.4 2.7h0.9m17.9 7.4h0.9m-23.4-6.3h0.9m-30.2-0.7h0.9m21.8 18.9h0.9m-14.4-20.8h0.9m0.2 3h0.9m-17.6 1.7h0.9m28-1.3h0.9m42.5-3h0.9m-36.5 0.7h0.9m9.1 25.2h0.9m9.2-21.2h0.9m-50.1 1.1h0.9m-7.3-14.7h0.9m16.8-2.6h0.9m8.9 8.4h0.9m-13.3 8.2h0.9m-0.8 10.2h0.9m21.9-19.3h0.9m-4.2-2.7h0.9m-18.7 19h0.9m-17-6.3h0.9m57.6-30h0.9m7.1 3.2h0.9m-78.3-2.1h0.9m17 17h0.9m-13.3 4.4h0.9m44.4-6.5h0.9m-12.5 15.6h0.9m26.1-7.9h0.9m-17.9 6.8h0.9m-12-9.7h0.9m4.3 11.7h0.9m-29.1-12h0.9m26.9 7.5h0.9m-1.1 15.1h0.9m11.2-32.6h0.9m8 6.2h0.9m-41.4 20.2h0.9m7.5-31.4h0.9m15 24.2h0.9m-2.2-21h0.9m3.5 8.9h0.9m0.7-7.1h0.9m-32.2-8.2h0.9m2.1 34.3h0.9m16.2-18.5h0.9m18.2 8.8h0.9m-11 1.5h0.9m-15.6-2.3h0.9m8.1 11.3h0.9m1.9-2.8h0.9m-29.8-31.4h0.9m23.2 23.1h0.9m1.1-13.2h0.9m-5.9-0.7h0.9m-1.9 11.2h0.9m-5.3 4.4h0.9m-6.3-3.8h0.9m19.2 17.4h0.9m-5.8-7.9h0.9m2.1 9.7h0.9m24.6-26.2h0.9m-24.6 10.7h0.9m14.2-31.2h0.9m-38.5 8.1h0.9m33.2 22.8h0.9m-12.9 1.5h0.9m-7.4 0.1h0.9m-12.6-27.9h0.9m11.6 22.5h0.9m-15.9-6.2h0.9m30.6-1.5h0.9m-40.7 15.9h0.9m41.6-22.2h0.9m-42.3 2.7h0.9m22.2 18.3h0.9m16.4-7h0.9m-28.9-6.2h0.9m22.3 0.1h0.9m-33.9 4.1h0.9m12.6 7.1h0.9m-11 15.3h0.9m42-32.6h0.9m-30.8 1.4h0.9m-8.1-2.6h0.9m-0.9 17h0.9m6.7-18.2h0.9m-37.6-5.8h0.9m53.5 18.9h0.9m-20.3 18.5h0.9m-19-11.7h0.9m4.6-2.6h0.9m-21.2-6.7h0.9m29.6 5.8h0.9m-23.9-4.1h0.9m38.2 1.8h0.9m-1.4 8.5h0.9m-11.2-11.7h0.9m-3.8-6.4h0.9m9.1 14.3h0.9m7.9 21.9h0.9m-6.6-19.1h0.9m-12 3.2h0.9m19.2-12.9h0.9m-45.6-12.2h0.9m37.3 20.7h0.9m-8.7-24.3h0.9m-19.4 1.4h0.9m-10.7 11.2h0.9m6.8 24.4h0.9m-10.8-25h0.9m7.9 7.8h0.9m24.1-9.9h0.9m-41.4 4.3h0.9m34-7.5h0.9m8.7 0.7h0.9m-28.2 6.5h0.9" stroke="#000" stroke-width="0.9" fill="none"/>
<path d="M878 349.8L878.4 353.8L877.9 357.7L876.6 361.4L874.4 364.8L871.4 367.6L867.7 369.9L863.5 371.5L858.8 372.5L853.8 372.9L848.7 372.8L843.7 372.3L838.9 371.4L834.5 370.2L830.6 368.8L827.4 367.2L824.9 365.5L823.1 363.7L822.3 361.7L822.2 359.5L823.1 357.1L824.7 354.5L827 351.8L830 348.9L833.5 346.1L837.5 343.3L841.9 340.7L846.5 338.6L851.2 336.9L855.9 335.9L860.4 335.7L864.7 336.2L868.6 337.6L872 339.8L874.7 342.6L876.8 346Z" fill="#fff" fill-opacity="0.55" stroke="#000" stroke-width="1"/><path d="M876.2 350.2L876.6 353.8L876.1 357.4L874.9 360.7L872.9 363.8L870.2 366.3L866.9 368.4L863 369.9L858.8 370.8L854.3 371.1L849.7 371L845.1 370.5L840.8 369.7L836.8 368.6L833.3 367.4L830.3 366L828.1 364.4L826.5 362.8L825.7 360.9L825.7 359L826.4 356.8L827.9 354.5L830 352L832.7 349.4L835.9 346.8L839.6 344.3L843.5 342L847.7 340L851.9 338.5L856.2 337.6L860.3 337.4L864.2 337.9L867.7 339.2L870.7 341.1L873.2 343.7L875.1 346.8Z" fill="none" stroke="#000" stroke-width="1"/><path d="M874.1 350.7L874.4 353.9L874 357.1L872.9 360.1L871.2 362.8L868.7 365.1L865.7 366.9L862.3 368.3L858.5 369.1L854.5 369.4L850.3 369.3L846.3 368.9L842.4 368.1L838.8 367.2L835.7 366L833 364.8L831 363.4L829.6 361.9L828.9 360.3L828.9 358.5L829.5 356.6L830.8 354.5L832.7 352.2L835.1 349.9L838 347.6L841.3 345.4L844.8 343.3L848.5 341.5L852.4 340.2L856.2 339.4L859.8 339.2L863.3 339.6L866.5 340.8L869.2 342.5L871.4 344.8L873.1 347.6Z" fill="#070707"/><path d="M872.9 350.9L873.2 353.7L872.9 356.6L871.9 359.2L870.3 361.6L868.2 363.7L865.5 365.3L862.5 366.5L859.1 367.2L855.6 367.5L851.9 367.4L848.3 367L844.9 366.3L841.8 365.5L839 364.5L836.7 363.4L834.9 362.2L833.6 360.8L833 359.4L833 357.8L833.6 356.1L834.7 354.3L836.4 352.3L838.5 350.3L841.1 348.2L843.9 346.2L847.1 344.4L850.4 342.8L853.7 341.7L857.1 341L860.3 340.8L863.4 341.2L866.2 342.2L868.6 343.7L870.6 345.8L872 348.2Z" fill="none" stroke="#fff" stroke-width="0.45" stroke-opacity="0.75"/><path d="M871.1 351.3L871.3 353.8L871 356.2L870.2 358.5L868.8 360.6L867 362.4L864.7 363.8L862 364.8L859.1 365.4L856 365.7L852.9 365.6L849.8 365.2L846.8 364.7L844 363.9L841.6 363.1L839.6 362.1L838 361.1L837 359.9L836.4 358.7L836.4 357.3L836.9 355.8L837.9 354.2L839.4 352.5L841.2 350.7L843.4 349L845.9 347.2L848.6 345.7L851.5 344.3L854.4 343.3L857.3 342.7L860.2 342.5L862.8 342.9L865.2 343.7L867.3 345.1L869 346.8L870.3 349Z" fill="none" stroke="#fff" stroke-width="0.45" stroke-opacity="0.75"/><path d="M869.2 351.7L869.4 353.8L869.2 355.9L868.5 357.8L867.3 359.6L865.7 361.1L863.8 362.3L861.6 363.1L859.1 363.6L856.5 363.9L853.8 363.8L851.2 363.5L848.6 363L846.3 362.4L844.3 361.7L842.6 360.9L841.2 360L840.3 359L839.9 357.9L839.9 356.8L840.3 355.5L841.1 354.2L842.4 352.7L843.9 351.2L845.8 349.7L847.9 348.3L850.2 346.9L852.6 345.8L855.1 344.9L857.6 344.4L860 344.2L862.2 344.5L864.3 345.3L866 346.4L867.5 347.9L868.6 349.7Z" fill="none" stroke="#fff" stroke-width="0.45" stroke-opacity="0.75"/><path d="M867.4 352.1L867.5 353.8L867.3 355.5L866.8 357.1L865.8 358.6L864.5 359.8L862.9 360.8L861.1 361.5L859.1 361.9L856.9 362.1L854.7 362L852.6 361.8L850.5 361.4L848.6 360.9L846.9 360.3L845.5 359.6L844.4 358.9L843.7 358.1L843.3 357.2L843.3 356.3L843.7 355.2L844.3 354.1L845.3 352.9L846.6 351.7L848.2 350.5L849.9 349.3L851.8 348.2L853.8 347.2L855.8 346.5L857.8 346.1L859.8 346L861.6 346.2L863.3 346.8L864.8 347.8L866 349L866.8 350.5Z" fill="none" stroke="#fff" stroke-width="0.45" stroke-opacity="0.75"/><path d="M865.5 352.5L865.7 353.8L865.5 355.1L865 356.4L864.3 357.5L863.3 358.5L862.1 359.2L860.6 359.8L859 360.1L857.4 360.3L855.7 360.2L854 360L852.3 359.7L850.9 359.3L849.6 358.9L848.5 358.3L847.6 357.8L847 357.2L846.7 356.5L846.7 355.7L847 354.9L847.5 354.1L848.3 353.1L849.3 352.2L850.5 351.2L851.9 350.3L853.4 349.4L854.9 348.7L856.5 348.1L858.1 347.8L859.6 347.7L861 347.9L862.4 348.4L863.5 349.1L864.4 350.1L865.1 351.2Z" fill="none" stroke="#fff" stroke-width="0.45" stroke-opacity="0.75"/><path d="M863.7 352.9L863.8 353.8L863.7 354.8L863.3 355.7L862.8 356.5L862.1 357.2L861.2 357.7L860.2 358.1L859 358.4L857.8 358.5L856.6 358.4L855.4 358.3L854.2 358.1L853.1 357.8L852.2 357.5L851.4 357.1L850.8 356.7L850.4 356.2L850.2 355.7L850.2 355.2L850.4 354.6L850.8 354L851.3 353.3L852 352.7L852.9 352L853.9 351.3L854.9 350.7L856 350.1L857.2 349.7L858.3 349.5L859.4 349.4L860.5 349.6L861.4 349.9L862.2 350.4L862.9 351.1L863.4 352Z" fill="none" stroke="#fff" stroke-width="0.45" stroke-opacity="0.75"/><ellipse cx="851.7" cy="354.8" rx="1.6" ry="1" fill="#fff"/>
<path d="M935.1 369.8h0.8m-21.5-18.4h0.8m-20.4 3.2h0.8m35.4 20.5h0.8m-20.2-20.5h0.8m-26.2 2.5h0.8m29.6 10.4h0.8m-2.5-12.9h0.8m0.7 5.6h0.8m4.1 4.2h0.8m-2.2 0.8h0.8m-17.3 8.6h0.8m-8.3-5.2h0.8m7.1-10.5h0.8m8.7-1.6h0.8m-18-4.2h0.8m-2.2 9.8h0.8m18.4-1.2h0.8m-25.7 2.3h0.8m32.4-13h0.8m-25.3 20.9h0.8m8.9 1.7h0.8m-3-25.6h0.8m3.2 14.1h0.8m3.6-8.1h0.8m-10.8 29.4h0.8m-2.1-4.6h0.8m-8.3-13.8h0.8m19 6.5h0.8m-5.8-15.5h0.8m0.7-8.5h0.8m-35.2-0.6h0.8m53 24.2h0.8m2.8-3.5h0.8m-44.6-15.1h0.8m22.7 1.6h0.8m-17.5-2.5h0.8m1.7-8.4h0.8m14.9 12.1h0.8m10.3 24.1h0.8m-18.4-6.2h0.8m14.6-8.5h0.8m-17.7 10.9h0.8m10.3-14.8h0.8m-16.1 1.8h0.8m18.1 7h0.8m-20.9-8.5h0.8m9.2-2.6h0.8m-4.2-5.8h0.8m-10.2 12.8h0.8m12.9-6h0.8m24.6 1.4h0.8m-20.1 4.5h0.8m-16.2 4.1h0.8m19.8-6.7h0.8m-8.6 28.5h0.8m-18.9-30.7h0.8m18.2 2.1h0.8m-18.9-4.9h0.8m6.8 2.1h0.8m3 18.8h0.8m1.4-19.8h0.8m5.3 10.3h0.8m-23.7-12.6h0.8m-1.2 9.5h0.8m24.8-5.6h0.8m4-3.5h0.8m-21 5.1h0.8m5.7 17.3h0.8m-17.6-11h0.8m14.7 6.2h0.8m-19.2-23.4h0.8m38.8 24.2h0.8m-9-13.9h0.8m-1 1.4h0.8m-28.8-1.5h0.8m9.9-9h0.8m-4.8 3.4h0.8m13.5 16.7h0.8m6.9 1.2h0.8m-29.2-5.2h0.8m23.6-1.6h0.8m-23.6-33.3h0.8m13.5 20.8h0.8m8.8-6.4h0.8m-5.4 10.4h0.8m-25.1-0.2h0.8m14.5 12.8h0.8m11.5 4.1h0.8m-1.4-17h0.8m-16.3 6.2h0.8m0.4-18.1h0.8m-23.1 24.1h0.8m27.5 12.1h0.8m-9-9.3h0.8m7.8-5.5h0.8m-1.8 6.1h0.8m5-15.7h0.8m-8.9 2.4h0.8m1.6 4.5h0.8m-7.4-8h0.8m4.6-12h0.8m4.6 21.5h0.8m-46.4-14.7h0.8m39.3-11.6h0.8m5.1 32.4h0.8m-0.3-0.4h0.8m-8.3-0.9h0.8m9.6-9.8h0.8m-8.8-15.4h0.8m-19.5 26.7h0.8m30.3-18.3h0.8m-34.2-11.6h0.8m34.1 23.2h0.8m9 9.3h0.8m0.8-4.4h0.8m-34.5-11.7h0.8m20.9-10.9h0.8m-7.8 10.1h0.8m8.5-1.4h0.8m-27.1 15.2h0.8m-33.3 1h0.8m45-16.7h0.8m4.1 1.2h0.8m-1.3 5.8h0.8m0.9-10.5h0.8m-19.5 28h0.8m12-20.3h0.8m-16.6-3.4h0.8m14-6.9h0.8m-4.4 9.5h0.8m-25.8 2.7h0.8m40.7-4.5h0.8m-19.5 7h0.8m-5.9-20.1h0.8m7.4 13h0.8m-9.6 18.4h0.8m9.1-21.4h0.8m-11.2 23.5h0.8m18.7-33.8h0.8m-3.5 12.8h0.8m-16.3 16.3h0.8m16.2-19.8h0.8m-10.4 14.9h0.8m-2.1-2.2h0.8m-8.4 8.8h0.8m27.3-19.6h0.8m-38.3 1.9h0.8m29 6.8h0.8m-12.8-0.3h0.8m-19.4-2.2h0.8m17.2-5.9h0.8m10.9-0.3h0.8m-19.5 13.6h0.8m15.8-6.3h0.8m-6 3.2h0.8m0.6-13.7h0.8m5.7 30h0.8m-6.7-22.8h0.8m9.5 8.9h0.8m-25.9-7.2h0.8m1.5 11.2h0.8m-10.4 2.3h0.8m7.4-9.6h0.8m2.4 0.9h0.8m20 2.4h0.8m-31.8-8.9h0.8m16.9 21.5h0.8m-9.3-22.9h0.8m-4.2 3.5h0.8m17.9-9.4h0.8m8.9 22.6h0.8m-8.6-6.4h0.8m20.6-16.9h0.8m-39.9 32.3h0.8m-9.6-18.5h0.8m13-12.6h0.8m-11 7.3h0.8m15.1 7.1h0.8m3.4-4.3h0.8m-8.1 5.5h0.8m-9.5-19.5h0.8m18.4-7.6h0.8m-4.4 33.8h0.8m-24.4-35.3h0.8m4.3 25.5h0.8m-2.3 7.3h0.8m20.3-20.3h0.8m0.8-4.6h0.8m-16.8 16.8h0.8m22.5 5.7h0.8m1.5-22.6h0.8m21.6 5.7h0.8m-39.2 24.7h0.8m2.3-3.6h0.8m-23.6-23.5h0.8m9.4 5.6h0.8m6.5 2.4h0.8m-17.5 5.6h0.8m-4-9.3h0.8m21.8-2.1h0.8m-5.2 15.7h0.8m18.9 5.6h0.8m-8.6-7.2h0.8m-29-13.7h0.8m4.3 3.2h0.8m8.8-4.2h0.8m-4.7 20.9h0.8m-0.9-30.8h0.8m1.3 18.1h0.8m-1.9 23.1h0.8m16.2-4.5h0.8m-21.1-9.5h0.8m10.5-8.6h0.8m-15.1 3.1h0.8m-15.2 7.5h0.8m61.2 5.3h0.8m-64.9-13.1h0.8m16.8-8.1h0.8m5.5 18h0.8m12.3-20.3h0.8m-3 10h0.8m18.5-16.4h0.8m-29 5.3h0.8m0.3-10.9h0.8m-12.6 19.3h0.8m3.5-7.8h0.8m5.4 3.2h0.8m-11.3 3.2h0.8m11.6 5.7h0.8m-23.8-7.4h0.8m37.3-10.4h0.8m-14.5 9.6h0.8m11.7 17.2h0.8m-11.6-17.3h0.8m-24.9-0.3h0.8m8.9 5.7h0.8m30.4 18.7h0.8m-17-17.8h0.8m-6.5 1.7h0.8m-1.7 14.6h0.8m-7.9-16.4h0.8m0.9 8.3h0.8m30.7-2.8h0.8m-21.7-6h0.8m4.2-5.2h0.8m13.2 22.3h0.8m-9.1-9.4h0.8m-19.1 10.1h0.8m-13.4-25.4h0.8m44.6 3.1h0.8m-38.7-12.3h0.8m23.1 28.3h0.8m-11.4-28h0.8m-4.6 8.4h0.8m12 22.4h0.8m-6.7-10.3h0.8m13.5 12.7h0.8m-36.1-12.4h0.8m-0.6-12h0.8m29.1-3.5h0.8m-17.6 23.5h0.8m7.3-28.7h0.8m-8 14.1h0.8m-11.1 22.5h0.8m11.6-19.7h0.8m11.8 1.2h0.8m-31.1-1.6h0.8m21.8 1.6h0.8m7.4 7.1h0.8m-7.8-10.2h0.8m-6.8 20.8h0.8m-22.5-8h0.8m26.2-18h0.8m-6.7 12.9h0.8m-18.7-4.3h0.8m24.7-10.5h0.8m-6.5 22.7h0.8m0.1-22.3h0.8m-23.8-9h0.8m32.3 15.5h0.8m-14.7-0.1h0.8m-9 19.4h0.8m17.6-2.7h0.8m-25.2-8.7h0.8m23.1-17.1h0.8m-20.4 3.1h0.8m23.4 10.3h0.8m-23 4.7h0.8m-0.1-5.7h0.8m6.7-9.6h0.8m12.3 8.9h0.8m-42.2-2.4h0.8m47.7-20.2h0.8m-8.4 24.4h0.8m-28.1-2.5h0.8m0.3-14.9h0.8m18.7 17.8h0.8m-28.8-8h0.8m22.6-10.2h0.8m12.7 8.2h0.8m-9.6 13.6h0.8m-17.9-2.9h0.8m12.7 0.5h0.8m-7.9 5.6h0.8m14 5.6h0.8m3.7-28.5h0.8m-21.7 17.6h0.8m19.2-11.1h0.8m-13.4 9.9h0.8m-2.3 6.8h0.8m-12.1-4.8h0.8m1.7-0.8h0.8m-2.5-7h0.8m22.9-6.6h0.8m-11.7 15.7h0.8m-3.2-9h0.8m0.7-6h0.8m8.8 15.8h0.8m11.7-4.4h0.8m-9.1-7.6h0.8m-8.5-4.1h0.8m-3.9 5.9h0.8m8.3-16.8h0.8m-15.1 16.9h0.8m9.8-4h0.8m-14.7 19.3h0.8m-3.3-16.1h0.8m21.6-16.8h0.8m-10.1 23.9h0.8m-2.7-20.7h0.8m-22.1 9.3h0.8m6.4 14.6h0.8m4.4 7.3h0.8m4.5-7.8h0.8m-8.9-11.8h0.8m13.1 14.3h0.8m-14.6 4h0.8m4.5 2.7h0.8m-13.4-18.6h0.8m23.1 2.7h0.8m-16.3 7h0.8m18.4-10.2h0.8m-3-0.3h0.8m-20.6 16.7h0.8m2.1-17.3h0.8m16-4.8h0.8m-22.4 7h0.8m12.3 11.7h0.8m-4.3-15.5h0.8m-14.7 3.2h0.8m9.6 13.9h0.8m-15.4-28.1h0.8m-4 15h0.8m28.3 18.1h0.8m-26.9-14.3h0.8m11.9 14.3h0.8m11.4-1h0.8m-5.5-4.4h0.8m4-16.7h0.8m6.6 3.2h0.8m-41.3 2h0.8m12.2 6.2h0.8m34.3-2.2h0.8m-13.3-15h0.8m-17.9 6.3h0.8m34.2 1.6h0.8m-22.3-13.8h0.8m-10.7 19.1h0.8m3.8-4.1h0.8m6.5 7.6h0.8m-21.7-17.8h0.8m21.7 21h0.8m-25.3-1.3h0.8m-1.3-8.3h0.8m33.3-14.4h0.8m-17.2 13.9h0.8m-15.2 9.6h0.8m1.7-14.1h0.8m-2.9 10.9h0.8" stroke="#000" stroke-width="0.8" stroke-opacity="0.9" fill="none"/>
<path d="M916.5 375.3h0.8m-10.7-18.1h0.8m20.7 1.8h0.8m-10.9 18.4h0.8m0.6-28.4h0.8m-23.6 8.5h0.8m22.5 0.1h0.8m-1.7 8.2h0.8m-8.3-2h0.8m-12.2 11.5h0.8m10.1 1.1h0.8m-13.7-26.5h0.8m27.9 4.3h0.8m-16.9 6.6h0.8m-4.1 0.3h0.8m-12.6-7.2h0.8m15.4 4h0.8m18 6.6h0.8m-4.8-4.7h0.8m-8.3-1h0.8m-22.5 2.9h0.8m8.4 23.6h0.8m-14.9-27h0.8m24.6 4h0.8m-7.9 7.8h0.8m-4.3-12.4h0.8m-16.1 5.4h0.8m23 2.3h0.8m7-5.2h0.8m-12-3.5h0.8m-28.3 11.8h0.8m17.4 0.5h0.8m-2.7-18.2h0.8m-4.4 10.3h0.8m1.9 0.1h0.8m14.6 2.2h0.8m-1.8-1.1h0.8m-15.2-6.9h0.8m-19.7 13h0.8m40.3-13.1h0.8m-26.4 1.1h0.8m15.3 7.9h0.8m-8-1.2h0.8m-18.7-0.7h0.8m17.7 5.1h0.8m-7.4-8.4h0.8m10.7 26.7h0.8m-10.9-5.4h0.8m-4.8-16.4h0.8m-0.9 10.9h0.8m12.5-9.7h0.8m10.4 9.2h0.8m-21.8-8.7h0.8m1.3 7.5h0.8m-20.9 8.6h0.8m22.6-35.4h0.8m5.6 10.2h0.8m-3.9 8.1h0.8m12.1-16.3h0.8m-9.2 24.8h0.8m-21.9-3.4h0.8m25.6-10.6h0.8m-34.9 5.7h0.8m17.2 11.7h0.8m2.2-7.1h0.8m6.5-4.2h0.8m-20.6-7.7h0.8m15.9 5.4h0.8m-3.4 7.1h0.8m1.2-0.5h0.8m-0.3-2.8h0.8m-8.5-15.6h0.8m16.4 19.7h0.8m-3.4-14h0.8m4.9 7.6h0.8m-12.4-6.4h0.8m-9.1 0.3h0.8m9.9-0.5h0.8m-5.7 1.2h0.8m-16.4 5h0.8m16.8 0.2h0.8m-39.3 8h0.8m35.9-16.6h0.8m23.2 8.2h0.8m-15.4 0.8h0.8m-38.9 8.9h0.8m13.8-0.9h0.8m11.8-16.2h0.8m-29.7 3.2h0.8m17.2 4.2h0.8m-2 5.7h0.8m6.3-9.7h0.8m30.6 10.3h0.8m-33.6-3.5h0.8m-12.9-9.3h0.8m17.1 0h0.8m-11.1 11.5h0.8m4.2-12h0.8m-0.8 1.2h0.8m16.5 7.9h0.8m-29.3 8.7h0.8m31.3-13.5h0.8m-26.5 2.6h0.8m4.3 4.1h0.8m5.9 6.2h0.8m-20.5-15.6h0.8m22.8 1h0.8m-9.5-5.5h0.8m28.1 8.1h0.8m-15.9-5h0.8m-15.1 5.8h0.8m25.2 11.9h0.8m4.6 1.3h0.8m-8.1-14.3h0.8m-27.8 12.5h0.8m-1-6.3h0.8m0.4-13.1h0.8m7.6 1.3h0.8m-5.4 14.6h0.8m0.6 1h0.8m-3.9-5.4h0.8m-7.8 8h0.8m-13.4-8.5h0.8m31.2-23.8h0.8m-27.9 8.9h0.8m18.4 10.4h0.8m-4 7.2h0.8m31.4-13.4h0.8m-24.4 8.7h0.8m8.2-17.8h0.8m-34.2 8.6h0.8m5.8 10.8h0.8m6.7-18.5h0.8m-4.2 3.2h0.8m-1 11.7h0.8m-1.1 11.6h0.8m36.7-5.9h0.8m-47.7 7.6h0.8m44.1-13.3h0.8m-22 10.6h0.8m-3 1.3h0.8m3.6-15.4h0.8m-13.7 3h0.8m-3.2 12.8h0.8m11.6-12.4h0.8m5.2 2.3h0.8m2.1 12.7h0.8m-11.5-18.2h0.8m-17.5 19.4h0.8m18.5-19.5h0.8" stroke="#000" stroke-width="0.8" stroke-opacity="0.9" fill="none"/>
<ellipse cx="905.1" cy="363.8" rx="14" ry="12" fill="#fff" stroke="#000" stroke-width="0.8"/><ellipse cx="905.1" cy="363.8" rx="11.5" ry="9.8" fill="none" stroke="#000" stroke-width="0.8"/><ellipse cx="905.1" cy="363.8" rx="9.2" ry="7.9" fill="none" stroke="#000" stroke-width="0.8"/><ellipse cx="905.1" cy="363.8" rx="7.3" ry="6.2" fill="none" stroke="#000" stroke-width="0.8"/><ellipse cx="905.1" cy="363.8" rx="5.6" ry="4.8" fill="none" stroke="#000" stroke-width="0.8"/><ellipse cx="905.1" cy="363.8" rx="4.2" ry="3.6" fill="none" stroke="#000" stroke-width="0.8"/><ellipse cx="905.1" cy="363.8" rx="2.8" ry="2.4" fill="none" stroke="#000" stroke-width="0.8"/><ellipse cx="905.1" cy="363.8" rx="2" ry="1.7" fill="#000"/><ellipse cx="905.1" cy="363.8" rx="1.2" ry="0.9" fill="#fff"/>
<path d="M909.1 415h0.8m6.3 21.1h0.8m-9.2-26.2h0.8m11.4 23.4h0.8m-22.1-10.2h0.8m10 10.7h0.8m-6 14.6h0.8m7.4-16.2h0.8m-6.9-26.8h0.8m0.2 23.1h0.8m-4.4 7.3h0.8m8.9-11.2h0.8m-6.7 6.6h0.8m9.3 21.2h0.8m-17-28.2h0.8m19.8 2.5h0.8m-4.7 12.2h0.8m-3.2-12.6h0.8m-6.6 13.2h0.8m-1.3-8.7h0.8m6.3-1.6h0.8m-1.3-6.4h0.8m-8.8 19.5h0.8m3.2 3.5h0.8m-3.1-14.6h0.8m-3.3-22.7h0.8m-0.5 38.3h0.8m0.9-12.2h0.8m5.6-16.4h0.8m-5.1 5.3h0.8m3-13.3h0.8m-8.1 14h0.8m-0.7-0.7h0.8m10 5h0.8m-10.7-17.9h0.8m-6.5 10h0.8m-0.3 18.5h0.8m2.3-14h0.8m1.4-6.7h0.8m-6.3 3.4h0.8m6.3 8.3h0.8m-5.9 24.8h0.8m5.1-13.5h0.8m4.9-23.1h0.8m-3.6 17.1h0.8m-4-25.9h0.8m-6.2 22.3h0.8m2.9 22.4h0.8m-2.4-18.9h0.8m-0.4-22.5h0.8m-1 20.4h0.8m9.3 16.6h0.8m-11.8-31.1h0.8m1.7 4.8h0.8m11.2 20.6h0.8m-13-20.1h0.8m-5.7 6.5h0.8m-8-4.3h0.8m9.4 27.8h0.8m-7.1-9h0.8m6.1-1.8h0.8m-2.8-5.4h0.8m6.9 31.1h0.8m-8.8-38.9h0.8m2.6-6.6h0.8m-0.7 8.9h0.8m-2-25.3h0.8m2.1 3.9h0.8m-2.5 35.7h0.8m-6.5-16.6h0.8m6.3 1.3h0.8m-4 0.9h0.8m4.7-14.9h0.8m-4.9 25h0.8m-2.8-27.7h0.8m5.8 27.4h0.8m0.1-10.2h0.8m-8.6 22.2h0.8m8.4-10.4h0.8m-9.2-9.9h0.8m-2.7-16.8h0.8m3.9 19.8h0.8m1.5-3.2h0.8m6.3-15.6h0.8m-4.3 8.3h0.8m-2.6-7.4h0.8m5.3 34.1h0.8m-19.1-1.9h0.8m7.8-5.7h0.8m-1.7-15h0.8m-7.4-4.8h0.8m5.8-17.4h0.8m-5.5 24.4h0.8m6.1-6.7h0.8m3.8-0.9h0.8m-4.5 26.5h0.8m-7.6-2.2h0.8m2.4-29h0.8m7.6 36.1h0.8m-10-8.2h0.8m5.4-15.8h0.8m5.1-1.3h0.8m-14.6 2.1h0.8m1.9-6.7h0.8m-1.6-13h0.8m3.5-0.3h0.8m1.6 29.8h0.8m-8.1-15.7h0.8m-2 5.7h0.8m10.8 4.7h0.8m-11.3 20.7h0.8m-0.7-30.5h0.8m11.5 14.9h0.8m-5.3-0.7h0.8m-4 0.9h0.8m0.3 22.1h0.8m-10.2-66.5h0.8m3.5 13h0.8m1.3 4.2h0.8m-1.3 33.3h0.8m-3.5-26.8h0.8m5.5-0.2h0.8m-5 8.9h0.8m-6.6 15.7h0.8m0.1-0.6h0.8m6.3-28.6h0.8m-4.3 28h0.8m-0.5 19.6h0.8m-4.2-14.7h0.8m-4.1-21.2h0.8m12.1-24h0.8m-4.3 11.7h0.8m-8.6 5.3h0.8m3 3.5h0.8m-1.1-5.4h0.8m-10.6 32.2h0.8m22.2-13h0.8m-12.5-21.1h0.8m1.9 18.5h0.8m-6.5-6.7h0.8m7.2 6.8h0.8m-4.7-2.4h0.8m-4.1-2.7h0.8m3.1-10h0.8m-1.7 24.1h0.8m4.8-45.3h0.8m-12.8 46.6h0.8m8.2-8.1h0.8m-9.6-5.5h0.8m8.8 5.3h0.8m-7.2-14.7h0.8m4.3 11.1h0.8m4-35.9h0.8m-10 51.3h0.8m-3.5-16.5h0.8m11.8-16.4h0.8m-6.2 42.9h0.8m-8.7-57.2h0.8m10.6 21.9h0.8m-6.2 8.2h0.8m5.5-5.3h0.8m-2 15.5h0.8m-5.7 4.2h0.8m0.7-16.8h0.8m12.5-28h0.8m-21.2 14.3h0.8m2.8 17.5h0.8m0.1 30.8h0.8m-2.2-49.2h0.8m1.8 9.5h0.8m-3.3 19.9h0.8m3.2 3h0.8m-7.6-7.6h0.8m4.5-18.1h0.8m-8.6 7.9h0.8m1.2 11.8h0.8m7.1-3.6h0.8m10.7 11.6h0.8m-24.4-9.9h0.8m10.1-5.6h0.8m-4.3 10.4h0.8m-12.2-33.2h0.8m16.1 22.4h0.8m0.7-8.4h0.8m-8 17.1h0.8m2.7-37.1h0.8m3 9.5h0.8m-1.1 18.9h0.8m-2.3 12.2h0.8m-8.6-5.4h0.8m3.9-13.4h0.8m-0.5-3.7h0.8m-0.6 11.1h0.8m-4.2 12.5h0.8m2.8-32.4h0.8m1 23.9h0.8m-10.1-3.4h0.8m4.4-0.5h0.8m0.2 2h0.8m1-39.3h0.8m-1.4 41.7h0.8m2.4 10.1h0.8m-2.7 1.1h0.8m1.8-26.3h0.8m-8.5 25.8h0.8m6.1-44.7h0.8m-9.4 43h0.8m5.1-42.7h0.8m0.6 40.2h0.8m0.3-15.4h0.8m-5-7.1h0.8m-2.4 11.9h0.8m14.2 34.2h0.8m-14.1-60.2h0.8m-0.4 17.8h0.8m-1.6-20.6h0.8m0.1 15.1h0.8m-0.2-13.3h0.8m-0.9 5h0.8m-5.1 8.3h0.8m0.6 1.5h0.8m-0.8-1h0.8m-1.5 0.6h0.8m0.9 36.4h0.8m5.5-36.8h0.8m-12.1 25.7h0.8m5.9-11.6h0.8m5-33.4h0.8m-9.6 31h0.8m9.1-4h0.8m-7.3 0.7h0.8m-1.4 2.8h0.8m-3.4-12.8h0.8m0.2 19.8h0.8m6.8-7.4h0.8m-7.9 16.3h0.8m3.3-7.3h0.8m-4.2-17.1h0.8m2.3 3.9h0.8m2.5-10.7h0.8m-4.9 13.3h0.8m-7.5-5.5h0.8m-0.9 0h0.8m3 44.5h0.8m-4.6-29.7h0.8m2.1-4.2h0.8m-0.2-17.2h0.8m7.9 28.4h0.8m-16.4-18.7h0.8m6-21.4h0.8m1.8 31h0.8m-1.4-0.6h0.8m7.7-13.5h0.8m-3.4 38.9h0.8m-21.2-35.6h0.8m20.1 8.4h0.8m-10.4 16.2h0.8m6.6-44.9h0.8m-1.2 21.1h0.8m-3.8-14.7h0.8m0.9 19.8h0.8m-8.1-7.4h0.8m10.8 27.7h0.8m-15.2-15.2h0.8m5.1-15h0.8m1.9 30h0.8m0.7-36.6h0.8m-3.2 20.8h0.8m4.4-7.6h0.8m-5.6 4.5h0.8m1.8-31.3h0.8m2.8 32.6h0.8m-7.6-20.9h0.8m0.4 45.4h0.8m-5-53.3h0.8m4.3 24.5h0.8m-3.2-23h0.8m1.5 32h0.8m-24.2-7.1h0.8m24.3-15.7h0.8m-15.1 14.7h0.8m20.3 4h0.8m-0.2-0.3h0.8m-13-16.6h0.8m7.3-8.2h0.8m-10.9 13.6h0.8m3.7 6.9h0.8m-9.6-18.2h0.8m15.1 18.8h0.8m-9.3-6.5h0.8m0.6-5.9h0.8m3.3 23.8h0.8m-6.4 1h0.8m-1.5-19.9h0.8m4.9 4.8h0.8m-9.7 25.1h0.8m2.3-16.9h0.8m7.6-25.6h0.8m-9.8 33.3h0.8m-0.8-21.1h0.8m0 2.2h0.8m-1.7 10.5h0.8m1.2 19.6h0.8m0.4-0.7h0.8m-1.7 1h0.8m-2.1-7.7h0.8m0.6 5.9h0.8m-5.4-30.9h0.8m5-7.3h0.8m4.5 11.6h0.8m-5.4 17.9h0.8m-0.5-26.1h0.8m-10.3-14h0.8m1.3 13.7h0.8m-0.3 17.9h0.8m-3.6-30.9h0.8m6.8 50.6h0.8m-6.3-28.3h0.8m3.6 17.9h0.8m3.7-22.8h0.8m-0.5 7.6h0.8m-1.4 25.9h0.8m-15.6-48h0.8m3.3 2.7h0.8m6.4 20.2h0.8m7.3 19.2h0.8m-8-23h0.8m1.1 8.2h0.8m-6.5 3.9h0.8m-0.9-11.6h0.8m0.9-7.5h0.8m-3.3 9.8h0.8m1.8-19.3h0.8m8 43.5h0.8m-0.9-7.8h0.8m-9.4-31.4h0.8m-5.3-11.8h0.8m2.6 0.2h0.8m1.3 29.4h0.8m-4-11.9h0.8m1.6 16.3h0.8m-2.2 16.6h0.8m-3.5-34.1h0.8m1.2 6.1h0.8m2.6 11h0.8m-3.5 15.3h0.8m-8.3-19.5h0.8m8.5-24h0.8m-8 21.5h0.8m11.8 4.3h0.8m-6.8-10.6h0.8m-2.9-1.2h0.8m4.8 21.6h0.8m-1.3-25.9h0.8m-0.7 25.2h0.8m-12.5-10.5h0.8m5.5-3h0.8m-4.4-17.2h0.8m4.8 7.4h0.8m-2.6-4.8h0.8m3.7 28.5h0.8m-7.6-11.9h0.8m1.7-0.1h0.8m6.8 0h0.8m-6.8-19h0.8m5.2 39.2h0.8m-15.5-15.5h0.8m7.6-27h0.8m8.4 26.2h0.8m1-19.1h0.8m-13.2-10.4h0.8m1.8-2.7h0.8m-2.7 41.2h0.8m3.3-2.6h0.8m-2.7-2.9h0.8m-2-29.6h0.8m2.1 17.5h0.8m-7-15.2h0.8m8.9-7.9h0.8m-10.7 29.2h0.8m6.2-1.8h0.8m-11.1 12.4h0.8m6-37.2h0.8m5 19.9h0.8m-15-37.2h0.8m7.3 29.4h0.8m1.3 11.4h0.8m-5.9 4h0.8m4.1-21.6h0.8m1.9 18.4h0.8m-5.5 2.1h0.8m-3.8-16.7h0.8m2.6-2.1h0.8m7.1 17.3h0.8m-4.7 22.6h0.8m2.8 4.5h0.8m-12-6.5h0.8m1.4-26.9h0.8m2.2 4.3h0.8m-1.9 3.3h0.8m6.8-36.4h0.8m-15.3 13h0.8m7.7 20.6h0.8m-0.3 26.1h0.8m-2.6-48.4h0.8m1.2 47.2h0.8m6.7-27.4h0.8m-9.7 5.8h0.8m1.4-6.9h0.8m-6 24.8h0.8m9-22.4h0.8m-11.1-9.4h0.8m-3.6-8.8h0.8m3.5 7.4h0.8m1.9 3h0.8m-6.7 1.9h0.8m-8.5 10.9h0.8m10.2 14.7h0.8m-1.8-22.2h0.8m-3 32.6h0.8m4.9-12.6h0.8m-3.7-9.3h0.8m-3.8-17.6h0.8m2.3-4h0.8m4.2 25.2h0.8m1.4-25.5h0.8m-9.4 12.6h0.8m5.2-17.8h0.8m-5.3 33.4h0.8m1-16.6h0.8m-6.8-3.3h0.8m8.1 19.6h0.8m-12.4-9.1h0.8m5.6-19.4h0.8m9.9 23.2h0.8m-15-24.5h0.8m5.3-6.8h0.8m-2.7 28.8h0.8m-6.2-4.8h0.8m7.7-12.1h0.8m-1.1 19.1h0.8m-0.6-19.4h0.8m1.3 5h0.8m-3.9 5.6h0.8m-1.9-30.1h0.8m4.3 36.2h0.8m-5.2 1.9h0.8m-3.5-11h0.8m3.7-29.3h0.8m-6.9 22.7h0.8m1.4 0.9h0.8m-3.1 11.3h0.8m6.7 3h0.8m0.4 0.9h0.8m1.4 15.6h0.8m-10.2-34.8h0.8m-1.5 6.7h0.8m5.6 12.6h0.8m-3.2-17.2h0.8m-3.9 6.8h0.8m2.3-40.9h0.8m-0.7 51h0.8m-5.5 13.5h0.8m6.5-10.6h0.8m-12.3 1.4h0.8m7.7-8.6h0.8m-12.7-25.5h0.8m8.8 3.1h0.8m7.1 3.1h0.8m-3.6 21.7h0.8m9.4-4.5h0.8m-7.3-7.2h0.8m-13.6 11.6h0.8m11-13h0.8m-2 16.5h0.8m-5.7-5.5h0.8m-0.2-11.9h0.8m-0.8 15h0.8m-5.1-44.2h0.8m5.9 28.2h0.8m-1.2-2.6h0.8m-1.6 9.2h0.8m-4.3 2.6h0.8m2.5-24.9h0.8m3.6 40.5h0.8m-5.3-38.8h0.8m1.7 24h0.8m3.1-6.8h0.8m-9.7 21.1h0.8m-10.3-20.1h0.8m8.8-28.1h0.8m-4.6 37.3h0.8m5.5 20.8h0.8m2.2-43.9h0.8m-1.6 25.3h0.8m-4.2-22.3h0.8m7.8 42.5h0.8m-8.4-37.7h0.8m-7.8-4.5h0.8m9.1-8.5h0.8m0.4 22.4h0.8m-4.6 13.7h0.8m9.2-0.3h0.8m-13.4-5.3h0.8m0.7-5h0.8m-0.9-15.1h0.8m0.2-5.3h0.8m3.2 14.4h0.8m-12 15.2h0.8m8.2-8.1h0.8m-11.5-20.6h0.8m9.2 52.2h0.8m-2.1-28.8h0.8m0.8-17h0.8m1.7 3.5h0.8m-6-2.7h0.8m-6.9 0.7h0.8m0.6 5.3h0.8m11.3 10.3h0.8m-11.1 1.7h0.8m-0.9 10.6h0.8m5.9-21.8h0.8m-4.9 6.3h0.8m-5.5-17.9h0.8m3.5 3.6h0.8m-0.3 25.7h0.8m-1.7-3.8h0.8m8.9-14.9h0.8m-2.4-5.8h0.8m-13.4 14.8h0.8m4-24.2h0.8m6.3 34.1h0.8m-11.9-15.4h0.8m3.6-15.3h0.8m1.2-1.7h0.8m-10.9 41.1h0.8m4.6-32.3h0.8m1.2 0.5h0.8m10.8 17.3h0.8m-7.2 6.4h0.8m5.5-45.9h0.8m-7.4 35.4h0.8m-4.2 14.6h0.8m1.9-42.6h0.8m-2.7 23h0.8m3.5-28.2h0.8m-3.2 32.7h0.8m-0.7 3.7h0.8m-14.2 4.4h0.8m9.2-21.8h0.8m4 11h0.8m2.7 16.4h0.8m-14.3-4.3h0.8m4.6-11.9h0.8m-1.5 15.4h0.8m-4-8.6h0.8m-4.4-1.6h0.8m0.5-23.5h0.8m5.2 2.1h0.8m4.8 0.4h0.8m1.7 28.3h0.8m-8.2-2.8h0.8m-0.3 25.5h0.8m0.7-43.4h0.8m-1.4 3.6h0.8m-3-3.6h0.8m-3.1 21.1h0.8m1.6-1.1h0.8m-2.1-12.7h0.8m-1.6 20.3h0.8m9.6-20.2h0.8m-4.5-19.9h0.8m-11.4 32.1h0.8m-3.1 30.2h0.8m12.7-15.5h0.8m-6.2-45.5h0.8m-4.7 7.1h0.8m7.7-2.4h0.8m-8.9 38.5h0.8m-2.8-32.6h0.8m11.9 46.5h0.8m-15.6-72.9h0.8m3.8 39h0.8m2.5-11.4h0.8m-7 20.8h0.8m3-22.3h0.8m2 31.4h0.8m-0.1 17h0.8m-3.3-29.4h0.8m-9.8-18.8h0.8m9.7-0.8h0.8m-4.6 2.2h0.8m-1.7 0.2h0.8m4.4 13.7h0.8m-6.5-8.7h0.8m0.5 16.7h0.8m11.9-10.6h0.8m-7.4-6.9h0.8m-0.4 0.9h0.8m-9.6 21.7h0.8m16.8-9.2h0.8m-12-2.2h0.8m7.6-14.1h0.8m-5.5 9.7h0.8m-15.3-8h0.8m12.9 10.7h0.8m-4.3-24h0.8m1.1 21.4h0.8m0.7 24.2h0.8m-3.3-10.4h0.8m1.4 25.1h0.8m-0.7-1.7h0.8m-8.3-57.9h0.8m6.6 16.2h0.8m3.4 14.3h0.8m-3.2-23.9h0.8m-5.1 24.6h0.8m-3.4-12.4h0.8m8.1-0.8h0.8m-5.7 19h0.8m0.3-40.3h0.8m-2.4 22.4h0.8m0.3 34.1h0.8m3.2-32.2h0.8m-9.8 10.5h0.8m3.4 7h0.8m-0.1-4.7h0.8m-6.4-17.7h0.8m3.5-9.7h0.8m0.8 6.7h0.8m-4.6-4.9h0.8m0.6-14.1h0.8m4.2 30.7h0.8m-2.5 12.7h0.8m-2.3-23.4h0.8m4.5-1.2h0.8m-6.7-26.8h0.8m-4.3 32h0.8m5.2 8.2h0.8m0.7-16.3h0.8m-8.5 11.5h0.8m-2-9.2h0.8m3.5-24.1h0.8m-9.1 36h0.8m3.6 5.1h0.8m0.3-26.9h0.8m4.7 11.6h0.8m-2.1-6.3h0.8m-6.6 5.1h0.8m-0.8 2.1h0.8m-1.9 7.9h0.8m8.1 1.8h0.8m-11 11.4h0.8m-3.2-15.3h0.8m8.4 8.3h0.8m-4.7-19h0.8m8.4 24.5h0.8m-11.7-21.2h0.8m0.4-34.6h0.8m8.7 29h0.8m-6.1 13.6h0.8m-7.6 9.8h0.8m2.3-35.4h0.8m4.2 24.3h0.8m-5.1-3.3h0.8m10.3 11.2h0.8m-9.2-15.8h0.8m8.3-1.1h0.8m-19.7 24.8h0.8m6.5-50.8h0.8m-5.3 12.1h0.8m-4.8 9h0.8m7.2 35.9h0.8m1.7-33.3h0.8m-1.2 11.7h0.8m5 16.7h0.8m-15.5-41.8h0.8m8.9 50.9h0.8m-3.2-12.5h0.8m-1.1-24.7h0.8m0.7 29.3h0.8m-1.9-19.7h0.8m3.2 12.7h0.8m-2.1-0.4h0.8m7.4-1.4h0.8m-11.2-14h0.8m2.5-1.9h0.8m-7.8-10h0.8m2-15.4h0.8m16.6 42.3h0.8m-18.2-24h0.8m8.2-10h0.8m-12.1 36.7h0.8m3.9-3.9h0.8m0.2-11.6h0.8m-4.6 7.2h0.8m3.6-3.7h0.8m-4.1 14.5h0.8m1.7-9h0.8m-7-33.9h0.8m8.7 15.1h0.8m-8.7 15.3h0.8m10.1-9.7h0.8m-8.9 10.8h0.8m3.4-5.6h0.8m-12.6 10.5h0.8m4.4 19.8h0.8m-0.4-28h0.8m2.4-0.3h0.8m12-6.8h0.8m-8.2 4h0.8m-7.7 11.3h0.8m2.7-14.2h0.8m-7.4 9.2h0.8m21.1-8.4h0.8m-14.7-6.7h0.8m13.5-12.7h0.8m-21.2-6.8h0.8m5.6 30.6h0.8m-2.1-2.5h0.8m4.9 20.8h0.8m-2.7-61.1h0.8m-11.3 42.1h0.8m8.2-43h0.8m2.8 46.5h0.8m-0.8-22.7h0.8m-12.7 1.8h0.8m-0.1 4h0.8m-6.4 31.3h0.8m10.7-32h0.8m-13.9 29.8h0.8m-1.9-34.2h0.8m4.3 5.6h0.8m7.8 24h0.8m-1.5-30.6h0.8m4.1 35.6h0.8m-3.4 17.8h0.8m-10.1-47.4h0.8m0.7 2.2h0.8m6.3 12.5h0.8m-6.1 14.3h0.8m0.9-26h0.8m-3.6-11.2h0.8m1.2 6.5h0.8m-0.2 18.7h0.8m2-12.5h0.8m6.5-10.6h0.8m-6.8 17.8h0.8m-3-10.6h0.8m-6.1 19.8h0.8m-5.6-7.6h0.8m0.5-29.7h0.8m6.9 19.1h0.8m8.6-18h0.8m-9.8 28.1h0.8m-0.7-8.7h0.8m-9.8 18.2h0.8m11.1-5.2h0.8m-3.1 12.2h0.8m2.7-7.6h0.8m-8.9 4.8h0.8m-2-9.4h0.8m-1.4-8.3h0.8m8.2-2.2h0.8m0-2.5h0.8m2.8 4.8h0.8m3.9 13.2h0.8m-14.1-27.7h0.8m-2.7 46.6h0.8m-5-53.3h0.8m7 42.5h0.8m-4.2-31.9h0.8m0 9.7h0.8m5.9 31.6h0.8m-7.1-40.7h0.8m-6.1-13.7h0.8m4.8 2.6h0.8m3.2 19.9h0.8m-8 25.2h0.8m-6-8h0.8m8.5-9.8h0.8m-1.4-21h0.8m2.3 35.1h0.8m-14-16.5h0.8m8.8-6h0.8m1.8 1.4h0.8m-4.9 21h0.8m-3.6-24.2h0.8m1.9-6h0.8m-1.3 33.3h0.8m-2.4 16.6h0.8m-4.6-74.5h0.8m3.7 17.4h0.8m8.9 26.1h0.8m-12.4-10h0.8m3 42.8h0.8m1.5-35.7h0.8m1.1-0.6h0.8m-3.5-16.5h0.8m-0.3 16.2h0.8m-8-2h0.8m-0.4-26.5h0.8m5.2 33.1h0.8m4.3-16.3h0.8m-13-5.1h0.8m5.3 11.8h0.8m2.9-1h0.8m2.1-6.9h0.8m-3.7 19.4h0.8m-1.2-1.6h0.8m-8.3 5.2h0.8m2.1-16.1h0.8m-3.3 8.4h0.8m2.1-15.9h0.8m4.9-1.2h0.8m-2.4 14.3h0.8m0-2h0.8m-9.6 1.5h0.8m7.2 26.2h0.8m6.8-15h0.8m-5.3-52.2h0.8m-8.4 22.4h0.8m5 24.7h0.8m-1.1 0.8h0.8m-1.7-10.6h0.8m-5.6 12.5h0.8m2.2 5.3h0.8m-3.1-20.2h0.8m-2.5 14.1h0.8m-1-45.8h0.8m-0.7 25.3h0.8m3.2 5.1h0.8m5.6 10.3h0.8m-2.2 16.3h0.8m-0.4-7.1h0.8m-8.5-7.2h0.8m1.1 5h0.8m-3.2-1.7h0.8m-0.4 1.3h0.8m7.9 7.4h0.8m-9 1.5h0.8m-7.4-17.5h0.8m0.7-2.3h0.8m0.4-0.9h0.8m1.6 19.9h0.8m13.7-6.1h0.8m-6.5-5.9h0.8m-6.4-10.5h0.8m-6.3-8.5h0.8m9.1 5.7h0.8" stroke="#000" stroke-width="0.8" fill="none"/>
<path d="M911.3 417.6h0.8m20.5 45.5h0.8m-27.2 10.4h0.8m5.9-15.6h0.8m-8.2-31.1h0.8m16.7 24h0.8m-7.4 5.4h0.8m-8.5-29.4h0.8m2-26.2h0.8m-4 58.1h0.8m-4.3 14.9h0.8m-2.1-58.4h0.8m9.5 17.4h0.8m-0.5-9.5h0.8m-1.5 15.2h0.8m-4.1 16.9h0.8m-12.1-22.5h0.8m20 27.9h0.8m-5.2-46.9h0.8m-6.5 14.2h0.8m-6.5-22.8h0.8m-20.4 50.6h0.8m31.2-48.9h0.8m-13.7 30.2h0.8m-3.3 8.9h0.8m1.3-37.9h0.8m-1.1 36.8h0.8m-6.4 6h0.8m20.9-2.9h0.8m-6.2-14h0.8m-1-12.8h0.8m-32.6 0.5h0.8m41 34.7h0.8m-28.6-25.2h0.8m3-19.3h0.8m3.5 39.4h0.8m3.4-20.8h0.8m-25.3 48.7h0.8m10.2-43.4h0.8m21 3.2h0.8m-0.6-50.1h0.8m-19.7 32.8h0.8m-6-18.1h0.8m23.6 6.1h0.8m1.6 43.4h0.8m-16.6-45.7h0.8m-3.5 13.4h0.8m-1.5-1.2h0.8m6.9 9.7h0.8m-2 5.3h0.8m13.3 40.7h0.8m-14.1-41.8h0.8m-2.7 20.8h0.8m8.6-17h0.8m-10 9.3h0.8m12.2-20.1h0.8m-7.5-27.5h0.8m-12.9 45.7h0.8m-10.8-39.7h0.8m19.3-9.2h0.8m-7.1 80.8h0.8m6.6-6.4h0.8m12.5-50.1h0.8m-20.1 22.6h0.8m13.5 21.1h0.8m-4.4-21.9h0.8m-20.8 14.3h0.8m4.4-1.2h0.8m20.2-48.6h0.8m6.7 25.1h0.8m-11.1 22.7h0.8m7.8 4.8h0.8m-3.2-6.8h0.8m-27.4-20.5h0.8m15.4 22.8h0.8m-6.7-33.4h0.8m-16.2 16.1h0.8m46-4.2h0.8m-39.2 14.6h0.8m12.6-9.5h0.8m-30.9-16.2h0.8m14.3 26.1h0.8m-0.7-17.1h0.8m-6.1-6.5h0.8m35.7 27.7h0.8m-20.4-33.4h0.8m-18.9 37.4h0.8m12.5-8.6h0.8m2.6-9.4h0.8m-31.4 15.6h0.8m45.9-16.5h0.8m-22 2.8h0.8m-1.7-40.9h0.8m-2 36.4h0.8m14.8-19.4h0.8m-15.9 20h0.8m7.8 38.5h0.8m1.1-25.7h0.8m-21 18.9h0.8m-6.5-5h0.8m27.7-24.9h0.8m-21.9 8.7h0.8m5.6 16.4h0.8m-27.9-25.4h0.8m2.6-0.2h0.8m24.6 15.3h0.8m-9.9-36.6h0.8m-12.1 10.6h0.8m24.9 4h0.8m-13.5 0.5h0.8m16.1 10.6h0.8m-28.6-16.2h0.8m11-45.7h0.8m15.6 62.1h0.8m-18.9 4.1h0.8m13.4-20.2h0.8m-0.1 5.3h0.8m-11.8 25h0.8m-10.5 17.5h0.8m19.3-46.6h0.8m1.1-10.4h0.8m-10 58.8h0.8m8.9-43.2h0.8m-7.7 21.7h0.8m11.1-25h0.8m2.1 6.2h0.8m-14.4 15.7h0.8m-8.4-46.5h0.8m5.7 48.9h0.8m-2.5 0h0.8m15.9-24.6h0.8m-14.1 4.2h0.8m6.4 12.7h0.8m-5.9 17.7h0.8m1.5-21.8h0.8m-13.3-4.1h0.8m22.1 12.7h0.8m-14.2-16h0.8m-12.3-12.7h0.8m20.7 15.2h0.8m-11.1 24.8h0.8m-6.3-34.9h0.8m19.5 22.1h0.8m-33.9-12.8h0.8m8-9.8h0.8m5.2-22.5h0.8m-6.1 69h0.8m4.9-45.9h0.8m12-17.6h0.8m-13.9 53h0.8m1.8-19h0.8m-3.2 0.2h0.8m9.3-10.3h0.8m-7.4 8.4h0.8m-22.7 13.2h0.8m40-1.8h0.8m-18.2-23.6h0.8m0.7 46.3h0.8m11.5-52.7h0.8m-0.4 0h0.8m-24.5 11h0.8m13.1-1.6h0.8m3.3 10.6h0.8m5.5-33.5h0.8m-16.7 40.7h0.8m14.7-54.6h0.8m-20.1 2.2h0.8m6.5 28.2h0.8m-1.9 31.1h0.8m5.1-24.1h0.8m-15.6 15.5h0.8m-0.8 5.4h0.8m-4.2-4.6h0.8m-8.2-8.1h0.8m42.9-26.5h0.8m-34.6 41h0.8m-6.5-64.6h0.8m-6.8 50.2h0.8m29.3-2h0.8m-12.1 19.6h0.8m-1.9 5.2h0.8m15.8-32.9h0.8m-3.1 20.3h0.8m-16.1-14.4h0.8m12.4-24.2h0.8m-30 47.7h0.8m38-17.6h0.8m-10.9-38.1h0.8m-26.7 21.5h0.8m9.8 14.1h0.8m-2.2-4.7h0.8m2.3 13.7h0.8m13.1 5.3h0.8m2.8-21.4h0.8m-21.2-33.7h0.8m-14.2 53.5h0.8m22.8-15.4h0.8m-9.5-25.5h0.8m-21.6 12.9h0.8m20.5-39.9h0.8m16.6 37.9h0.8m-10.6 39.7h0.8m10.9-32.3h0.8m-6.6 24.4h0.8m-10.9-11.8h0.8m-11.1-1.2h0.8m1.6-9.7h0.8m7.6 23.4h0.8m-4.6-24.4h0.8m-2.8 14.8h0.8m-12.8-8.4h0.8m2.6-12.4h0.8m20.7 46.1h0.8m-7.2-22.5h0.8m-0.7-21.1h0.8m-1.8 28.5h0.8m0.5-27.3h0.8m-8.3 17.4h0.8m0.8 8.9h0.8m-12.7-3.3h0.8m5.7-16.8h0.8m31.7 22.5h0.8m-29.9-28.7h0.8m14.8 26.7h0.8m-11-3.9h0.8m-5.1-70.5h0.8m15.9 45.6h0.8m-6.3 6.4h0.8m-10.6-14.5h0.8m10.9 34.8h0.8m4.7-2.7h0.8m-10-24.6h0.8m-5.1 19.2h0.8m-28.9-32.1h0.8m24.8 39.8h0.8m16.8 18h0.8m-24.8-33.1h0.8m1.8-17.8h0.8m1 18.7h0.8m12.2-32.3h0.8m-11.3 9.8h0.8m16.2 54.6h0.8m-21.6-48.8h0.8m11.2 33.6h0.8m-18.6-28h0.8m13.2-12.7h0.8m12.8 22.1h0.8m-16.8-24.4h0.8m12.1-3.7h0.8m-22.5 15.1h0.8m5.8-16.9h0.8m-8 40.8h0.8m7.4-9.5h0.8m10.5 6.7h0.8m-0.5-8.6h0.8m-21.9 32.9h0.8m-9.7-61.1h0.8m18.9 49.5h0.8m-19-44h0.8m20 12.8h0.8m-3 21.6h0.8m-1-10.4h0.8m0.5-5.9h0.8m0.3 23.7h0.8m-14.5-14h0.8m19.3-9.4h0.8m-11.6 41.1h0.8m12.6 9h0.8m7.5-52.8h0.8m-29.1 0.9h0.8m16.5-63h0.8m-9.9 93.2h0.8m-0.8-17.8h0.8m-3.9-40.2h0.8m12.3 28h0.8m-6 6.2h0.8m15.5 9h0.8m-17.6-11.4h0.8m-14.6 10.1h0.8m20.2-8h0.8" stroke="#222" stroke-width="0.8" stroke-opacity="0.75" fill="none"/>
<ellipse cx="909.8" cy="432.1" rx="3.2" ry="7" fill="#fff" stroke="#000" stroke-width="0.9"/>
<path d="M839.3 428h0.8m36.3 3h0.8m-16.7-18.9h0.8m-7.7 14.7h0.8m11.6 20.9h0.8m-3 5.5h0.8m-10.1 9.6h0.8m1.3-10.9h0.8m20.5-20.3h0.8m-16.5 5.6h0.8m-3 6h0.8m-2.6-4.1h0.8m6.2-18.8h0.8m-13.8 11.6h0.8m-6.6 11.8h0.8m7.5-16.9h0.8m-9-0.4h0.8m15.5-5.4h0.8m3.4 26.7h0.8m-6.4-32.5h0.8m-10.3 38.3h0.8m2.7-25.4h0.8m-4 16.1h0.8m-10.8 9h0.8m17.8-28.9h0.8m2.6-23.6h0.8m-17.4 42.4h0.8m23.8-21.1h0.8m-27.1 15.8h0.8m12.8-9.8h0.8m-8.8 32.5h0.8m-2.1-44.6h0.8m3.9 41h0.8m9.2-18.9h0.8m-18.8-0.7h0.8m36.8 9.8h0.8m-17.2-30.8h0.8m-14 14.4h0.8m18.5 3.8h0.8m-17-2.8h0.8m-25.9 22.8h0.8m7.7-24.1h0.8m2.1-0.4h0.8m9.3 1.3h0.8m16.4-9.7h0.8m-16.7 24.4h0.8m-1.7-14.9h0.8m20.5 18.2h0.8m-26-7.2h0.8m-1.3 2.7h0.8m-5.6 4.9h0.8m15.5-6.5h0.8m-4.2-1.6h0.8m-8.7-2.3h0.8m12.5 5.2h0.8m-14.7 1.9h0.8m-3.2-18.3h0.8m2.3 1.7h0.8m5.8 18.1h0.8m10-3.3h0.8m-17.2 4.2h0.8m14.8-21.2h0.8m-20.4 8.5h0.8m27.4-2.1h0.8m-19.9 14.2h0.8m-9.9-25.2h0.8m8.8 27.1h0.8m-2.5-21h0.8m-13.2 31.4h0.8m3-3.8h0.8m4.1-2.4h0.8m21.1-28.4h0.8m-11 22.7h0.8m5.3-14.8h0.8m-1 5.9h0.8m-21 12.6h0.8m19.7-14.3h0.8m-13.4 11.1h0.8m15.6-28.3h0.8m-6.4 45.9h0.8m-18.4-20.4h0.8m7.7-3.1h0.8m10-27.5h0.8m-16.8 3h0.8m1 45.8h0.8m-7.4-32.9h0.8m3.1 12.2h0.8m1.9-16.7h0.8m-4.9 8.8h0.8m-5-31.7h0.8m20.9 35.8h0.8m-16.8-4.1h0.8m11.2-9.9h0.8m-7.1 4.6h0.8m10-26.7h0.8m-24.6 54h0.8m1.1-30.9h0.8m-1.1-21.7h0.8m9.4 42.3h0.8m2.9-27h0.8m-8.5 40.6h0.8m2.3-36.3h0.8m9 8.9h0.8m-25.8-7.9h0.8m24.4 9.7h0.8m-9.9 11.4h0.8m-7-30.2h0.8m6.1 12.2h0.8m-0.8-1.3h0.8m-7.5-9.7h0.8m8.6 47.3h0.8m-14.6-11.1h0.8m16.6-25.3h0.8m-16.2 16.7h0.8m5.2-11.6h0.8m-1.7 31h0.8m-11.2-20.8h0.8m30.9-3.8h0.8m1.5-2.2h0.8m-18.7 11h0.8m-8.8-10.6h0.8m11-9.8h0.8m-1.8 24.8h0.8m-15.6-17.1h0.8m13.4-8.4h0.8m4.8 27.6h0.8m-15.1-13.9h0.8m-1.4-5.2h0.8m9.2-0.4h0.8m-3.4-4.1h0.8m8.4 19.5h0.8m-17.2-5.3h0.8m28.7-14.3h0.8m-12.1 44.2h0.8m-15.2-26.3h0.8m-18.7 8.1h0.8m24.9-7.5h0.8m-4.9 1.8h0.8m7.6-3.6h0.8m-13.4-12.2h0.8m2.1-0.8h0.8m-8.7-14.8h0.8m5.8 4.9h0.8m-3.2-5h0.8m-9.8 12h0.8m9.4 36.5h0.8m0.6-15.8h0.8m4.4-10.5h0.8m-8 4.8h0.8m6.7-28.8h0.8m0.5 16.9h0.8m-21.3-8.1h0.8m20 24.1h0.8m-8.3 4h0.8m7.5-39h0.8m-17.9 26.7h0.8m1-13.7h0.8m10 4.7h0.8m-9.8-15.7h0.8m24 0.1h0.8m-23.2 35h0.8m2.1-28.8h0.8m-10.2 29.7h0.8m16.6-43.9h0.8m-20.5 36.6h0.8m26.5-16.7h0.8m-6.8-15h0.8m-24.7 4.9h0.8m18.9 20.6h0.8m1.2-27.9h0.8m7.8 19.2h0.8m8.3 9.5h0.8m-41.5-4.3h0.8m7.9 22.5h0.8m9-4.2h0.8m-10.2-28.7h0.8m7.9 12h0.8m-10.7 6.4h0.8m18.4-12.5h0.8m-16.1-2h0.8" stroke="#222" stroke-width="0.8" stroke-opacity="0.6" fill="none"/>
<path d="M924.6 386.3h0.8m-4.8 50.2h0.8m-31.1-56.5h0.8m-0.7 71.5h0.8m6.6-57.8h0.8m-8.5 33.8h0.8m28.1-83.4h0.8m21.2 63.4h0.8m9.6 5h0.8m-52.2-62.5h0.8m41.8 91.6h0.8m-76.8-53.4h0.8m53.9-2.7h0.8m-4-10.1h0.8m-42.8 65h0.8m-44-23.6h0.8m36.3-24.7h0.8m4 4.9h0.8m1.3 4.8h0.8m-33.6-54.8h0.8m51.5 69.1h0.8m-29.4 53.7h0.8m17.8-47.4h0.8m-59.4-72.5h0.8m32.3-7.1h0.8m-24.3 29.8h0.8m28.8 83.8h0.8m31-54.7h0.8m-83 49.5h0.8m147.2-106h0.8m-107.2 13.8h0.8m100.5-23h0.8m-100.5-10.6h0.8m52.4 99.3h0.8m-51.8 12.1h0.8m45.2-80.8h0.8m15.6 86.2h0.8m28.6-30.4h0.8m1.2-21.1h0.8m-41.7 72.9h0.8m-18.3-105.9h0.8m-45.8 11.8h0.8m-27.5-17h0.8m28.7 30.7h0.8m-9.9 2.7h0.8m54.9 37.2h0.8m41.8 31.7h0.8m-53.3-120.4h0.8m41.1 73.1h0.8m-50.1 17h0.8m97.3-18.1h0.8m-97.9-6.7h0.8m-21 72.5h0.8m-12.8-122.6h0.8m90.2 33.9h0.8m-92.5 46.1h0.8m96.5-104.6h0.8m-21.5 106.9h0.8m48.3-20.9h0.8m-45.4-15.1h0.8" stroke="#666" stroke-width="0.8" stroke-opacity="0.45" fill="none"/>
<rect x="812.7" y="330.7" width="70.9" height="46.1" fill="none" stroke="#3e4c7a" stroke-width="1.2"/>
<rect x="881.1" y="393" width="58.4" height="73.2" fill="none" stroke="#d4646e" stroke-width="1.2"/>
<text x="826.6" y="326.3" font-size="24.5">81.4</text>
<text x="945" y="461" font-size="24.5">4.2</text>
<text x="712.8" y="89" font-size="29" text-anchor="middle">Thymus</text>
<text x="900.4" y="89" font-size="29" text-anchor="middle">Spleen</text>
<text x="1003" y="196" font-size="28.5">&#8211; ABX</text>
<text x="1003" y="403" font-size="28.5">+ ABX</text>
<text x="570.8" y="296.4" font-size="21" text-anchor="middle" transform="rotate(-90 570.8 296.4)">CD45.1 FITC</text>
<text x="804" y="535.8" font-size="21" text-anchor="middle">CD45.2 PE</text>
<text x="583.4" y="322.3" font-size="16.5">10<tspan font-size="12" dy="-7">5</tspan></text>
<text x="583.4" y="364.5" font-size="16.5">10<tspan font-size="12" dy="-7">4</tspan></text>
<text x="583.4" y="406.2" font-size="16.5">10<tspan font-size="12" dy="-7">3</tspan></text>
<text x="598.6" y="467.5" font-size="16.5">0</text>
<text x="632.3" y="512.3" font-size="16.5">0</text>
<text x="693.7" y="512.3" font-size="16.5">10<tspan font-size="12" dy="-7">3</tspan></text>
<text x="733.9" y="512.3" font-size="16.5">10<tspan font-size="12" dy="-7">4</tspan></text>
<text x="774.8" y="512.3" font-size="16.5">10<tspan font-size="12" dy="-7">5</tspan></text>
<text x="1322.4" y="89" font-size="29" text-anchor="middle">Thymus</text>
<text x="1539.8" y="89" font-size="29" text-anchor="middle">Spleen</text>
<text x="1165" y="266.7" font-size="29.2" text-anchor="middle" transform="rotate(-90 1165 266.7)">Donor cell number (x10<tspan font-size="17.5" dy="-11">-7</tspan><tspan dy="11">)</tspan></text>
<path d="M1245.2 412.4V235.1H1271.2V412.4" fill="none" stroke="#34589c" stroke-width="1.7"/>
<path d="M1340.1 412.4V236.8H1365.5V412.4" fill="none" stroke="#34589c" stroke-width="1.7"/>
<line x1="1227.9" y1="413.5" x2="1227.9" y2="127.7" stroke="#111" stroke-width="2.2"/>
<line x1="1218.4" y1="127.7" x2="1227.9" y2="127.7" stroke="#111" stroke-width="2.2"/>
<text x="1214.6" y="136.6" font-size="25" text-anchor="end">15</text>
<line x1="1218.4" y1="223" x2="1227.9" y2="223" stroke="#111" stroke-width="2.2"/>
<text x="1214.6" y="231.9" font-size="25" text-anchor="end">10</text>
<line x1="1218.4" y1="317.7" x2="1227.9" y2="317.7" stroke="#111" stroke-width="2.2"/>
<text x="1214.6" y="326.6" font-size="25" text-anchor="end">5</text>
<line x1="1218.4" y1="412.4" x2="1227.9" y2="412.4" stroke="#111" stroke-width="2.2"/>
<text x="1214.6" y="421.3" font-size="25" text-anchor="end">0</text>
<line x1="1218.4" y1="412.4" x2="1415" y2="412.4" stroke="#111" stroke-width="2.2"/>
<line x1="1275.8" y1="412.4" x2="1275.8" y2="422.2" stroke="#111" stroke-width="2.2"/>
<line x1="1370.2" y1="412.4" x2="1370.2" y2="422.2" stroke="#111" stroke-width="2.2"/>
<circle cx="1258" cy="274.1" r="8.9" fill="#2c63b4" stroke="#0a0a14" stroke-width="1.9"/>
<circle cx="1258" cy="240.4" r="8.9" fill="#2c63b4" stroke="#0a0a14" stroke-width="1.9"/>
<circle cx="1258" cy="231.5" r="8.9" fill="#2c63b4" stroke="#0a0a14" stroke-width="1.9"/>
<circle cx="1254.5" cy="220" r="8.9" fill="#2c63b4" stroke="#0a0a14" stroke-width="1.9"/>
<circle cx="1261.6" cy="218.2" r="8.9" fill="#2c63b4" stroke="#0a0a14" stroke-width="1.9"/>
<line x1="1258" y1="227" x2="1258" y2="247.5" stroke="#111" stroke-width="2"/>
<line x1="1252" y1="227" x2="1264" y2="227" stroke="#111" stroke-width="2"/>
<line x1="1252" y1="247.5" x2="1264" y2="247.5" stroke="#111" stroke-width="2"/>
<circle cx="1352.6" cy="270.5" r="8.9" fill="#2c63b4" stroke="#0a0a14" stroke-width="1.9"/>
<circle cx="1347.6" cy="242.2" r="8.9" fill="#2c63b4" stroke="#0a0a14" stroke-width="1.9"/>
<circle cx="1356.5" cy="250.1" r="8.9" fill="#2c63b4" stroke="#0a0a14" stroke-width="1.9"/>
<circle cx="1355.6" cy="228" r="8.9" fill="#2c63b4" stroke="#0a0a14" stroke-width="1.9"/>
<circle cx="1352.6" cy="205.3" r="8.9" fill="#2c63b4" stroke="#0a0a14" stroke-width="1.9"/>
<line x1="1353.8" y1="228" x2="1353.8" y2="250.1" stroke="#111" stroke-width="2"/>
<line x1="1348.3" y1="228" x2="1359.3" y2="228" stroke="#111" stroke-width="2"/>
<line x1="1348.3" y1="250.1" x2="1359.3" y2="250.1" stroke="#111" stroke-width="2"/>
<circle cx="1296.5" cy="409.5" r="8.9" fill="#ea4038" stroke="#0a0a14" stroke-width="1.9"/>
<circle cx="1300.5" cy="414" r="8.9" fill="#ea4038" stroke="#0a0a14" stroke-width="1.9"/>
<circle cx="1295" cy="414.5" r="8.9" fill="#ea4038" stroke="#0a0a14" stroke-width="1.9"/>
<circle cx="1299" cy="410" r="8.9" fill="#ea4038" stroke="#0a0a14" stroke-width="1.9"/>
<line x1="1298" y1="411" x2="1298" y2="413" stroke="#111" stroke-width="2"/>
<line x1="1293" y1="411" x2="1303" y2="411" stroke="#111" stroke-width="2"/>
<line x1="1293" y1="413" x2="1303" y2="413" stroke="#111" stroke-width="2"/>
<circle cx="1393" cy="408.5" r="8.9" fill="#ea4038" stroke="#0a0a14" stroke-width="1.9"/>
<circle cx="1397" cy="410.5" r="8.9" fill="#ea4038" stroke="#0a0a14" stroke-width="1.9"/>
<circle cx="1392" cy="414.5" r="8.9" fill="#ea4038" stroke="#0a0a14" stroke-width="1.9"/>
<circle cx="1397.5" cy="414.8" r="8.9" fill="#ea4038" stroke="#0a0a14" stroke-width="1.9"/>
<line x1="1395" y1="410" x2="1395" y2="413" stroke="#111" stroke-width="2"/>
<line x1="1390" y1="410" x2="1400" y2="410" stroke="#111" stroke-width="2"/>
<line x1="1390" y1="413" x2="1400" y2="413" stroke="#111" stroke-width="2"/>
<line x1="1259" y1="185.4" x2="1298" y2="185.4" stroke="#333" stroke-width="1.3"/>
<text x="1279.6" y="188" font-size="36" text-anchor="middle" font-weight="bold" fill="#222" letter-spacing="2.2">***</text>
<line x1="1353.8" y1="185.4" x2="1392.9" y2="185.4" stroke="#333" stroke-width="1.3"/>
<text x="1374.4" y="188" font-size="36" text-anchor="middle" font-weight="bold" fill="#222" letter-spacing="2.2">***</text>
<path d="M1467.6 412.4V199.6H1493.6V412.4" fill="none" stroke="#34589c" stroke-width="1.7"/>
<path d="M1562.5 412.4V199.6H1588.4V412.4" fill="none" stroke="#34589c" stroke-width="1.7"/>
<line x1="1451.1" y1="413.5" x2="1451.1" y2="128" stroke="#111" stroke-width="2.2"/>
<line x1="1441.6" y1="128" x2="1451.1" y2="128" stroke="#111" stroke-width="2.2"/>
<text x="1437.8" y="136.9" font-size="25" text-anchor="end">10</text>
<line x1="1441.6" y1="266.4" x2="1451.1" y2="266.4" stroke="#111" stroke-width="2.2"/>
<text x="1437.8" y="275.3" font-size="25" text-anchor="end">5</text>
<line x1="1441.6" y1="412.4" x2="1451.1" y2="412.4" stroke="#111" stroke-width="2.2"/>
<text x="1437.8" y="421.3" font-size="25" text-anchor="end">0</text>
<line x1="1441.6" y1="412.4" x2="1635.9" y2="412.4" stroke="#111" stroke-width="2.2"/>
<line x1="1498.1" y1="412.4" x2="1498.1" y2="422.2" stroke="#111" stroke-width="2.2"/>
<line x1="1592.5" y1="412.4" x2="1592.5" y2="422.2" stroke="#111" stroke-width="2.2"/>
<circle cx="1479.8" cy="214.7" r="8.9" fill="#2c63b4" stroke="#0a0a14" stroke-width="1.9"/>
<circle cx="1482.5" cy="212.9" r="8.9" fill="#2c63b4" stroke="#0a0a14" stroke-width="1.9"/>
<circle cx="1484.3" cy="191.6" r="8.9" fill="#2c63b4" stroke="#0a0a14" stroke-width="1.9"/>
<circle cx="1476.3" cy="186.3" r="8.9" fill="#2c63b4" stroke="#0a0a14" stroke-width="1.9"/>
<circle cx="1480.2" cy="180.1" r="8.9" fill="#2c63b4" stroke="#0a0a14" stroke-width="1.9"/>
<line x1="1481.6" y1="190.7" x2="1481.6" y2="204" stroke="#111" stroke-width="2"/>
<line x1="1474.1" y1="190.7" x2="1489.1" y2="190.7" stroke="#111" stroke-width="2"/>
<line x1="1474.1" y1="204" x2="1489.1" y2="204" stroke="#111" stroke-width="2"/>
<circle cx="1572.1" cy="228.8" r="8.9" fill="#2c63b4" stroke="#0a0a14" stroke-width="1.9"/>
<circle cx="1579.5" cy="216.4" r="8.9" fill="#2c63b4" stroke="#0a0a14" stroke-width="1.9"/>
<circle cx="1571.2" cy="186.3" r="8.9" fill="#2c63b4" stroke="#0a0a14" stroke-width="1.9"/>
<circle cx="1579.5" cy="187.2" r="8.9" fill="#2c63b4" stroke="#0a0a14" stroke-width="1.9"/>
<circle cx="1575.6" cy="173" r="8.9" fill="#2c63b4" stroke="#0a0a14" stroke-width="1.9"/>
<line x1="1575.6" y1="190.7" x2="1575.6" y2="212.5" stroke="#111" stroke-width="2"/>
<line x1="1569.4" y1="190.7" x2="1581.8" y2="190.7" stroke="#111" stroke-width="2"/>
<line x1="1569.4" y1="212.5" x2="1581.8" y2="212.5" stroke="#111" stroke-width="2"/>
<circle cx="1514" cy="410" r="8.9" fill="#ea4038" stroke="#0a0a14" stroke-width="1.9"/>
<circle cx="1518.5" cy="413.5" r="8.9" fill="#ea4038" stroke="#0a0a14" stroke-width="1.9"/>
<circle cx="1513" cy="414.5" r="8.9" fill="#ea4038" stroke="#0a0a14" stroke-width="1.9"/>
<circle cx="1517" cy="409" r="8.9" fill="#ea4038" stroke="#0a0a14" stroke-width="1.9"/>
<line x1="1516" y1="410.5" x2="1516" y2="413.5" stroke="#111" stroke-width="2"/>
<line x1="1511" y1="410.5" x2="1521" y2="410.5" stroke="#111" stroke-width="2"/>
<line x1="1511" y1="413.5" x2="1521" y2="413.5" stroke="#111" stroke-width="2"/>
<circle cx="1623.3" cy="402.7" r="8.9" fill="#ea4038" stroke="#0a0a14" stroke-width="1.9"/>
<circle cx="1607.3" cy="414.9" r="8.9" fill="#ea4038" stroke="#0a0a14" stroke-width="1.9"/>
<circle cx="1609.5" cy="414.9" r="8.9" fill="#ea4038" stroke="#0a0a14" stroke-width="1.9"/>
<circle cx="1612.4" cy="414.9" r="8.9" fill="#ea4038" stroke="#0a0a14" stroke-width="1.9"/>
<circle cx="1619.5" cy="413.8" r="8.9" fill="#ea4038" stroke="#0a0a14" stroke-width="1.9"/>
<circle cx="1613.7" cy="396.1" r="8.9" fill="#ea4038" stroke="#0a0a14" stroke-width="1.9"/>
<line x1="1616.4" y1="407.2" x2="1616.4" y2="411.6" stroke="#111" stroke-width="2"/>
<line x1="1610.4" y1="407.2" x2="1622.4" y2="407.2" stroke="#111" stroke-width="2"/>
<line x1="1610.4" y1="411.6" x2="1622.4" y2="411.6" stroke="#111" stroke-width="2"/>
<line x1="1480.7" y1="153.5" x2="1519.7" y2="153.5" stroke="#333" stroke-width="1.3"/>
<text x="1501.3" y="156.1" font-size="36" text-anchor="middle" font-weight="bold" fill="#222" letter-spacing="2.2">***</text>
<line x1="1577.9" y1="153.5" x2="1616.4" y2="153.5" stroke="#333" stroke-width="1.3"/>
<text x="1598.2" y="156.1" font-size="36" text-anchor="middle" font-weight="bold" fill="#222" letter-spacing="2.2">***</text>
<text x="1289.4" y="442.1" font-size="25" text-anchor="end" transform="rotate(-45 1289.4 442.1)">&#8211; ABX</text>
<text x="1391.4" y="442.1" font-size="25" text-anchor="end" transform="rotate(-45 1391.4 442.1)">+ ABX</text>
<text x="1515.3" y="446.4" font-size="25" text-anchor="end" transform="rotate(-45 1515.3 446.4)">&#8211; ABX</text>
<text x="1610.6" y="446.4" font-size="25" text-anchor="end" transform="rotate(-45 1610.6 446.4)">+ ABX</text>
<circle cx="1670.6" cy="175.2" r="10.5" fill="#2c63b4" stroke="#0a0a14" stroke-width="1.9"/>
<circle cx="1670.6" cy="208.4" r="10.5" fill="#ea4038" stroke="#0a0a14" stroke-width="1.9"/>
<text x="1697.3" y="185.4" font-size="24.3">WT</text>
<text x="1695.4" y="219.8" font-size="24.3"><tspan font-size="21.5">&#916;</tspan>CARD</text>
<text x="1695.4" y="250.5" font-size="24.3">NOD1</text>
<text x="2" y="602.5" font-size="50" font-weight="bold" fill="#231f20">b</text>
<text x="800" y="602.5" font-size="50" font-weight="bold" fill="#231f20">c</text>
<text x="112.2" y="837.2" font-size="29.3" text-anchor="middle" transform="rotate(-90 112.2 837.2)">Cell number (x10<tspan font-size="17" dy="-11">-6</tspan><tspan dy="11">)</tspan></text>
<text x="930" y="837.2" font-size="29.3" text-anchor="middle" transform="rotate(-90 930 837.2)">Cell number (x10<tspan font-size="17" dy="-11">-6</tspan><tspan dy="11">)</tspan></text>
<text x="242" y="624" font-size="29" text-anchor="middle">Thymus</text>
<text x="423" y="626.5" font-size="29" text-anchor="middle">Spleen</text>
<text x="607" y="610.5" font-size="29" text-anchor="middle">Lymph</text>
<text x="606" y="645.5" font-size="29" text-anchor="middle">Nodes</text>
<text x="1045.4" y="624.3" font-size="29" text-anchor="middle">Thymus</text>
<text x="1230" y="624.3" font-size="29" text-anchor="middle">Spleen</text>
<text x="1416" y="610.5" font-size="29" text-anchor="middle">Lymph</text>
<text x="1414" y="645.5" font-size="29" text-anchor="middle">Nodes</text>
<path d="M201.6 989.4V776.5H234.2V989.4" fill="none" stroke="#31589a" stroke-width="1.9"/>
<path d="M253.1 989.4V837.6H285.1V989.4" fill="none" stroke="#3b8262" stroke-width="1.9"/>
<line x1="182.8" y1="990.5" x2="182.8" y2="687.3" stroke="#111" stroke-width="2.2"/>
<line x1="178.8" y1="687.3" x2="182.8" y2="687.3" stroke="#111" stroke-width="2.2"/>
<text x="176.4" y="698" font-size="25" text-anchor="end">200</text>
<line x1="178.8" y1="838.3" x2="182.8" y2="838.3" stroke="#111" stroke-width="2.2"/>
<text x="176.4" y="849" font-size="25" text-anchor="end">100</text>
<line x1="178.8" y1="989.4" x2="182.8" y2="989.4" stroke="#111" stroke-width="2.2"/>
<text x="176.4" y="1000.1" font-size="25" text-anchor="end">0</text>
<line x1="178.8" y1="989.4" x2="303.4" y2="989.4" stroke="#111" stroke-width="2.2"/>
<line x1="218.2" y1="989.4" x2="218.2" y2="996.9" stroke="#111" stroke-width="2.2"/>
<line x1="269.1" y1="989.4" x2="269.1" y2="996.9" stroke="#111" stroke-width="2.2"/>
<circle cx="205.9" cy="796.1" r="8.9" fill="#2c63b4" stroke="#0a0a14" stroke-width="1.9"/>
<circle cx="229.9" cy="794.2" r="8.9" fill="#2c63b4" stroke="#0a0a14" stroke-width="1.9"/>
<circle cx="217.6" cy="789.7" r="8.9" fill="#2c63b4" stroke="#0a0a14" stroke-width="1.9"/>
<circle cx="229.5" cy="776" r="8.9" fill="#2c63b4" stroke="#0a0a14" stroke-width="1.9"/>
<circle cx="218.2" cy="715.6" r="8.9" fill="#2c63b4" stroke="#0a0a14" stroke-width="1.9"/>
<line x1="219" y1="759" x2="219" y2="790" stroke="#111" stroke-width="2"/>
<line x1="210" y1="759" x2="228" y2="759" stroke="#111" stroke-width="2"/>
<line x1="210" y1="790" x2="228" y2="790" stroke="#111" stroke-width="2"/>
<polygon points="269.1,865.9 277.7,882.1 260.5,882.1" fill="#2f8d5b" stroke="#0a0a0a" stroke-width="2" stroke-linejoin="miter"/>
<polygon points="281.4,822.9 290,839.1 272.8,839.1" fill="#2f8d5b" stroke="#0a0a0a" stroke-width="2" stroke-linejoin="miter"/>
<polygon points="257.2,815.4 265.8,831.6 248.6,831.6" fill="#2f8d5b" stroke="#0a0a0a" stroke-width="2" stroke-linejoin="miter"/>
<polygon points="273.3,817.4 281.9,833.6 264.7,833.6" fill="#2f8d5b" stroke="#0a0a0a" stroke-width="2" stroke-linejoin="miter"/>
<polygon points="265.7,820.1 274.3,836.3 257.1,836.3" fill="#2f8d5b" stroke="#0a0a0a" stroke-width="2" stroke-linejoin="miter"/>
<line x1="269.1" y1="826" x2="269.1" y2="845.7" stroke="#111" stroke-width="2"/>
<line x1="260.4" y1="826" x2="277.8" y2="826" stroke="#111" stroke-width="2"/>
<line x1="260.4" y1="845.7" x2="277.8" y2="845.7" stroke="#111" stroke-width="2"/>
<line x1="219.5" y1="696.8" x2="270.8" y2="696.8" stroke="#333" stroke-width="1.3"/>
<text x="246.2" y="699.4" font-size="36" text-anchor="middle" font-weight="bold" fill="#222" letter-spacing="2.2">**</text>
<path d="M377.6 989.4V759.8H410.2V989.4" fill="none" stroke="#31589a" stroke-width="1.9"/>
<path d="M430.2 989.4V818.5H462.9V989.4" fill="none" stroke="#3b8262" stroke-width="1.9"/>
<line x1="358.9" y1="990.5" x2="358.9" y2="686" stroke="#111" stroke-width="2.2"/>
<line x1="354.9" y1="686" x2="358.9" y2="686" stroke="#111" stroke-width="2.2"/>
<text x="352.5" y="696.7" font-size="25" text-anchor="end">80</text>
<line x1="354.9" y1="837.4" x2="358.9" y2="837.4" stroke="#111" stroke-width="2.2"/>
<text x="352.5" y="848.1" font-size="25" text-anchor="end">40</text>
<line x1="354.9" y1="989.4" x2="358.9" y2="989.4" stroke="#111" stroke-width="2.2"/>
<text x="352.5" y="1000.1" font-size="25" text-anchor="end">0</text>
<line x1="354.9" y1="989.4" x2="480.5" y2="989.4" stroke="#111" stroke-width="2.2"/>
<line x1="393.8" y1="989.4" x2="393.8" y2="996.9" stroke="#111" stroke-width="2.2"/>
<line x1="446.2" y1="989.4" x2="446.2" y2="996.9" stroke="#111" stroke-width="2.2"/>
<circle cx="394.2" cy="796.2" r="8.9" fill="#2c63b4" stroke="#0a0a14" stroke-width="1.9"/>
<circle cx="381.8" cy="742.2" r="8.9" fill="#2c63b4" stroke="#0a0a14" stroke-width="1.9"/>
<circle cx="394.2" cy="741.1" r="8.9" fill="#2c63b4" stroke="#0a0a14" stroke-width="1.9"/>
<circle cx="406.1" cy="747.8" r="8.9" fill="#2c63b4" stroke="#0a0a14" stroke-width="1.9"/>
<circle cx="394.2" cy="761.3" r="8.9" fill="#2c63b4" stroke="#0a0a14" stroke-width="1.9"/>
<line x1="394.2" y1="747.8" x2="394.2" y2="768.6" stroke="#111" stroke-width="2"/>
<line x1="384.4" y1="747.8" x2="403.9" y2="747.8" stroke="#111" stroke-width="2"/>
<line x1="384.4" y1="768.6" x2="403.9" y2="768.6" stroke="#111" stroke-width="2"/>
<polygon points="434.2,832.4 442.8,848.6 425.6,848.6" fill="#2f8d5b" stroke="#0a0a0a" stroke-width="2" stroke-linejoin="miter"/>
<polygon points="458.1,827.1 466.7,843.3 449.5,843.3" fill="#2f8d5b" stroke="#0a0a0a" stroke-width="2" stroke-linejoin="miter"/>
<polygon points="434.2,814.7 442.8,830.9 425.6,830.9" fill="#2f8d5b" stroke="#0a0a0a" stroke-width="2" stroke-linejoin="miter"/>
<polygon points="458.1,801.2 466.7,817.4 449.5,817.4" fill="#2f8d5b" stroke="#0a0a0a" stroke-width="2" stroke-linejoin="miter"/>
<polygon points="446.2,769.4 454.8,785.6 437.6,785.6" fill="#2f8d5b" stroke="#0a0a0a" stroke-width="2" stroke-linejoin="miter"/>
<line x1="446.6" y1="804.6" x2="446.6" y2="826.4" stroke="#111" stroke-width="2"/>
<line x1="437.5" y1="804.6" x2="455.8" y2="804.6" stroke="#111" stroke-width="2"/>
<line x1="437.5" y1="826.4" x2="455.8" y2="826.4" stroke="#111" stroke-width="2"/>
<line x1="393.2" y1="697" x2="443.7" y2="697" stroke="#333" stroke-width="1.3"/>
<text x="423.4" y="699.6" font-size="36" text-anchor="middle" font-weight="bold" fill="#222" letter-spacing="2.2">*</text>
<path d="M567.9 989.4V757.8H600.1V989.4" fill="none" stroke="#31589a" stroke-width="1.9"/>
<path d="M619.9 989.4V825.4H652.8V989.4" fill="none" stroke="#3b8262" stroke-width="1.9"/>
<line x1="548.1" y1="990.5" x2="548.1" y2="686" stroke="#111" stroke-width="2.2"/>
<line x1="544.1" y1="686" x2="548.1" y2="686" stroke="#111" stroke-width="2.2"/>
<text x="541.7" y="696.7" font-size="25" text-anchor="end">24</text>
<line x1="544.1" y1="837.4" x2="548.1" y2="837.4" stroke="#111" stroke-width="2.2"/>
<text x="541.7" y="848.1" font-size="25" text-anchor="end">12</text>
<line x1="544.1" y1="989.4" x2="548.1" y2="989.4" stroke="#111" stroke-width="2.2"/>
<text x="541.7" y="1000.1" font-size="25" text-anchor="end">0</text>
<line x1="544.1" y1="989.4" x2="670.9" y2="989.4" stroke="#111" stroke-width="2.2"/>
<line x1="584.1" y1="989.4" x2="584.1" y2="996.9" stroke="#111" stroke-width="2.2"/>
<line x1="636.5" y1="989.4" x2="636.5" y2="996.9" stroke="#111" stroke-width="2.2"/>
<circle cx="584.1" cy="851.3" r="8.9" fill="#2c63b4" stroke="#0a0a14" stroke-width="1.9"/>
<circle cx="572.5" cy="739.5" r="8.9" fill="#2c63b4" stroke="#0a0a14" stroke-width="1.9"/>
<circle cx="596" cy="744.7" r="8.9" fill="#2c63b4" stroke="#0a0a14" stroke-width="1.9"/>
<circle cx="596" cy="726.1" r="8.9" fill="#2c63b4" stroke="#0a0a14" stroke-width="1.9"/>
<circle cx="572.1" cy="716.2" r="8.9" fill="#2c63b4" stroke="#0a0a14" stroke-width="1.9"/>
<line x1="584.1" y1="730.3" x2="584.1" y2="779.6" stroke="#111" stroke-width="2"/>
<line x1="575.6" y1="730.3" x2="592.6" y2="730.3" stroke="#111" stroke-width="2"/>
<line x1="575.6" y1="779.6" x2="592.6" y2="779.6" stroke="#111" stroke-width="2"/>
<polygon points="636.5,854.6 645.1,870.8 627.9,870.8" fill="#2f8d5b" stroke="#0a0a0a" stroke-width="2" stroke-linejoin="miter"/>
<polygon points="648.4,830.7 657,846.9 639.8,846.9" fill="#2f8d5b" stroke="#0a0a0a" stroke-width="2" stroke-linejoin="miter"/>
<polygon points="624.5,817.8 633.1,834 615.9,834" fill="#2f8d5b" stroke="#0a0a0a" stroke-width="2" stroke-linejoin="miter"/>
<polygon points="648.4,793.5 657,809.7 639.8,809.7" fill="#2f8d5b" stroke="#0a0a0a" stroke-width="2" stroke-linejoin="miter"/>
<polygon points="624.5,783.1 633.1,799.3 615.9,799.3" fill="#2f8d5b" stroke="#0a0a0a" stroke-width="2" stroke-linejoin="miter"/>
<line x1="636.5" y1="809.8" x2="636.5" y2="835.7" stroke="#111" stroke-width="2"/>
<line x1="627.8" y1="809.8" x2="645.2" y2="809.8" stroke="#111" stroke-width="2"/>
<line x1="627.8" y1="835.7" x2="645.2" y2="835.7" stroke="#111" stroke-width="2"/>
<path d="M1001.2 989.7V773.7H1033.9V989.7" fill="none" stroke="#31589a" stroke-width="1.9"/>
<path d="M1052.5 989.7V847.2H1087V989.7" fill="none" stroke="#cc4547" stroke-width="1.9"/>
<line x1="982.4" y1="990.8" x2="982.4" y2="688.3" stroke="#111" stroke-width="2.2"/>
<line x1="978.4" y1="688.3" x2="982.4" y2="688.3" stroke="#111" stroke-width="2.2"/>
<text x="976" y="699" font-size="25" text-anchor="end">160</text>
<line x1="978.4" y1="839" x2="982.4" y2="839" stroke="#111" stroke-width="2.2"/>
<text x="976" y="849.7" font-size="25" text-anchor="end">80</text>
<line x1="978.4" y1="989.7" x2="982.4" y2="989.7" stroke="#111" stroke-width="2.2"/>
<text x="976" y="1000.4" font-size="25" text-anchor="end">0</text>
<line x1="978.4" y1="989.7" x2="1106.8" y2="989.7" stroke="#111" stroke-width="2.2"/>
<line x1="1017.6" y1="989.7" x2="1017.6" y2="997.2" stroke="#111" stroke-width="2.2"/>
<line x1="1070" y1="989.7" x2="1070" y2="997.2" stroke="#111" stroke-width="2.2"/>
<circle cx="1017.6" cy="828.7" r="8.9" fill="#2c63b4" stroke="#0a0a14" stroke-width="1.9"/>
<circle cx="1017.6" cy="808.9" r="8.9" fill="#2c63b4" stroke="#0a0a14" stroke-width="1.9"/>
<circle cx="1017.6" cy="767.5" r="8.9" fill="#2c63b4" stroke="#0a0a14" stroke-width="1.9"/>
<circle cx="1017.6" cy="742.4" r="8.9" fill="#2c63b4" stroke="#0a0a14" stroke-width="1.9"/>
<circle cx="1017.6" cy="707.1" r="8.9" fill="#2c63b4" stroke="#0a0a14" stroke-width="1.9"/>
<line x1="1017.7" y1="751" x2="1017.7" y2="794.8" stroke="#111" stroke-width="2"/>
<line x1="1008.8" y1="751" x2="1026.7" y2="751" stroke="#111" stroke-width="2"/>
<line x1="1008.8" y1="794.8" x2="1026.7" y2="794.8" stroke="#111" stroke-width="2"/>
<circle cx="1070.6" cy="900.4" r="8.9" fill="#ec2734" stroke="#0a0a14" stroke-width="1.9"/>
<circle cx="1059.7" cy="868.3" r="8.9" fill="#ec2734" stroke="#0a0a14" stroke-width="1.9"/>
<circle cx="1080.8" cy="871.5" r="8.9" fill="#ec2734" stroke="#0a0a14" stroke-width="1.9"/>
<circle cx="1059.7" cy="801" r="8.9" fill="#ec2734" stroke="#0a0a14" stroke-width="1.9"/>
<circle cx="1080.8" cy="803.3" r="8.9" fill="#ec2734" stroke="#0a0a14" stroke-width="1.9"/>
<line x1="1070.6" y1="828.4" x2="1070.6" y2="868.9" stroke="#111" stroke-width="2"/>
<line x1="1061.6" y1="828.4" x2="1079.5" y2="828.4" stroke="#111" stroke-width="2"/>
<line x1="1061.6" y1="868.9" x2="1079.5" y2="868.9" stroke="#111" stroke-width="2"/>
<line x1="1018.2" y1="686" x2="1068.2" y2="686" stroke="#333" stroke-width="1.3"/>
<text x="1044.3" y="688.6" font-size="36" text-anchor="middle" font-weight="bold" fill="#222" letter-spacing="2.2">*</text>
<path d="M1187.8 989.7V752H1221.2V989.7" fill="none" stroke="#31589a" stroke-width="1.9"/>
<path d="M1240.8 989.7V898.7H1273.2V989.7" fill="none" stroke="#cc4547" stroke-width="1.9"/>
<line x1="1169.2" y1="990.8" x2="1169.2" y2="688.3" stroke="#111" stroke-width="2.2"/>
<line x1="1165.2" y1="688.3" x2="1169.2" y2="688.3" stroke="#111" stroke-width="2.2"/>
<text x="1162.8" y="699" font-size="25" text-anchor="end">80</text>
<line x1="1165.2" y1="839" x2="1169.2" y2="839" stroke="#111" stroke-width="2.2"/>
<text x="1162.8" y="849.7" font-size="25" text-anchor="end">40</text>
<line x1="1165.2" y1="989.7" x2="1169.2" y2="989.7" stroke="#111" stroke-width="2.2"/>
<text x="1162.8" y="1000.4" font-size="25" text-anchor="end">0</text>
<line x1="1165.2" y1="989.7" x2="1292" y2="989.7" stroke="#111" stroke-width="2.2"/>
<line x1="1204.6" y1="989.7" x2="1204.6" y2="997.2" stroke="#111" stroke-width="2.2"/>
<line x1="1256.6" y1="989.7" x2="1256.6" y2="997.2" stroke="#111" stroke-width="2.2"/>
<circle cx="1193.3" cy="775.7" r="8.9" fill="#2c63b4" stroke="#0a0a14" stroke-width="1.9"/>
<circle cx="1203" cy="756.7" r="8.9" fill="#2c63b4" stroke="#0a0a14" stroke-width="1.9"/>
<circle cx="1214.5" cy="758.5" r="8.9" fill="#2c63b4" stroke="#0a0a14" stroke-width="1.9"/>
<circle cx="1193.3" cy="740.5" r="8.9" fill="#2c63b4" stroke="#0a0a14" stroke-width="1.9"/>
<circle cx="1214.5" cy="729.2" r="8.9" fill="#2c63b4" stroke="#0a0a14" stroke-width="1.9"/>
<line x1="1203.6" y1="743.6" x2="1203.6" y2="759.8" stroke="#111" stroke-width="2"/>
<line x1="1194.7" y1="743.6" x2="1212.5" y2="743.6" stroke="#111" stroke-width="2"/>
<line x1="1194.7" y1="759.8" x2="1212.5" y2="759.8" stroke="#111" stroke-width="2"/>
<circle cx="1245.9" cy="938.2" r="8.9" fill="#ec2734" stroke="#0a0a14" stroke-width="1.9"/>
<circle cx="1267.1" cy="922" r="8.9" fill="#ec2734" stroke="#0a0a14" stroke-width="1.9"/>
<circle cx="1245.9" cy="905.9" r="8.9" fill="#ec2734" stroke="#0a0a14" stroke-width="1.9"/>
<circle cx="1267.1" cy="902.8" r="8.9" fill="#ec2734" stroke="#0a0a14" stroke-width="1.9"/>
<circle cx="1257" cy="825.9" r="8.9" fill="#ec2734" stroke="#0a0a14" stroke-width="1.9"/>
<line x1="1256.6" y1="879.5" x2="1256.6" y2="918" stroke="#111" stroke-width="2"/>
<line x1="1247.7" y1="879.5" x2="1265.5" y2="879.5" stroke="#111" stroke-width="2"/>
<line x1="1247.7" y1="918" x2="1265.5" y2="918" stroke="#111" stroke-width="2"/>
<line x1="1206.6" y1="685.9" x2="1257" y2="685.9" stroke="#333" stroke-width="1.3"/>
<text x="1232.9" y="688.5" font-size="36" text-anchor="middle" font-weight="bold" fill="#222" letter-spacing="2.2">***</text>
<path d="M1374.6 989.7V775.5H1407.3V989.7" fill="none" stroke="#31589a" stroke-width="1.9"/>
<path d="M1427 989.7V877.5H1460V989.7" fill="none" stroke="#cc4547" stroke-width="1.9"/>
<line x1="1355.3" y1="990.8" x2="1355.3" y2="688.3" stroke="#111" stroke-width="2.2"/>
<line x1="1351.3" y1="688.3" x2="1355.3" y2="688.3" stroke="#111" stroke-width="2.2"/>
<text x="1348.9" y="699" font-size="25" text-anchor="end">28</text>
<line x1="1351.3" y1="839" x2="1355.3" y2="839" stroke="#111" stroke-width="2.2"/>
<text x="1348.9" y="849.7" font-size="25" text-anchor="end">14</text>
<line x1="1351.3" y1="989.7" x2="1355.3" y2="989.7" stroke="#111" stroke-width="2.2"/>
<text x="1348.9" y="1000.4" font-size="25" text-anchor="end">0</text>
<line x1="1351.3" y1="989.7" x2="1478.2" y2="989.7" stroke="#111" stroke-width="2.2"/>
<line x1="1391.1" y1="989.7" x2="1391.1" y2="997.2" stroke="#111" stroke-width="2.2"/>
<line x1="1442.7" y1="989.7" x2="1442.7" y2="997.2" stroke="#111" stroke-width="2.2"/>
<circle cx="1381.8" cy="816.4" r="8.9" fill="#2c63b4" stroke="#0a0a14" stroke-width="1.9"/>
<circle cx="1402.3" cy="811.8" r="8.9" fill="#2c63b4" stroke="#0a0a14" stroke-width="1.9"/>
<circle cx="1381" cy="772.9" r="8.9" fill="#2c63b4" stroke="#0a0a14" stroke-width="1.9"/>
<circle cx="1402.7" cy="772.9" r="8.9" fill="#2c63b4" stroke="#0a0a14" stroke-width="1.9"/>
<circle cx="1391.8" cy="705.5" r="8.9" fill="#2c63b4" stroke="#0a0a14" stroke-width="1.9"/>
<line x1="1392.2" y1="755.7" x2="1392.2" y2="795.2" stroke="#111" stroke-width="2"/>
<line x1="1383" y1="755.7" x2="1401.4" y2="755.7" stroke="#111" stroke-width="2"/>
<line x1="1383" y1="795.2" x2="1401.4" y2="795.2" stroke="#111" stroke-width="2"/>
<circle cx="1433.2" cy="898.8" r="8.9" fill="#ec2734" stroke="#0a0a14" stroke-width="1.9"/>
<circle cx="1451.9" cy="891.7" r="8.9" fill="#ec2734" stroke="#0a0a14" stroke-width="1.9"/>
<circle cx="1443.8" cy="881.6" r="8.9" fill="#ec2734" stroke="#0a0a14" stroke-width="1.9"/>
<circle cx="1434.2" cy="854.7" r="8.9" fill="#ec2734" stroke="#0a0a14" stroke-width="1.9"/>
<circle cx="1452.9" cy="854.7" r="8.9" fill="#ec2734" stroke="#0a0a14" stroke-width="1.9"/>
<line x1="1443.8" y1="867.4" x2="1443.8" y2="879.5" stroke="#111" stroke-width="2"/>
<line x1="1434.6" y1="867.4" x2="1453" y2="867.4" stroke="#111" stroke-width="2"/>
<line x1="1434.6" y1="879.5" x2="1453" y2="879.5" stroke="#111" stroke-width="2"/>
<line x1="1390.7" y1="685.9" x2="1441.3" y2="685.9" stroke="#333" stroke-width="1.3"/>
<text x="1417.1" y="688.5" font-size="36" text-anchor="middle" font-weight="bold" fill="#222" letter-spacing="2.2">***</text>
<text x="229.7" y="1016.1" font-size="25" text-anchor="end" transform="rotate(-45 229.7 1016.1)">WT</text>
<text x="229.1" y="1067.9" font-size="25" transform="rotate(-45 229.1 1067.9)">NOD1<tspan font-size="13.5" dy="-8.5" dx="0.5">-/-</tspan></text>
<text x="405.3" y="1016.1" font-size="25" text-anchor="end" transform="rotate(-45 405.3 1016.1)">WT</text>
<text x="406.2" y="1067.9" font-size="25" transform="rotate(-45 406.2 1067.9)">NOD1<tspan font-size="13.5" dy="-8.5" dx="0.5">-/-</tspan></text>
<text x="595.6" y="1016.1" font-size="25" text-anchor="end" transform="rotate(-45 595.6 1016.1)">WT</text>
<text x="596.5" y="1067.9" font-size="25" transform="rotate(-45 596.5 1067.9)">NOD1<tspan font-size="13.5" dy="-8.5" dx="0.5">-/-</tspan></text>
<text x="1028.6" y="1016.4" font-size="25" text-anchor="end" transform="rotate(-45 1028.6 1016.4)">WT</text>
<text x="1094.1" y="1011.6" font-size="25" text-anchor="end" transform="rotate(-45 1094.1 1011.6)">&#916;CARD</text>
<text x="1115" y="1032.5" font-size="25" text-anchor="end" transform="rotate(-45 1115 1032.5)">NOD1</text>
<text x="1215.6" y="1016.4" font-size="25" text-anchor="end" transform="rotate(-45 1215.6 1016.4)">WT</text>
<text x="1280.7" y="1011.6" font-size="25" text-anchor="end" transform="rotate(-45 1280.7 1011.6)">&#916;CARD</text>
<text x="1301.6" y="1032.5" font-size="25" text-anchor="end" transform="rotate(-45 1301.6 1032.5)">NOD1</text>
<text x="1402.1" y="1016.4" font-size="25" text-anchor="end" transform="rotate(-45 1402.1 1016.4)">WT</text>
<text x="1466.8" y="1011.6" font-size="25" text-anchor="end" transform="rotate(-45 1466.8 1011.6)">&#916;CARD</text>
<text x="1487.7" y="1032.5" font-size="25" text-anchor="end" transform="rotate(-45 1487.7 1032.5)">NOD1</text>
<text x="2" y="1150.5" font-size="50" font-weight="bold" fill="#231f20">d</text>
<line x1="187.7" y1="1267.8" x2="187.7" y2="1627.3" stroke="#111" stroke-width="2.2"/>
<line x1="174.5" y1="1614.2" x2="580.9" y2="1614.2" stroke="#111" stroke-width="2.2"/>
<line x1="174.5" y1="1267.8" x2="187.7" y2="1267.8" stroke="#111" stroke-width="2.2"/>
<text x="165" y="1277.3" font-size="25" text-anchor="end">100</text>
<line x1="174.5" y1="1441" x2="187.7" y2="1441" stroke="#111" stroke-width="2.2"/>
<text x="165" y="1450.5" font-size="25" text-anchor="end">50</text>
<line x1="174.5" y1="1614.2" x2="187.7" y2="1614.2" stroke="#111" stroke-width="2.2"/>
<text x="165" y="1623.7" font-size="25" text-anchor="end">0</text>
<line x1="187.7" y1="1614.2" x2="187.7" y2="1627.3" stroke="#111" stroke-width="2.2"/>
<text x="187.7" y="1660" font-size="25" text-anchor="middle">0</text>
<line x1="318.8" y1="1614.2" x2="318.8" y2="1627.3" stroke="#111" stroke-width="2.2"/>
<text x="318.8" y="1660" font-size="25" text-anchor="middle">10</text>
<line x1="449.8" y1="1614.2" x2="449.8" y2="1627.3" stroke="#111" stroke-width="2.2"/>
<text x="449.8" y="1660" font-size="25" text-anchor="middle">20</text>
<line x1="580.9" y1="1614.2" x2="580.9" y2="1627.3" stroke="#111" stroke-width="2.2"/>
<text x="580.9" y="1660" font-size="25" text-anchor="middle">30</text>
<text x="387.2" y="1697" font-size="30.1" text-anchor="middle">Days post infection</text>
<text x="107.5" y="1443.4" font-size="29.3" text-anchor="middle" transform="rotate(-90 107.5 1443.4)">Survival (%)</text>
<path d="M187.7 1267.8H306.1V1344.4H358.1V1383.2H580.9" fill="none" stroke="#2a62b0" stroke-width="1.9"/>
<path d="M305.5 1296.7H332.4V1325.4H345V1499.6H358.1V1614.2" fill="none" stroke="#e8403a" stroke-width="1.9"/>
<circle cx="306.1" cy="1344.4" r="10.2" fill="#2a62b0"/>
<circle cx="358.1" cy="1383.2" r="10.2" fill="#2a62b0"/>
<circle cx="580.9" cy="1383.2" r="10.2" fill="#2a62b0"/>
<circle cx="305.5" cy="1296.2" r="10.2" fill="#e8403a"/>
<circle cx="333.9" cy="1325.4" r="10.2" fill="#e8403a"/>
<circle cx="349.9" cy="1499.6" r="10.2" fill="#e8403a"/>
<circle cx="358.1" cy="1614.2" r="10.2" fill="#e8403a"/>
<polyline points="370.4,1475.3 386.5,1475.3 386.5,1400.8" fill="none" stroke="#555" stroke-width="1.2"/>
<text x="380.1" y="1440.6" font-size="38" text-anchor="middle" font-weight="bold" fill="#222" transform="rotate(90 380.1 1440.6)" letter-spacing="2.2">**</text>
<text x="387.2" y="1202.3" font-size="29.1">After co-housing</text>
<line x1="385.7" y1="1235.8" x2="419.1" y2="1235.8" stroke="#2a62b0" stroke-width="1.8"/>
<circle cx="402.2" cy="1235.8" r="10.8" fill="#2a62b0"/>
<text x="436.6" y="1243.6" font-size="28.1">WT</text>
<line x1="385.7" y1="1279.1" x2="419.1" y2="1279.1" stroke="#e8403a" stroke-width="1.8"/>
<circle cx="402.2" cy="1279.1" r="10.8" fill="#e8403a"/>
<text x="436.6" y="1286.6" font-size="28.1">&#916;CARD NOD1</text>
<text x="799" y="1150.5" font-size="50" font-weight="bold" fill="#231f20">e</text>
<text x="1003.6" y="1152.5" font-size="29.3" text-anchor="middle">Before</text>
<text x="1001.2" y="1190.3" font-size="29.3" text-anchor="middle">co-housing</text>
<text x="1180.3" y="1152.5" font-size="29.3" text-anchor="middle">After</text>
<text x="1180.9" y="1190.3" font-size="29.3" text-anchor="middle">co-housing</text>
<text x="838.3" y="1443.5" font-size="29.1" text-anchor="middle" transform="rotate(-90 838.3 1443.5)">Mean Relative Abundance</text>
<path d="M917.5 1693.2h-4.5M917.5 1669h-3.5M917.5 1644.8h-4.5M917.5 1620.6h-3.5M917.5 1596.4h-4.5M917.5 1572.2h-3.5M917.5 1548h-4.5M917.5 1523.8h-3.5M917.5 1499.6h-4.5M917.5 1475.4h-3.5M917.5 1451.2h-4.5M917.5 1427h-3.5M917.5 1402.8h-4.5M917.5 1378.6h-3.5M917.5 1354.4h-4.5M917.5 1330.2h-3.5M917.5 1306h-4.5M917.5 1281.8h-3.5M917.5 1257.6h-4.5M917.5 1233.4h-3.5M917.5 1209.2h-4.5" stroke="#7a7a80" stroke-width="1.3" fill="none"/>
<text x="906.8" y="1695.2" font-size="24.3" text-anchor="end">0.0</text>
<text x="906.8" y="1646.8" font-size="24.3" text-anchor="end">0.1</text>
<text x="906.8" y="1598.4" font-size="24.3" text-anchor="end">0.2</text>
<text x="906.8" y="1550" font-size="24.3" text-anchor="end">0.3</text>
<text x="906.8" y="1501.6" font-size="24.3" text-anchor="end">0.4</text>
<text x="906.8" y="1453.2" font-size="24.3" text-anchor="end">0.5</text>
<text x="906.8" y="1404.8" font-size="24.3" text-anchor="end">0.6</text>
<text x="906.8" y="1356.4" font-size="24.3" text-anchor="end">0.7</text>
<text x="906.8" y="1308" font-size="24.3" text-anchor="end">0.8</text>
<text x="906.8" y="1259.6" font-size="24.3" text-anchor="end">0.9</text>
<text x="906.8" y="1214.7" font-size="24.3" text-anchor="end">1.0</text>
<rect x="1331.5" y="1133.1" width="15.5" height="15" fill="#c6cdd5"/>
<text x="1355.3" y="1146" font-size="20.8">Other</text>
<rect x="1331.5" y="1154.6" width="15.5" height="15" fill="#dcdfd2"/>
<text x="1355.3" y="1167.5" font-size="20.8">No family</text>
<rect x="1331.5" y="1176" width="15.5" height="15" fill="#2d4a8d"/>
<text x="1355.3" y="1188.9" font-size="20.8">Akkermansiaceae</text>
<rect x="1331.5" y="1197.5" width="15.5" height="15" fill="#1a6fb9"/>
<text x="1355.3" y="1210.4" font-size="20.8">Bacteroidaceae</text>
<rect x="1331.5" y="1219" width="15.5" height="15" fill="#1ba1dc"/>
<text x="1355.3" y="1231.9" font-size="20.8">Bifidobacteriaceae</text>
<rect x="1331.5" y="1240.4" width="15.5" height="15" fill="#6cc5de"/>
<text x="1355.3" y="1253.3" font-size="20.8">Clostridiaceae</text>
<rect x="1331.5" y="1261.9" width="15.5" height="15" fill="#1e6b66"/>
<text x="1355.3" y="1274.8" font-size="20.8">Coriobacteriaceae</text>
<rect x="1331.5" y="1283.4" width="15.5" height="15" fill="#1e9585"/>
<text x="1355.3" y="1296.3" font-size="20.8">Desulfovibrionaceae</text>
<rect x="1331.5" y="1304.9" width="15.5" height="15" fill="#30b4a1"/>
<text x="1355.3" y="1317.8" font-size="20.8">Eggerthellaceae</text>
<rect x="1331.5" y="1326.3" width="15.5" height="15" fill="#7dc3bd"/>
<text x="1355.3" y="1339.2" font-size="20.8">Enterobacteriaceae</text>
<rect x="1331.5" y="1347.8" width="15.5" height="15" fill="#3f3b8b"/>
<text x="1355.3" y="1360.7" font-size="20.8">Erysipelotrichaceae</text>
<rect x="1331.5" y="1369.3" width="15.5" height="15" fill="#7670b0"/>
<text x="1355.3" y="1382.2" font-size="20.8">Eubacteriaceae</text>
<rect x="1331.5" y="1390.7" width="15.5" height="15" fill="#a3a3cc"/>
<text x="1355.3" y="1403.6" font-size="20.8">Eubacteriales Family XIII.Incertae Sedis</text>
<rect x="1331.5" y="1412.2" width="15.5" height="15" fill="#c8c7e0"/>
<text x="1355.3" y="1425.1" font-size="20.8">Helicobacteraceae</text>
<rect x="1331.5" y="1433.7" width="15.5" height="15" fill="#b5653a"/>
<text x="1355.3" y="1446.6" font-size="20.8">Lachnospiraceae</text>
<rect x="1331.5" y="1455.1" width="15.5" height="15" fill="#e48a57"/>
<text x="1355.3" y="1468" font-size="20.8">Lactobacillaceae</text>
<rect x="1331.5" y="1476.6" width="15.5" height="15" fill="#ecd056"/>
<text x="1355.3" y="1489.5" font-size="20.8">Mucispirillaceae</text>
<rect x="1331.5" y="1498.1" width="15.5" height="15" fill="#ede49b"/>
<text x="1355.3" y="1511" font-size="20.8">Muribaculaceae</text>
<rect x="1331.5" y="1519.6" width="15.5" height="15" fill="#8b1d2d"/>
<text x="1355.3" y="1532.5" font-size="20.8">Mycoplasmataceae</text>
<rect x="1331.5" y="1541" width="15.5" height="15" fill="#d6434a"/>
<text x="1355.3" y="1553.9" font-size="20.8">Odoribacteraceae</text>
<rect x="1331.5" y="1562.5" width="15.5" height="15" fill="#e67b79"/>
<text x="1355.3" y="1575.4" font-size="20.8">Oscillospiraceae</text>
<rect x="1331.5" y="1584" width="15.5" height="15" fill="#f2bdb3"/>
<text x="1355.3" y="1596.9" font-size="20.8">Peptococcaceae</text>
<rect x="1331.5" y="1605.4" width="15.5" height="15" fill="#6a1f5b"/>
<text x="1355.3" y="1618.3" font-size="20.8">Peptostreptococcaceae</text>
<rect x="1331.5" y="1626.9" width="15.5" height="15" fill="#b0418a"/>
<text x="1355.3" y="1639.8" font-size="20.8">Porphyromonadaceae</text>
<rect x="1331.5" y="1648.4" width="15.5" height="15" fill="#e087b3"/>
<text x="1355.3" y="1661.3" font-size="20.8">Prevotellaceae</text>
<rect x="1331.5" y="1669.8" width="15.5" height="15" fill="#ecc0d4"/>
<text x="1355.3" y="1682.8" font-size="20.8">Rikenellaceae</text>
<rect x="1331.5" y="1691.3" width="15.5" height="15" fill="#2d4a8d"/>
<text x="1355.3" y="1704.2" font-size="20.8">Staphylococcaceae</text>
<rect x="1331.5" y="1712.8" width="15.5" height="15" fill="#1a6fb9"/>
<text x="1355.3" y="1725.7" font-size="20.8">Streptococcaceae</text>
<rect x="1331.5" y="1734.3" width="15.5" height="15" fill="#1ba1dc"/>
<text x="1355.3" y="1747.2" font-size="20.8">Sutterellaceae</text>
<rect x="1331.5" y="1755.7" width="15.5" height="15" fill="#6cc5de"/>
<text x="1355.3" y="1768.6" font-size="20.8">Tannerellaceae</text>
<rect x="1331.5" y="1777.2" width="15.5" height="15" fill="#1e6b66"/>
<text x="1355.3" y="1790.1" font-size="20.8">Turicibacteraceae</text>
<rect x="924.2" y="1208.3" width="80.6" height="36.3" fill="#dcdfd2"/>
<rect x="924.2" y="1244.6" width="80.6" height="1" fill="#eef0f2"/>
<rect x="924.2" y="1245.6" width="80.6" height="4.4" fill="#2d4a8d"/>
<rect x="924.2" y="1250" width="80.6" height="54.5" fill="#1a6fb9"/>
<rect x="924.2" y="1304.5" width="80.6" height="7.1" fill="#6cc5de"/>
<rect x="924.2" y="1311.6" width="80.6" height="2.6" fill="#3f3b8b"/>
<rect x="924.2" y="1314.2" width="80.6" height="14.4" fill="#7670b0"/>
<rect x="924.2" y="1328.6" width="80.6" height="34.7" fill="#b5653a"/>
<rect x="924.2" y="1363.3" width="80.6" height="19.2" fill="#e48a57"/>
<rect x="924.2" y="1382.5" width="80.6" height="12.6" fill="#ecd056"/>
<rect x="924.2" y="1395.1" width="80.6" height="200.5" fill="#ede49b"/>
<rect x="924.2" y="1595.6" width="80.6" height="31.2" fill="#e67b79"/>
<rect x="924.2" y="1626.8" width="80.6" height="1.1" fill="#d6434a"/>
<rect x="924.2" y="1627.9" width="80.6" height="58.7" fill="#ecc0d4"/>
<rect x="924.2" y="1686.6" width="80.6" height="6.6" fill="#6cc5de"/>
<rect x="1014" y="1208.3" width="80.7" height="29.5" fill="#dcdfd2"/>
<rect x="1014" y="1237.8" width="80.7" height="21.8" fill="#1a6fb9"/>
<rect x="1014" y="1259.6" width="80.7" height="12.7" fill="#6cc5de"/>
<rect x="1014" y="1272.3" width="80.7" height="6" fill="#1e9585"/>
<rect x="1014" y="1278.3" width="80.7" height="3.5" fill="#3f3b8b"/>
<rect x="1014" y="1281.8" width="80.7" height="5.9" fill="#7670b0"/>
<rect x="1014" y="1287.7" width="80.7" height="30.2" fill="#c8c7e0"/>
<rect x="1014" y="1317.9" width="80.7" height="48.1" fill="#b5653a"/>
<rect x="1014" y="1366" width="80.7" height="18.8" fill="#e48a57"/>
<rect x="1014" y="1384.8" width="80.7" height="18.6" fill="#ecd056"/>
<rect x="1014" y="1403.4" width="80.7" height="36.2" fill="#ede49b"/>
<rect x="1014" y="1439.6" width="80.7" height="1.2" fill="#8b1d2d"/>
<rect x="1014" y="1440.8" width="80.7" height="7.5" fill="#d6434a"/>
<rect x="1014" y="1448.3" width="80.7" height="38.8" fill="#e67b79"/>
<rect x="1014" y="1487.1" width="80.7" height="1.4" fill="#6a1f5b"/>
<rect x="1014" y="1488.5" width="80.7" height="44" fill="#b0418a"/>
<rect x="1014" y="1532.5" width="80.7" height="132.2" fill="#e087b3"/>
<rect x="1014" y="1664.7" width="80.7" height="22.3" fill="#ecc0d4"/>
<rect x="1014" y="1687" width="80.7" height="3.5" fill="#1ba1dc"/>
<rect x="1014" y="1690.5" width="80.7" height="2.7" fill="#6cc5de"/>
<rect x="1104.3" y="1208.3" width="80.7" height="29.4" fill="#dcdfd2"/>
<rect x="1104.3" y="1237.7" width="80.7" height="12.3" fill="#2d4a8d"/>
<rect x="1104.3" y="1250" width="80.7" height="25.6" fill="#1a6fb9"/>
<rect x="1104.3" y="1275.6" width="80.7" height="4.4" fill="#6cc5de"/>
<rect x="1104.3" y="1280" width="80.7" height="6.6" fill="#1e9585"/>
<rect x="1104.3" y="1286.6" width="80.7" height="15.3" fill="#3f3b8b"/>
<rect x="1104.3" y="1301.9" width="80.7" height="6.6" fill="#7670b0"/>
<rect x="1104.3" y="1308.5" width="80.7" height="16.5" fill="#c8c7e0"/>
<rect x="1104.3" y="1325" width="80.7" height="25.8" fill="#b5653a"/>
<rect x="1104.3" y="1350.8" width="80.7" height="5.9" fill="#e48a57"/>
<rect x="1104.3" y="1356.7" width="80.7" height="8.8" fill="#ecd056"/>
<rect x="1104.3" y="1365.5" width="80.7" height="71.7" fill="#ede49b"/>
<rect x="1104.3" y="1437.2" width="80.7" height="6.1" fill="#d6434a"/>
<rect x="1104.3" y="1443.3" width="80.7" height="18.2" fill="#e67b79"/>
<rect x="1104.3" y="1461.5" width="80.7" height="95.3" fill="#b0418a"/>
<rect x="1104.3" y="1556.8" width="80.7" height="102.4" fill="#e087b3"/>
<rect x="1104.3" y="1659.2" width="80.7" height="21.9" fill="#ecc0d4"/>
<rect x="1104.3" y="1681.1" width="80.7" height="4" fill="#1ba1dc"/>
<rect x="1104.3" y="1685.1" width="80.7" height="8.1" fill="#6cc5de"/>
<rect x="1194.2" y="1208.3" width="80.7" height="32.9" fill="#dcdfd2"/>
<rect x="1194.2" y="1241.2" width="80.7" height="8.1" fill="#2d4a8d"/>
<rect x="1194.2" y="1249.3" width="80.7" height="22.6" fill="#1a6fb9"/>
<rect x="1194.2" y="1271.9" width="80.7" height="5.9" fill="#6cc5de"/>
<rect x="1194.2" y="1277.8" width="80.7" height="6.2" fill="#1e9585"/>
<rect x="1194.2" y="1284" width="80.7" height="11.4" fill="#3f3b8b"/>
<rect x="1194.2" y="1295.4" width="80.7" height="7.2" fill="#7670b0"/>
<rect x="1194.2" y="1302.6" width="80.7" height="22.4" fill="#c8c7e0"/>
<rect x="1194.2" y="1325" width="80.7" height="37.2" fill="#b5653a"/>
<rect x="1194.2" y="1362.2" width="80.7" height="4.8" fill="#e48a57"/>
<rect x="1194.2" y="1367" width="80.7" height="13.9" fill="#ecd056"/>
<rect x="1194.2" y="1380.9" width="80.7" height="61.3" fill="#ede49b"/>
<rect x="1194.2" y="1442.2" width="80.7" height="1.5" fill="#8b1d2d"/>
<rect x="1194.2" y="1443.7" width="80.7" height="5.5" fill="#d6434a"/>
<rect x="1194.2" y="1449.2" width="80.7" height="26.5" fill="#e67b79"/>
<rect x="1194.2" y="1475.7" width="80.7" height="87.5" fill="#b0418a"/>
<rect x="1194.2" y="1563.2" width="80.7" height="104.4" fill="#e087b3"/>
<rect x="1194.2" y="1667.6" width="80.7" height="17.5" fill="#ecc0d4"/>
<rect x="1194.2" y="1685.1" width="80.7" height="3.7" fill="#1ba1dc"/>
<rect x="1194.2" y="1688.8" width="80.7" height="4.4" fill="#6cc5de"/>
<line x1="917.5" y1="1208.7" x2="917.5" y2="1693.7" stroke="#7a7a80" stroke-width="1.4"/>
<line x1="916.8" y1="1693.2" x2="1279.2" y2="1693.2" stroke="#7a7a80" stroke-width="1.6"/>
<line x1="964.6" y1="1693.2" x2="964.6" y2="1696.7" stroke="#7a7a80" stroke-width="1.4"/>
<line x1="1054.7" y1="1693.2" x2="1054.7" y2="1696.7" stroke="#7a7a80" stroke-width="1.4"/>
<line x1="1144.4" y1="1693.2" x2="1144.4" y2="1696.7" stroke="#7a7a80" stroke-width="1.4"/>
<line x1="1234.2" y1="1693.2" x2="1234.2" y2="1696.7" stroke="#7a7a80" stroke-width="1.4"/>
<text x="987.3" y="1718" font-size="25" text-anchor="end" fill="#263a8c" transform="rotate(-45 987.3 1718)">WT</text>
<text x="1079.8" y="1714.9" font-size="25" text-anchor="end" fill="#d2283c" transform="rotate(-45 1079.8 1714.9)">&#916;CARD</text>
<text x="1100.3" y="1736" font-size="25" text-anchor="end" fill="#d2283c" transform="rotate(-45 1100.3 1736)">NOD1</text>
<text x="1167.1" y="1718" font-size="25" text-anchor="end" fill="#263a8c" transform="rotate(-45 1167.1 1718)">WT</text>
<text x="1259.3" y="1714.9" font-size="25" text-anchor="end" fill="#d2283c" transform="rotate(-45 1259.3 1714.9)">&#916;CARD</text>
<text x="1279.8" y="1736" font-size="25" text-anchor="end" fill="#d2283c" transform="rotate(-45 1279.8 1736)">NOD1</text>
</g>
</svg>
</body></html>
